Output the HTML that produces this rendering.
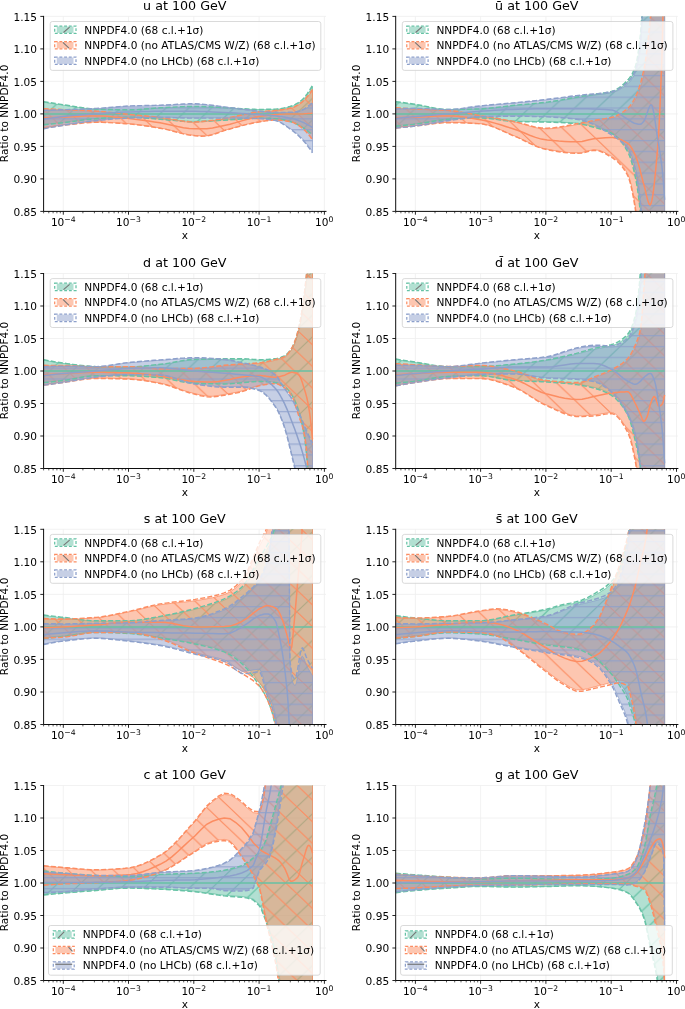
<!DOCTYPE html>
<html><head><meta charset="utf-8"><title>PDF ratios</title><style>html,body{margin:0;padding:0;background:#fff}svg{display:block}</style></head><body><div>
<svg width="685" height="1009" viewBox="0 0 685 1009" font-family="DejaVu Sans, Liberation Sans, sans-serif">
<defs>
<pattern id="h0" patternUnits="userSpaceOnUse" x="0" y="0" width="22.7" height="21.68"><path d="M-5,-53.76 L27.70,-85.00 M-5,-32.08 L27.70,-63.32 M-5,-10.40 L27.70,-41.64 M-5,11.28 L27.70,-19.96 M-5,32.96 L27.70,1.72 M-5,54.64 L27.70,23.40 M-5,76.32 L27.70,45.08" stroke="#66c2a5" stroke-width="1.12" fill="none" stroke-opacity="1"/></pattern>
<pattern id="h1" patternUnits="userSpaceOnUse" x="0" y="0" width="22.7" height="21.68"><path d="M-5,-66.82 L27.70,-35.58 M-5,-45.14 L27.70,-13.90 M-5,-23.46 L27.70,7.78 M-5,-1.78 L27.70,29.46 M-5,19.90 L27.70,51.14 M-5,41.58 L27.70,72.82 M-5,63.26 L27.70,94.50" stroke="#fc8d62" stroke-width="1.12" fill="none" stroke-opacity="1"/></pattern>
<pattern id="h2" patternUnits="userSpaceOnUse" x="0" y="0" width="22.7" height="21.68"><path d="M-1,10.54 L23.7,10.54 M-1,21.38 L23.7,21.38 M-1,-0.3 L23.7,-0.3" stroke="#8da0cb" stroke-width="1.12" fill="none" stroke-opacity="1"/></pattern>
<clipPath id="cp00"><rect x="43.6" y="16.4" width="282.4" height="195.0"/></clipPath>
<clipPath id="cp01"><rect x="395.7" y="16.4" width="282.2" height="195.0"/></clipPath>
<clipPath id="cp10"><rect x="43.6" y="273.5" width="282.4" height="195.0"/></clipPath>
<clipPath id="cp11"><rect x="395.7" y="273.5" width="282.2" height="195.0"/></clipPath>
<clipPath id="cp20"><rect x="43.6" y="529.3" width="282.4" height="195.20000000000005"/></clipPath>
<clipPath id="cp21"><rect x="395.7" y="529.3" width="282.2" height="195.20000000000005"/></clipPath>
<clipPath id="cp30"><rect x="43.6" y="785.5" width="282.4" height="195.0"/></clipPath>
<clipPath id="cp31"><rect x="395.7" y="785.5" width="282.2" height="195.0"/></clipPath>
</defs>
<rect width="685" height="1009" fill="#fff"/>
<line x1="63.3" y1="16.4" x2="63.3" y2="211.4" stroke="#efefef" stroke-width="0.8"/>
<line x1="128.5" y1="16.4" x2="128.5" y2="211.4" stroke="#efefef" stroke-width="0.8"/>
<line x1="193.8" y1="16.4" x2="193.8" y2="211.4" stroke="#efefef" stroke-width="0.8"/>
<line x1="259.1" y1="16.4" x2="259.1" y2="211.4" stroke="#efefef" stroke-width="0.8"/>
<line x1="324.4" y1="16.4" x2="324.4" y2="211.4" stroke="#efefef" stroke-width="0.8"/>
<line x1="43.6" y1="211.4" x2="326.0" y2="211.4" stroke="#efefef" stroke-width="0.8"/>
<line x1="43.6" y1="178.9" x2="326.0" y2="178.9" stroke="#efefef" stroke-width="0.8"/>
<line x1="43.6" y1="146.4" x2="326.0" y2="146.4" stroke="#efefef" stroke-width="0.8"/>
<line x1="43.6" y1="113.9" x2="326.0" y2="113.9" stroke="#efefef" stroke-width="0.8"/>
<line x1="43.6" y1="81.4" x2="326.0" y2="81.4" stroke="#efefef" stroke-width="0.8"/>
<line x1="43.6" y1="48.9" x2="326.0" y2="48.9" stroke="#efefef" stroke-width="0.8"/>
<line x1="43.6" y1="16.4" x2="326.0" y2="16.4" stroke="#efefef" stroke-width="0.8"/>
<g clip-path="url(#cp00)">
<path d="M43.7,102.2 L49.5,103.1 L55.3,104.0 L61.1,104.8 L67.0,105.7 L72.8,106.6 L78.6,107.5 L84.4,108.3 L90.3,109.0 L96.1,109.4 L101.9,109.5 L107.7,109.7 L113.5,109.8 L119.4,109.9 L125.2,110.0 L131.0,110.0 L136.8,109.8 L142.7,109.4 L148.5,108.9 L154.3,108.5 L160.1,108.1 L166.0,107.8 L171.8,107.5 L177.6,107.2 L183.4,107.0 L189.2,106.8 L195.1,106.8 L200.9,106.9 L206.7,107.1 L212.5,107.3 L218.4,107.6 L224.2,107.9 L230.0,108.2 L235.8,108.6 L241.7,108.9 L247.5,109.3 L253.3,109.5 L259.1,109.6 L260.0,109.6 L260.9,109.6 L261.8,109.6 L262.7,109.6 L263.6,109.6 L264.5,109.6 L265.5,109.6 L266.4,109.6 L267.3,109.5 L268.2,109.5 L269.1,109.5 L270.0,109.5 L270.9,109.5 L271.8,109.4 L272.7,109.4 L273.6,109.4 L274.5,109.4 L275.4,109.4 L276.3,109.3 L277.2,109.3 L278.1,109.2 L279.0,109.1 L279.9,109.0 L280.8,108.8 L281.7,108.7 L282.6,108.5 L283.5,108.4 L284.4,108.2 L285.3,108.0 L286.2,107.8 L287.2,107.6 L288.1,107.3 L289.0,107.1 L289.9,106.8 L290.8,106.6 L291.7,106.3 L292.6,106.0 L293.5,105.7 L294.4,105.3 L295.3,104.9 L296.2,104.4 L297.1,103.9 L298.0,103.4 L298.9,102.8 L299.8,102.2 L300.7,101.5 L301.6,100.9 L302.5,100.1 L303.4,99.3 L304.3,98.3 L305.2,97.3 L306.1,96.2 L307.0,95.0 L307.9,93.7 L308.8,92.4 L309.8,91.0 L310.7,89.6 L311.6,88.1 L312.5,86.6 L312.5,134.0 L311.6,133.3 L310.7,132.6 L309.8,131.8 L308.8,131.1 L307.9,130.4 L307.0,129.8 L306.1,129.1 L305.2,128.5 L304.3,127.9 L303.4,127.4 L302.5,126.8 L301.6,126.3 L300.7,125.8 L299.8,125.3 L298.9,124.8 L298.0,124.3 L297.1,123.9 L296.2,123.4 L295.3,123.0 L294.4,122.6 L293.5,122.3 L292.6,121.9 L291.7,121.7 L290.8,121.4 L289.9,121.2 L289.0,120.9 L288.1,120.7 L287.2,120.4 L286.2,120.2 L285.3,120.0 L284.4,119.7 L283.5,119.5 L282.6,119.4 L281.7,119.2 L280.8,119.0 L279.9,118.9 L279.0,118.8 L278.1,118.6 L277.2,118.6 L276.3,118.5 L275.4,118.4 L274.5,118.4 L273.6,118.4 L272.7,118.4 L271.8,118.3 L270.9,118.3 L270.0,118.3 L269.1,118.3 L268.2,118.2 L267.3,118.2 L266.4,118.2 L265.5,118.2 L264.5,118.2 L263.6,118.2 L262.7,118.1 L261.8,118.1 L260.9,118.1 L260.0,118.1 L259.1,118.1 L253.3,118.2 L247.5,118.5 L241.7,118.8 L235.8,119.2 L230.0,119.6 L224.2,119.9 L218.4,120.2 L212.5,120.6 L206.7,121.0 L200.9,121.2 L195.1,121.4 L189.2,121.3 L183.4,121.0 L177.6,120.5 L171.8,120.0 L166.0,119.5 L160.1,119.0 L154.3,118.6 L148.5,118.1 L142.7,117.7 L136.8,117.4 L131.0,117.2 L125.2,117.2 L119.4,117.3 L113.5,117.5 L107.7,117.8 L101.9,118.1 L96.1,118.4 L90.3,118.9 L84.4,119.6 L78.6,120.3 L72.8,121.1 L67.0,121.9 L61.1,122.6 L55.3,123.2 L49.5,123.8 L43.7,124.3 Z" fill="#66c2a5" fill-opacity="0.5" stroke="#66c2a5" stroke-opacity="0.85" stroke-width="0.9"/>
<path d="M43.7,102.2 L49.5,103.1 L55.3,104.0 L61.1,104.8 L67.0,105.7 L72.8,106.6 L78.6,107.5 L84.4,108.3 L90.3,109.0 L96.1,109.4 L101.9,109.5 L107.7,109.7 L113.5,109.8 L119.4,109.9 L125.2,110.0 L131.0,110.0 L136.8,109.8 L142.7,109.4 L148.5,108.9 L154.3,108.5 L160.1,108.1 L166.0,107.8 L171.8,107.5 L177.6,107.2 L183.4,107.0 L189.2,106.8 L195.1,106.8 L200.9,106.9 L206.7,107.1 L212.5,107.3 L218.4,107.6 L224.2,107.9 L230.0,108.2 L235.8,108.6 L241.7,108.9 L247.5,109.3 L253.3,109.5 L259.1,109.6 L260.0,109.6 L260.9,109.6 L261.8,109.6 L262.7,109.6 L263.6,109.6 L264.5,109.6 L265.5,109.6 L266.4,109.6 L267.3,109.5 L268.2,109.5 L269.1,109.5 L270.0,109.5 L270.9,109.5 L271.8,109.4 L272.7,109.4 L273.6,109.4 L274.5,109.4 L275.4,109.4 L276.3,109.3 L277.2,109.3 L278.1,109.2 L279.0,109.1 L279.9,109.0 L280.8,108.8 L281.7,108.7 L282.6,108.5 L283.5,108.4 L284.4,108.2 L285.3,108.0 L286.2,107.8 L287.2,107.6 L288.1,107.3 L289.0,107.1 L289.9,106.8 L290.8,106.6 L291.7,106.3 L292.6,106.0 L293.5,105.7 L294.4,105.3 L295.3,104.9 L296.2,104.4 L297.1,103.9 L298.0,103.4 L298.9,102.8 L299.8,102.2 L300.7,101.5 L301.6,100.9 L302.5,100.1 L303.4,99.3 L304.3,98.3 L305.2,97.3 L306.1,96.2 L307.0,95.0 L307.9,93.7 L308.8,92.4 L309.8,91.0 L310.7,89.6 L311.6,88.1 L312.5,86.6 L312.5,134.0 L311.6,133.3 L310.7,132.6 L309.8,131.8 L308.8,131.1 L307.9,130.4 L307.0,129.8 L306.1,129.1 L305.2,128.5 L304.3,127.9 L303.4,127.4 L302.5,126.8 L301.6,126.3 L300.7,125.8 L299.8,125.3 L298.9,124.8 L298.0,124.3 L297.1,123.9 L296.2,123.4 L295.3,123.0 L294.4,122.6 L293.5,122.3 L292.6,121.9 L291.7,121.7 L290.8,121.4 L289.9,121.2 L289.0,120.9 L288.1,120.7 L287.2,120.4 L286.2,120.2 L285.3,120.0 L284.4,119.7 L283.5,119.5 L282.6,119.4 L281.7,119.2 L280.8,119.0 L279.9,118.9 L279.0,118.8 L278.1,118.6 L277.2,118.6 L276.3,118.5 L275.4,118.4 L274.5,118.4 L273.6,118.4 L272.7,118.4 L271.8,118.3 L270.9,118.3 L270.0,118.3 L269.1,118.3 L268.2,118.2 L267.3,118.2 L266.4,118.2 L265.5,118.2 L264.5,118.2 L263.6,118.2 L262.7,118.1 L261.8,118.1 L260.9,118.1 L260.0,118.1 L259.1,118.1 L253.3,118.2 L247.5,118.5 L241.7,118.8 L235.8,119.2 L230.0,119.6 L224.2,119.9 L218.4,120.2 L212.5,120.6 L206.7,121.0 L200.9,121.2 L195.1,121.4 L189.2,121.3 L183.4,121.0 L177.6,120.5 L171.8,120.0 L166.0,119.5 L160.1,119.0 L154.3,118.6 L148.5,118.1 L142.7,117.7 L136.8,117.4 L131.0,117.2 L125.2,117.2 L119.4,117.3 L113.5,117.5 L107.7,117.8 L101.9,118.1 L96.1,118.4 L90.3,118.9 L84.4,119.6 L78.6,120.3 L72.8,121.1 L67.0,121.9 L61.1,122.6 L55.3,123.2 L49.5,123.8 L43.7,124.3 Z" fill="url(#h0)" stroke="none"/>
<path d="M43.7,109.0 L49.5,109.3 L55.3,109.6 L61.1,109.9 L67.0,110.2 L72.8,110.4 L78.6,110.6 L84.4,110.8 L90.3,111.0 L96.1,111.3 L101.9,111.7 L107.7,112.3 L113.5,112.9 L119.4,113.6 L125.2,114.2 L131.0,114.8 L136.8,115.3 L142.7,115.9 L148.5,116.5 L154.3,117.0 L160.1,117.7 L166.0,118.5 L171.8,119.5 L177.6,120.6 L183.4,121.5 L189.2,122.2 L195.1,122.3 L200.9,121.9 L206.7,121.4 L212.5,120.7 L218.4,119.8 L224.2,118.8 L230.0,117.8 L235.8,116.6 L241.7,115.2 L247.5,113.9 L253.3,112.8 L259.1,112.0 L260.0,111.9 L260.9,111.8 L261.8,111.7 L262.7,111.6 L263.6,111.5 L264.5,111.5 L265.5,111.4 L266.4,111.4 L267.3,111.3 L268.2,111.2 L269.1,111.2 L270.0,111.1 L270.9,111.1 L271.8,111.0 L272.7,110.9 L273.6,110.8 L274.5,110.7 L275.4,110.7 L276.3,110.6 L277.2,110.5 L278.1,110.4 L279.0,110.3 L279.9,110.1 L280.8,110.0 L281.7,109.9 L282.6,109.8 L283.5,109.7 L284.4,109.5 L285.3,109.4 L286.2,109.2 L287.2,109.1 L288.1,108.9 L289.0,108.7 L289.9,108.5 L290.8,108.3 L291.7,108.1 L292.6,107.8 L293.5,107.5 L294.4,107.1 L295.3,106.7 L296.2,106.3 L297.1,105.8 L298.0,105.2 L298.9,104.7 L299.8,104.1 L300.7,103.5 L301.6,102.8 L302.5,102.1 L303.4,101.4 L304.3,100.5 L305.2,99.6 L306.1,98.7 L307.0,97.6 L307.9,96.6 L308.8,95.4 L309.8,94.3 L310.7,93.1 L311.6,91.8 L312.5,90.5 L312.5,138.6 L311.6,137.4 L310.7,136.2 L309.8,135.1 L308.8,134.0 L307.9,132.9 L307.0,131.9 L306.1,130.9 L305.2,130.0 L304.3,129.2 L303.4,128.4 L302.5,127.6 L301.6,126.9 L300.7,126.3 L299.8,125.7 L298.9,125.1 L298.0,124.5 L297.1,123.9 L296.2,123.4 L295.3,123.0 L294.4,122.5 L293.5,122.2 L292.6,121.9 L291.7,121.7 L290.8,121.5 L289.9,121.3 L289.0,121.2 L288.1,121.0 L287.2,120.8 L286.2,120.7 L285.3,120.5 L284.4,120.4 L283.5,120.3 L282.6,120.2 L281.7,120.1 L280.8,120.0 L279.9,119.9 L279.0,119.9 L278.1,119.8 L277.2,119.8 L276.3,119.8 L275.4,119.8 L274.5,119.8 L273.6,119.8 L272.7,119.8 L271.8,119.9 L270.9,120.0 L270.0,120.1 L269.1,120.2 L268.2,120.3 L267.3,120.4 L266.4,120.5 L265.5,120.7 L264.5,120.8 L263.6,121.0 L262.7,121.1 L261.8,121.3 L260.9,121.4 L260.0,121.6 L259.1,121.7 L253.3,122.8 L247.5,124.1 L241.7,125.6 L235.8,127.2 L230.0,128.8 L224.2,130.4 L218.4,132.4 L212.5,134.4 L206.7,135.8 L200.9,135.9 L195.1,135.5 L189.2,134.7 L183.4,133.6 L177.6,132.1 L171.8,130.6 L166.0,129.1 L160.1,128.0 L154.3,127.0 L148.5,126.1 L142.7,125.2 L136.8,124.5 L131.0,123.8 L125.2,123.4 L119.4,123.0 L113.5,122.6 L107.7,122.3 L101.9,122.1 L96.1,122.0 L90.3,122.2 L84.4,122.6 L78.6,123.1 L72.8,123.8 L67.0,124.5 L61.1,125.2 L55.3,125.9 L49.5,126.7 L43.7,127.5 Z" fill="#fc8d62" fill-opacity="0.5" stroke="#fc8d62" stroke-opacity="0.85" stroke-width="0.9"/>
<path d="M43.7,109.0 L49.5,109.3 L55.3,109.6 L61.1,109.9 L67.0,110.2 L72.8,110.4 L78.6,110.6 L84.4,110.8 L90.3,111.0 L96.1,111.3 L101.9,111.7 L107.7,112.3 L113.5,112.9 L119.4,113.6 L125.2,114.2 L131.0,114.8 L136.8,115.3 L142.7,115.9 L148.5,116.5 L154.3,117.0 L160.1,117.7 L166.0,118.5 L171.8,119.5 L177.6,120.6 L183.4,121.5 L189.2,122.2 L195.1,122.3 L200.9,121.9 L206.7,121.4 L212.5,120.7 L218.4,119.8 L224.2,118.8 L230.0,117.8 L235.8,116.6 L241.7,115.2 L247.5,113.9 L253.3,112.8 L259.1,112.0 L260.0,111.9 L260.9,111.8 L261.8,111.7 L262.7,111.6 L263.6,111.5 L264.5,111.5 L265.5,111.4 L266.4,111.4 L267.3,111.3 L268.2,111.2 L269.1,111.2 L270.0,111.1 L270.9,111.1 L271.8,111.0 L272.7,110.9 L273.6,110.8 L274.5,110.7 L275.4,110.7 L276.3,110.6 L277.2,110.5 L278.1,110.4 L279.0,110.3 L279.9,110.1 L280.8,110.0 L281.7,109.9 L282.6,109.8 L283.5,109.7 L284.4,109.5 L285.3,109.4 L286.2,109.2 L287.2,109.1 L288.1,108.9 L289.0,108.7 L289.9,108.5 L290.8,108.3 L291.7,108.1 L292.6,107.8 L293.5,107.5 L294.4,107.1 L295.3,106.7 L296.2,106.3 L297.1,105.8 L298.0,105.2 L298.9,104.7 L299.8,104.1 L300.7,103.5 L301.6,102.8 L302.5,102.1 L303.4,101.4 L304.3,100.5 L305.2,99.6 L306.1,98.7 L307.0,97.6 L307.9,96.6 L308.8,95.4 L309.8,94.3 L310.7,93.1 L311.6,91.8 L312.5,90.5 L312.5,138.6 L311.6,137.4 L310.7,136.2 L309.8,135.1 L308.8,134.0 L307.9,132.9 L307.0,131.9 L306.1,130.9 L305.2,130.0 L304.3,129.2 L303.4,128.4 L302.5,127.6 L301.6,126.9 L300.7,126.3 L299.8,125.7 L298.9,125.1 L298.0,124.5 L297.1,123.9 L296.2,123.4 L295.3,123.0 L294.4,122.5 L293.5,122.2 L292.6,121.9 L291.7,121.7 L290.8,121.5 L289.9,121.3 L289.0,121.2 L288.1,121.0 L287.2,120.8 L286.2,120.7 L285.3,120.5 L284.4,120.4 L283.5,120.3 L282.6,120.2 L281.7,120.1 L280.8,120.0 L279.9,119.9 L279.0,119.9 L278.1,119.8 L277.2,119.8 L276.3,119.8 L275.4,119.8 L274.5,119.8 L273.6,119.8 L272.7,119.8 L271.8,119.9 L270.9,120.0 L270.0,120.1 L269.1,120.2 L268.2,120.3 L267.3,120.4 L266.4,120.5 L265.5,120.7 L264.5,120.8 L263.6,121.0 L262.7,121.1 L261.8,121.3 L260.9,121.4 L260.0,121.6 L259.1,121.7 L253.3,122.8 L247.5,124.1 L241.7,125.6 L235.8,127.2 L230.0,128.8 L224.2,130.4 L218.4,132.4 L212.5,134.4 L206.7,135.8 L200.9,135.9 L195.1,135.5 L189.2,134.7 L183.4,133.6 L177.6,132.1 L171.8,130.6 L166.0,129.1 L160.1,128.0 L154.3,127.0 L148.5,126.1 L142.7,125.2 L136.8,124.5 L131.0,123.8 L125.2,123.4 L119.4,123.0 L113.5,122.6 L107.7,122.3 L101.9,122.1 L96.1,122.0 L90.3,122.2 L84.4,122.6 L78.6,123.1 L72.8,123.8 L67.0,124.5 L61.1,125.2 L55.3,125.9 L49.5,126.7 L43.7,127.5 Z" fill="url(#h1)" stroke="none"/>
<path d="M43.7,110.7 L49.5,110.5 L55.3,110.3 L61.1,110.1 L67.0,109.9 L72.8,109.7 L78.6,109.5 L84.4,109.2 L90.3,109.0 L96.1,108.7 L101.9,108.3 L107.7,107.8 L113.5,107.3 L119.4,106.8 L125.2,106.5 L131.0,106.2 L136.8,106.0 L142.7,105.9 L148.5,105.8 L154.3,105.6 L160.1,105.5 L166.0,105.3 L171.8,105.0 L177.6,104.7 L183.4,104.4 L189.2,104.2 L195.1,104.2 L200.9,104.4 L206.7,104.9 L212.5,105.6 L218.4,106.4 L224.2,107.1 L230.0,107.8 L235.8,108.5 L241.7,109.3 L247.5,110.0 L253.3,110.7 L259.1,111.3 L260.0,111.4 L260.9,111.5 L261.8,111.6 L262.7,111.7 L263.6,111.8 L264.5,111.9 L265.5,112.0 L266.4,112.0 L267.3,112.1 L268.2,112.2 L269.1,112.3 L270.0,112.4 L270.9,112.4 L271.8,112.5 L272.7,112.5 L273.6,112.6 L274.5,112.6 L275.4,112.6 L276.3,112.6 L277.2,112.6 L278.1,112.6 L279.0,112.6 L279.9,112.6 L280.8,112.6 L281.7,112.6 L282.6,112.6 L283.5,112.6 L284.4,112.6 L285.3,112.6 L286.2,112.6 L287.2,112.6 L288.1,112.6 L289.0,112.6 L289.9,112.6 L290.8,112.6 L291.7,112.6 L292.6,112.6 L293.5,112.5 L294.4,112.4 L295.3,112.3 L296.2,112.1 L297.1,111.9 L298.0,111.7 L298.9,111.4 L299.8,111.2 L300.7,110.9 L301.6,110.6 L302.5,110.3 L303.4,109.9 L304.3,109.5 L305.2,109.0 L306.1,108.5 L307.0,107.9 L307.9,107.2 L308.8,106.5 L309.8,105.8 L310.7,105.1 L311.6,104.3 L312.5,103.5 L312.5,151.6 L311.6,150.3 L310.7,149.0 L309.8,147.7 L308.8,146.5 L307.9,145.3 L307.0,144.2 L306.1,143.1 L305.2,142.0 L304.3,140.9 L303.4,139.9 L302.5,138.9 L301.6,138.0 L300.7,137.1 L299.8,136.2 L298.9,135.4 L298.0,134.6 L297.1,133.8 L296.2,133.0 L295.3,132.3 L294.4,131.6 L293.5,130.9 L292.6,130.3 L291.7,129.6 L290.8,129.0 L289.9,128.4 L289.0,127.7 L288.1,127.1 L287.2,126.4 L286.2,125.8 L285.3,125.2 L284.4,124.6 L283.5,124.0 L282.6,123.4 L281.7,122.9 L280.8,122.4 L279.9,122.0 L279.0,121.5 L278.1,121.2 L277.2,120.9 L276.3,120.6 L275.4,120.4 L274.5,120.2 L273.6,120.0 L272.7,119.9 L271.8,119.7 L270.9,119.6 L270.0,119.5 L269.1,119.3 L268.2,119.2 L267.3,119.1 L266.4,119.0 L265.5,118.9 L264.5,118.8 L263.6,118.7 L262.7,118.7 L261.8,118.6 L260.9,118.5 L260.0,118.5 L259.1,118.4 L253.3,118.2 L247.5,118.1 L241.7,118.0 L235.8,117.9 L230.0,117.8 L224.2,117.8 L218.4,117.8 L212.5,117.8 L206.7,117.8 L200.9,117.8 L195.1,117.8 L189.2,117.8 L183.4,117.6 L177.6,117.5 L171.8,117.3 L166.0,117.2 L160.1,117.2 L154.3,117.2 L148.5,117.3 L142.7,117.4 L136.8,117.5 L131.0,117.7 L125.2,117.9 L119.4,118.3 L113.5,118.7 L107.7,119.2 L101.9,119.8 L96.1,120.4 L90.3,121.0 L84.4,121.8 L78.6,122.6 L72.8,123.5 L67.0,124.4 L61.1,125.3 L55.3,126.2 L49.5,127.2 L43.7,128.2 Z" fill="#8da0cb" fill-opacity="0.5" stroke="#8da0cb" stroke-opacity="0.85" stroke-width="0.9"/>
<path d="M43.7,110.7 L49.5,110.5 L55.3,110.3 L61.1,110.1 L67.0,109.9 L72.8,109.7 L78.6,109.5 L84.4,109.2 L90.3,109.0 L96.1,108.7 L101.9,108.3 L107.7,107.8 L113.5,107.3 L119.4,106.8 L125.2,106.5 L131.0,106.2 L136.8,106.0 L142.7,105.9 L148.5,105.8 L154.3,105.6 L160.1,105.5 L166.0,105.3 L171.8,105.0 L177.6,104.7 L183.4,104.4 L189.2,104.2 L195.1,104.2 L200.9,104.4 L206.7,104.9 L212.5,105.6 L218.4,106.4 L224.2,107.1 L230.0,107.8 L235.8,108.5 L241.7,109.3 L247.5,110.0 L253.3,110.7 L259.1,111.3 L260.0,111.4 L260.9,111.5 L261.8,111.6 L262.7,111.7 L263.6,111.8 L264.5,111.9 L265.5,112.0 L266.4,112.0 L267.3,112.1 L268.2,112.2 L269.1,112.3 L270.0,112.4 L270.9,112.4 L271.8,112.5 L272.7,112.5 L273.6,112.6 L274.5,112.6 L275.4,112.6 L276.3,112.6 L277.2,112.6 L278.1,112.6 L279.0,112.6 L279.9,112.6 L280.8,112.6 L281.7,112.6 L282.6,112.6 L283.5,112.6 L284.4,112.6 L285.3,112.6 L286.2,112.6 L287.2,112.6 L288.1,112.6 L289.0,112.6 L289.9,112.6 L290.8,112.6 L291.7,112.6 L292.6,112.6 L293.5,112.5 L294.4,112.4 L295.3,112.3 L296.2,112.1 L297.1,111.9 L298.0,111.7 L298.9,111.4 L299.8,111.2 L300.7,110.9 L301.6,110.6 L302.5,110.3 L303.4,109.9 L304.3,109.5 L305.2,109.0 L306.1,108.5 L307.0,107.9 L307.9,107.2 L308.8,106.5 L309.8,105.8 L310.7,105.1 L311.6,104.3 L312.5,103.5 L312.5,151.6 L311.6,150.3 L310.7,149.0 L309.8,147.7 L308.8,146.5 L307.9,145.3 L307.0,144.2 L306.1,143.1 L305.2,142.0 L304.3,140.9 L303.4,139.9 L302.5,138.9 L301.6,138.0 L300.7,137.1 L299.8,136.2 L298.9,135.4 L298.0,134.6 L297.1,133.8 L296.2,133.0 L295.3,132.3 L294.4,131.6 L293.5,130.9 L292.6,130.3 L291.7,129.6 L290.8,129.0 L289.9,128.4 L289.0,127.7 L288.1,127.1 L287.2,126.4 L286.2,125.8 L285.3,125.2 L284.4,124.6 L283.5,124.0 L282.6,123.4 L281.7,122.9 L280.8,122.4 L279.9,122.0 L279.0,121.5 L278.1,121.2 L277.2,120.9 L276.3,120.6 L275.4,120.4 L274.5,120.2 L273.6,120.0 L272.7,119.9 L271.8,119.7 L270.9,119.6 L270.0,119.5 L269.1,119.3 L268.2,119.2 L267.3,119.1 L266.4,119.0 L265.5,118.9 L264.5,118.8 L263.6,118.7 L262.7,118.7 L261.8,118.6 L260.9,118.5 L260.0,118.5 L259.1,118.4 L253.3,118.2 L247.5,118.1 L241.7,118.0 L235.8,117.9 L230.0,117.8 L224.2,117.8 L218.4,117.8 L212.5,117.8 L206.7,117.8 L200.9,117.8 L195.1,117.8 L189.2,117.8 L183.4,117.6 L177.6,117.5 L171.8,117.3 L166.0,117.2 L160.1,117.2 L154.3,117.2 L148.5,117.3 L142.7,117.4 L136.8,117.5 L131.0,117.7 L125.2,117.9 L119.4,118.3 L113.5,118.7 L107.7,119.2 L101.9,119.8 L96.1,120.4 L90.3,121.0 L84.4,121.8 L78.6,122.6 L72.8,123.5 L67.0,124.4 L61.1,125.3 L55.3,126.2 L49.5,127.2 L43.7,128.2 Z" fill="url(#h2)" stroke="none"/>
<path d="M43.7,113.9 L49.5,113.9 L55.3,113.9 L61.1,113.9 L67.0,113.9 L72.8,113.9 L78.6,113.9 L84.4,113.9 L90.3,113.9 L96.1,113.9 L101.9,113.9 L107.7,113.9 L113.5,113.9 L119.4,113.9 L125.2,113.9 L131.0,113.9 L136.8,113.9 L142.7,113.9 L148.5,113.9 L154.3,113.9 L160.1,113.9 L166.0,113.9 L171.8,113.9 L177.6,113.9 L183.4,113.9 L189.2,113.9 L195.1,113.9 L200.9,113.9 L206.7,113.9 L212.5,113.9 L218.4,113.9 L224.2,113.9 L230.0,113.9 L235.8,113.9 L241.7,113.9 L247.5,113.9 L253.3,113.9 L259.1,113.9 L260.0,113.9 L260.9,113.9 L261.8,113.9 L262.7,113.9 L263.6,113.9 L264.5,113.9 L265.5,113.9 L266.4,113.9 L267.3,113.9 L268.2,113.9 L269.1,113.9 L270.0,113.9 L270.9,113.9 L271.8,113.9 L272.7,113.9 L273.6,113.9 L274.5,113.9 L275.4,113.9 L276.3,113.9 L277.2,113.9 L278.1,113.9 L279.0,113.9 L279.9,113.9 L280.8,113.9 L281.7,113.9 L282.6,113.9 L283.5,113.9 L284.4,113.9 L285.3,113.9 L286.2,113.9 L287.2,113.9 L288.1,113.9 L289.0,113.9 L289.9,113.9 L290.8,113.9 L291.7,113.9 L292.6,113.9 L293.5,113.9 L294.4,113.9 L295.3,113.9 L296.2,113.9 L297.1,113.9 L298.0,113.9 L298.9,113.9 L299.8,113.9 L300.7,113.9 L301.6,113.9 L302.5,113.9 L303.4,113.9 L304.3,113.9 L305.2,113.9 L306.1,113.9 L307.0,113.9 L307.9,113.9 L308.8,113.9 L309.8,113.9 L310.7,113.9 L311.6,113.9 L312.5,113.9" fill="none" stroke="#66c2a5" stroke-width="1.5"/>
<path d="M43.7,101.6 L49.5,102.6 L55.3,103.5 L61.1,104.4 L67.0,105.3 L72.8,106.2 L78.6,107.2 L84.4,108.1 L90.3,108.7 L96.1,109.1 L101.9,109.3 L107.7,109.5 L113.5,109.6 L119.4,109.7 L125.2,109.8 L131.0,109.8 L136.8,109.6 L142.7,109.2 L148.5,108.7 L154.3,108.2 L160.1,107.8 L166.0,107.5 L171.8,107.2 L177.6,106.9 L183.4,106.6 L189.2,106.4 L195.1,106.4 L200.9,106.5 L206.7,106.7 L212.5,107.0 L218.4,107.3 L224.2,107.6 L230.0,107.9 L235.8,108.3 L241.7,108.7 L247.5,109.0 L253.3,109.3 L259.1,109.4 L260.0,109.4 L260.9,109.4 L261.8,109.4 L262.7,109.4 L263.6,109.4 L264.5,109.4 L265.5,109.4 L266.4,109.3 L267.3,109.3 L268.2,109.3 L269.1,109.3 L270.0,109.3 L270.9,109.2 L271.8,109.2 L272.7,109.2 L273.6,109.2 L274.5,109.2 L275.4,109.1 L276.3,109.1 L277.2,109.0 L278.1,108.9 L279.0,108.8 L279.9,108.7 L280.8,108.6 L281.7,108.4 L282.6,108.3 L283.5,108.1 L284.4,107.9 L285.3,107.7 L286.2,107.5 L287.2,107.2 L288.1,107.0 L289.0,106.7 L289.9,106.5 L290.8,106.2 L291.7,105.9 L292.6,105.6 L293.5,105.3 L294.4,104.9 L295.3,104.5 L296.2,104.0 L297.1,103.4 L298.0,102.9 L298.9,102.3 L299.8,101.6 L300.7,100.9 L301.6,100.2 L302.5,99.4 L303.4,98.5 L304.3,97.5 L305.2,96.5 L306.1,95.3 L307.0,94.1 L307.9,92.7 L308.8,91.4 L309.8,89.9 L310.7,88.4 L311.6,86.8 L312.5,85.2" fill="none" stroke="#66c2a5" stroke-width="1.45" stroke-dasharray="5 2.2"/>
<path d="M43.7,124.8 L49.5,124.2 L55.3,123.6 L61.1,123.0 L67.0,122.3 L72.8,121.5 L78.6,120.7 L84.4,119.8 L90.3,119.2 L96.1,118.7 L101.9,118.3 L107.7,118.0 L113.5,117.7 L119.4,117.5 L125.2,117.3 L131.0,117.3 L136.8,117.5 L142.7,117.9 L148.5,118.4 L154.3,118.8 L160.1,119.3 L166.0,119.7 L171.8,120.3 L177.6,120.8 L183.4,121.3 L189.2,121.7 L195.1,121.7 L200.9,121.6 L206.7,121.3 L212.5,120.9 L218.4,120.5 L224.2,120.2 L230.0,119.8 L235.8,119.5 L241.7,119.1 L247.5,118.7 L253.3,118.4 L259.1,118.3 L260.0,118.3 L260.9,118.3 L261.8,118.3 L262.7,118.4 L263.6,118.4 L264.5,118.4 L265.5,118.4 L266.4,118.4 L267.3,118.4 L268.2,118.4 L269.1,118.5 L270.0,118.5 L270.9,118.5 L271.8,118.5 L272.7,118.6 L273.6,118.6 L274.5,118.6 L275.4,118.7 L276.3,118.7 L277.2,118.8 L278.1,118.9 L279.0,119.0 L279.9,119.1 L280.8,119.3 L281.7,119.4 L282.6,119.6 L283.5,119.8 L284.4,120.0 L285.3,120.3 L286.2,120.5 L287.2,120.7 L288.1,121.0 L289.0,121.3 L289.9,121.5 L290.8,121.8 L291.7,122.1 L292.6,122.4 L293.5,122.7 L294.4,123.1 L295.3,123.5 L296.2,123.9 L297.1,124.3 L298.0,124.8 L298.9,125.3 L299.8,125.8 L300.7,126.4 L301.6,126.9 L302.5,127.4 L303.4,128.0 L304.3,128.6 L305.2,129.2 L306.1,129.9 L307.0,130.6 L307.9,131.3 L308.8,132.0 L309.8,132.7 L310.7,133.5 L311.6,134.3 L312.5,135.1" fill="none" stroke="#66c2a5" stroke-width="1.45" stroke-dasharray="5 2.2"/>
<path d="M43.7,117.8 L49.5,117.6 L55.3,117.4 L61.1,117.2 L67.0,117.0 L72.8,116.7 L78.6,116.4 L84.4,116.1 L90.3,115.9 L96.1,115.9 L101.9,116.0 L107.7,116.3 L113.5,116.9 L119.4,117.5 L125.2,118.1 L131.0,118.7 L136.8,119.4 L142.7,120.2 L148.5,121.0 L154.3,121.9 L160.1,122.8 L166.0,123.9 L171.8,125.2 L177.6,126.6 L183.4,127.8 L189.2,128.6 L195.1,128.8 L200.9,128.8 L206.7,128.7 L212.5,128.0 L218.4,126.8 L224.2,125.4 L230.0,124.2 L235.8,122.6 L241.7,120.9 L247.5,119.2 L253.3,117.7 L259.1,116.5 L260.0,116.4 L260.9,116.2 L261.8,116.1 L262.7,115.9 L263.6,115.8 L264.5,115.7 L265.5,115.6 L266.4,115.4 L267.3,115.3 L268.2,115.2 L269.1,115.1 L270.0,115.0 L270.9,114.9 L271.8,114.8 L272.7,114.8 L273.6,114.7 L274.5,114.6 L275.4,114.6 L276.3,114.5 L277.2,114.4 L278.1,114.4 L279.0,114.3 L279.9,114.3 L280.8,114.2 L281.7,114.2 L282.6,114.1 L283.5,114.1 L284.4,114.1 L285.3,114.0 L286.2,114.0 L287.2,114.0 L288.1,113.9 L289.0,113.9 L289.9,113.9 L290.8,113.9 L291.7,113.9 L292.6,113.9 L293.5,113.9 L294.4,113.9 L295.3,113.9 L296.2,113.9 L297.1,113.9 L298.0,113.9 L298.9,113.9 L299.8,113.9 L300.7,113.9 L301.6,113.9 L302.5,113.9 L303.4,113.9 L304.3,113.8 L305.2,113.8 L306.1,113.8 L307.0,113.7 L307.9,113.6 L308.8,113.6 L309.8,113.5 L310.7,113.4 L311.6,113.3 L312.5,113.3" fill="none" stroke="#fc8d62" stroke-width="1.5"/>
<path d="M43.7,108.6 L49.5,108.9 L55.3,109.2 L61.1,109.5 L67.0,109.8 L72.8,110.1 L78.6,110.3 L84.4,110.5 L90.3,110.8 L96.1,111.1 L101.9,111.5 L107.7,112.1 L113.5,112.7 L119.4,113.4 L125.2,114.0 L131.0,114.6 L136.8,115.1 L142.7,115.7 L148.5,116.2 L154.3,116.8 L160.1,117.4 L166.0,118.2 L171.8,119.2 L177.6,120.3 L183.4,121.2 L189.2,121.8 L195.1,122.0 L200.9,121.6 L206.7,121.0 L212.5,120.3 L218.4,119.4 L224.2,118.5 L230.0,117.5 L235.8,116.3 L241.7,115.0 L247.5,113.7 L253.3,112.5 L259.1,111.7 L260.0,111.6 L260.9,111.5 L261.8,111.5 L262.7,111.4 L263.6,111.3 L264.5,111.3 L265.5,111.2 L266.4,111.2 L267.3,111.1 L268.2,111.0 L269.1,111.0 L270.0,110.9 L270.9,110.9 L271.8,110.8 L272.7,110.7 L273.6,110.6 L274.5,110.6 L275.4,110.5 L276.3,110.4 L277.2,110.3 L278.1,110.2 L279.0,110.1 L279.9,109.9 L280.8,109.8 L281.7,109.7 L282.6,109.6 L283.5,109.4 L284.4,109.3 L285.3,109.2 L286.2,109.0 L287.2,108.8 L288.1,108.6 L289.0,108.4 L289.9,108.2 L290.8,108.0 L291.7,107.8 L292.6,107.5 L293.5,107.2 L294.4,106.8 L295.3,106.4 L296.2,105.9 L297.1,105.4 L298.0,104.8 L298.9,104.2 L299.8,103.6 L300.7,102.9 L301.6,102.3 L302.5,101.5 L303.4,100.7 L304.3,99.9 L305.2,98.9 L306.1,97.9 L307.0,96.8 L307.9,95.7 L308.8,94.5 L309.8,93.3 L310.7,92.0 L311.6,90.7 L312.5,89.4" fill="none" stroke="#fc8d62" stroke-width="1.45" stroke-dasharray="5 2.2"/>
<path d="M43.7,128.0 L49.5,127.2 L55.3,126.3 L61.1,125.6 L67.0,124.9 L72.8,124.2 L78.6,123.5 L84.4,122.9 L90.3,122.5 L96.1,122.3 L101.9,122.4 L107.7,122.6 L113.5,122.9 L119.4,123.3 L125.2,123.7 L131.0,124.1 L136.8,124.7 L142.7,125.5 L148.5,126.3 L154.3,127.3 L160.1,128.3 L166.0,129.4 L171.8,130.8 L177.6,132.4 L183.4,133.9 L189.2,135.1 L195.1,135.8 L200.9,136.3 L206.7,136.1 L212.5,134.7 L218.4,132.7 L224.2,130.6 L230.0,129.0 L235.8,127.4 L241.7,125.8 L247.5,124.3 L253.3,123.0 L259.1,122.0 L260.0,121.8 L260.9,121.7 L261.8,121.5 L262.7,121.4 L263.6,121.2 L264.5,121.1 L265.5,120.9 L266.4,120.8 L267.3,120.7 L268.2,120.5 L269.1,120.4 L270.0,120.3 L270.9,120.2 L271.8,120.2 L272.7,120.1 L273.6,120.0 L274.5,120.0 L275.4,120.0 L276.3,120.0 L277.2,120.0 L278.1,120.1 L279.0,120.1 L279.9,120.2 L280.8,120.3 L281.7,120.4 L282.6,120.5 L283.5,120.6 L284.4,120.7 L285.3,120.9 L286.2,121.0 L287.2,121.2 L288.1,121.3 L289.0,121.5 L289.9,121.7 L290.8,121.9 L291.7,122.1 L292.6,122.3 L293.5,122.6 L294.4,123.0 L295.3,123.4 L296.2,123.9 L297.1,124.4 L298.0,125.0 L298.9,125.6 L299.8,126.3 L300.7,126.9 L301.6,127.6 L302.5,128.3 L303.4,129.1 L304.3,129.9 L305.2,130.8 L306.1,131.8 L307.0,132.8 L307.9,133.9 L308.8,135.0 L309.8,136.1 L310.7,137.3 L311.6,138.6 L312.5,139.9" fill="none" stroke="#fc8d62" stroke-width="1.45" stroke-dasharray="5 2.2"/>
<path d="M43.7,119.1 L49.5,118.2 L55.3,117.4 L61.1,116.7 L67.0,116.1 L72.8,115.6 L78.6,115.1 L84.4,114.7 L90.3,114.3 L96.1,113.9 L101.9,113.5 L107.7,113.1 L113.5,112.7 L119.4,112.3 L125.2,112.1 L131.0,111.9 L136.8,111.7 L142.7,111.6 L148.5,111.4 L154.3,111.3 L160.1,111.3 L166.0,111.3 L171.8,111.3 L177.6,111.3 L183.4,111.3 L189.2,111.3 L195.1,111.3 L200.9,111.4 L206.7,111.6 L212.5,111.9 L218.4,112.2 L224.2,112.5 L230.0,112.8 L235.8,113.1 L241.7,113.4 L247.5,113.8 L253.3,114.2 L259.1,114.5 L260.0,114.6 L260.9,114.7 L261.8,114.7 L262.7,114.8 L263.6,114.9 L264.5,114.9 L265.5,115.0 L266.4,115.1 L267.3,115.1 L268.2,115.2 L269.1,115.3 L270.0,115.3 L270.9,115.4 L271.8,115.5 L272.7,115.6 L273.6,115.7 L274.5,115.8 L275.4,115.8 L276.3,115.9 L277.2,116.0 L278.1,116.2 L279.0,116.3 L279.9,116.4 L280.8,116.5 L281.7,116.6 L282.6,116.8 L283.5,116.9 L284.4,117.0 L285.3,117.2 L286.2,117.4 L287.2,117.5 L288.1,117.7 L289.0,117.9 L289.9,118.0 L290.8,118.2 L291.7,118.4 L292.6,118.6 L293.5,118.9 L294.4,119.1 L295.3,119.4 L296.2,119.7 L297.1,120.0 L298.0,120.3 L298.9,120.7 L299.8,121.0 L300.7,121.4 L301.6,121.7 L302.5,122.1 L303.4,122.5 L304.3,122.9 L305.2,123.4 L306.1,123.8 L307.0,124.3 L307.9,124.8 L308.8,125.3 L309.8,125.9 L310.7,126.4 L311.6,127.0 L312.5,127.5" fill="none" stroke="#8da0cb" stroke-width="1.5"/>
<path d="M43.7,110.2 L49.5,110.1 L55.3,109.9 L61.1,109.7 L67.0,109.6 L72.8,109.4 L78.6,109.2 L84.4,109.0 L90.3,108.7 L96.1,108.4 L101.9,108.1 L107.7,107.6 L113.5,107.1 L119.4,106.6 L125.2,106.2 L131.0,105.9 L136.8,105.7 L142.7,105.6 L148.5,105.5 L154.3,105.4 L160.1,105.2 L166.0,105.0 L171.8,104.7 L177.6,104.3 L183.4,104.0 L189.2,103.8 L195.1,103.8 L200.9,104.1 L206.7,104.6 L212.5,105.3 L218.4,106.1 L224.2,106.9 L230.0,107.6 L235.8,108.3 L241.7,109.1 L247.5,109.8 L253.3,110.5 L259.1,111.1 L260.0,111.2 L260.9,111.3 L261.8,111.4 L262.7,111.5 L263.6,111.6 L264.5,111.7 L265.5,111.8 L266.4,111.9 L267.3,112.0 L268.2,112.1 L269.1,112.2 L270.0,112.2 L270.9,112.3 L271.8,112.3 L272.7,112.4 L273.6,112.4 L274.5,112.4 L275.4,112.4 L276.3,112.4 L277.2,112.4 L278.1,112.4 L279.0,112.4 L279.9,112.4 L280.8,112.4 L281.7,112.4 L282.6,112.4 L283.5,112.4 L284.4,112.4 L285.3,112.4 L286.2,112.4 L287.2,112.4 L288.1,112.3 L289.0,112.3 L289.9,112.3 L290.8,112.3 L291.7,112.3 L292.6,112.3 L293.5,112.2 L294.4,112.1 L295.3,111.9 L296.2,111.7 L297.1,111.5 L298.0,111.2 L298.9,111.0 L299.8,110.7 L300.7,110.4 L301.6,110.1 L302.5,109.7 L303.4,109.3 L304.3,108.8 L305.2,108.3 L306.1,107.7 L307.0,107.0 L307.9,106.3 L308.8,105.6 L309.8,104.8 L310.7,104.0 L311.6,103.2 L312.5,102.3" fill="none" stroke="#8da0cb" stroke-width="1.45" stroke-dasharray="5 2.2"/>
<path d="M43.7,128.7 L49.5,127.6 L55.3,126.7 L61.1,125.7 L67.0,124.8 L72.8,123.9 L78.6,123.0 L84.4,122.1 L90.3,121.4 L96.1,120.7 L101.9,120.1 L107.7,119.5 L113.5,119.0 L119.4,118.6 L125.2,118.2 L131.0,118.0 L136.8,117.8 L142.7,117.7 L148.5,117.6 L154.3,117.5 L160.1,117.4 L166.0,117.5 L171.8,117.6 L177.6,117.8 L183.4,118.0 L189.2,118.1 L195.1,118.1 L200.9,118.1 L206.7,118.1 L212.5,118.1 L218.4,118.1 L224.2,118.1 L230.0,118.1 L235.8,118.1 L241.7,118.2 L247.5,118.3 L253.3,118.5 L259.1,118.6 L260.0,118.7 L260.9,118.7 L261.8,118.8 L262.7,118.8 L263.6,118.9 L264.5,119.0 L265.5,119.1 L266.4,119.2 L267.3,119.3 L268.2,119.4 L269.1,119.5 L270.0,119.7 L270.9,119.8 L271.8,119.9 L272.7,120.1 L273.6,120.3 L274.5,120.4 L275.4,120.6 L276.3,120.8 L277.2,121.1 L278.1,121.4 L279.0,121.8 L279.9,122.2 L280.8,122.7 L281.7,123.2 L282.6,123.8 L283.5,124.3 L284.4,125.0 L285.3,125.6 L286.2,126.2 L287.2,126.9 L288.1,127.5 L289.0,128.2 L289.9,128.9 L290.8,129.5 L291.7,130.2 L292.6,130.8 L293.5,131.5 L294.4,132.2 L295.3,133.0 L296.2,133.7 L297.1,134.5 L298.0,135.3 L298.9,136.1 L299.8,137.0 L300.7,137.9 L301.6,138.8 L302.5,139.8 L303.4,140.8 L304.3,141.8 L305.2,142.9 L306.1,144.0 L307.0,145.2 L307.9,146.4 L308.8,147.6 L309.8,148.8 L310.7,150.1 L311.6,151.5 L312.5,152.8" fill="none" stroke="#8da0cb" stroke-width="1.45" stroke-dasharray="5 2.2"/>
</g>
<path d="M43.6,16.4 L43.6,211.4 L326.0,211.4" fill="none" stroke="#000" stroke-width="0.95" stroke-linecap="square"/>
<line x1="40.300000000000004" y1="211.4" x2="43.6" y2="211.4" stroke="#000" stroke-width="0.85"/>
<line x1="40.300000000000004" y1="178.9" x2="43.6" y2="178.9" stroke="#000" stroke-width="0.85"/>
<line x1="40.300000000000004" y1="146.4" x2="43.6" y2="146.4" stroke="#000" stroke-width="0.85"/>
<line x1="40.300000000000004" y1="113.9" x2="43.6" y2="113.9" stroke="#000" stroke-width="0.85"/>
<line x1="40.300000000000004" y1="81.4" x2="43.6" y2="81.4" stroke="#000" stroke-width="0.85"/>
<line x1="40.300000000000004" y1="48.9" x2="43.6" y2="48.9" stroke="#000" stroke-width="0.85"/>
<line x1="40.300000000000004" y1="16.4" x2="43.6" y2="16.4" stroke="#000" stroke-width="0.85"/>
<line x1="43.6" y1="211.4" x2="43.6" y2="213.3" stroke="#000" stroke-width="0.65"/>
<line x1="48.8" y1="211.4" x2="48.8" y2="213.3" stroke="#000" stroke-width="0.65"/>
<line x1="53.1" y1="211.4" x2="53.1" y2="213.3" stroke="#000" stroke-width="0.65"/>
<line x1="56.9" y1="211.4" x2="56.9" y2="213.3" stroke="#000" stroke-width="0.65"/>
<line x1="60.3" y1="211.4" x2="60.3" y2="213.3" stroke="#000" stroke-width="0.65"/>
<line x1="63.3" y1="211.4" x2="63.3" y2="214.70000000000002" stroke="#000" stroke-width="0.85"/>
<line x1="82.9" y1="211.4" x2="82.9" y2="213.3" stroke="#000" stroke-width="0.65"/>
<line x1="94.4" y1="211.4" x2="94.4" y2="213.3" stroke="#000" stroke-width="0.65"/>
<line x1="102.6" y1="211.4" x2="102.6" y2="213.3" stroke="#000" stroke-width="0.65"/>
<line x1="108.9" y1="211.4" x2="108.9" y2="213.3" stroke="#000" stroke-width="0.65"/>
<line x1="114.1" y1="211.4" x2="114.1" y2="213.3" stroke="#000" stroke-width="0.65"/>
<line x1="118.4" y1="211.4" x2="118.4" y2="213.3" stroke="#000" stroke-width="0.65"/>
<line x1="122.2" y1="211.4" x2="122.2" y2="213.3" stroke="#000" stroke-width="0.65"/>
<line x1="125.6" y1="211.4" x2="125.6" y2="213.3" stroke="#000" stroke-width="0.65"/>
<line x1="128.5" y1="211.4" x2="128.5" y2="214.70000000000002" stroke="#000" stroke-width="0.85"/>
<line x1="148.2" y1="211.4" x2="148.2" y2="213.3" stroke="#000" stroke-width="0.65"/>
<line x1="159.7" y1="211.4" x2="159.7" y2="213.3" stroke="#000" stroke-width="0.65"/>
<line x1="167.9" y1="211.4" x2="167.9" y2="213.3" stroke="#000" stroke-width="0.65"/>
<line x1="174.2" y1="211.4" x2="174.2" y2="213.3" stroke="#000" stroke-width="0.65"/>
<line x1="179.3" y1="211.4" x2="179.3" y2="213.3" stroke="#000" stroke-width="0.65"/>
<line x1="183.7" y1="211.4" x2="183.7" y2="213.3" stroke="#000" stroke-width="0.65"/>
<line x1="187.5" y1="211.4" x2="187.5" y2="213.3" stroke="#000" stroke-width="0.65"/>
<line x1="190.8" y1="211.4" x2="190.8" y2="213.3" stroke="#000" stroke-width="0.65"/>
<line x1="193.8" y1="211.4" x2="193.8" y2="214.70000000000002" stroke="#000" stroke-width="0.85"/>
<line x1="213.5" y1="211.4" x2="213.5" y2="213.3" stroke="#000" stroke-width="0.65"/>
<line x1="225.0" y1="211.4" x2="225.0" y2="213.3" stroke="#000" stroke-width="0.65"/>
<line x1="233.1" y1="211.4" x2="233.1" y2="213.3" stroke="#000" stroke-width="0.65"/>
<line x1="239.5" y1="211.4" x2="239.5" y2="213.3" stroke="#000" stroke-width="0.65"/>
<line x1="244.6" y1="211.4" x2="244.6" y2="213.3" stroke="#000" stroke-width="0.65"/>
<line x1="249.0" y1="211.4" x2="249.0" y2="213.3" stroke="#000" stroke-width="0.65"/>
<line x1="252.8" y1="211.4" x2="252.8" y2="213.3" stroke="#000" stroke-width="0.65"/>
<line x1="256.1" y1="211.4" x2="256.1" y2="213.3" stroke="#000" stroke-width="0.65"/>
<line x1="259.1" y1="211.4" x2="259.1" y2="214.70000000000002" stroke="#000" stroke-width="0.85"/>
<line x1="278.8" y1="211.4" x2="278.8" y2="213.3" stroke="#000" stroke-width="0.65"/>
<line x1="290.3" y1="211.4" x2="290.3" y2="213.3" stroke="#000" stroke-width="0.65"/>
<line x1="298.4" y1="211.4" x2="298.4" y2="213.3" stroke="#000" stroke-width="0.65"/>
<line x1="304.8" y1="211.4" x2="304.8" y2="213.3" stroke="#000" stroke-width="0.65"/>
<line x1="309.9" y1="211.4" x2="309.9" y2="213.3" stroke="#000" stroke-width="0.65"/>
<line x1="314.3" y1="211.4" x2="314.3" y2="213.3" stroke="#000" stroke-width="0.65"/>
<line x1="318.1" y1="211.4" x2="318.1" y2="213.3" stroke="#000" stroke-width="0.65"/>
<line x1="321.4" y1="211.4" x2="321.4" y2="213.3" stroke="#000" stroke-width="0.65"/>
<line x1="324.4" y1="211.4" x2="324.4" y2="214.70000000000002" stroke="#000" stroke-width="0.85"/>
<rect x="50.2" y="21.5" width="270.6" height="48.9" rx="2.2" fill="#fff" fill-opacity="0.8" stroke="#ccc" stroke-opacity="0.8" stroke-width="0.9"/>
<rect x="54.7" y="26.0" width="21.3" height="7.4" fill="#fff" stroke="none"/>
<rect x="56.8" y="26.5" width="16.7" height="6.4" fill="#66c2a5" fill-opacity="0.5" stroke="none"/>
<rect x="54.7" y="26.0" width="21.3" height="7.4" fill="none" stroke="#66c2a5" stroke-width="1.25" stroke-dasharray="2.9 1.8"/>
<line x1="63.5" y1="32.5" x2="69.6" y2="27.2" stroke="#757575" stroke-width="1.1"/>
<rect x="54.7" y="41.5" width="21.3" height="7.4" fill="#fff" stroke="none"/>
<rect x="56.8" y="42.0" width="16.7" height="6.4" fill="#fc8d62" fill-opacity="0.5" stroke="none"/>
<rect x="54.7" y="41.5" width="21.3" height="7.4" fill="none" stroke="#fc8d62" stroke-width="1.25" stroke-dasharray="2.9 1.8"/>
<line x1="62.9" y1="42.3" x2="69.0" y2="48.2" stroke="#757575" stroke-width="1.1"/>
<rect x="54.7" y="57.0" width="21.3" height="7.4" fill="#fff" stroke="none"/>
<rect x="56.8" y="57.5" width="16.7" height="6.4" fill="#8da0cb" fill-opacity="0.5" stroke="none"/>
<rect x="54.7" y="57.0" width="21.3" height="7.4" fill="none" stroke="#8da0cb" stroke-width="1.25" stroke-dasharray="2.9 1.8"/>
<line x1="415.4" y1="16.4" x2="415.4" y2="211.4" stroke="#efefef" stroke-width="0.8"/>
<line x1="480.6" y1="16.4" x2="480.6" y2="211.4" stroke="#efefef" stroke-width="0.8"/>
<line x1="545.9" y1="16.4" x2="545.9" y2="211.4" stroke="#efefef" stroke-width="0.8"/>
<line x1="611.2" y1="16.4" x2="611.2" y2="211.4" stroke="#efefef" stroke-width="0.8"/>
<line x1="676.5" y1="16.4" x2="676.5" y2="211.4" stroke="#efefef" stroke-width="0.8"/>
<line x1="395.7" y1="211.4" x2="677.9" y2="211.4" stroke="#efefef" stroke-width="0.8"/>
<line x1="395.7" y1="178.9" x2="677.9" y2="178.9" stroke="#efefef" stroke-width="0.8"/>
<line x1="395.7" y1="146.4" x2="677.9" y2="146.4" stroke="#efefef" stroke-width="0.8"/>
<line x1="395.7" y1="113.9" x2="677.9" y2="113.9" stroke="#efefef" stroke-width="0.8"/>
<line x1="395.7" y1="81.4" x2="677.9" y2="81.4" stroke="#efefef" stroke-width="0.8"/>
<line x1="395.7" y1="48.9" x2="677.9" y2="48.9" stroke="#efefef" stroke-width="0.8"/>
<line x1="395.7" y1="16.4" x2="677.9" y2="16.4" stroke="#efefef" stroke-width="0.8"/>
<g clip-path="url(#cp01)">
<path d="M395.8,102.2 L401.6,102.9 L407.4,103.7 L413.2,104.5 L419.1,105.4 L424.9,106.5 L430.7,107.7 L436.5,108.7 L442.4,109.5 L448.2,109.7 L454.0,109.7 L459.8,109.6 L465.6,109.5 L471.5,109.4 L477.3,109.2 L483.1,109.0 L488.9,108.6 L494.8,107.9 L500.6,107.2 L506.4,106.5 L512.2,105.9 L518.1,105.3 L523.9,104.9 L529.7,104.4 L535.5,103.9 L541.3,103.3 L547.2,102.7 L553.0,101.9 L558.8,101.0 L564.6,100.0 L570.5,99.0 L576.3,98.0 L582.1,97.1 L587.9,96.1 L593.8,95.2 L599.6,94.4 L605.4,93.7 L611.2,92.6 L612.1,92.4 L613.0,92.1 L613.9,91.8 L614.8,91.4 L615.7,90.9 L616.6,90.5 L617.6,89.9 L618.5,89.4 L619.4,88.8 L620.3,88.1 L621.2,87.5 L622.1,86.7 L623.0,86.0 L623.9,85.2 L624.8,84.4 L625.7,83.5 L626.6,82.7 L627.5,81.8 L628.4,80.8 L629.3,79.8 L630.2,78.7 L631.1,77.4 L632.0,76.0 L632.9,74.3 L633.8,72.5 L634.7,70.4 L635.6,68.0 L636.5,64.8 L637.4,60.3 L638.3,54.6 L639.3,47.8 L640.2,40.1 L641.1,30.9 L642.0,17.7 L642.9,2.0 L643.8,-14.4 L644.7,-16.1 L645.6,-16.1 L646.5,-16.1 L647.4,-16.1 L648.3,-16.1 L649.2,-16.1 L650.1,-16.1 L651.0,-16.1 L651.9,-16.1 L652.8,-16.1 L653.7,-16.1 L654.6,-16.1 L655.5,-16.1 L656.4,-16.1 L657.3,-16.1 L658.2,-16.1 L659.1,-16.1 L660.0,-16.1 L660.9,-16.1 L661.9,-16.1 L662.8,-16.1 L663.7,-16.1 L664.6,-16.1 L664.6,243.9 L663.7,243.9 L662.8,243.9 L661.9,243.9 L660.9,243.9 L660.0,243.9 L659.1,243.9 L658.2,243.9 L657.3,243.9 L656.4,243.9 L655.5,243.9 L654.6,243.9 L653.7,243.9 L652.8,243.9 L651.9,243.9 L651.0,243.9 L650.1,243.9 L649.2,243.9 L648.3,243.9 L647.4,243.9 L646.5,243.9 L645.6,243.9 L644.7,243.9 L643.8,243.9 L642.9,243.9 L642.0,235.2 L641.1,217.6 L640.2,206.6 L639.3,198.1 L638.3,191.0 L637.4,184.9 L636.5,179.7 L635.6,175.3 L634.7,171.3 L633.8,167.6 L632.9,164.2 L632.0,161.0 L631.1,158.1 L630.2,155.5 L629.3,153.2 L628.4,151.2 L627.5,149.6 L626.6,148.1 L625.7,146.6 L624.8,145.3 L623.9,144.0 L623.0,142.7 L622.1,141.5 L621.2,140.4 L620.3,139.4 L619.4,138.4 L618.5,137.4 L617.6,136.6 L616.6,135.8 L615.7,135.0 L614.8,134.3 L613.9,133.7 L613.0,133.1 L612.1,132.6 L611.2,132.1 L605.4,129.7 L599.6,128.1 L593.8,126.6 L587.9,125.1 L582.1,123.8 L576.3,123.1 L570.5,122.7 L564.6,122.4 L558.8,122.1 L553.0,121.9 L547.2,121.7 L541.3,121.6 L535.5,121.5 L529.7,121.4 L523.9,121.3 L518.1,121.2 L512.2,121.0 L506.4,120.5 L500.6,119.8 L494.8,119.0 L488.9,118.3 L483.1,117.8 L477.3,117.8 L471.5,117.9 L465.6,118.1 L459.8,118.4 L454.0,118.7 L448.2,119.1 L442.4,119.6 L436.5,120.4 L430.7,121.3 L424.9,122.3 L419.1,123.2 L413.2,123.9 L407.4,124.5 L401.6,125.1 L395.8,125.6 Z" fill="#66c2a5" fill-opacity="0.5" stroke="#66c2a5" stroke-opacity="0.85" stroke-width="0.9"/>
<path d="M395.8,102.2 L401.6,102.9 L407.4,103.7 L413.2,104.5 L419.1,105.4 L424.9,106.5 L430.7,107.7 L436.5,108.7 L442.4,109.5 L448.2,109.7 L454.0,109.7 L459.8,109.6 L465.6,109.5 L471.5,109.4 L477.3,109.2 L483.1,109.0 L488.9,108.6 L494.8,107.9 L500.6,107.2 L506.4,106.5 L512.2,105.9 L518.1,105.3 L523.9,104.9 L529.7,104.4 L535.5,103.9 L541.3,103.3 L547.2,102.7 L553.0,101.9 L558.8,101.0 L564.6,100.0 L570.5,99.0 L576.3,98.0 L582.1,97.1 L587.9,96.1 L593.8,95.2 L599.6,94.4 L605.4,93.7 L611.2,92.6 L612.1,92.4 L613.0,92.1 L613.9,91.8 L614.8,91.4 L615.7,90.9 L616.6,90.5 L617.6,89.9 L618.5,89.4 L619.4,88.8 L620.3,88.1 L621.2,87.5 L622.1,86.7 L623.0,86.0 L623.9,85.2 L624.8,84.4 L625.7,83.5 L626.6,82.7 L627.5,81.8 L628.4,80.8 L629.3,79.8 L630.2,78.7 L631.1,77.4 L632.0,76.0 L632.9,74.3 L633.8,72.5 L634.7,70.4 L635.6,68.0 L636.5,64.8 L637.4,60.3 L638.3,54.6 L639.3,47.8 L640.2,40.1 L641.1,30.9 L642.0,17.7 L642.9,2.0 L643.8,-14.4 L644.7,-16.1 L645.6,-16.1 L646.5,-16.1 L647.4,-16.1 L648.3,-16.1 L649.2,-16.1 L650.1,-16.1 L651.0,-16.1 L651.9,-16.1 L652.8,-16.1 L653.7,-16.1 L654.6,-16.1 L655.5,-16.1 L656.4,-16.1 L657.3,-16.1 L658.2,-16.1 L659.1,-16.1 L660.0,-16.1 L660.9,-16.1 L661.9,-16.1 L662.8,-16.1 L663.7,-16.1 L664.6,-16.1 L664.6,243.9 L663.7,243.9 L662.8,243.9 L661.9,243.9 L660.9,243.9 L660.0,243.9 L659.1,243.9 L658.2,243.9 L657.3,243.9 L656.4,243.9 L655.5,243.9 L654.6,243.9 L653.7,243.9 L652.8,243.9 L651.9,243.9 L651.0,243.9 L650.1,243.9 L649.2,243.9 L648.3,243.9 L647.4,243.9 L646.5,243.9 L645.6,243.9 L644.7,243.9 L643.8,243.9 L642.9,243.9 L642.0,235.2 L641.1,217.6 L640.2,206.6 L639.3,198.1 L638.3,191.0 L637.4,184.9 L636.5,179.7 L635.6,175.3 L634.7,171.3 L633.8,167.6 L632.9,164.2 L632.0,161.0 L631.1,158.1 L630.2,155.5 L629.3,153.2 L628.4,151.2 L627.5,149.6 L626.6,148.1 L625.7,146.6 L624.8,145.3 L623.9,144.0 L623.0,142.7 L622.1,141.5 L621.2,140.4 L620.3,139.4 L619.4,138.4 L618.5,137.4 L617.6,136.6 L616.6,135.8 L615.7,135.0 L614.8,134.3 L613.9,133.7 L613.0,133.1 L612.1,132.6 L611.2,132.1 L605.4,129.7 L599.6,128.1 L593.8,126.6 L587.9,125.1 L582.1,123.8 L576.3,123.1 L570.5,122.7 L564.6,122.4 L558.8,122.1 L553.0,121.9 L547.2,121.7 L541.3,121.6 L535.5,121.5 L529.7,121.4 L523.9,121.3 L518.1,121.2 L512.2,121.0 L506.4,120.5 L500.6,119.8 L494.8,119.0 L488.9,118.3 L483.1,117.8 L477.3,117.8 L471.5,117.9 L465.6,118.1 L459.8,118.4 L454.0,118.7 L448.2,119.1 L442.4,119.6 L436.5,120.4 L430.7,121.3 L424.9,122.3 L419.1,123.2 L413.2,123.9 L407.4,124.5 L401.6,125.1 L395.8,125.6 Z" fill="url(#h0)" stroke="none"/>
<path d="M395.8,108.1 L401.6,108.5 L407.4,108.9 L413.2,109.2 L419.1,109.5 L424.9,109.7 L430.7,109.9 L436.5,110.1 L442.4,110.3 L448.2,110.7 L454.0,111.2 L459.8,112.0 L465.6,113.1 L471.5,114.2 L477.3,115.3 L483.1,116.3 L488.9,117.3 L494.8,118.3 L500.6,119.3 L506.4,120.4 L512.2,121.5 L518.1,122.8 L523.9,124.4 L529.7,126.1 L535.5,127.6 L541.3,128.6 L547.2,128.8 L553.0,128.5 L558.8,127.8 L564.6,126.8 L570.5,125.8 L576.3,124.7 L582.1,123.7 L587.9,122.4 L593.8,121.3 L599.6,120.3 L605.4,119.6 L611.2,118.4 L612.1,118.2 L613.0,118.0 L613.9,117.7 L614.8,117.4 L615.7,117.0 L616.6,116.7 L617.6,116.3 L618.5,115.9 L619.4,115.4 L620.3,115.0 L621.2,114.5 L622.1,113.9 L623.0,113.4 L623.9,112.8 L624.8,112.2 L625.7,111.6 L626.6,110.9 L627.5,110.2 L628.4,109.5 L629.3,108.6 L630.2,107.6 L631.1,106.5 L632.0,105.3 L632.9,103.9 L633.8,102.5 L634.7,101.0 L635.6,99.3 L636.5,97.6 L637.4,95.6 L638.3,93.5 L639.3,91.1 L640.2,88.5 L641.1,85.6 L642.0,82.5 L642.9,79.0 L643.8,75.3 L644.7,71.0 L645.6,65.8 L646.5,59.8 L647.4,53.1 L648.3,45.6 L649.2,37.6 L650.1,29.1 L651.0,20.2 L651.9,10.6 L652.8,0.2 L653.7,-11.2 L654.6,-16.1 L655.5,-16.1 L656.4,-16.1 L657.3,-16.1 L658.2,-16.1 L659.1,-16.1 L660.0,-16.1 L660.9,-16.1 L661.9,-16.1 L662.8,-16.1 L663.7,-16.1 L664.6,-16.1 L664.6,243.9 L663.7,243.9 L662.8,243.9 L661.9,243.9 L660.9,243.9 L660.0,243.9 L659.1,243.9 L658.2,243.9 L657.3,243.9 L656.4,243.9 L655.5,243.9 L654.6,243.9 L653.7,243.9 L652.8,243.9 L651.9,243.9 L651.0,243.9 L650.1,243.9 L649.2,243.9 L648.3,243.9 L647.4,243.9 L646.5,243.9 L645.6,243.9 L644.7,243.9 L643.8,243.9 L642.9,243.9 L642.0,243.9 L641.1,243.9 L640.2,243.9 L639.3,243.9 L638.3,234.6 L637.4,224.0 L636.5,215.1 L635.6,208.3 L634.7,202.8 L633.8,197.6 L632.9,192.8 L632.0,188.4 L631.1,184.5 L630.2,181.0 L629.3,178.0 L628.4,175.5 L627.5,173.6 L626.6,172.0 L625.7,170.5 L624.8,169.1 L623.9,167.8 L623.0,166.5 L622.1,165.4 L621.2,164.3 L620.3,163.3 L619.4,162.3 L618.5,161.4 L617.6,160.6 L616.6,159.9 L615.7,159.1 L614.8,158.5 L613.9,157.8 L613.0,157.3 L612.1,156.7 L611.2,156.1 L605.4,152.9 L599.6,150.4 L593.8,149.7 L587.9,150.9 L582.1,152.5 L576.3,152.9 L570.5,152.6 L564.6,152.0 L558.8,151.2 L553.0,150.3 L547.2,149.2 L541.3,147.9 L535.5,145.7 L529.7,143.0 L523.9,140.2 L518.1,137.4 L512.2,134.9 L506.4,132.4 L500.6,129.8 L494.8,127.3 L488.9,125.3 L483.1,123.9 L477.3,123.4 L471.5,123.1 L465.6,122.8 L459.8,122.5 L454.0,122.4 L448.2,122.4 L442.4,122.5 L436.5,123.0 L430.7,123.7 L424.9,124.5 L419.1,125.2 L413.2,125.8 L407.4,126.4 L401.6,127.0 L395.8,127.5 Z" fill="#fc8d62" fill-opacity="0.5" stroke="#fc8d62" stroke-opacity="0.85" stroke-width="0.9"/>
<path d="M395.8,108.1 L401.6,108.5 L407.4,108.9 L413.2,109.2 L419.1,109.5 L424.9,109.7 L430.7,109.9 L436.5,110.1 L442.4,110.3 L448.2,110.7 L454.0,111.2 L459.8,112.0 L465.6,113.1 L471.5,114.2 L477.3,115.3 L483.1,116.3 L488.9,117.3 L494.8,118.3 L500.6,119.3 L506.4,120.4 L512.2,121.5 L518.1,122.8 L523.9,124.4 L529.7,126.1 L535.5,127.6 L541.3,128.6 L547.2,128.8 L553.0,128.5 L558.8,127.8 L564.6,126.8 L570.5,125.8 L576.3,124.7 L582.1,123.7 L587.9,122.4 L593.8,121.3 L599.6,120.3 L605.4,119.6 L611.2,118.4 L612.1,118.2 L613.0,118.0 L613.9,117.7 L614.8,117.4 L615.7,117.0 L616.6,116.7 L617.6,116.3 L618.5,115.9 L619.4,115.4 L620.3,115.0 L621.2,114.5 L622.1,113.9 L623.0,113.4 L623.9,112.8 L624.8,112.2 L625.7,111.6 L626.6,110.9 L627.5,110.2 L628.4,109.5 L629.3,108.6 L630.2,107.6 L631.1,106.5 L632.0,105.3 L632.9,103.9 L633.8,102.5 L634.7,101.0 L635.6,99.3 L636.5,97.6 L637.4,95.6 L638.3,93.5 L639.3,91.1 L640.2,88.5 L641.1,85.6 L642.0,82.5 L642.9,79.0 L643.8,75.3 L644.7,71.0 L645.6,65.8 L646.5,59.8 L647.4,53.1 L648.3,45.6 L649.2,37.6 L650.1,29.1 L651.0,20.2 L651.9,10.6 L652.8,0.2 L653.7,-11.2 L654.6,-16.1 L655.5,-16.1 L656.4,-16.1 L657.3,-16.1 L658.2,-16.1 L659.1,-16.1 L660.0,-16.1 L660.9,-16.1 L661.9,-16.1 L662.8,-16.1 L663.7,-16.1 L664.6,-16.1 L664.6,243.9 L663.7,243.9 L662.8,243.9 L661.9,243.9 L660.9,243.9 L660.0,243.9 L659.1,243.9 L658.2,243.9 L657.3,243.9 L656.4,243.9 L655.5,243.9 L654.6,243.9 L653.7,243.9 L652.8,243.9 L651.9,243.9 L651.0,243.9 L650.1,243.9 L649.2,243.9 L648.3,243.9 L647.4,243.9 L646.5,243.9 L645.6,243.9 L644.7,243.9 L643.8,243.9 L642.9,243.9 L642.0,243.9 L641.1,243.9 L640.2,243.9 L639.3,243.9 L638.3,234.6 L637.4,224.0 L636.5,215.1 L635.6,208.3 L634.7,202.8 L633.8,197.6 L632.9,192.8 L632.0,188.4 L631.1,184.5 L630.2,181.0 L629.3,178.0 L628.4,175.5 L627.5,173.6 L626.6,172.0 L625.7,170.5 L624.8,169.1 L623.9,167.8 L623.0,166.5 L622.1,165.4 L621.2,164.3 L620.3,163.3 L619.4,162.3 L618.5,161.4 L617.6,160.6 L616.6,159.9 L615.7,159.1 L614.8,158.5 L613.9,157.8 L613.0,157.3 L612.1,156.7 L611.2,156.1 L605.4,152.9 L599.6,150.4 L593.8,149.7 L587.9,150.9 L582.1,152.5 L576.3,152.9 L570.5,152.6 L564.6,152.0 L558.8,151.2 L553.0,150.3 L547.2,149.2 L541.3,147.9 L535.5,145.7 L529.7,143.0 L523.9,140.2 L518.1,137.4 L512.2,134.9 L506.4,132.4 L500.6,129.8 L494.8,127.3 L488.9,125.3 L483.1,123.9 L477.3,123.4 L471.5,123.1 L465.6,122.8 L459.8,122.5 L454.0,122.4 L448.2,122.4 L442.4,122.5 L436.5,123.0 L430.7,123.7 L424.9,124.5 L419.1,125.2 L413.2,125.8 L407.4,126.4 L401.6,127.0 L395.8,127.5 Z" fill="url(#h1)" stroke="none"/>
<path d="M395.8,109.4 L401.6,109.0 L407.4,108.8 L413.2,108.7 L419.1,108.7 L424.9,108.9 L430.7,109.2 L436.5,109.4 L442.4,109.7 L448.2,109.7 L454.0,109.5 L459.8,108.9 L465.6,108.1 L471.5,107.3 L477.3,106.5 L483.1,105.9 L488.9,105.3 L494.8,104.8 L500.6,104.3 L506.4,103.8 L512.2,103.3 L518.1,102.7 L523.9,102.2 L529.7,101.6 L535.5,101.0 L541.3,100.4 L547.2,99.8 L553.0,99.1 L558.8,98.4 L564.6,97.6 L570.5,96.9 L576.3,96.2 L582.1,95.6 L587.9,95.1 L593.8,94.7 L599.6,94.2 L605.4,93.6 L611.2,92.6 L612.1,92.5 L613.0,92.2 L613.9,92.0 L614.8,91.7 L615.7,91.3 L616.6,91.0 L617.6,90.6 L618.5,90.1 L619.4,89.7 L620.3,89.1 L621.2,88.6 L622.1,88.0 L623.0,87.4 L623.9,86.8 L624.8,86.2 L625.7,85.5 L626.6,84.8 L627.5,84.0 L628.4,83.3 L629.3,82.4 L630.2,81.3 L631.1,80.2 L632.0,78.9 L632.9,77.4 L633.8,75.8 L634.7,73.9 L635.6,71.8 L636.5,69.3 L637.4,65.8 L638.3,61.4 L639.3,55.9 L640.2,49.4 L641.1,38.7 L642.0,22.4 L642.9,3.6 L643.8,-14.3 L644.7,-16.1 L645.6,-16.1 L646.5,-16.1 L647.4,-16.1 L648.3,-16.1 L649.2,-16.1 L650.1,-16.1 L651.0,-16.1 L651.9,-16.1 L652.8,-16.1 L653.7,-16.1 L654.6,-16.1 L655.5,-16.1 L656.4,-16.1 L657.3,-16.1 L658.2,-16.1 L659.1,-16.1 L660.0,-16.1 L660.9,-16.1 L661.9,-16.1 L662.8,-16.1 L663.7,-16.1 L664.6,-16.1 L664.6,243.9 L663.7,243.9 L662.8,243.9 L661.9,243.9 L660.9,243.9 L660.0,243.9 L659.1,243.9 L658.2,243.9 L657.3,243.9 L656.4,243.9 L655.5,243.9 L654.6,243.9 L653.7,243.9 L652.8,243.9 L651.9,243.9 L651.0,243.9 L650.1,243.9 L649.2,243.9 L648.3,243.9 L647.4,243.9 L646.5,243.9 L645.6,243.9 L644.7,243.9 L643.8,242.5 L642.9,229.7 L642.0,217.5 L641.1,206.7 L640.2,197.9 L639.3,190.5 L638.3,183.8 L637.4,177.9 L636.5,172.9 L635.6,168.9 L634.7,165.4 L633.8,162.3 L632.9,159.4 L632.0,156.7 L631.1,154.3 L630.2,152.2 L629.3,150.3 L628.4,148.7 L627.5,147.3 L626.6,146.1 L625.7,145.0 L624.8,143.9 L623.9,142.9 L623.0,142.0 L622.1,141.1 L621.2,140.3 L620.3,139.5 L619.4,138.8 L618.5,138.1 L617.6,137.4 L616.6,136.8 L615.7,136.2 L614.8,135.6 L613.9,135.0 L613.0,134.5 L612.1,133.9 L611.2,133.4 L605.4,129.9 L599.6,126.7 L593.8,123.8 L587.9,121.4 L582.1,119.7 L576.3,118.8 L570.5,118.1 L564.6,117.6 L558.8,117.1 L553.0,116.8 L547.2,116.5 L541.3,116.4 L535.5,116.2 L529.7,116.0 L523.9,115.9 L518.1,115.9 L512.2,115.9 L506.4,115.9 L500.6,116.0 L494.8,116.1 L488.9,116.2 L483.1,116.4 L477.3,116.7 L471.5,117.2 L465.6,117.9 L459.8,118.7 L454.0,119.5 L448.2,120.4 L442.4,121.2 L436.5,122.2 L430.7,123.2 L424.9,124.2 L419.1,125.1 L413.2,125.9 L407.4,126.5 L401.6,127.1 L395.8,127.5 Z" fill="#8da0cb" fill-opacity="0.5" stroke="#8da0cb" stroke-opacity="0.85" stroke-width="0.9"/>
<path d="M395.8,109.4 L401.6,109.0 L407.4,108.8 L413.2,108.7 L419.1,108.7 L424.9,108.9 L430.7,109.2 L436.5,109.4 L442.4,109.7 L448.2,109.7 L454.0,109.5 L459.8,108.9 L465.6,108.1 L471.5,107.3 L477.3,106.5 L483.1,105.9 L488.9,105.3 L494.8,104.8 L500.6,104.3 L506.4,103.8 L512.2,103.3 L518.1,102.7 L523.9,102.2 L529.7,101.6 L535.5,101.0 L541.3,100.4 L547.2,99.8 L553.0,99.1 L558.8,98.4 L564.6,97.6 L570.5,96.9 L576.3,96.2 L582.1,95.6 L587.9,95.1 L593.8,94.7 L599.6,94.2 L605.4,93.6 L611.2,92.6 L612.1,92.5 L613.0,92.2 L613.9,92.0 L614.8,91.7 L615.7,91.3 L616.6,91.0 L617.6,90.6 L618.5,90.1 L619.4,89.7 L620.3,89.1 L621.2,88.6 L622.1,88.0 L623.0,87.4 L623.9,86.8 L624.8,86.2 L625.7,85.5 L626.6,84.8 L627.5,84.0 L628.4,83.3 L629.3,82.4 L630.2,81.3 L631.1,80.2 L632.0,78.9 L632.9,77.4 L633.8,75.8 L634.7,73.9 L635.6,71.8 L636.5,69.3 L637.4,65.8 L638.3,61.4 L639.3,55.9 L640.2,49.4 L641.1,38.7 L642.0,22.4 L642.9,3.6 L643.8,-14.3 L644.7,-16.1 L645.6,-16.1 L646.5,-16.1 L647.4,-16.1 L648.3,-16.1 L649.2,-16.1 L650.1,-16.1 L651.0,-16.1 L651.9,-16.1 L652.8,-16.1 L653.7,-16.1 L654.6,-16.1 L655.5,-16.1 L656.4,-16.1 L657.3,-16.1 L658.2,-16.1 L659.1,-16.1 L660.0,-16.1 L660.9,-16.1 L661.9,-16.1 L662.8,-16.1 L663.7,-16.1 L664.6,-16.1 L664.6,243.9 L663.7,243.9 L662.8,243.9 L661.9,243.9 L660.9,243.9 L660.0,243.9 L659.1,243.9 L658.2,243.9 L657.3,243.9 L656.4,243.9 L655.5,243.9 L654.6,243.9 L653.7,243.9 L652.8,243.9 L651.9,243.9 L651.0,243.9 L650.1,243.9 L649.2,243.9 L648.3,243.9 L647.4,243.9 L646.5,243.9 L645.6,243.9 L644.7,243.9 L643.8,242.5 L642.9,229.7 L642.0,217.5 L641.1,206.7 L640.2,197.9 L639.3,190.5 L638.3,183.8 L637.4,177.9 L636.5,172.9 L635.6,168.9 L634.7,165.4 L633.8,162.3 L632.9,159.4 L632.0,156.7 L631.1,154.3 L630.2,152.2 L629.3,150.3 L628.4,148.7 L627.5,147.3 L626.6,146.1 L625.7,145.0 L624.8,143.9 L623.9,142.9 L623.0,142.0 L622.1,141.1 L621.2,140.3 L620.3,139.5 L619.4,138.8 L618.5,138.1 L617.6,137.4 L616.6,136.8 L615.7,136.2 L614.8,135.6 L613.9,135.0 L613.0,134.5 L612.1,133.9 L611.2,133.4 L605.4,129.9 L599.6,126.7 L593.8,123.8 L587.9,121.4 L582.1,119.7 L576.3,118.8 L570.5,118.1 L564.6,117.6 L558.8,117.1 L553.0,116.8 L547.2,116.5 L541.3,116.4 L535.5,116.2 L529.7,116.0 L523.9,115.9 L518.1,115.9 L512.2,115.9 L506.4,115.9 L500.6,116.0 L494.8,116.1 L488.9,116.2 L483.1,116.4 L477.3,116.7 L471.5,117.2 L465.6,117.9 L459.8,118.7 L454.0,119.5 L448.2,120.4 L442.4,121.2 L436.5,122.2 L430.7,123.2 L424.9,124.2 L419.1,125.1 L413.2,125.9 L407.4,126.5 L401.6,127.1 L395.8,127.5 Z" fill="url(#h2)" stroke="none"/>
<path d="M395.8,113.9 L401.6,113.9 L407.4,113.9 L413.2,113.9 L419.1,113.9 L424.9,113.9 L430.7,113.9 L436.5,113.9 L442.4,113.9 L448.2,113.9 L454.0,113.9 L459.8,113.9 L465.6,113.9 L471.5,113.9 L477.3,113.9 L483.1,113.9 L488.9,113.9 L494.8,113.9 L500.6,113.9 L506.4,113.9 L512.2,113.9 L518.1,113.9 L523.9,113.9 L529.7,113.9 L535.5,113.9 L541.3,113.9 L547.2,113.9 L553.0,113.9 L558.8,113.9 L564.6,113.9 L570.5,113.9 L576.3,113.9 L582.1,113.9 L587.9,113.9 L593.8,113.9 L599.6,113.9 L605.4,113.9 L611.2,113.9 L612.1,113.9 L613.0,113.9 L613.9,113.9 L614.8,113.9 L615.7,113.9 L616.6,113.9 L617.6,113.9 L618.5,113.9 L619.4,113.9 L620.3,113.9 L621.2,113.9 L622.1,113.9 L623.0,113.9 L623.9,113.9 L624.8,113.9 L625.7,113.9 L626.6,113.9 L627.5,113.9 L628.4,113.9 L629.3,113.9 L630.2,113.9 L631.1,113.9 L632.0,113.9 L632.9,113.9 L633.8,113.9 L634.7,113.9 L635.6,113.9 L636.5,113.9 L637.4,113.9 L638.3,113.9 L639.3,113.9 L640.2,113.9 L641.1,113.9 L642.0,113.9 L642.9,113.9 L643.8,113.9 L644.7,113.9 L645.6,113.9 L646.5,113.9 L647.4,113.9 L648.3,113.9 L649.2,113.9 L650.1,113.9 L651.0,113.9 L651.9,113.9 L652.8,113.9 L653.7,113.9 L654.6,113.9 L655.5,113.9 L656.4,113.9 L657.3,113.9 L658.2,113.9 L659.1,113.9 L660.0,113.9 L660.9,113.9 L661.9,113.9 L662.8,113.9 L663.7,113.9 L664.6,113.9" fill="none" stroke="#66c2a5" stroke-width="1.5"/>
<path d="M395.8,101.6 L401.6,102.4 L407.4,103.2 L413.2,104.0 L419.1,105.0 L424.9,106.1 L430.7,107.3 L436.5,108.4 L442.4,109.2 L448.2,109.5 L454.0,109.5 L459.8,109.4 L465.6,109.3 L471.5,109.1 L477.3,109.0 L483.1,108.7 L488.9,108.3 L494.8,107.6 L500.6,106.9 L506.4,106.2 L512.2,105.5 L518.1,104.9 L523.9,104.4 L529.7,103.9 L535.5,103.4 L541.3,102.8 L547.2,102.1 L553.0,101.3 L558.8,100.4 L564.6,99.3 L570.5,98.3 L576.3,97.2 L582.1,96.2 L587.9,95.3 L593.8,94.3 L599.6,93.5 L605.4,92.7 L611.2,91.6 L612.1,91.3 L613.0,91.0 L613.9,90.7 L614.8,90.2 L615.7,89.8 L616.6,89.3 L617.6,88.7 L618.5,88.1 L619.4,87.5 L620.3,86.8 L621.2,86.1 L622.1,85.4 L623.0,84.6 L623.9,83.8 L624.8,82.9 L625.7,82.0 L626.6,81.1 L627.5,80.2 L628.4,79.2 L629.3,78.1 L630.2,76.9 L631.1,75.6 L632.0,74.1 L632.9,72.4 L633.8,70.4 L634.7,68.2 L635.6,65.7 L636.5,62.3 L637.4,57.6 L638.3,51.6 L639.3,44.5 L640.2,36.4 L641.1,26.8 L642.0,12.9 L642.9,-3.6 L643.8,-16.1 L644.7,-16.1 L645.6,-16.1 L646.5,-16.1 L647.4,-16.1 L648.3,-16.1 L649.2,-16.1 L650.1,-16.1 L651.0,-16.1 L651.9,-16.1 L652.8,-16.1 L653.7,-16.1 L654.6,-16.1 L655.5,-16.1 L656.4,-16.1 L657.3,-16.1 L658.2,-16.1 L659.1,-16.1 L660.0,-16.1 L660.9,-16.1 L661.9,-16.1 L662.8,-16.1 L663.7,-16.1 L664.6,-16.1" fill="none" stroke="#66c2a5" stroke-width="1.45" stroke-dasharray="5 2.2"/>
<path d="M395.8,126.2 L401.6,125.6 L407.4,125.0 L413.2,124.4 L419.1,123.6 L424.9,122.7 L430.7,121.7 L436.5,120.7 L442.4,119.9 L448.2,119.3 L454.0,119.0 L459.8,118.6 L465.6,118.4 L471.5,118.1 L477.3,118.0 L483.1,118.0 L488.9,118.5 L494.8,119.2 L500.6,120.1 L506.4,120.9 L512.2,121.4 L518.1,121.6 L523.9,121.7 L529.7,121.8 L535.5,121.9 L541.3,122.0 L547.2,122.1 L553.0,122.3 L558.8,122.5 L564.6,122.8 L570.5,123.2 L576.3,123.6 L582.1,124.3 L587.9,125.6 L593.8,127.2 L599.6,128.8 L605.4,130.5 L611.2,133.0 L612.1,133.5 L613.0,134.1 L613.9,134.7 L614.8,135.3 L615.7,136.1 L616.6,136.9 L617.6,137.7 L618.5,138.6 L619.4,139.6 L620.3,140.6 L621.2,141.8 L622.1,142.9 L623.0,144.2 L623.9,145.5 L624.8,146.8 L625.7,148.3 L626.6,149.8 L627.5,151.4 L628.4,153.1 L629.3,155.2 L630.2,157.6 L631.1,160.3 L632.0,163.3 L632.9,166.7 L633.8,170.3 L634.7,174.2 L635.6,178.4 L636.5,183.0 L637.4,188.4 L638.3,194.8 L639.3,202.4 L640.2,211.3 L641.1,222.8 L642.0,241.3 L642.9,243.9 L643.8,243.9 L644.7,243.9 L645.6,243.9 L646.5,243.9 L647.4,243.9 L648.3,243.9 L649.2,243.9 L650.1,243.9 L651.0,243.9 L651.9,243.9 L652.8,243.9 L653.7,243.9 L654.6,243.9 L655.5,243.9 L656.4,243.9 L657.3,243.9 L658.2,243.9 L659.1,243.9 L660.0,243.9 L660.9,243.9 L661.9,243.9 L662.8,243.9 L663.7,243.9 L664.6,243.9" fill="none" stroke="#66c2a5" stroke-width="1.45" stroke-dasharray="5 2.2"/>
<path d="M395.8,117.8 L401.6,117.6 L407.4,117.4 L413.2,117.2 L419.1,117.0 L424.9,116.7 L430.7,116.4 L436.5,116.1 L442.4,115.9 L448.2,115.9 L454.0,116.0 L459.8,116.6 L465.6,117.3 L471.5,118.2 L477.3,119.2 L483.1,120.2 L488.9,121.5 L494.8,123.1 L500.6,124.8 L506.4,126.7 L512.2,128.5 L518.1,130.5 L523.9,132.8 L529.7,135.2 L535.5,137.4 L541.3,139.1 L547.2,140.0 L553.0,140.6 L558.8,141.1 L564.6,141.4 L570.5,141.7 L576.3,141.8 L582.1,141.5 L587.9,140.1 L593.8,138.7 L599.6,138.2 L605.4,137.7 L611.2,137.6 L612.1,137.6 L613.0,137.6 L613.9,137.7 L614.8,137.9 L615.7,138.1 L616.6,138.3 L617.6,138.5 L618.5,138.8 L619.4,139.1 L620.3,139.4 L621.2,139.8 L622.1,140.2 L623.0,140.6 L623.9,141.1 L624.8,141.6 L625.7,142.1 L626.6,142.6 L627.5,143.1 L628.4,143.8 L629.3,144.7 L630.2,145.9 L631.1,147.2 L632.0,148.7 L632.9,150.4 L633.8,152.2 L634.7,154.0 L635.6,156.0 L636.5,158.2 L637.4,160.9 L638.3,163.9 L639.3,167.2 L640.2,170.7 L641.1,174.2 L642.0,177.8 L642.9,181.2 L643.8,184.4 L644.7,187.7 L645.6,191.5 L646.5,195.4 L647.4,199.1 L648.3,202.1 L649.2,204.2 L650.1,204.9 L651.0,203.7 L651.9,200.4 L652.8,195.4 L653.7,188.8 L654.6,180.9 L655.5,172.0 L656.4,162.3 L657.3,152.1 L658.2,140.8 L659.1,125.6 L660.0,106.5 L660.9,83.8 L661.9,57.6 L662.8,22.3 L663.7,-16.1 L664.6,-16.1" fill="none" stroke="#fc8d62" stroke-width="1.5"/>
<path d="M395.8,107.6 L401.6,108.0 L407.4,108.5 L413.2,108.8 L419.1,109.1 L424.9,109.4 L430.7,109.6 L436.5,109.8 L442.4,110.1 L448.2,110.4 L454.0,111.0 L459.8,111.8 L465.6,112.9 L471.5,114.0 L477.3,115.1 L483.1,116.1 L488.9,117.0 L494.8,118.0 L500.6,119.0 L506.4,120.1 L512.2,121.1 L518.1,122.4 L523.9,124.0 L529.7,125.6 L535.5,127.1 L541.3,128.0 L547.2,128.3 L553.0,127.9 L558.8,127.1 L564.6,126.1 L570.5,125.0 L576.3,123.8 L582.1,122.8 L587.9,121.6 L593.8,120.4 L599.6,119.5 L605.4,118.6 L611.2,117.5 L612.1,117.2 L613.0,117.0 L613.9,116.7 L614.8,116.3 L615.7,116.0 L616.6,115.6 L617.6,115.2 L618.5,114.7 L619.4,114.2 L620.3,113.7 L621.2,113.2 L622.1,112.6 L623.0,112.0 L623.9,111.4 L624.8,110.7 L625.7,110.1 L626.6,109.3 L627.5,108.6 L628.4,107.8 L629.3,106.8 L630.2,105.7 L631.1,104.4 L632.0,103.1 L632.9,101.6 L633.8,100.0 L634.7,98.3 L635.6,96.5 L636.5,94.6 L637.4,92.4 L638.3,90.0 L639.3,87.3 L640.2,84.4 L641.1,81.2 L642.0,77.7 L642.9,73.9 L643.8,69.9 L644.7,65.2 L645.6,59.6 L646.5,53.0 L647.4,45.7 L648.3,37.8 L649.2,29.3 L650.1,20.3 L651.0,11.0 L651.9,1.1 L652.8,-9.5 L653.7,-16.1 L654.6,-16.1 L655.5,-16.1 L656.4,-16.1 L657.3,-16.1 L658.2,-16.1 L659.1,-16.1 L660.0,-16.1 L660.9,-16.1 L661.9,-16.1 L662.8,-16.1 L663.7,-16.1 L664.6,-16.1" fill="none" stroke="#fc8d62" stroke-width="1.45" stroke-dasharray="5 2.2"/>
<path d="M395.8,128.0 L401.6,127.4 L407.4,126.8 L413.2,126.2 L419.1,125.6 L424.9,124.8 L430.7,124.1 L436.5,123.4 L442.4,122.9 L448.2,122.7 L454.0,122.7 L459.8,122.8 L465.6,123.0 L471.5,123.3 L477.3,123.6 L483.1,124.1 L488.9,125.4 L494.8,127.5 L500.6,130.0 L506.4,132.7 L512.2,135.3 L518.1,137.7 L523.9,140.5 L529.7,143.4 L535.5,146.1 L541.3,148.3 L547.2,149.7 L553.0,150.8 L558.8,151.7 L564.6,152.5 L570.5,153.1 L576.3,153.4 L582.1,153.1 L587.9,151.5 L593.8,150.2 L599.6,151.0 L605.4,153.6 L611.2,157.1 L612.1,157.6 L613.0,158.2 L613.9,158.9 L614.8,159.5 L615.7,160.2 L616.6,160.9 L617.6,161.7 L618.5,162.6 L619.4,163.5 L620.3,164.5 L621.2,165.5 L622.1,166.6 L623.0,167.8 L623.9,169.1 L624.8,170.5 L625.7,171.9 L626.6,173.5 L627.5,175.1 L628.4,177.1 L629.3,179.7 L630.2,182.7 L631.1,186.3 L632.0,190.4 L632.9,194.9 L633.8,199.9 L634.7,205.2 L635.6,211.0 L636.5,218.0 L637.4,227.2 L638.3,238.2 L639.3,243.9 L640.2,243.9 L641.1,243.9 L642.0,243.9 L642.9,243.9 L643.8,243.9 L644.7,243.9 L645.6,243.9 L646.5,243.9 L647.4,243.9 L648.3,243.9 L649.2,243.9 L650.1,243.9 L651.0,243.9 L651.9,243.9 L652.8,243.9 L653.7,243.9 L654.6,243.9 L655.5,243.9 L656.4,243.9 L657.3,243.9 L658.2,243.9 L659.1,243.9 L660.0,243.9 L660.9,243.9 L661.9,243.9 L662.8,243.9 L663.7,243.9 L664.6,243.9" fill="none" stroke="#fc8d62" stroke-width="1.45" stroke-dasharray="5 2.2"/>
<path d="M395.8,118.4 L401.6,117.8 L407.4,117.2 L413.2,116.7 L419.1,116.2 L424.9,115.7 L430.7,115.2 L436.5,114.8 L442.4,114.3 L448.2,113.9 L454.0,113.4 L459.8,112.9 L465.6,112.4 L471.5,112.0 L477.3,111.5 L483.1,111.1 L488.9,110.7 L494.8,110.3 L500.6,109.9 L506.4,109.6 L512.2,109.4 L518.1,109.2 L523.9,109.0 L529.7,108.9 L535.5,108.8 L541.3,108.7 L547.2,108.7 L553.0,108.7 L558.8,108.7 L564.6,108.7 L570.5,108.7 L576.3,108.7 L582.1,108.7 L587.9,108.8 L593.8,109.0 L599.6,109.2 L605.4,109.6 L611.2,110.0 L612.1,110.1 L613.0,110.3 L613.9,110.6 L614.8,111.0 L615.7,111.4 L616.6,111.9 L617.6,112.4 L618.5,113.0 L619.4,113.6 L620.3,114.2 L621.2,114.8 L622.1,115.5 L623.0,116.1 L623.9,116.8 L624.8,117.4 L625.7,118.0 L626.6,118.5 L627.5,119.1 L628.4,119.6 L629.3,120.2 L630.2,120.8 L631.1,121.4 L632.0,122.0 L632.9,122.5 L633.8,123.0 L634.7,123.4 L635.6,123.6 L636.5,123.8 L637.4,124.0 L638.3,124.2 L639.3,124.3 L640.2,124.3 L641.1,124.0 L642.0,123.3 L642.9,122.3 L643.8,121.2 L644.7,119.7 L645.6,117.6 L646.5,115.0 L647.4,112.2 L648.3,109.6 L649.2,107.3 L650.1,105.6 L651.0,104.8 L651.9,105.5 L652.8,108.3 L653.7,112.5 L654.6,117.9 L655.5,124.0 L656.4,130.3 L657.3,136.3 L658.2,141.7 L659.1,147.1 L660.0,152.8 L660.9,159.2 L661.9,166.5 L662.8,175.4 L663.7,186.8 L664.6,199.7" fill="none" stroke="#8da0cb" stroke-width="1.5"/>
<path d="M395.8,108.9 L401.6,108.6 L407.4,108.4 L413.2,108.3 L419.1,108.4 L424.9,108.6 L430.7,108.9 L436.5,109.2 L442.4,109.4 L448.2,109.5 L454.0,109.3 L459.8,108.7 L465.6,107.9 L471.5,107.0 L477.3,106.2 L483.1,105.6 L488.9,105.0 L494.8,104.5 L500.6,104.0 L506.4,103.5 L512.2,103.0 L518.1,102.4 L523.9,101.8 L529.7,101.2 L535.5,100.6 L541.3,100.0 L547.2,99.3 L553.0,98.6 L558.8,97.9 L564.6,97.1 L570.5,96.3 L576.3,95.6 L582.1,94.9 L587.9,94.4 L593.8,94.0 L599.6,93.5 L605.4,92.8 L611.2,91.8 L612.1,91.6 L613.0,91.3 L613.9,91.0 L614.8,90.7 L615.7,90.3 L616.6,89.9 L617.6,89.5 L618.5,89.0 L619.4,88.5 L620.3,87.9 L621.2,87.3 L622.1,86.7 L623.0,86.0 L623.9,85.3 L624.8,84.6 L625.7,83.9 L626.6,83.1 L627.5,82.3 L628.4,81.4 L629.3,80.5 L630.2,79.4 L631.1,78.1 L632.0,76.7 L632.9,75.2 L633.8,73.4 L634.7,71.4 L635.6,69.2 L636.5,66.5 L637.4,62.9 L638.3,58.3 L639.3,52.5 L640.2,45.6 L641.1,34.5 L642.0,17.4 L642.9,-2.3 L643.8,-16.1 L644.7,-16.1 L645.6,-16.1 L646.5,-16.1 L647.4,-16.1 L648.3,-16.1 L649.2,-16.1 L650.1,-16.1 L651.0,-16.1 L651.9,-16.1 L652.8,-16.1 L653.7,-16.1 L654.6,-16.1 L655.5,-16.1 L656.4,-16.1 L657.3,-16.1 L658.2,-16.1 L659.1,-16.1 L660.0,-16.1 L660.9,-16.1 L661.9,-16.1 L662.8,-16.1 L663.7,-16.1 L664.6,-16.1" fill="none" stroke="#8da0cb" stroke-width="1.45" stroke-dasharray="5 2.2"/>
<path d="M395.8,128.0 L401.6,127.5 L407.4,127.0 L413.2,126.3 L419.1,125.6 L424.9,124.7 L430.7,123.6 L436.5,122.6 L442.4,121.6 L448.2,120.7 L454.0,119.8 L459.8,119.0 L465.6,118.1 L471.5,117.4 L477.3,116.9 L483.1,116.7 L488.9,116.5 L494.8,116.4 L500.6,116.3 L506.4,116.2 L512.2,116.2 L518.1,116.2 L523.9,116.3 L529.7,116.4 L535.5,116.6 L541.3,116.7 L547.2,116.9 L553.0,117.2 L558.8,117.6 L564.6,118.0 L570.5,118.6 L576.3,119.3 L582.1,120.3 L587.9,122.1 L593.8,124.6 L599.6,127.6 L605.4,131.0 L611.2,134.6 L612.1,135.1 L613.0,135.7 L613.9,136.3 L614.8,136.8 L615.7,137.4 L616.6,138.0 L617.6,138.7 L618.5,139.4 L619.4,140.1 L620.3,140.8 L621.2,141.6 L622.1,142.4 L623.0,143.3 L623.9,144.2 L624.8,145.3 L625.7,146.3 L626.6,147.5 L627.5,148.7 L628.4,150.1 L629.3,151.8 L630.2,153.7 L631.1,156.0 L632.0,158.5 L632.9,161.2 L633.8,164.2 L634.7,167.6 L635.6,171.1 L636.5,175.3 L637.4,180.6 L638.3,186.7 L639.3,193.8 L640.2,201.6 L641.1,210.9 L642.0,222.2 L642.9,235.0 L643.8,243.9 L644.7,243.9 L645.6,243.9 L646.5,243.9 L647.4,243.9 L648.3,243.9 L649.2,243.9 L650.1,243.9 L651.0,243.9 L651.9,243.9 L652.8,243.9 L653.7,243.9 L654.6,243.9 L655.5,243.9 L656.4,243.9 L657.3,243.9 L658.2,243.9 L659.1,243.9 L660.0,243.9 L660.9,243.9 L661.9,243.9 L662.8,243.9 L663.7,243.9 L664.6,243.9" fill="none" stroke="#8da0cb" stroke-width="1.45" stroke-dasharray="5 2.2"/>
</g>
<path d="M395.7,16.4 L395.7,211.4 L677.9,211.4" fill="none" stroke="#000" stroke-width="0.95" stroke-linecap="square"/>
<line x1="392.4" y1="211.4" x2="395.7" y2="211.4" stroke="#000" stroke-width="0.85"/>
<line x1="392.4" y1="178.9" x2="395.7" y2="178.9" stroke="#000" stroke-width="0.85"/>
<line x1="392.4" y1="146.4" x2="395.7" y2="146.4" stroke="#000" stroke-width="0.85"/>
<line x1="392.4" y1="113.9" x2="395.7" y2="113.9" stroke="#000" stroke-width="0.85"/>
<line x1="392.4" y1="81.4" x2="395.7" y2="81.4" stroke="#000" stroke-width="0.85"/>
<line x1="392.4" y1="48.9" x2="395.7" y2="48.9" stroke="#000" stroke-width="0.85"/>
<line x1="392.4" y1="16.4" x2="395.7" y2="16.4" stroke="#000" stroke-width="0.85"/>
<line x1="395.7" y1="211.4" x2="395.7" y2="213.3" stroke="#000" stroke-width="0.65"/>
<line x1="400.9" y1="211.4" x2="400.9" y2="213.3" stroke="#000" stroke-width="0.65"/>
<line x1="405.2" y1="211.4" x2="405.2" y2="213.3" stroke="#000" stroke-width="0.65"/>
<line x1="409.0" y1="211.4" x2="409.0" y2="213.3" stroke="#000" stroke-width="0.65"/>
<line x1="412.4" y1="211.4" x2="412.4" y2="213.3" stroke="#000" stroke-width="0.65"/>
<line x1="415.4" y1="211.4" x2="415.4" y2="214.70000000000002" stroke="#000" stroke-width="0.85"/>
<line x1="435.0" y1="211.4" x2="435.0" y2="213.3" stroke="#000" stroke-width="0.65"/>
<line x1="446.5" y1="211.4" x2="446.5" y2="213.3" stroke="#000" stroke-width="0.65"/>
<line x1="454.7" y1="211.4" x2="454.7" y2="213.3" stroke="#000" stroke-width="0.65"/>
<line x1="461.0" y1="211.4" x2="461.0" y2="213.3" stroke="#000" stroke-width="0.65"/>
<line x1="466.2" y1="211.4" x2="466.2" y2="213.3" stroke="#000" stroke-width="0.65"/>
<line x1="470.5" y1="211.4" x2="470.5" y2="213.3" stroke="#000" stroke-width="0.65"/>
<line x1="474.3" y1="211.4" x2="474.3" y2="213.3" stroke="#000" stroke-width="0.65"/>
<line x1="477.7" y1="211.4" x2="477.7" y2="213.3" stroke="#000" stroke-width="0.65"/>
<line x1="480.6" y1="211.4" x2="480.6" y2="214.70000000000002" stroke="#000" stroke-width="0.85"/>
<line x1="500.3" y1="211.4" x2="500.3" y2="213.3" stroke="#000" stroke-width="0.65"/>
<line x1="511.8" y1="211.4" x2="511.8" y2="213.3" stroke="#000" stroke-width="0.65"/>
<line x1="520.0" y1="211.4" x2="520.0" y2="213.3" stroke="#000" stroke-width="0.65"/>
<line x1="526.3" y1="211.4" x2="526.3" y2="213.3" stroke="#000" stroke-width="0.65"/>
<line x1="531.4" y1="211.4" x2="531.4" y2="213.3" stroke="#000" stroke-width="0.65"/>
<line x1="535.8" y1="211.4" x2="535.8" y2="213.3" stroke="#000" stroke-width="0.65"/>
<line x1="539.6" y1="211.4" x2="539.6" y2="213.3" stroke="#000" stroke-width="0.65"/>
<line x1="542.9" y1="211.4" x2="542.9" y2="213.3" stroke="#000" stroke-width="0.65"/>
<line x1="545.9" y1="211.4" x2="545.9" y2="214.70000000000002" stroke="#000" stroke-width="0.85"/>
<line x1="565.6" y1="211.4" x2="565.6" y2="213.3" stroke="#000" stroke-width="0.65"/>
<line x1="577.1" y1="211.4" x2="577.1" y2="213.3" stroke="#000" stroke-width="0.65"/>
<line x1="585.2" y1="211.4" x2="585.2" y2="213.3" stroke="#000" stroke-width="0.65"/>
<line x1="591.6" y1="211.4" x2="591.6" y2="213.3" stroke="#000" stroke-width="0.65"/>
<line x1="596.7" y1="211.4" x2="596.7" y2="213.3" stroke="#000" stroke-width="0.65"/>
<line x1="601.1" y1="211.4" x2="601.1" y2="213.3" stroke="#000" stroke-width="0.65"/>
<line x1="604.9" y1="211.4" x2="604.9" y2="213.3" stroke="#000" stroke-width="0.65"/>
<line x1="608.2" y1="211.4" x2="608.2" y2="213.3" stroke="#000" stroke-width="0.65"/>
<line x1="611.2" y1="211.4" x2="611.2" y2="214.70000000000002" stroke="#000" stroke-width="0.85"/>
<line x1="630.9" y1="211.4" x2="630.9" y2="213.3" stroke="#000" stroke-width="0.65"/>
<line x1="642.4" y1="211.4" x2="642.4" y2="213.3" stroke="#000" stroke-width="0.65"/>
<line x1="650.5" y1="211.4" x2="650.5" y2="213.3" stroke="#000" stroke-width="0.65"/>
<line x1="656.9" y1="211.4" x2="656.9" y2="213.3" stroke="#000" stroke-width="0.65"/>
<line x1="662.0" y1="211.4" x2="662.0" y2="213.3" stroke="#000" stroke-width="0.65"/>
<line x1="666.4" y1="211.4" x2="666.4" y2="213.3" stroke="#000" stroke-width="0.65"/>
<line x1="670.2" y1="211.4" x2="670.2" y2="213.3" stroke="#000" stroke-width="0.65"/>
<line x1="673.5" y1="211.4" x2="673.5" y2="213.3" stroke="#000" stroke-width="0.65"/>
<line x1="676.5" y1="211.4" x2="676.5" y2="214.70000000000002" stroke="#000" stroke-width="0.85"/>
<rect x="402.3" y="21.5" width="270.6" height="48.9" rx="2.2" fill="#fff" fill-opacity="0.8" stroke="#ccc" stroke-opacity="0.8" stroke-width="0.9"/>
<rect x="406.8" y="26.0" width="21.3" height="7.4" fill="#fff" stroke="none"/>
<rect x="408.9" y="26.5" width="16.7" height="6.4" fill="#66c2a5" fill-opacity="0.5" stroke="none"/>
<rect x="406.8" y="26.0" width="21.3" height="7.4" fill="none" stroke="#66c2a5" stroke-width="1.25" stroke-dasharray="2.9 1.8"/>
<line x1="415.6" y1="32.5" x2="421.7" y2="27.2" stroke="#757575" stroke-width="1.1"/>
<rect x="406.8" y="41.5" width="21.3" height="7.4" fill="#fff" stroke="none"/>
<rect x="408.9" y="42.0" width="16.7" height="6.4" fill="#fc8d62" fill-opacity="0.5" stroke="none"/>
<rect x="406.8" y="41.5" width="21.3" height="7.4" fill="none" stroke="#fc8d62" stroke-width="1.25" stroke-dasharray="2.9 1.8"/>
<line x1="415.0" y1="42.3" x2="421.1" y2="48.2" stroke="#757575" stroke-width="1.1"/>
<rect x="406.8" y="57.0" width="21.3" height="7.4" fill="#fff" stroke="none"/>
<rect x="408.9" y="57.5" width="16.7" height="6.4" fill="#8da0cb" fill-opacity="0.5" stroke="none"/>
<rect x="406.8" y="57.0" width="21.3" height="7.4" fill="none" stroke="#8da0cb" stroke-width="1.25" stroke-dasharray="2.9 1.8"/>
<line x1="63.3" y1="273.5" x2="63.3" y2="468.5" stroke="#efefef" stroke-width="0.8"/>
<line x1="128.5" y1="273.5" x2="128.5" y2="468.5" stroke="#efefef" stroke-width="0.8"/>
<line x1="193.8" y1="273.5" x2="193.8" y2="468.5" stroke="#efefef" stroke-width="0.8"/>
<line x1="259.1" y1="273.5" x2="259.1" y2="468.5" stroke="#efefef" stroke-width="0.8"/>
<line x1="324.4" y1="273.5" x2="324.4" y2="468.5" stroke="#efefef" stroke-width="0.8"/>
<line x1="43.6" y1="468.5" x2="326.0" y2="468.5" stroke="#efefef" stroke-width="0.8"/>
<line x1="43.6" y1="436.0" x2="326.0" y2="436.0" stroke="#efefef" stroke-width="0.8"/>
<line x1="43.6" y1="403.5" x2="326.0" y2="403.5" stroke="#efefef" stroke-width="0.8"/>
<line x1="43.6" y1="371.0" x2="326.0" y2="371.0" stroke="#efefef" stroke-width="0.8"/>
<line x1="43.6" y1="338.5" x2="326.0" y2="338.5" stroke="#efefef" stroke-width="0.8"/>
<line x1="43.6" y1="306.0" x2="326.0" y2="306.0" stroke="#efefef" stroke-width="0.8"/>
<line x1="43.6" y1="273.5" x2="326.0" y2="273.5" stroke="#efefef" stroke-width="0.8"/>
<g clip-path="url(#cp10)">
<path d="M43.7,360.2 L49.5,361.3 L55.3,362.3 L61.1,363.2 L67.0,363.9 L72.8,364.7 L78.6,365.5 L84.4,366.1 L90.3,366.5 L96.1,366.8 L101.9,366.9 L107.7,367.0 L113.5,367.0 L119.4,367.1 L125.2,367.1 L131.0,367.1 L136.8,366.8 L142.7,366.4 L148.5,365.9 L154.3,365.2 L160.1,364.6 L166.0,363.9 L171.8,363.0 L177.6,361.9 L183.4,361.0 L189.2,360.3 L195.1,359.9 L200.9,359.7 L206.7,359.6 L212.5,359.4 L218.4,359.3 L224.2,359.3 L230.0,359.3 L235.8,359.3 L241.7,359.3 L247.5,359.5 L253.3,359.9 L259.1,360.2 L260.0,360.2 L260.9,360.2 L261.8,360.2 L262.7,360.2 L263.6,360.1 L264.5,360.1 L265.5,360.1 L266.4,360.0 L267.3,360.0 L268.2,359.9 L269.1,359.8 L270.0,359.8 L270.9,359.7 L271.8,359.6 L272.7,359.6 L273.6,359.5 L274.5,359.4 L275.4,359.3 L276.3,359.2 L277.2,359.0 L278.1,358.8 L279.0,358.6 L279.9,358.3 L280.8,358.0 L281.7,357.7 L282.6,357.3 L283.5,356.9 L284.4,356.5 L285.3,355.9 L286.2,355.3 L287.2,354.5 L288.1,353.7 L289.0,352.7 L289.9,351.7 L290.8,350.6 L291.7,349.4 L292.6,347.9 L293.5,346.2 L294.4,344.1 L295.3,341.7 L296.2,339.1 L297.1,336.2 L298.0,333.1 L298.9,329.7 L299.8,325.7 L300.7,321.3 L301.6,316.3 L302.5,310.7 L303.4,304.8 L304.3,298.3 L305.2,291.4 L306.1,283.8 L307.0,274.6 L307.9,262.7 L308.8,245.7 L309.8,241.0 L310.7,241.0 L311.6,241.0 L312.5,241.0 L312.5,501.0 L311.6,501.0 L310.7,501.0 L309.8,497.2 L308.8,480.1 L307.9,466.5 L307.0,455.5 L306.1,446.2 L305.2,438.7 L304.3,433.0 L303.4,428.0 L302.5,423.6 L301.6,419.6 L300.7,416.1 L299.8,413.0 L298.9,410.1 L298.0,407.5 L297.1,405.0 L296.2,402.7 L295.3,400.6 L294.4,398.7 L293.5,396.9 L292.6,395.3 L291.7,393.9 L290.8,392.6 L289.9,391.4 L289.0,390.3 L288.1,389.2 L287.2,388.2 L286.2,387.3 L285.3,386.5 L284.4,385.8 L283.5,385.3 L282.6,384.7 L281.7,384.3 L280.8,383.8 L279.9,383.4 L279.0,383.0 L278.1,382.7 L277.2,382.4 L276.3,382.2 L275.4,382.0 L274.5,381.9 L273.6,381.8 L272.7,381.7 L271.8,381.7 L270.9,381.6 L270.0,381.5 L269.1,381.4 L268.2,381.3 L267.3,381.3 L266.4,381.2 L265.5,381.2 L264.5,381.1 L263.6,381.1 L262.7,381.1 L261.8,381.0 L260.9,381.0 L260.0,381.0 L259.1,381.0 L253.3,381.2 L247.5,381.7 L241.7,382.1 L235.8,382.7 L230.0,383.2 L224.2,383.3 L218.4,383.3 L212.5,383.2 L206.7,383.1 L200.9,382.9 L195.1,382.7 L189.2,382.3 L183.4,381.5 L177.6,380.3 L171.8,379.1 L166.0,378.1 L160.1,377.4 L154.3,376.9 L148.5,376.4 L142.7,376.0 L136.8,375.7 L131.0,375.6 L125.2,375.5 L119.4,375.5 L113.5,375.5 L107.7,375.5 L101.9,375.5 L96.1,375.5 L90.3,375.8 L84.4,376.5 L78.6,377.5 L72.8,378.6 L67.0,379.6 L61.1,380.3 L55.3,381.0 L49.5,381.5 L43.7,382.0 Z" fill="#66c2a5" fill-opacity="0.5" stroke="#66c2a5" stroke-opacity="0.85" stroke-width="0.9"/>
<path d="M43.7,360.2 L49.5,361.3 L55.3,362.3 L61.1,363.2 L67.0,363.9 L72.8,364.7 L78.6,365.5 L84.4,366.1 L90.3,366.5 L96.1,366.8 L101.9,366.9 L107.7,367.0 L113.5,367.0 L119.4,367.1 L125.2,367.1 L131.0,367.1 L136.8,366.8 L142.7,366.4 L148.5,365.9 L154.3,365.2 L160.1,364.6 L166.0,363.9 L171.8,363.0 L177.6,361.9 L183.4,361.0 L189.2,360.3 L195.1,359.9 L200.9,359.7 L206.7,359.6 L212.5,359.4 L218.4,359.3 L224.2,359.3 L230.0,359.3 L235.8,359.3 L241.7,359.3 L247.5,359.5 L253.3,359.9 L259.1,360.2 L260.0,360.2 L260.9,360.2 L261.8,360.2 L262.7,360.2 L263.6,360.1 L264.5,360.1 L265.5,360.1 L266.4,360.0 L267.3,360.0 L268.2,359.9 L269.1,359.8 L270.0,359.8 L270.9,359.7 L271.8,359.6 L272.7,359.6 L273.6,359.5 L274.5,359.4 L275.4,359.3 L276.3,359.2 L277.2,359.0 L278.1,358.8 L279.0,358.6 L279.9,358.3 L280.8,358.0 L281.7,357.7 L282.6,357.3 L283.5,356.9 L284.4,356.5 L285.3,355.9 L286.2,355.3 L287.2,354.5 L288.1,353.7 L289.0,352.7 L289.9,351.7 L290.8,350.6 L291.7,349.4 L292.6,347.9 L293.5,346.2 L294.4,344.1 L295.3,341.7 L296.2,339.1 L297.1,336.2 L298.0,333.1 L298.9,329.7 L299.8,325.7 L300.7,321.3 L301.6,316.3 L302.5,310.7 L303.4,304.8 L304.3,298.3 L305.2,291.4 L306.1,283.8 L307.0,274.6 L307.9,262.7 L308.8,245.7 L309.8,241.0 L310.7,241.0 L311.6,241.0 L312.5,241.0 L312.5,501.0 L311.6,501.0 L310.7,501.0 L309.8,497.2 L308.8,480.1 L307.9,466.5 L307.0,455.5 L306.1,446.2 L305.2,438.7 L304.3,433.0 L303.4,428.0 L302.5,423.6 L301.6,419.6 L300.7,416.1 L299.8,413.0 L298.9,410.1 L298.0,407.5 L297.1,405.0 L296.2,402.7 L295.3,400.6 L294.4,398.7 L293.5,396.9 L292.6,395.3 L291.7,393.9 L290.8,392.6 L289.9,391.4 L289.0,390.3 L288.1,389.2 L287.2,388.2 L286.2,387.3 L285.3,386.5 L284.4,385.8 L283.5,385.3 L282.6,384.7 L281.7,384.3 L280.8,383.8 L279.9,383.4 L279.0,383.0 L278.1,382.7 L277.2,382.4 L276.3,382.2 L275.4,382.0 L274.5,381.9 L273.6,381.8 L272.7,381.7 L271.8,381.7 L270.9,381.6 L270.0,381.5 L269.1,381.4 L268.2,381.3 L267.3,381.3 L266.4,381.2 L265.5,381.2 L264.5,381.1 L263.6,381.1 L262.7,381.1 L261.8,381.0 L260.9,381.0 L260.0,381.0 L259.1,381.0 L253.3,381.2 L247.5,381.7 L241.7,382.1 L235.8,382.7 L230.0,383.2 L224.2,383.3 L218.4,383.3 L212.5,383.2 L206.7,383.1 L200.9,382.9 L195.1,382.7 L189.2,382.3 L183.4,381.5 L177.6,380.3 L171.8,379.1 L166.0,378.1 L160.1,377.4 L154.3,376.9 L148.5,376.4 L142.7,376.0 L136.8,375.7 L131.0,375.6 L125.2,375.5 L119.4,375.5 L113.5,375.5 L107.7,375.5 L101.9,375.5 L96.1,375.5 L90.3,375.8 L84.4,376.5 L78.6,377.5 L72.8,378.6 L67.0,379.6 L61.1,380.3 L55.3,381.0 L49.5,381.5 L43.7,382.0 Z" fill="url(#h0)" stroke="none"/>
<path d="M43.7,365.8 L49.5,365.8 L55.3,365.8 L61.1,365.8 L67.0,365.8 L72.8,366.1 L78.6,366.4 L84.4,366.7 L90.3,367.0 L96.1,367.1 L101.9,367.1 L107.7,367.1 L113.5,367.1 L119.4,367.1 L125.2,367.1 L131.0,367.1 L136.8,367.4 L142.7,367.9 L148.5,368.4 L154.3,368.8 L160.1,369.0 L166.0,369.1 L171.8,369.1 L177.6,369.1 L183.4,369.1 L189.2,369.1 L195.1,369.0 L200.9,368.7 L206.7,368.1 L212.5,367.5 L218.4,366.8 L224.2,366.0 L230.0,365.5 L235.8,365.0 L241.7,364.6 L247.5,364.2 L253.3,363.9 L259.1,363.5 L260.0,363.4 L260.9,363.3 L261.8,363.1 L262.7,363.0 L263.6,362.8 L264.5,362.7 L265.5,362.5 L266.4,362.3 L267.3,362.1 L268.2,361.9 L269.1,361.7 L270.0,361.5 L270.9,361.3 L271.8,361.1 L272.7,360.9 L273.6,360.6 L274.5,360.4 L275.4,360.2 L276.3,360.0 L277.2,359.8 L278.1,359.6 L279.0,359.4 L279.9,359.2 L280.8,359.0 L281.7,358.7 L282.6,358.4 L283.5,358.0 L284.4,357.6 L285.3,357.0 L286.2,356.2 L287.2,355.3 L288.1,354.3 L289.0,353.2 L289.9,352.0 L290.8,350.7 L291.7,349.4 L292.6,347.9 L293.5,346.0 L294.4,344.0 L295.3,341.6 L296.2,339.0 L297.1,336.1 L298.0,333.1 L298.9,329.7 L299.8,325.7 L300.7,321.3 L301.6,316.3 L302.5,310.7 L303.4,304.8 L304.3,298.3 L305.2,291.4 L306.1,283.8 L307.0,274.6 L307.9,262.7 L308.8,245.7 L309.8,241.0 L310.7,241.0 L311.6,241.0 L312.5,241.0 L312.5,501.0 L311.6,501.0 L310.7,501.0 L309.8,497.5 L308.8,480.3 L307.9,466.5 L307.0,454.8 L306.1,444.8 L305.2,437.2 L304.3,432.1 L303.4,428.1 L302.5,424.7 L301.6,421.8 L300.7,419.3 L299.8,416.8 L298.9,414.4 L298.0,411.7 L297.1,408.9 L296.2,406.1 L295.3,403.4 L294.4,400.8 L293.5,398.5 L292.6,396.5 L291.7,394.9 L290.8,393.6 L289.9,392.4 L289.0,391.3 L288.1,390.2 L287.2,389.3 L286.2,388.5 L285.3,387.8 L284.4,387.1 L283.5,386.6 L282.6,386.0 L281.7,385.5 L280.8,385.0 L279.9,384.6 L279.0,384.2 L278.1,383.8 L277.2,383.6 L276.3,383.4 L275.4,383.4 L274.5,383.4 L273.6,383.4 L272.7,383.4 L271.8,383.5 L270.9,383.6 L270.0,383.6 L269.1,383.7 L268.2,383.9 L267.3,384.0 L266.4,384.1 L265.5,384.2 L264.5,384.4 L263.6,384.5 L262.7,384.7 L261.8,384.8 L260.9,385.0 L260.0,385.1 L259.1,385.3 L253.3,387.0 L247.5,389.3 L241.7,391.1 L235.8,392.4 L230.0,393.5 L224.2,394.5 L218.4,395.5 L212.5,396.3 L206.7,396.1 L200.9,395.1 L195.1,393.7 L189.2,392.2 L183.4,390.4 L177.6,388.3 L171.8,386.3 L166.0,384.5 L160.1,383.1 L154.3,382.0 L148.5,381.0 L142.7,380.1 L136.8,379.4 L131.0,378.9 L125.2,378.7 L119.4,378.5 L113.5,378.4 L107.7,378.2 L101.9,378.2 L96.1,378.2 L90.3,378.4 L84.4,378.9 L78.6,379.7 L72.8,380.6 L67.0,381.5 L61.1,382.3 L55.3,383.1 L49.5,383.9 L43.7,384.6 Z" fill="#fc8d62" fill-opacity="0.5" stroke="#fc8d62" stroke-opacity="0.85" stroke-width="0.9"/>
<path d="M43.7,365.8 L49.5,365.8 L55.3,365.8 L61.1,365.8 L67.0,365.8 L72.8,366.1 L78.6,366.4 L84.4,366.7 L90.3,367.0 L96.1,367.1 L101.9,367.1 L107.7,367.1 L113.5,367.1 L119.4,367.1 L125.2,367.1 L131.0,367.1 L136.8,367.4 L142.7,367.9 L148.5,368.4 L154.3,368.8 L160.1,369.0 L166.0,369.1 L171.8,369.1 L177.6,369.1 L183.4,369.1 L189.2,369.1 L195.1,369.0 L200.9,368.7 L206.7,368.1 L212.5,367.5 L218.4,366.8 L224.2,366.0 L230.0,365.5 L235.8,365.0 L241.7,364.6 L247.5,364.2 L253.3,363.9 L259.1,363.5 L260.0,363.4 L260.9,363.3 L261.8,363.1 L262.7,363.0 L263.6,362.8 L264.5,362.7 L265.5,362.5 L266.4,362.3 L267.3,362.1 L268.2,361.9 L269.1,361.7 L270.0,361.5 L270.9,361.3 L271.8,361.1 L272.7,360.9 L273.6,360.6 L274.5,360.4 L275.4,360.2 L276.3,360.0 L277.2,359.8 L278.1,359.6 L279.0,359.4 L279.9,359.2 L280.8,359.0 L281.7,358.7 L282.6,358.4 L283.5,358.0 L284.4,357.6 L285.3,357.0 L286.2,356.2 L287.2,355.3 L288.1,354.3 L289.0,353.2 L289.9,352.0 L290.8,350.7 L291.7,349.4 L292.6,347.9 L293.5,346.0 L294.4,344.0 L295.3,341.6 L296.2,339.0 L297.1,336.1 L298.0,333.1 L298.9,329.7 L299.8,325.7 L300.7,321.3 L301.6,316.3 L302.5,310.7 L303.4,304.8 L304.3,298.3 L305.2,291.4 L306.1,283.8 L307.0,274.6 L307.9,262.7 L308.8,245.7 L309.8,241.0 L310.7,241.0 L311.6,241.0 L312.5,241.0 L312.5,501.0 L311.6,501.0 L310.7,501.0 L309.8,497.5 L308.8,480.3 L307.9,466.5 L307.0,454.8 L306.1,444.8 L305.2,437.2 L304.3,432.1 L303.4,428.1 L302.5,424.7 L301.6,421.8 L300.7,419.3 L299.8,416.8 L298.9,414.4 L298.0,411.7 L297.1,408.9 L296.2,406.1 L295.3,403.4 L294.4,400.8 L293.5,398.5 L292.6,396.5 L291.7,394.9 L290.8,393.6 L289.9,392.4 L289.0,391.3 L288.1,390.2 L287.2,389.3 L286.2,388.5 L285.3,387.8 L284.4,387.1 L283.5,386.6 L282.6,386.0 L281.7,385.5 L280.8,385.0 L279.9,384.6 L279.0,384.2 L278.1,383.8 L277.2,383.6 L276.3,383.4 L275.4,383.4 L274.5,383.4 L273.6,383.4 L272.7,383.4 L271.8,383.5 L270.9,383.6 L270.0,383.6 L269.1,383.7 L268.2,383.9 L267.3,384.0 L266.4,384.1 L265.5,384.2 L264.5,384.4 L263.6,384.5 L262.7,384.7 L261.8,384.8 L260.9,385.0 L260.0,385.1 L259.1,385.3 L253.3,387.0 L247.5,389.3 L241.7,391.1 L235.8,392.4 L230.0,393.5 L224.2,394.5 L218.4,395.5 L212.5,396.3 L206.7,396.1 L200.9,395.1 L195.1,393.7 L189.2,392.2 L183.4,390.4 L177.6,388.3 L171.8,386.3 L166.0,384.5 L160.1,383.1 L154.3,382.0 L148.5,381.0 L142.7,380.1 L136.8,379.4 L131.0,378.9 L125.2,378.7 L119.4,378.5 L113.5,378.4 L107.7,378.2 L101.9,378.2 L96.1,378.2 L90.3,378.4 L84.4,378.9 L78.6,379.7 L72.8,380.6 L67.0,381.5 L61.1,382.3 L55.3,383.1 L49.5,383.9 L43.7,384.6 Z" fill="url(#h1)" stroke="none"/>
<path d="M43.7,367.1 L49.5,366.8 L55.3,366.6 L61.1,366.5 L67.0,366.5 L72.8,366.5 L78.6,366.6 L84.4,366.7 L90.3,366.7 L96.1,366.8 L101.9,366.5 L107.7,365.9 L113.5,365.0 L119.4,364.0 L125.2,363.2 L131.0,362.6 L136.8,362.1 L142.7,361.6 L148.5,361.1 L154.3,360.7 L160.1,360.3 L166.0,359.9 L171.8,359.4 L177.6,359.0 L183.4,358.6 L189.2,358.4 L195.1,358.3 L200.9,358.4 L206.7,358.7 L212.5,359.0 L218.4,359.5 L224.2,360.0 L230.0,360.7 L235.8,361.9 L241.7,363.2 L247.5,364.4 L253.3,365.6 L259.1,367.1 L260.0,367.4 L260.9,367.7 L261.8,368.0 L262.7,368.3 L263.6,368.7 L264.5,369.1 L265.5,369.4 L266.4,369.9 L267.3,370.3 L268.2,370.8 L269.1,371.2 L270.0,371.8 L270.9,372.3 L271.8,372.9 L272.7,373.5 L273.6,374.1 L274.5,374.8 L275.4,375.5 L276.3,376.4 L277.2,377.4 L278.1,378.7 L279.0,380.1 L279.9,381.5 L280.8,383.1 L281.7,384.6 L282.6,386.1 L283.5,387.5 L284.4,388.8 L285.3,390.1 L286.2,391.3 L287.2,392.6 L288.1,393.9 L289.0,395.2 L289.9,396.5 L290.8,397.9 L291.7,399.4 L292.6,401.0 L293.5,402.7 L294.4,404.4 L295.3,406.2 L296.2,408.1 L297.1,410.0 L298.0,412.0 L298.9,413.9 L299.8,416.0 L300.7,418.2 L301.6,420.4 L302.5,422.6 L303.4,424.8 L304.3,427.0 L305.2,429.2 L306.1,431.3 L307.0,433.4 L307.9,435.5 L308.8,437.5 L309.8,439.6 L310.7,441.7 L311.6,443.7 L312.5,445.7 L312.5,501.0 L311.6,501.0 L310.7,501.0 L309.8,501.0 L308.8,501.0 L307.9,501.0 L307.0,501.0 L306.1,501.0 L305.2,501.0 L304.3,501.0 L303.4,501.0 L302.5,501.0 L301.6,497.1 L300.7,492.7 L299.8,488.4 L298.9,484.3 L298.0,480.2 L297.1,476.1 L296.2,472.2 L295.3,468.4 L294.4,464.7 L293.5,461.0 L292.6,457.4 L291.7,453.8 L290.8,450.2 L289.9,446.5 L289.0,442.8 L288.1,439.1 L287.2,435.6 L286.2,432.2 L285.3,429.0 L284.4,426.1 L283.5,423.5 L282.6,421.0 L281.7,418.7 L280.8,416.5 L279.9,414.4 L279.0,412.4 L278.1,410.6 L277.2,408.9 L276.3,407.4 L275.4,406.0 L274.5,404.8 L273.6,403.5 L272.7,402.3 L271.8,401.1 L270.9,399.9 L270.0,398.8 L269.1,397.7 L268.2,396.7 L267.3,395.7 L266.4,394.8 L265.5,393.9 L264.5,393.1 L263.6,392.4 L262.7,391.7 L261.8,391.1 L260.9,390.6 L260.0,390.2 L259.1,389.8 L253.3,388.1 L247.5,386.9 L241.7,386.6 L235.8,386.6 L230.0,386.6 L224.2,386.6 L218.4,386.3 L212.5,385.8 L206.7,385.1 L200.9,384.4 L195.1,383.5 L189.2,382.4 L183.4,380.7 L177.6,378.7 L171.8,376.8 L166.0,375.4 L160.1,374.9 L154.3,374.7 L148.5,374.5 L142.7,374.4 L136.8,374.3 L131.0,374.3 L125.2,374.3 L119.4,374.6 L113.5,375.0 L107.7,375.6 L101.9,376.2 L96.1,376.8 L90.3,377.6 L84.4,378.5 L78.6,379.5 L72.8,380.5 L67.0,381.5 L61.1,382.4 L55.3,383.2 L49.5,383.9 L43.7,384.6 Z" fill="#8da0cb" fill-opacity="0.5" stroke="#8da0cb" stroke-opacity="0.85" stroke-width="0.9"/>
<path d="M43.7,367.1 L49.5,366.8 L55.3,366.6 L61.1,366.5 L67.0,366.5 L72.8,366.5 L78.6,366.6 L84.4,366.7 L90.3,366.7 L96.1,366.8 L101.9,366.5 L107.7,365.9 L113.5,365.0 L119.4,364.0 L125.2,363.2 L131.0,362.6 L136.8,362.1 L142.7,361.6 L148.5,361.1 L154.3,360.7 L160.1,360.3 L166.0,359.9 L171.8,359.4 L177.6,359.0 L183.4,358.6 L189.2,358.4 L195.1,358.3 L200.9,358.4 L206.7,358.7 L212.5,359.0 L218.4,359.5 L224.2,360.0 L230.0,360.7 L235.8,361.9 L241.7,363.2 L247.5,364.4 L253.3,365.6 L259.1,367.1 L260.0,367.4 L260.9,367.7 L261.8,368.0 L262.7,368.3 L263.6,368.7 L264.5,369.1 L265.5,369.4 L266.4,369.9 L267.3,370.3 L268.2,370.8 L269.1,371.2 L270.0,371.8 L270.9,372.3 L271.8,372.9 L272.7,373.5 L273.6,374.1 L274.5,374.8 L275.4,375.5 L276.3,376.4 L277.2,377.4 L278.1,378.7 L279.0,380.1 L279.9,381.5 L280.8,383.1 L281.7,384.6 L282.6,386.1 L283.5,387.5 L284.4,388.8 L285.3,390.1 L286.2,391.3 L287.2,392.6 L288.1,393.9 L289.0,395.2 L289.9,396.5 L290.8,397.9 L291.7,399.4 L292.6,401.0 L293.5,402.7 L294.4,404.4 L295.3,406.2 L296.2,408.1 L297.1,410.0 L298.0,412.0 L298.9,413.9 L299.8,416.0 L300.7,418.2 L301.6,420.4 L302.5,422.6 L303.4,424.8 L304.3,427.0 L305.2,429.2 L306.1,431.3 L307.0,433.4 L307.9,435.5 L308.8,437.5 L309.8,439.6 L310.7,441.7 L311.6,443.7 L312.5,445.7 L312.5,501.0 L311.6,501.0 L310.7,501.0 L309.8,501.0 L308.8,501.0 L307.9,501.0 L307.0,501.0 L306.1,501.0 L305.2,501.0 L304.3,501.0 L303.4,501.0 L302.5,501.0 L301.6,497.1 L300.7,492.7 L299.8,488.4 L298.9,484.3 L298.0,480.2 L297.1,476.1 L296.2,472.2 L295.3,468.4 L294.4,464.7 L293.5,461.0 L292.6,457.4 L291.7,453.8 L290.8,450.2 L289.9,446.5 L289.0,442.8 L288.1,439.1 L287.2,435.6 L286.2,432.2 L285.3,429.0 L284.4,426.1 L283.5,423.5 L282.6,421.0 L281.7,418.7 L280.8,416.5 L279.9,414.4 L279.0,412.4 L278.1,410.6 L277.2,408.9 L276.3,407.4 L275.4,406.0 L274.5,404.8 L273.6,403.5 L272.7,402.3 L271.8,401.1 L270.9,399.9 L270.0,398.8 L269.1,397.7 L268.2,396.7 L267.3,395.7 L266.4,394.8 L265.5,393.9 L264.5,393.1 L263.6,392.4 L262.7,391.7 L261.8,391.1 L260.9,390.6 L260.0,390.2 L259.1,389.8 L253.3,388.1 L247.5,386.9 L241.7,386.6 L235.8,386.6 L230.0,386.6 L224.2,386.6 L218.4,386.3 L212.5,385.8 L206.7,385.1 L200.9,384.4 L195.1,383.5 L189.2,382.4 L183.4,380.7 L177.6,378.7 L171.8,376.8 L166.0,375.4 L160.1,374.9 L154.3,374.7 L148.5,374.5 L142.7,374.4 L136.8,374.3 L131.0,374.3 L125.2,374.3 L119.4,374.6 L113.5,375.0 L107.7,375.6 L101.9,376.2 L96.1,376.8 L90.3,377.6 L84.4,378.5 L78.6,379.5 L72.8,380.5 L67.0,381.5 L61.1,382.4 L55.3,383.2 L49.5,383.9 L43.7,384.6 Z" fill="url(#h2)" stroke="none"/>
<path d="M43.7,371.0 L49.5,371.0 L55.3,371.0 L61.1,371.0 L67.0,371.0 L72.8,371.0 L78.6,371.0 L84.4,371.0 L90.3,371.0 L96.1,371.0 L101.9,371.0 L107.7,371.0 L113.5,371.0 L119.4,371.0 L125.2,371.0 L131.0,371.0 L136.8,371.0 L142.7,371.0 L148.5,371.0 L154.3,371.0 L160.1,371.0 L166.0,371.0 L171.8,371.0 L177.6,371.0 L183.4,371.0 L189.2,371.0 L195.1,371.0 L200.9,371.0 L206.7,371.0 L212.5,371.0 L218.4,371.0 L224.2,371.0 L230.0,371.0 L235.8,371.0 L241.7,371.0 L247.5,371.0 L253.3,371.0 L259.1,371.0 L260.0,371.0 L260.9,371.0 L261.8,371.0 L262.7,371.0 L263.6,371.0 L264.5,371.0 L265.5,371.0 L266.4,371.0 L267.3,371.0 L268.2,371.0 L269.1,371.0 L270.0,371.0 L270.9,371.0 L271.8,371.0 L272.7,371.0 L273.6,371.0 L274.5,371.0 L275.4,371.0 L276.3,371.0 L277.2,371.0 L278.1,371.0 L279.0,371.0 L279.9,371.0 L280.8,371.0 L281.7,371.0 L282.6,371.0 L283.5,371.0 L284.4,371.0 L285.3,371.0 L286.2,371.0 L287.2,371.0 L288.1,371.0 L289.0,371.0 L289.9,371.0 L290.8,371.0 L291.7,371.0 L292.6,371.0 L293.5,371.0 L294.4,371.0 L295.3,371.0 L296.2,371.0 L297.1,371.0 L298.0,371.0 L298.9,371.0 L299.8,371.0 L300.7,371.0 L301.6,371.0 L302.5,371.0 L303.4,371.0 L304.3,371.0 L305.2,371.0 L306.1,371.0 L307.0,371.0 L307.9,371.0 L308.8,371.0 L309.8,371.0 L310.7,371.0 L311.6,371.0 L312.5,371.0" fill="none" stroke="#66c2a5" stroke-width="1.5"/>
<path d="M43.7,359.7 L49.5,360.8 L55.3,361.9 L61.1,362.8 L67.0,363.6 L72.8,364.4 L78.6,365.2 L84.4,365.8 L90.3,366.3 L96.1,366.6 L101.9,366.7 L107.7,366.8 L113.5,366.8 L119.4,366.9 L125.2,366.9 L131.0,366.9 L136.8,366.6 L142.7,366.2 L148.5,365.6 L154.3,364.9 L160.1,364.3 L166.0,363.6 L171.8,362.6 L177.6,361.5 L183.4,360.5 L189.2,359.7 L195.1,359.4 L200.9,359.2 L206.7,359.0 L212.5,358.9 L218.4,358.8 L224.2,358.7 L230.0,358.7 L235.8,358.7 L241.7,358.7 L247.5,358.9 L253.3,359.4 L259.1,359.7 L260.0,359.7 L260.9,359.7 L261.8,359.6 L262.7,359.6 L263.6,359.6 L264.5,359.6 L265.5,359.5 L266.4,359.5 L267.3,359.4 L268.2,359.4 L269.1,359.3 L270.0,359.2 L270.9,359.2 L271.8,359.1 L272.7,359.0 L273.6,358.9 L274.5,358.8 L275.4,358.7 L276.3,358.6 L277.2,358.4 L278.1,358.2 L279.0,358.0 L279.9,357.7 L280.8,357.4 L281.7,357.0 L282.6,356.6 L283.5,356.2 L284.4,355.8 L285.3,355.2 L286.2,354.5 L287.2,353.7 L288.1,352.8 L289.0,351.8 L289.9,350.7 L290.8,349.6 L291.7,348.3 L292.6,346.8 L293.5,344.9 L294.4,342.7 L295.3,340.2 L296.2,337.5 L297.1,334.4 L298.0,331.2 L298.9,327.6 L299.8,323.5 L300.7,318.8 L301.6,313.5 L302.5,307.7 L303.4,301.4 L304.3,294.7 L305.2,287.4 L306.1,279.5 L307.0,269.8 L307.9,257.3 L308.8,241.0 L309.8,241.0 L310.7,241.0 L311.6,241.0 L312.5,241.0" fill="none" stroke="#66c2a5" stroke-width="1.45" stroke-dasharray="5 2.2"/>
<path d="M43.7,382.6 L49.5,382.1 L55.3,381.5 L61.1,380.8 L67.0,380.0 L72.8,379.0 L78.6,377.9 L84.4,376.8 L90.3,376.1 L96.1,375.8 L101.9,375.8 L107.7,375.8 L113.5,375.8 L119.4,375.8 L125.2,375.8 L131.0,375.8 L136.8,376.0 L142.7,376.3 L148.5,376.7 L154.3,377.2 L160.1,377.7 L166.0,378.4 L171.8,379.5 L177.6,380.8 L183.4,382.0 L189.2,382.9 L195.1,383.3 L200.9,383.5 L206.7,383.7 L212.5,383.8 L218.4,383.9 L224.2,384.0 L230.0,383.8 L235.8,383.3 L241.7,382.7 L247.5,382.2 L253.3,381.7 L259.1,381.5 L260.0,381.5 L260.9,381.5 L261.8,381.5 L262.7,381.6 L263.6,381.6 L264.5,381.6 L265.5,381.7 L266.4,381.7 L267.3,381.8 L268.2,381.9 L269.1,381.9 L270.0,382.0 L270.9,382.1 L271.8,382.2 L272.7,382.3 L273.6,382.4 L274.5,382.5 L275.4,382.6 L276.3,382.7 L277.2,383.0 L278.1,383.2 L279.0,383.6 L279.9,384.0 L280.8,384.4 L281.7,384.9 L282.6,385.4 L283.5,386.0 L284.4,386.6 L285.3,387.3 L286.2,388.1 L287.2,389.1 L288.1,390.1 L289.0,391.2 L289.9,392.4 L290.8,393.7 L291.7,395.1 L292.6,396.5 L293.5,398.2 L294.4,400.0 L295.3,402.1 L296.2,404.3 L297.1,406.7 L298.0,409.3 L298.9,412.1 L299.8,415.1 L300.7,418.4 L301.6,422.1 L302.5,426.2 L303.4,430.9 L304.3,436.1 L305.2,442.1 L306.1,449.9 L307.0,459.7 L307.9,471.3 L308.8,485.5 L309.8,501.0 L310.7,501.0 L311.6,501.0 L312.5,501.0" fill="none" stroke="#66c2a5" stroke-width="1.45" stroke-dasharray="5 2.2"/>
<path d="M43.7,374.9 L49.5,374.5 L55.3,374.1 L61.1,373.7 L67.0,373.4 L72.8,373.1 L78.6,372.8 L84.4,372.5 L90.3,372.4 L96.1,372.3 L101.9,372.3 L107.7,372.4 L113.5,372.5 L119.4,372.7 L125.2,372.8 L131.0,373.1 L136.8,373.4 L142.7,374.0 L148.5,374.6 L154.3,375.3 L160.1,376.1 L166.0,376.9 L171.8,377.9 L177.6,379.1 L183.4,380.1 L189.2,381.0 L195.1,381.5 L200.9,381.8 L206.7,382.0 L212.5,382.0 L218.4,381.4 L224.2,380.5 L230.0,379.5 L235.8,378.1 L241.7,377.0 L247.5,376.3 L253.3,375.8 L259.1,375.5 L260.0,375.6 L260.9,375.6 L261.8,375.7 L262.7,375.8 L263.6,375.9 L264.5,376.0 L265.5,376.1 L266.4,376.3 L267.3,376.4 L268.2,376.5 L269.1,376.7 L270.0,376.8 L270.9,376.9 L271.8,377.0 L272.7,377.1 L273.6,377.2 L274.5,377.2 L275.4,377.2 L276.3,377.2 L277.2,377.1 L278.1,377.0 L279.0,376.8 L279.9,376.6 L280.8,376.3 L281.7,376.1 L282.6,375.8 L283.5,375.6 L284.4,375.3 L285.3,374.9 L286.2,374.4 L287.2,373.9 L288.1,373.5 L289.0,373.0 L289.9,372.7 L290.8,372.4 L291.7,372.3 L292.6,372.3 L293.5,372.5 L294.4,372.7 L295.3,372.9 L296.2,373.3 L297.1,373.6 L298.0,374.1 L298.9,374.8 L299.8,376.1 L300.7,378.0 L301.6,380.4 L302.5,383.1 L303.4,386.0 L304.3,388.9 L305.2,391.8 L306.1,394.9 L307.0,398.5 L307.9,402.7 L308.8,407.9 L309.8,414.3 L310.7,421.7 L311.6,430.1 L312.5,439.2" fill="none" stroke="#fc8d62" stroke-width="1.5"/>
<path d="M43.7,365.3 L49.5,365.4 L55.3,365.4 L61.1,365.4 L67.0,365.5 L72.8,365.7 L78.6,366.1 L84.4,366.4 L90.3,366.7 L96.1,366.8 L101.9,366.8 L107.7,366.8 L113.5,366.8 L119.4,366.8 L125.2,366.8 L131.0,366.8 L136.8,367.1 L142.7,367.6 L148.5,368.1 L154.3,368.5 L160.1,368.7 L166.0,368.7 L171.8,368.6 L177.6,368.5 L183.4,368.5 L189.2,368.5 L195.1,368.4 L200.9,368.0 L206.7,367.4 L212.5,366.8 L218.4,366.0 L224.2,365.3 L230.0,364.8 L235.8,364.4 L241.7,364.0 L247.5,363.6 L253.3,363.3 L259.1,362.9 L260.0,362.8 L260.9,362.6 L261.8,362.5 L262.7,362.3 L263.6,362.2 L264.5,362.0 L265.5,361.8 L266.4,361.6 L267.3,361.4 L268.2,361.2 L269.1,361.0 L270.0,360.7 L270.9,360.5 L271.8,360.3 L272.7,360.1 L273.6,359.8 L274.5,359.6 L275.4,359.4 L276.3,359.2 L277.2,359.0 L278.1,358.8 L279.0,358.6 L279.9,358.3 L280.8,358.1 L281.7,357.8 L282.6,357.5 L283.5,357.2 L284.4,356.7 L285.3,356.1 L286.2,355.3 L287.2,354.4 L288.1,353.4 L289.0,352.2 L289.9,351.0 L290.8,349.7 L291.7,348.2 L292.6,346.6 L293.5,344.7 L294.4,342.5 L295.3,340.0 L296.2,337.3 L297.1,334.3 L298.0,331.0 L298.9,327.4 L299.8,323.2 L300.7,318.4 L301.6,313.1 L302.5,307.1 L303.4,300.7 L304.3,293.8 L305.2,286.4 L306.1,278.3 L307.0,268.4 L307.9,255.7 L308.8,241.0 L309.8,241.0 L310.7,241.0 L311.6,241.0 L312.5,241.0" fill="none" stroke="#fc8d62" stroke-width="1.45" stroke-dasharray="5 2.2"/>
<path d="M43.7,385.1 L49.5,384.3 L55.3,383.5 L61.1,382.7 L67.0,381.9 L72.8,381.0 L78.6,380.1 L84.4,379.2 L90.3,378.7 L96.1,378.4 L101.9,378.5 L107.7,378.5 L113.5,378.7 L119.4,378.8 L125.2,379.0 L131.0,379.2 L136.8,379.7 L142.7,380.4 L148.5,381.3 L154.3,382.4 L160.1,383.5 L166.0,384.8 L171.8,386.7 L177.6,388.8 L183.4,390.9 L189.2,392.8 L195.1,394.3 L200.9,395.8 L206.7,396.8 L212.5,397.0 L218.4,396.2 L224.2,395.2 L230.0,394.2 L235.8,393.1 L241.7,391.8 L247.5,389.9 L253.3,387.6 L259.1,385.8 L260.0,385.6 L260.9,385.4 L261.8,385.3 L262.7,385.1 L263.6,384.9 L264.5,384.8 L265.5,384.6 L266.4,384.5 L267.3,384.3 L268.2,384.2 L269.1,384.1 L270.0,384.0 L270.9,383.9 L271.8,383.8 L272.7,383.7 L273.6,383.7 L274.5,383.7 L275.4,383.7 L276.3,383.7 L277.2,383.9 L278.1,384.2 L279.0,384.5 L279.9,385.0 L280.8,385.5 L281.7,386.0 L282.6,386.5 L283.5,387.1 L284.4,387.7 L285.3,388.4 L286.2,389.2 L287.2,390.1 L288.1,391.1 L289.0,392.2 L289.9,393.4 L290.8,394.6 L291.7,396.0 L292.6,397.7 L293.5,399.8 L294.4,402.2 L295.3,404.9 L296.2,407.7 L297.1,410.7 L298.0,413.6 L298.9,416.3 L299.8,418.9 L300.7,421.3 L301.6,423.9 L302.5,426.8 L303.4,430.2 L304.3,434.3 L305.2,439.5 L306.1,447.3 L307.0,457.6 L307.9,469.7 L308.8,483.9 L309.8,501.0 L310.7,501.0 L311.6,501.0 L312.5,501.0" fill="none" stroke="#fc8d62" stroke-width="1.45" stroke-dasharray="5 2.2"/>
<path d="M43.7,375.5 L49.5,374.9 L55.3,374.3 L61.1,373.8 L67.0,373.3 L72.8,372.8 L78.6,372.3 L84.4,371.9 L90.3,371.4 L96.1,371.0 L101.9,370.5 L107.7,369.9 L113.5,369.4 L119.4,368.9 L125.2,368.5 L131.0,368.3 L136.8,368.1 L142.7,368.0 L148.5,367.9 L154.3,367.8 L160.1,367.8 L166.0,367.9 L171.8,368.4 L177.6,369.0 L183.4,369.8 L189.2,370.5 L195.1,371.1 L200.9,371.5 L206.7,371.9 L212.5,372.3 L218.4,372.7 L224.2,373.2 L230.0,373.6 L235.8,374.2 L241.7,374.8 L247.5,375.3 L253.3,375.8 L259.1,376.6 L260.0,376.8 L260.9,377.1 L261.8,377.4 L262.7,377.8 L263.6,378.3 L264.5,378.8 L265.5,379.4 L266.4,380.1 L267.3,380.8 L268.2,381.5 L269.1,382.3 L270.0,383.1 L270.9,383.9 L271.8,384.8 L272.7,385.7 L273.6,386.6 L274.5,387.6 L275.4,388.5 L276.3,389.5 L277.2,390.7 L278.1,392.0 L279.0,393.4 L279.9,394.9 L280.8,396.5 L281.7,398.2 L282.6,399.9 L283.5,401.6 L284.4,403.4 L285.3,405.4 L286.2,407.4 L287.2,409.6 L288.1,411.9 L289.0,414.2 L289.9,416.5 L290.8,418.9 L291.7,421.2 L292.6,423.5 L293.5,425.9 L294.4,428.3 L295.3,430.7 L296.2,433.2 L297.1,435.7 L298.0,438.4 L298.9,441.1 L299.8,443.8 L300.7,446.6 L301.6,449.5 L302.5,452.5 L303.4,455.6 L304.3,458.9 L305.2,462.2 L306.1,465.8 L307.0,469.5 L307.9,473.3 L308.8,477.3 L309.8,481.4 L310.7,485.6 L311.6,490.0 L312.5,494.5" fill="none" stroke="#8da0cb" stroke-width="1.5"/>
<path d="M43.7,366.7 L49.5,366.4 L55.3,366.2 L61.1,366.1 L67.0,366.1 L72.8,366.2 L78.6,366.3 L84.4,366.4 L90.3,366.5 L96.1,366.6 L101.9,366.3 L107.7,365.7 L113.5,364.8 L119.4,363.8 L125.2,362.9 L131.0,362.3 L136.8,361.7 L142.7,361.2 L148.5,360.8 L154.3,360.3 L160.1,359.9 L166.0,359.5 L171.8,359.0 L177.6,358.5 L183.4,358.1 L189.2,357.8 L195.1,357.7 L200.9,357.8 L206.7,358.0 L212.5,358.4 L218.4,358.8 L224.2,359.3 L230.0,360.0 L235.8,361.3 L241.7,362.6 L247.5,363.8 L253.3,365.1 L259.1,366.6 L260.0,366.9 L260.9,367.2 L261.8,367.5 L262.7,367.9 L263.6,368.2 L264.5,368.6 L265.5,369.0 L266.4,369.4 L267.3,369.8 L268.2,370.2 L269.1,370.7 L270.0,371.2 L270.9,371.7 L271.8,372.3 L272.7,372.9 L273.6,373.5 L274.5,374.2 L275.4,374.9 L276.3,375.7 L277.2,376.8 L278.1,378.0 L279.0,379.4 L279.9,380.9 L280.8,382.4 L281.7,383.9 L282.6,385.4 L283.5,386.8 L284.4,388.1 L285.3,389.3 L286.2,390.5 L287.2,391.7 L288.1,393.0 L289.0,394.2 L289.9,395.5 L290.8,396.9 L291.7,398.3 L292.6,399.9 L293.5,401.5 L294.4,403.2 L295.3,405.0 L296.2,406.8 L297.1,408.7 L298.0,410.6 L298.9,412.6 L299.8,414.6 L300.7,416.8 L301.6,418.9 L302.5,421.1 L303.4,423.3 L304.3,425.4 L305.2,427.5 L306.1,429.5 L307.0,431.6 L307.9,433.6 L308.8,435.5 L309.8,437.5 L310.7,439.5 L311.6,441.4 L312.5,443.3" fill="none" stroke="#8da0cb" stroke-width="1.45" stroke-dasharray="5 2.2"/>
<path d="M43.7,385.1 L49.5,384.4 L55.3,383.6 L61.1,382.8 L67.0,381.9 L72.8,380.9 L78.6,379.8 L84.4,378.8 L90.3,377.9 L96.1,377.1 L101.9,376.5 L107.7,375.8 L113.5,375.3 L119.4,374.8 L125.2,374.6 L131.0,374.6 L136.8,374.6 L142.7,374.7 L148.5,374.8 L154.3,375.0 L160.1,375.2 L166.0,375.8 L171.8,377.3 L177.6,379.2 L183.4,381.3 L189.2,383.0 L195.1,384.1 L200.9,385.0 L206.7,385.8 L212.5,386.5 L218.4,387.0 L224.2,387.2 L230.0,387.2 L235.8,387.2 L241.7,387.2 L247.5,387.5 L253.3,388.7 L259.1,390.5 L260.0,390.9 L260.9,391.3 L261.8,391.8 L262.7,392.4 L263.6,393.1 L264.5,393.9 L265.5,394.7 L266.4,395.5 L267.3,396.5 L268.2,397.5 L269.1,398.5 L270.0,399.6 L270.9,400.7 L271.8,401.9 L272.7,403.1 L273.6,404.4 L274.5,405.6 L275.4,406.9 L276.3,408.3 L277.2,409.8 L278.1,411.5 L279.0,413.4 L279.9,415.4 L280.8,417.5 L281.7,419.7 L282.6,422.1 L283.5,424.5 L284.4,427.2 L285.3,430.2 L286.2,433.4 L287.2,436.9 L288.1,440.5 L289.0,444.2 L289.9,448.0 L290.8,451.7 L291.7,455.4 L292.6,459.1 L293.5,462.8 L294.4,466.5 L295.3,470.3 L296.2,474.2 L297.1,478.2 L298.0,482.2 L298.9,486.4 L299.8,490.7 L300.7,495.0 L301.6,499.4 L302.5,501.0 L303.4,501.0 L304.3,501.0 L305.2,501.0 L306.1,501.0 L307.0,501.0 L307.9,501.0 L308.8,501.0 L309.8,501.0 L310.7,501.0 L311.6,501.0 L312.5,501.0" fill="none" stroke="#8da0cb" stroke-width="1.45" stroke-dasharray="5 2.2"/>
</g>
<path d="M43.6,273.5 L43.6,468.5 L326.0,468.5" fill="none" stroke="#000" stroke-width="0.95" stroke-linecap="square"/>
<line x1="40.300000000000004" y1="468.5" x2="43.6" y2="468.5" stroke="#000" stroke-width="0.85"/>
<line x1="40.300000000000004" y1="436.0" x2="43.6" y2="436.0" stroke="#000" stroke-width="0.85"/>
<line x1="40.300000000000004" y1="403.5" x2="43.6" y2="403.5" stroke="#000" stroke-width="0.85"/>
<line x1="40.300000000000004" y1="371.0" x2="43.6" y2="371.0" stroke="#000" stroke-width="0.85"/>
<line x1="40.300000000000004" y1="338.5" x2="43.6" y2="338.5" stroke="#000" stroke-width="0.85"/>
<line x1="40.300000000000004" y1="306.0" x2="43.6" y2="306.0" stroke="#000" stroke-width="0.85"/>
<line x1="40.300000000000004" y1="273.5" x2="43.6" y2="273.5" stroke="#000" stroke-width="0.85"/>
<line x1="43.6" y1="468.5" x2="43.6" y2="470.4" stroke="#000" stroke-width="0.65"/>
<line x1="48.8" y1="468.5" x2="48.8" y2="470.4" stroke="#000" stroke-width="0.65"/>
<line x1="53.1" y1="468.5" x2="53.1" y2="470.4" stroke="#000" stroke-width="0.65"/>
<line x1="56.9" y1="468.5" x2="56.9" y2="470.4" stroke="#000" stroke-width="0.65"/>
<line x1="60.3" y1="468.5" x2="60.3" y2="470.4" stroke="#000" stroke-width="0.65"/>
<line x1="63.3" y1="468.5" x2="63.3" y2="471.8" stroke="#000" stroke-width="0.85"/>
<line x1="82.9" y1="468.5" x2="82.9" y2="470.4" stroke="#000" stroke-width="0.65"/>
<line x1="94.4" y1="468.5" x2="94.4" y2="470.4" stroke="#000" stroke-width="0.65"/>
<line x1="102.6" y1="468.5" x2="102.6" y2="470.4" stroke="#000" stroke-width="0.65"/>
<line x1="108.9" y1="468.5" x2="108.9" y2="470.4" stroke="#000" stroke-width="0.65"/>
<line x1="114.1" y1="468.5" x2="114.1" y2="470.4" stroke="#000" stroke-width="0.65"/>
<line x1="118.4" y1="468.5" x2="118.4" y2="470.4" stroke="#000" stroke-width="0.65"/>
<line x1="122.2" y1="468.5" x2="122.2" y2="470.4" stroke="#000" stroke-width="0.65"/>
<line x1="125.6" y1="468.5" x2="125.6" y2="470.4" stroke="#000" stroke-width="0.65"/>
<line x1="128.5" y1="468.5" x2="128.5" y2="471.8" stroke="#000" stroke-width="0.85"/>
<line x1="148.2" y1="468.5" x2="148.2" y2="470.4" stroke="#000" stroke-width="0.65"/>
<line x1="159.7" y1="468.5" x2="159.7" y2="470.4" stroke="#000" stroke-width="0.65"/>
<line x1="167.9" y1="468.5" x2="167.9" y2="470.4" stroke="#000" stroke-width="0.65"/>
<line x1="174.2" y1="468.5" x2="174.2" y2="470.4" stroke="#000" stroke-width="0.65"/>
<line x1="179.3" y1="468.5" x2="179.3" y2="470.4" stroke="#000" stroke-width="0.65"/>
<line x1="183.7" y1="468.5" x2="183.7" y2="470.4" stroke="#000" stroke-width="0.65"/>
<line x1="187.5" y1="468.5" x2="187.5" y2="470.4" stroke="#000" stroke-width="0.65"/>
<line x1="190.8" y1="468.5" x2="190.8" y2="470.4" stroke="#000" stroke-width="0.65"/>
<line x1="193.8" y1="468.5" x2="193.8" y2="471.8" stroke="#000" stroke-width="0.85"/>
<line x1="213.5" y1="468.5" x2="213.5" y2="470.4" stroke="#000" stroke-width="0.65"/>
<line x1="225.0" y1="468.5" x2="225.0" y2="470.4" stroke="#000" stroke-width="0.65"/>
<line x1="233.1" y1="468.5" x2="233.1" y2="470.4" stroke="#000" stroke-width="0.65"/>
<line x1="239.5" y1="468.5" x2="239.5" y2="470.4" stroke="#000" stroke-width="0.65"/>
<line x1="244.6" y1="468.5" x2="244.6" y2="470.4" stroke="#000" stroke-width="0.65"/>
<line x1="249.0" y1="468.5" x2="249.0" y2="470.4" stroke="#000" stroke-width="0.65"/>
<line x1="252.8" y1="468.5" x2="252.8" y2="470.4" stroke="#000" stroke-width="0.65"/>
<line x1="256.1" y1="468.5" x2="256.1" y2="470.4" stroke="#000" stroke-width="0.65"/>
<line x1="259.1" y1="468.5" x2="259.1" y2="471.8" stroke="#000" stroke-width="0.85"/>
<line x1="278.8" y1="468.5" x2="278.8" y2="470.4" stroke="#000" stroke-width="0.65"/>
<line x1="290.3" y1="468.5" x2="290.3" y2="470.4" stroke="#000" stroke-width="0.65"/>
<line x1="298.4" y1="468.5" x2="298.4" y2="470.4" stroke="#000" stroke-width="0.65"/>
<line x1="304.8" y1="468.5" x2="304.8" y2="470.4" stroke="#000" stroke-width="0.65"/>
<line x1="309.9" y1="468.5" x2="309.9" y2="470.4" stroke="#000" stroke-width="0.65"/>
<line x1="314.3" y1="468.5" x2="314.3" y2="470.4" stroke="#000" stroke-width="0.65"/>
<line x1="318.1" y1="468.5" x2="318.1" y2="470.4" stroke="#000" stroke-width="0.65"/>
<line x1="321.4" y1="468.5" x2="321.4" y2="470.4" stroke="#000" stroke-width="0.65"/>
<line x1="324.4" y1="468.5" x2="324.4" y2="471.8" stroke="#000" stroke-width="0.85"/>
<rect x="50.2" y="278.6" width="270.6" height="48.9" rx="2.2" fill="#fff" fill-opacity="0.8" stroke="#ccc" stroke-opacity="0.8" stroke-width="0.9"/>
<rect x="54.7" y="283.1" width="21.3" height="7.4" fill="#fff" stroke="none"/>
<rect x="56.8" y="283.6" width="16.7" height="6.4" fill="#66c2a5" fill-opacity="0.5" stroke="none"/>
<rect x="54.7" y="283.1" width="21.3" height="7.4" fill="none" stroke="#66c2a5" stroke-width="1.25" stroke-dasharray="2.9 1.8"/>
<line x1="63.5" y1="289.6" x2="69.6" y2="284.3" stroke="#757575" stroke-width="1.1"/>
<rect x="54.7" y="298.6" width="21.3" height="7.4" fill="#fff" stroke="none"/>
<rect x="56.8" y="299.1" width="16.7" height="6.4" fill="#fc8d62" fill-opacity="0.5" stroke="none"/>
<rect x="54.7" y="298.6" width="21.3" height="7.4" fill="none" stroke="#fc8d62" stroke-width="1.25" stroke-dasharray="2.9 1.8"/>
<line x1="62.9" y1="299.4" x2="69.0" y2="305.3" stroke="#757575" stroke-width="1.1"/>
<rect x="54.7" y="314.1" width="21.3" height="7.4" fill="#fff" stroke="none"/>
<rect x="56.8" y="314.6" width="16.7" height="6.4" fill="#8da0cb" fill-opacity="0.5" stroke="none"/>
<rect x="54.7" y="314.1" width="21.3" height="7.4" fill="none" stroke="#8da0cb" stroke-width="1.25" stroke-dasharray="2.9 1.8"/>
<line x1="415.4" y1="273.5" x2="415.4" y2="468.5" stroke="#efefef" stroke-width="0.8"/>
<line x1="480.6" y1="273.5" x2="480.6" y2="468.5" stroke="#efefef" stroke-width="0.8"/>
<line x1="545.9" y1="273.5" x2="545.9" y2="468.5" stroke="#efefef" stroke-width="0.8"/>
<line x1="611.2" y1="273.5" x2="611.2" y2="468.5" stroke="#efefef" stroke-width="0.8"/>
<line x1="676.5" y1="273.5" x2="676.5" y2="468.5" stroke="#efefef" stroke-width="0.8"/>
<line x1="395.7" y1="468.5" x2="677.9" y2="468.5" stroke="#efefef" stroke-width="0.8"/>
<line x1="395.7" y1="436.0" x2="677.9" y2="436.0" stroke="#efefef" stroke-width="0.8"/>
<line x1="395.7" y1="403.5" x2="677.9" y2="403.5" stroke="#efefef" stroke-width="0.8"/>
<line x1="395.7" y1="371.0" x2="677.9" y2="371.0" stroke="#efefef" stroke-width="0.8"/>
<line x1="395.7" y1="338.5" x2="677.9" y2="338.5" stroke="#efefef" stroke-width="0.8"/>
<line x1="395.7" y1="306.0" x2="677.9" y2="306.0" stroke="#efefef" stroke-width="0.8"/>
<line x1="395.7" y1="273.5" x2="677.9" y2="273.5" stroke="#efefef" stroke-width="0.8"/>
<g clip-path="url(#cp11)">
<path d="M395.8,359.6 L401.6,360.5 L407.4,361.4 L413.2,362.2 L419.1,363.1 L424.9,364.1 L430.7,365.1 L436.5,365.9 L442.4,366.6 L448.2,366.8 L454.0,366.8 L459.8,366.8 L465.6,366.8 L471.5,366.8 L477.3,366.8 L483.1,366.8 L488.9,366.5 L494.8,366.2 L500.6,365.7 L506.4,365.1 L512.2,364.6 L518.1,364.1 L523.9,363.5 L529.7,362.8 L535.5,362.1 L541.3,361.3 L547.2,360.4 L553.0,359.4 L558.8,358.2 L564.6,357.0 L570.5,355.6 L576.3,354.2 L582.1,352.7 L587.9,351.1 L593.8,349.5 L599.6,348.3 L605.4,347.3 L611.2,346.0 L612.1,345.7 L613.0,345.4 L613.9,345.1 L614.8,344.7 L615.7,344.4 L616.6,344.0 L617.6,343.5 L618.5,343.1 L619.4,342.6 L620.3,342.0 L621.2,341.4 L622.1,340.8 L623.0,340.2 L623.9,339.5 L624.8,338.7 L625.7,337.9 L626.6,337.1 L627.5,336.1 L628.4,335.1 L629.3,333.8 L630.2,332.2 L631.1,330.4 L632.0,328.3 L632.9,325.9 L633.8,323.1 L634.7,320.1 L635.6,316.7 L636.5,312.3 L637.4,306.1 L638.3,298.4 L639.3,289.3 L640.2,279.0 L641.1,266.8 L642.0,249.0 L642.9,241.0 L643.8,241.0 L644.7,241.0 L645.6,241.0 L646.5,241.0 L647.4,241.0 L648.3,241.0 L649.2,241.0 L650.1,241.0 L651.0,241.0 L651.9,241.0 L652.8,241.0 L653.7,241.0 L654.6,241.0 L655.5,241.0 L656.4,241.0 L657.3,241.0 L658.2,241.0 L659.1,241.0 L660.0,241.0 L660.9,241.0 L661.9,241.0 L662.8,241.0 L663.7,241.0 L664.6,241.0 L664.6,501.0 L663.7,501.0 L662.8,501.0 L661.9,501.0 L660.9,501.0 L660.0,501.0 L659.1,501.0 L658.2,501.0 L657.3,501.0 L656.4,501.0 L655.5,501.0 L654.6,501.0 L653.7,501.0 L652.8,501.0 L651.9,501.0 L651.0,501.0 L650.1,501.0 L649.2,501.0 L648.3,501.0 L647.4,501.0 L646.5,501.0 L645.6,501.0 L644.7,501.0 L643.8,501.0 L642.9,501.0 L642.0,489.1 L641.1,470.9 L640.2,461.5 L639.3,455.3 L638.3,450.3 L637.4,446.2 L636.5,442.6 L635.6,438.9 L634.7,435.3 L633.8,431.7 L632.9,428.2 L632.0,424.9 L631.1,421.8 L630.2,419.0 L629.3,416.5 L628.4,414.3 L627.5,412.5 L626.6,410.9 L625.7,409.4 L624.8,408.0 L623.9,406.7 L623.0,405.4 L622.1,404.2 L621.2,403.0 L620.3,401.9 L619.4,400.9 L618.5,399.9 L617.6,399.0 L616.6,398.1 L615.7,397.3 L614.8,396.6 L613.9,395.9 L613.0,395.2 L612.1,394.6 L611.2,394.1 L605.4,391.1 L599.6,388.9 L593.8,387.3 L587.9,385.9 L582.1,384.8 L576.3,384.0 L570.5,383.3 L564.6,382.7 L558.8,382.2 L553.0,381.8 L547.2,381.5 L541.3,381.2 L535.5,381.0 L529.7,380.8 L523.9,380.6 L518.1,380.4 L512.2,380.0 L506.4,379.3 L500.6,378.3 L494.8,377.2 L488.9,376.2 L483.1,375.6 L477.3,375.6 L471.5,375.6 L465.6,375.7 L459.8,375.8 L454.0,376.0 L448.2,376.2 L442.4,376.6 L436.5,377.4 L430.7,378.3 L424.9,379.3 L419.1,380.3 L413.2,381.0 L407.4,381.6 L401.6,382.2 L395.8,382.7 Z" fill="#66c2a5" fill-opacity="0.5" stroke="#66c2a5" stroke-opacity="0.85" stroke-width="0.9"/>
<path d="M395.8,359.6 L401.6,360.5 L407.4,361.4 L413.2,362.2 L419.1,363.1 L424.9,364.1 L430.7,365.1 L436.5,365.9 L442.4,366.6 L448.2,366.8 L454.0,366.8 L459.8,366.8 L465.6,366.8 L471.5,366.8 L477.3,366.8 L483.1,366.8 L488.9,366.5 L494.8,366.2 L500.6,365.7 L506.4,365.1 L512.2,364.6 L518.1,364.1 L523.9,363.5 L529.7,362.8 L535.5,362.1 L541.3,361.3 L547.2,360.4 L553.0,359.4 L558.8,358.2 L564.6,357.0 L570.5,355.6 L576.3,354.2 L582.1,352.7 L587.9,351.1 L593.8,349.5 L599.6,348.3 L605.4,347.3 L611.2,346.0 L612.1,345.7 L613.0,345.4 L613.9,345.1 L614.8,344.7 L615.7,344.4 L616.6,344.0 L617.6,343.5 L618.5,343.1 L619.4,342.6 L620.3,342.0 L621.2,341.4 L622.1,340.8 L623.0,340.2 L623.9,339.5 L624.8,338.7 L625.7,337.9 L626.6,337.1 L627.5,336.1 L628.4,335.1 L629.3,333.8 L630.2,332.2 L631.1,330.4 L632.0,328.3 L632.9,325.9 L633.8,323.1 L634.7,320.1 L635.6,316.7 L636.5,312.3 L637.4,306.1 L638.3,298.4 L639.3,289.3 L640.2,279.0 L641.1,266.8 L642.0,249.0 L642.9,241.0 L643.8,241.0 L644.7,241.0 L645.6,241.0 L646.5,241.0 L647.4,241.0 L648.3,241.0 L649.2,241.0 L650.1,241.0 L651.0,241.0 L651.9,241.0 L652.8,241.0 L653.7,241.0 L654.6,241.0 L655.5,241.0 L656.4,241.0 L657.3,241.0 L658.2,241.0 L659.1,241.0 L660.0,241.0 L660.9,241.0 L661.9,241.0 L662.8,241.0 L663.7,241.0 L664.6,241.0 L664.6,501.0 L663.7,501.0 L662.8,501.0 L661.9,501.0 L660.9,501.0 L660.0,501.0 L659.1,501.0 L658.2,501.0 L657.3,501.0 L656.4,501.0 L655.5,501.0 L654.6,501.0 L653.7,501.0 L652.8,501.0 L651.9,501.0 L651.0,501.0 L650.1,501.0 L649.2,501.0 L648.3,501.0 L647.4,501.0 L646.5,501.0 L645.6,501.0 L644.7,501.0 L643.8,501.0 L642.9,501.0 L642.0,489.1 L641.1,470.9 L640.2,461.5 L639.3,455.3 L638.3,450.3 L637.4,446.2 L636.5,442.6 L635.6,438.9 L634.7,435.3 L633.8,431.7 L632.9,428.2 L632.0,424.9 L631.1,421.8 L630.2,419.0 L629.3,416.5 L628.4,414.3 L627.5,412.5 L626.6,410.9 L625.7,409.4 L624.8,408.0 L623.9,406.7 L623.0,405.4 L622.1,404.2 L621.2,403.0 L620.3,401.9 L619.4,400.9 L618.5,399.9 L617.6,399.0 L616.6,398.1 L615.7,397.3 L614.8,396.6 L613.9,395.9 L613.0,395.2 L612.1,394.6 L611.2,394.1 L605.4,391.1 L599.6,388.9 L593.8,387.3 L587.9,385.9 L582.1,384.8 L576.3,384.0 L570.5,383.3 L564.6,382.7 L558.8,382.2 L553.0,381.8 L547.2,381.5 L541.3,381.2 L535.5,381.0 L529.7,380.8 L523.9,380.6 L518.1,380.4 L512.2,380.0 L506.4,379.3 L500.6,378.3 L494.8,377.2 L488.9,376.2 L483.1,375.6 L477.3,375.6 L471.5,375.6 L465.6,375.7 L459.8,375.8 L454.0,376.0 L448.2,376.2 L442.4,376.6 L436.5,377.4 L430.7,378.3 L424.9,379.3 L419.1,380.3 L413.2,381.0 L407.4,381.6 L401.6,382.2 L395.8,382.7 Z" fill="url(#h0)" stroke="none"/>
<path d="M395.8,364.1 L401.6,364.4 L407.4,364.7 L413.2,365.0 L419.1,365.4 L424.9,365.7 L430.7,366.1 L436.5,366.4 L442.4,366.7 L448.2,366.8 L454.0,366.7 L459.8,366.5 L465.6,366.2 L471.5,366.0 L477.3,365.8 L483.1,365.8 L488.9,366.3 L494.8,367.1 L500.6,368.3 L506.4,369.5 L512.2,370.8 L518.1,372.2 L523.9,374.2 L529.7,376.4 L535.5,378.5 L541.3,380.2 L547.2,381.2 L553.0,381.8 L558.8,382.4 L564.6,382.8 L570.5,383.2 L576.3,383.3 L582.1,382.9 L587.9,380.7 L593.8,378.0 L599.6,375.8 L605.4,373.6 L611.2,371.0 L612.1,370.6 L613.0,370.1 L613.9,369.6 L614.8,369.2 L615.7,368.7 L616.6,368.2 L617.6,367.7 L618.5,367.2 L619.4,366.6 L620.3,366.0 L621.2,365.4 L622.1,364.8 L623.0,364.2 L623.9,363.5 L624.8,362.7 L625.7,361.9 L626.6,361.1 L627.5,360.3 L628.4,359.3 L629.3,358.2 L630.2,357.0 L631.1,355.6 L632.0,354.1 L632.9,352.5 L633.8,350.8 L634.7,349.0 L635.6,347.1 L636.5,345.1 L637.4,343.1 L638.3,340.7 L639.3,337.8 L640.2,334.1 L641.1,329.1 L642.0,320.1 L642.9,308.4 L643.8,295.9 L644.7,283.4 L645.6,269.7 L646.5,253.9 L647.4,241.0 L648.3,241.0 L649.2,241.0 L650.1,241.0 L651.0,241.0 L651.9,241.0 L652.8,241.0 L653.7,241.0 L654.6,241.0 L655.5,241.0 L656.4,241.0 L657.3,241.0 L658.2,241.0 L659.1,241.0 L660.0,241.0 L660.9,241.0 L661.9,241.0 L662.8,241.0 L663.7,241.0 L664.6,241.0 L664.6,501.0 L663.7,501.0 L662.8,501.0 L661.9,501.0 L660.9,501.0 L660.0,501.0 L659.1,501.0 L658.2,501.0 L657.3,501.0 L656.4,501.0 L655.5,501.0 L654.6,501.0 L653.7,501.0 L652.8,501.0 L651.9,501.0 L651.0,501.0 L650.1,501.0 L649.2,501.0 L648.3,501.0 L647.4,501.0 L646.5,501.0 L645.6,501.0 L644.7,501.0 L643.8,501.0 L642.9,501.0 L642.0,501.0 L641.1,501.0 L640.2,495.8 L639.3,486.4 L638.3,478.3 L637.4,471.4 L636.5,465.4 L635.6,460.3 L634.7,455.7 L633.8,451.3 L632.9,447.1 L632.0,443.4 L631.1,439.9 L630.2,436.8 L629.3,434.1 L628.4,431.9 L627.5,430.1 L626.6,428.5 L625.7,426.9 L624.8,425.4 L623.9,424.0 L623.0,422.6 L622.1,421.2 L621.2,420.0 L620.3,418.8 L619.4,417.7 L618.5,416.7 L617.6,415.8 L616.6,415.0 L615.7,414.3 L614.8,413.7 L613.9,413.2 L613.0,412.9 L612.1,412.7 L611.2,412.6 L605.4,413.2 L599.6,414.2 L593.8,415.0 L587.9,415.4 L582.1,415.8 L576.3,415.8 L570.5,414.8 L564.6,413.0 L558.8,410.6 L553.0,408.0 L547.2,405.3 L541.3,402.6 L535.5,399.2 L529.7,395.5 L523.9,391.8 L518.1,388.6 L512.2,386.2 L506.4,384.2 L500.6,382.2 L494.8,380.4 L488.9,379.1 L483.1,378.4 L477.3,378.3 L471.5,378.3 L465.6,378.3 L459.8,378.3 L454.0,378.3 L448.2,378.3 L442.4,378.5 L436.5,379.0 L430.7,379.8 L424.9,380.6 L419.1,381.5 L413.2,382.3 L407.4,383.2 L401.6,384.2 L395.8,385.3 Z" fill="#fc8d62" fill-opacity="0.5" stroke="#fc8d62" stroke-opacity="0.85" stroke-width="0.9"/>
<path d="M395.8,364.1 L401.6,364.4 L407.4,364.7 L413.2,365.0 L419.1,365.4 L424.9,365.7 L430.7,366.1 L436.5,366.4 L442.4,366.7 L448.2,366.8 L454.0,366.7 L459.8,366.5 L465.6,366.2 L471.5,366.0 L477.3,365.8 L483.1,365.8 L488.9,366.3 L494.8,367.1 L500.6,368.3 L506.4,369.5 L512.2,370.8 L518.1,372.2 L523.9,374.2 L529.7,376.4 L535.5,378.5 L541.3,380.2 L547.2,381.2 L553.0,381.8 L558.8,382.4 L564.6,382.8 L570.5,383.2 L576.3,383.3 L582.1,382.9 L587.9,380.7 L593.8,378.0 L599.6,375.8 L605.4,373.6 L611.2,371.0 L612.1,370.6 L613.0,370.1 L613.9,369.6 L614.8,369.2 L615.7,368.7 L616.6,368.2 L617.6,367.7 L618.5,367.2 L619.4,366.6 L620.3,366.0 L621.2,365.4 L622.1,364.8 L623.0,364.2 L623.9,363.5 L624.8,362.7 L625.7,361.9 L626.6,361.1 L627.5,360.3 L628.4,359.3 L629.3,358.2 L630.2,357.0 L631.1,355.6 L632.0,354.1 L632.9,352.5 L633.8,350.8 L634.7,349.0 L635.6,347.1 L636.5,345.1 L637.4,343.1 L638.3,340.7 L639.3,337.8 L640.2,334.1 L641.1,329.1 L642.0,320.1 L642.9,308.4 L643.8,295.9 L644.7,283.4 L645.6,269.7 L646.5,253.9 L647.4,241.0 L648.3,241.0 L649.2,241.0 L650.1,241.0 L651.0,241.0 L651.9,241.0 L652.8,241.0 L653.7,241.0 L654.6,241.0 L655.5,241.0 L656.4,241.0 L657.3,241.0 L658.2,241.0 L659.1,241.0 L660.0,241.0 L660.9,241.0 L661.9,241.0 L662.8,241.0 L663.7,241.0 L664.6,241.0 L664.6,501.0 L663.7,501.0 L662.8,501.0 L661.9,501.0 L660.9,501.0 L660.0,501.0 L659.1,501.0 L658.2,501.0 L657.3,501.0 L656.4,501.0 L655.5,501.0 L654.6,501.0 L653.7,501.0 L652.8,501.0 L651.9,501.0 L651.0,501.0 L650.1,501.0 L649.2,501.0 L648.3,501.0 L647.4,501.0 L646.5,501.0 L645.6,501.0 L644.7,501.0 L643.8,501.0 L642.9,501.0 L642.0,501.0 L641.1,501.0 L640.2,495.8 L639.3,486.4 L638.3,478.3 L637.4,471.4 L636.5,465.4 L635.6,460.3 L634.7,455.7 L633.8,451.3 L632.9,447.1 L632.0,443.4 L631.1,439.9 L630.2,436.8 L629.3,434.1 L628.4,431.9 L627.5,430.1 L626.6,428.5 L625.7,426.9 L624.8,425.4 L623.9,424.0 L623.0,422.6 L622.1,421.2 L621.2,420.0 L620.3,418.8 L619.4,417.7 L618.5,416.7 L617.6,415.8 L616.6,415.0 L615.7,414.3 L614.8,413.7 L613.9,413.2 L613.0,412.9 L612.1,412.7 L611.2,412.6 L605.4,413.2 L599.6,414.2 L593.8,415.0 L587.9,415.4 L582.1,415.8 L576.3,415.8 L570.5,414.8 L564.6,413.0 L558.8,410.6 L553.0,408.0 L547.2,405.3 L541.3,402.6 L535.5,399.2 L529.7,395.5 L523.9,391.8 L518.1,388.6 L512.2,386.2 L506.4,384.2 L500.6,382.2 L494.8,380.4 L488.9,379.1 L483.1,378.4 L477.3,378.3 L471.5,378.3 L465.6,378.3 L459.8,378.3 L454.0,378.3 L448.2,378.3 L442.4,378.5 L436.5,379.0 L430.7,379.8 L424.9,380.6 L419.1,381.5 L413.2,382.3 L407.4,383.2 L401.6,384.2 L395.8,385.3 Z" fill="url(#h1)" stroke="none"/>
<path d="M395.8,365.8 L401.6,365.8 L407.4,365.8 L413.2,365.8 L419.1,365.8 L424.9,366.0 L430.7,366.2 L436.5,366.5 L442.4,366.7 L448.2,366.8 L454.0,366.6 L459.8,366.1 L465.6,365.4 L471.5,364.6 L477.3,363.8 L483.1,363.2 L488.9,362.6 L494.8,362.0 L500.6,361.4 L506.4,360.9 L512.2,360.3 L518.1,359.8 L523.9,359.4 L529.7,358.9 L535.5,358.5 L541.3,357.9 L547.2,357.2 L553.0,355.9 L558.8,354.1 L564.6,352.2 L570.5,350.3 L576.3,348.7 L582.1,347.6 L587.9,346.6 L593.8,346.0 L599.6,346.2 L605.4,346.7 L611.2,346.9 L612.1,346.9 L613.0,346.9 L613.9,346.7 L614.8,346.6 L615.7,346.4 L616.6,346.2 L617.6,345.9 L618.5,345.6 L619.4,345.2 L620.3,344.8 L621.2,344.4 L622.1,343.9 L623.0,343.4 L623.9,342.9 L624.8,342.3 L625.7,341.8 L626.6,341.1 L627.5,340.5 L628.4,339.7 L629.3,338.5 L630.2,337.1 L631.1,335.4 L632.0,333.3 L632.9,331.0 L633.8,328.4 L634.7,325.6 L635.6,322.5 L636.5,318.7 L637.4,313.6 L638.3,307.3 L639.3,299.8 L640.2,291.2 L641.1,280.8 L642.0,265.5 L642.9,247.5 L643.8,241.0 L644.7,241.0 L645.6,241.0 L646.5,241.0 L647.4,241.0 L648.3,241.0 L649.2,241.0 L650.1,241.0 L651.0,241.0 L651.9,241.0 L652.8,241.0 L653.7,241.0 L654.6,241.0 L655.5,241.0 L656.4,241.0 L657.3,241.0 L658.2,241.0 L659.1,241.0 L660.0,241.0 L660.9,241.0 L661.9,241.0 L662.8,241.0 L663.7,241.0 L664.6,241.0 L664.6,501.0 L663.7,501.0 L662.8,501.0 L661.9,501.0 L660.9,501.0 L660.0,501.0 L659.1,501.0 L658.2,501.0 L657.3,501.0 L656.4,501.0 L655.5,501.0 L654.6,501.0 L653.7,501.0 L652.8,501.0 L651.9,501.0 L651.0,501.0 L650.1,501.0 L649.2,501.0 L648.3,501.0 L647.4,501.0 L646.5,501.0 L645.6,501.0 L644.7,501.0 L643.8,501.0 L642.9,501.0 L642.0,492.1 L641.1,474.6 L640.2,463.9 L639.3,455.8 L638.3,448.9 L637.4,443.1 L636.5,438.4 L635.6,434.4 L634.7,431.0 L633.8,427.8 L632.9,425.0 L632.0,422.5 L631.1,420.1 L630.2,418.0 L629.3,416.0 L628.4,414.2 L627.5,412.5 L626.6,410.9 L625.7,409.3 L624.8,407.7 L623.9,406.2 L623.0,404.8 L622.1,403.4 L621.2,402.1 L620.3,400.8 L619.4,399.6 L618.5,398.4 L617.6,397.3 L616.6,396.2 L615.7,395.2 L614.8,394.2 L613.9,393.3 L613.0,392.4 L612.1,391.6 L611.2,390.8 L605.4,386.3 L599.6,382.7 L593.8,380.8 L587.9,379.8 L582.1,379.1 L576.3,378.7 L570.5,378.4 L564.6,378.2 L558.8,378.0 L553.0,377.8 L547.2,377.6 L541.3,377.1 L535.5,376.3 L529.7,375.3 L523.9,374.4 L518.1,373.8 L512.2,373.6 L506.4,373.6 L500.6,373.7 L494.8,373.8 L488.9,374.0 L483.1,374.2 L477.3,374.4 L471.5,374.8 L465.6,375.4 L459.8,376.1 L454.0,376.8 L448.2,377.5 L442.4,378.2 L436.5,379.0 L430.7,379.8 L424.9,380.6 L419.1,381.5 L413.2,382.4 L407.4,383.3 L401.6,384.3 L395.8,385.3 Z" fill="#8da0cb" fill-opacity="0.5" stroke="#8da0cb" stroke-opacity="0.85" stroke-width="0.9"/>
<path d="M395.8,365.8 L401.6,365.8 L407.4,365.8 L413.2,365.8 L419.1,365.8 L424.9,366.0 L430.7,366.2 L436.5,366.5 L442.4,366.7 L448.2,366.8 L454.0,366.6 L459.8,366.1 L465.6,365.4 L471.5,364.6 L477.3,363.8 L483.1,363.2 L488.9,362.6 L494.8,362.0 L500.6,361.4 L506.4,360.9 L512.2,360.3 L518.1,359.8 L523.9,359.4 L529.7,358.9 L535.5,358.5 L541.3,357.9 L547.2,357.2 L553.0,355.9 L558.8,354.1 L564.6,352.2 L570.5,350.3 L576.3,348.7 L582.1,347.6 L587.9,346.6 L593.8,346.0 L599.6,346.2 L605.4,346.7 L611.2,346.9 L612.1,346.9 L613.0,346.9 L613.9,346.7 L614.8,346.6 L615.7,346.4 L616.6,346.2 L617.6,345.9 L618.5,345.6 L619.4,345.2 L620.3,344.8 L621.2,344.4 L622.1,343.9 L623.0,343.4 L623.9,342.9 L624.8,342.3 L625.7,341.8 L626.6,341.1 L627.5,340.5 L628.4,339.7 L629.3,338.5 L630.2,337.1 L631.1,335.4 L632.0,333.3 L632.9,331.0 L633.8,328.4 L634.7,325.6 L635.6,322.5 L636.5,318.7 L637.4,313.6 L638.3,307.3 L639.3,299.8 L640.2,291.2 L641.1,280.8 L642.0,265.5 L642.9,247.5 L643.8,241.0 L644.7,241.0 L645.6,241.0 L646.5,241.0 L647.4,241.0 L648.3,241.0 L649.2,241.0 L650.1,241.0 L651.0,241.0 L651.9,241.0 L652.8,241.0 L653.7,241.0 L654.6,241.0 L655.5,241.0 L656.4,241.0 L657.3,241.0 L658.2,241.0 L659.1,241.0 L660.0,241.0 L660.9,241.0 L661.9,241.0 L662.8,241.0 L663.7,241.0 L664.6,241.0 L664.6,501.0 L663.7,501.0 L662.8,501.0 L661.9,501.0 L660.9,501.0 L660.0,501.0 L659.1,501.0 L658.2,501.0 L657.3,501.0 L656.4,501.0 L655.5,501.0 L654.6,501.0 L653.7,501.0 L652.8,501.0 L651.9,501.0 L651.0,501.0 L650.1,501.0 L649.2,501.0 L648.3,501.0 L647.4,501.0 L646.5,501.0 L645.6,501.0 L644.7,501.0 L643.8,501.0 L642.9,501.0 L642.0,492.1 L641.1,474.6 L640.2,463.9 L639.3,455.8 L638.3,448.9 L637.4,443.1 L636.5,438.4 L635.6,434.4 L634.7,431.0 L633.8,427.8 L632.9,425.0 L632.0,422.5 L631.1,420.1 L630.2,418.0 L629.3,416.0 L628.4,414.2 L627.5,412.5 L626.6,410.9 L625.7,409.3 L624.8,407.7 L623.9,406.2 L623.0,404.8 L622.1,403.4 L621.2,402.1 L620.3,400.8 L619.4,399.6 L618.5,398.4 L617.6,397.3 L616.6,396.2 L615.7,395.2 L614.8,394.2 L613.9,393.3 L613.0,392.4 L612.1,391.6 L611.2,390.8 L605.4,386.3 L599.6,382.7 L593.8,380.8 L587.9,379.8 L582.1,379.1 L576.3,378.7 L570.5,378.4 L564.6,378.2 L558.8,378.0 L553.0,377.8 L547.2,377.6 L541.3,377.1 L535.5,376.3 L529.7,375.3 L523.9,374.4 L518.1,373.8 L512.2,373.6 L506.4,373.6 L500.6,373.7 L494.8,373.8 L488.9,374.0 L483.1,374.2 L477.3,374.4 L471.5,374.8 L465.6,375.4 L459.8,376.1 L454.0,376.8 L448.2,377.5 L442.4,378.2 L436.5,379.0 L430.7,379.8 L424.9,380.6 L419.1,381.5 L413.2,382.4 L407.4,383.3 L401.6,384.3 L395.8,385.3 Z" fill="url(#h2)" stroke="none"/>
<path d="M395.8,371.0 L401.6,371.0 L407.4,371.0 L413.2,371.0 L419.1,371.0 L424.9,371.0 L430.7,371.0 L436.5,371.0 L442.4,371.0 L448.2,371.0 L454.0,371.0 L459.8,371.0 L465.6,371.0 L471.5,371.0 L477.3,371.0 L483.1,371.0 L488.9,371.0 L494.8,371.0 L500.6,371.0 L506.4,371.0 L512.2,371.0 L518.1,371.0 L523.9,371.0 L529.7,371.0 L535.5,371.0 L541.3,371.0 L547.2,371.0 L553.0,371.0 L558.8,371.0 L564.6,371.0 L570.5,371.0 L576.3,371.0 L582.1,371.0 L587.9,371.0 L593.8,371.0 L599.6,371.0 L605.4,371.0 L611.2,371.0 L612.1,371.0 L613.0,371.0 L613.9,371.0 L614.8,371.0 L615.7,371.0 L616.6,371.0 L617.6,371.0 L618.5,371.0 L619.4,371.0 L620.3,371.0 L621.2,371.0 L622.1,371.0 L623.0,371.0 L623.9,371.0 L624.8,371.0 L625.7,371.0 L626.6,371.0 L627.5,371.0 L628.4,371.0 L629.3,371.0 L630.2,371.0 L631.1,371.0 L632.0,371.0 L632.9,371.0 L633.8,371.0 L634.7,371.0 L635.6,371.0 L636.5,371.0 L637.4,371.0 L638.3,371.0 L639.3,371.0 L640.2,371.0 L641.1,371.0 L642.0,371.0 L642.9,371.0 L643.8,371.0 L644.7,371.0 L645.6,371.0 L646.5,371.0 L647.4,371.0 L648.3,371.0 L649.2,371.0 L650.1,371.0 L651.0,371.0 L651.9,371.0 L652.8,371.0 L653.7,371.0 L654.6,371.0 L655.5,371.0 L656.4,371.0 L657.3,371.0 L658.2,371.0 L659.1,371.0 L660.0,371.0 L660.9,371.0 L661.9,371.0 L662.8,371.0 L663.7,371.0 L664.6,371.0" fill="none" stroke="#66c2a5" stroke-width="1.5"/>
<path d="M395.8,359.0 L401.6,360.0 L407.4,360.9 L413.2,361.8 L419.1,362.7 L424.9,363.7 L430.7,364.8 L436.5,365.7 L442.4,366.3 L448.2,366.6 L454.0,366.6 L459.8,366.6 L465.6,366.6 L471.5,366.6 L477.3,366.6 L483.1,366.5 L488.9,366.3 L494.8,365.9 L500.6,365.4 L506.4,364.8 L512.2,364.3 L518.1,363.7 L523.9,363.1 L529.7,362.4 L535.5,361.6 L541.3,360.8 L547.2,359.9 L553.0,358.8 L558.8,357.6 L564.6,356.2 L570.5,354.8 L576.3,353.4 L582.1,351.8 L587.9,350.1 L593.8,348.4 L599.6,347.2 L605.4,346.2 L611.2,344.7 L612.1,344.4 L613.0,344.1 L613.9,343.8 L614.8,343.4 L615.7,343.0 L616.6,342.6 L617.6,342.1 L618.5,341.7 L619.4,341.1 L620.3,340.6 L621.2,340.0 L622.1,339.3 L623.0,338.6 L623.9,337.9 L624.8,337.1 L625.7,336.3 L626.6,335.4 L627.5,334.4 L628.4,333.3 L629.3,331.9 L630.2,330.3 L631.1,328.4 L632.0,326.2 L632.9,323.6 L633.8,320.7 L634.7,317.5 L635.6,314.0 L636.5,309.4 L637.4,302.9 L638.3,294.8 L639.3,285.2 L640.2,274.4 L641.1,261.6 L642.0,242.9 L642.9,241.0 L643.8,241.0 L644.7,241.0 L645.6,241.0 L646.5,241.0 L647.4,241.0 L648.3,241.0 L649.2,241.0 L650.1,241.0 L651.0,241.0 L651.9,241.0 L652.8,241.0 L653.7,241.0 L654.6,241.0 L655.5,241.0 L656.4,241.0 L657.3,241.0 L658.2,241.0 L659.1,241.0 L660.0,241.0 L660.9,241.0 L661.9,241.0 L662.8,241.0 L663.7,241.0 L664.6,241.0" fill="none" stroke="#66c2a5" stroke-width="1.45" stroke-dasharray="5 2.2"/>
<path d="M395.8,383.3 L401.6,382.7 L407.4,382.1 L413.2,381.5 L419.1,380.7 L424.9,379.8 L430.7,378.7 L436.5,377.7 L442.4,376.9 L448.2,376.5 L454.0,376.3 L459.8,376.1 L465.6,375.9 L471.5,375.8 L477.3,375.8 L483.1,375.8 L488.9,376.4 L494.8,377.5 L500.6,378.6 L506.4,379.7 L512.2,380.5 L518.1,380.8 L523.9,381.1 L529.7,381.3 L535.5,381.5 L541.3,381.7 L547.2,382.0 L553.0,382.4 L558.8,382.8 L564.6,383.3 L570.5,383.9 L576.3,384.6 L582.1,385.5 L587.9,386.6 L593.8,388.1 L599.6,389.8 L605.4,392.1 L611.2,395.2 L612.1,395.8 L613.0,396.4 L613.9,397.1 L614.8,397.9 L615.7,398.6 L616.6,399.5 L617.6,400.4 L618.5,401.4 L619.4,402.4 L620.3,403.5 L621.2,404.6 L622.1,405.8 L623.0,407.1 L623.9,408.5 L624.8,409.9 L625.7,411.4 L626.6,412.9 L627.5,414.6 L628.4,416.5 L629.3,418.8 L630.2,421.4 L631.1,424.4 L632.0,427.6 L632.9,431.0 L633.8,434.7 L634.7,438.5 L635.6,442.3 L636.5,446.2 L637.4,450.0 L638.3,454.3 L639.3,459.5 L640.2,466.0 L641.1,475.9 L642.0,495.0 L642.9,501.0 L643.8,501.0 L644.7,501.0 L645.6,501.0 L646.5,501.0 L647.4,501.0 L648.3,501.0 L649.2,501.0 L650.1,501.0 L651.0,501.0 L651.9,501.0 L652.8,501.0 L653.7,501.0 L654.6,501.0 L655.5,501.0 L656.4,501.0 L657.3,501.0 L658.2,501.0 L659.1,501.0 L660.0,501.0 L660.9,501.0 L661.9,501.0 L662.8,501.0 L663.7,501.0 L664.6,501.0" fill="none" stroke="#66c2a5" stroke-width="1.45" stroke-dasharray="5 2.2"/>
<path d="M395.8,374.9 L401.6,374.5 L407.4,374.1 L413.2,373.7 L419.1,373.4 L424.9,373.1 L430.7,372.8 L436.5,372.5 L442.4,372.4 L448.2,372.3 L454.0,372.3 L459.8,372.3 L465.6,372.3 L471.5,372.3 L477.3,372.3 L483.1,372.4 L488.9,372.9 L494.8,373.9 L500.6,375.3 L506.4,376.9 L512.2,378.5 L518.1,380.5 L523.9,383.2 L529.7,386.4 L535.5,389.5 L541.3,392.2 L547.2,394.1 L553.0,395.6 L558.8,397.0 L564.6,398.2 L570.5,399.1 L576.3,399.6 L582.1,399.3 L587.9,398.1 L593.8,396.6 L599.6,395.3 L605.4,394.1 L611.2,393.1 L612.1,393.0 L613.0,392.9 L613.9,392.8 L614.8,392.7 L615.7,392.6 L616.6,392.5 L617.6,392.4 L618.5,392.3 L619.4,392.2 L620.3,392.1 L621.2,392.1 L622.1,392.0 L623.0,391.9 L623.9,391.9 L624.8,391.9 L625.7,391.8 L626.6,391.8 L627.5,391.8 L628.4,392.0 L629.3,392.7 L630.2,393.8 L631.1,395.2 L632.0,396.8 L632.9,398.6 L633.8,400.5 L634.7,402.3 L635.6,404.0 L636.5,405.8 L637.4,407.7 L638.3,409.8 L639.3,411.9 L640.2,413.9 L641.1,415.9 L642.0,418.3 L642.9,420.4 L643.8,421.4 L644.7,421.0 L645.6,419.7 L646.5,417.9 L647.4,415.9 L648.3,412.6 L649.2,408.6 L650.1,405.0 L651.0,402.5 L651.9,400.1 L652.8,398.0 L653.7,396.6 L654.6,396.5 L655.5,398.0 L656.4,400.7 L657.3,403.5 L658.2,405.6 L659.1,406.1 L660.0,405.8 L660.9,405.3 L661.9,404.5 L662.8,402.9 L663.7,399.5 L664.6,395.0" fill="none" stroke="#fc8d62" stroke-width="1.5"/>
<path d="M395.8,363.6 L401.6,363.9 L407.4,364.3 L413.2,364.6 L419.1,365.0 L424.9,365.4 L430.7,365.8 L436.5,366.1 L442.4,366.4 L448.2,366.5 L454.0,366.4 L459.8,366.2 L465.6,365.9 L471.5,365.7 L477.3,365.5 L483.1,365.5 L488.9,366.0 L494.8,366.8 L500.6,367.9 L506.4,369.1 L512.2,370.4 L518.1,371.8 L523.9,373.8 L529.7,375.9 L535.5,378.0 L541.3,379.6 L547.2,380.5 L553.0,381.1 L558.8,381.6 L564.6,382.1 L570.5,382.4 L576.3,382.5 L582.1,382.1 L587.9,379.8 L593.8,377.0 L599.6,374.8 L605.4,372.6 L611.2,369.9 L612.1,369.4 L613.0,369.0 L613.9,368.5 L614.8,368.0 L615.7,367.5 L616.6,367.0 L617.6,366.5 L618.5,365.9 L619.4,365.3 L620.3,364.7 L621.2,364.1 L622.1,363.5 L623.0,362.8 L623.9,362.0 L624.8,361.3 L625.7,360.4 L626.6,359.6 L627.5,358.7 L628.4,357.7 L629.3,356.5 L630.2,355.1 L631.1,353.6 L632.0,352.0 L632.9,350.2 L633.8,348.4 L634.7,346.4 L635.6,344.3 L636.5,342.1 L637.4,339.8 L638.3,337.2 L639.3,334.1 L640.2,330.1 L641.1,324.7 L642.0,315.2 L642.9,302.8 L643.8,289.6 L644.7,276.5 L645.6,262.2 L646.5,245.7 L647.4,241.0 L648.3,241.0 L649.2,241.0 L650.1,241.0 L651.0,241.0 L651.9,241.0 L652.8,241.0 L653.7,241.0 L654.6,241.0 L655.5,241.0 L656.4,241.0 L657.3,241.0 L658.2,241.0 L659.1,241.0 L660.0,241.0 L660.9,241.0 L661.9,241.0 L662.8,241.0 L663.7,241.0 L664.6,241.0" fill="none" stroke="#fc8d62" stroke-width="1.45" stroke-dasharray="5 2.2"/>
<path d="M395.8,385.8 L401.6,384.7 L407.4,383.7 L413.2,382.8 L419.1,381.9 L424.9,381.0 L430.7,380.1 L436.5,379.4 L442.4,378.8 L448.2,378.6 L454.0,378.6 L459.8,378.6 L465.6,378.6 L471.5,378.6 L477.3,378.6 L483.1,378.7 L488.9,379.4 L494.8,380.8 L500.6,382.5 L506.4,384.5 L512.2,386.6 L518.1,389.0 L523.9,392.2 L529.7,395.9 L535.5,399.7 L541.3,403.1 L547.2,405.9 L553.0,408.6 L558.8,411.3 L564.6,413.7 L570.5,415.6 L576.3,416.6 L582.1,416.6 L587.9,416.3 L593.8,415.9 L599.6,415.2 L605.4,414.1 L611.2,413.6 L612.1,413.7 L613.0,413.9 L613.9,414.2 L614.8,414.7 L615.7,415.4 L616.6,416.1 L617.6,417.0 L618.5,417.9 L619.4,419.0 L620.3,420.1 L621.2,421.4 L622.1,422.7 L623.0,424.1 L623.9,425.6 L624.8,427.1 L625.7,428.7 L626.6,430.3 L627.5,432.0 L628.4,433.9 L629.3,436.2 L630.2,439.0 L631.1,442.1 L632.0,445.7 L632.9,449.6 L633.8,453.8 L634.7,458.3 L635.6,463.1 L636.5,468.4 L637.4,474.6 L638.3,481.8 L639.3,490.1 L640.2,499.9 L641.1,501.0 L642.0,501.0 L642.9,501.0 L643.8,501.0 L644.7,501.0 L645.6,501.0 L646.5,501.0 L647.4,501.0 L648.3,501.0 L649.2,501.0 L650.1,501.0 L651.0,501.0 L651.9,501.0 L652.8,501.0 L653.7,501.0 L654.6,501.0 L655.5,501.0 L656.4,501.0 L657.3,501.0 L658.2,501.0 L659.1,501.0 L660.0,501.0 L660.9,501.0 L661.9,501.0 L662.8,501.0 L663.7,501.0 L664.6,501.0" fill="none" stroke="#fc8d62" stroke-width="1.45" stroke-dasharray="5 2.2"/>
<path d="M395.8,375.5 L401.6,374.9 L407.4,374.3 L413.2,373.8 L419.1,373.3 L424.9,372.8 L430.7,372.3 L436.5,371.8 L442.4,371.4 L448.2,371.0 L454.0,370.6 L459.8,370.3 L465.6,369.9 L471.5,369.6 L477.3,369.2 L483.1,368.9 L488.9,368.5 L494.8,368.0 L500.6,367.6 L506.4,367.3 L512.2,367.1 L518.1,367.1 L523.9,367.1 L529.7,367.1 L535.5,367.1 L541.3,367.1 L547.2,367.1 L553.0,366.7 L558.8,365.8 L564.6,364.9 L570.5,364.0 L576.3,363.5 L582.1,363.5 L587.9,363.5 L593.8,363.5 L599.6,364.1 L605.4,366.3 L611.2,369.1 L612.1,369.5 L613.0,370.0 L613.9,370.6 L614.8,371.3 L615.7,371.9 L616.6,372.7 L617.6,373.4 L618.5,374.2 L619.4,374.9 L620.3,375.7 L621.2,376.5 L622.1,377.2 L623.0,378.0 L623.9,378.7 L624.8,379.3 L625.7,379.9 L626.6,380.5 L627.5,381.0 L628.4,381.5 L629.3,381.9 L630.2,382.4 L631.1,382.9 L632.0,383.3 L632.9,383.7 L633.8,384.0 L634.7,384.2 L635.6,384.3 L636.5,384.1 L637.4,383.7 L638.3,383.0 L639.3,382.2 L640.2,381.4 L641.1,380.6 L642.0,379.6 L642.9,378.5 L643.8,377.6 L644.7,376.8 L645.6,376.0 L646.5,375.3 L647.4,374.6 L648.3,374.0 L649.2,373.6 L650.1,373.4 L651.0,373.6 L651.9,374.7 L652.8,376.4 L653.7,378.6 L654.6,381.0 L655.5,384.4 L656.4,389.0 L657.3,394.3 L658.2,400.0 L659.1,405.8 L660.0,412.0 L660.9,419.1 L661.9,427.2 L662.8,437.0 L663.7,449.3 L664.6,463.3" fill="none" stroke="#8da0cb" stroke-width="1.5"/>
<path d="M395.8,365.3 L401.6,365.3 L407.4,365.4 L413.2,365.4 L419.1,365.5 L424.9,365.7 L430.7,365.9 L436.5,366.2 L442.4,366.5 L448.2,366.6 L454.0,366.4 L459.8,365.9 L465.6,365.1 L471.5,364.3 L477.3,363.6 L483.1,362.9 L488.9,362.3 L494.8,361.7 L500.6,361.1 L506.4,360.5 L512.2,360.0 L518.1,359.4 L523.9,359.0 L529.7,358.5 L535.5,358.0 L541.3,357.4 L547.2,356.7 L553.0,355.4 L558.8,353.6 L564.6,351.5 L570.5,349.6 L576.3,348.0 L582.1,346.8 L587.9,345.7 L593.8,345.1 L599.6,345.3 L605.4,345.7 L611.2,345.8 L612.1,345.8 L613.0,345.7 L613.9,345.6 L614.8,345.4 L615.7,345.1 L616.6,344.8 L617.6,344.5 L618.5,344.1 L619.4,343.7 L620.3,343.3 L621.2,342.8 L622.1,342.3 L623.0,341.7 L623.9,341.1 L624.8,340.5 L625.7,339.8 L626.6,339.2 L627.5,338.5 L628.4,337.6 L629.3,336.4 L630.2,334.8 L631.1,333.0 L632.0,330.8 L632.9,328.4 L633.8,325.7 L634.7,322.7 L635.6,319.4 L636.5,315.4 L637.4,310.1 L638.3,303.5 L639.3,295.7 L640.2,286.7 L641.1,275.8 L642.0,259.8 L642.9,241.0 L643.8,241.0 L644.7,241.0 L645.6,241.0 L646.5,241.0 L647.4,241.0 L648.3,241.0 L649.2,241.0 L650.1,241.0 L651.0,241.0 L651.9,241.0 L652.8,241.0 L653.7,241.0 L654.6,241.0 L655.5,241.0 L656.4,241.0 L657.3,241.0 L658.2,241.0 L659.1,241.0 L660.0,241.0 L660.9,241.0 L661.9,241.0 L662.8,241.0 L663.7,241.0 L664.6,241.0" fill="none" stroke="#8da0cb" stroke-width="1.45" stroke-dasharray="5 2.2"/>
<path d="M395.8,385.8 L401.6,384.8 L407.4,383.8 L413.2,382.8 L419.1,381.9 L424.9,381.0 L430.7,380.1 L436.5,379.3 L442.4,378.5 L448.2,377.8 L454.0,377.1 L459.8,376.4 L465.6,375.7 L471.5,375.1 L477.3,374.7 L483.1,374.4 L488.9,374.3 L494.8,374.1 L500.6,374.0 L506.4,374.0 L512.2,373.9 L518.1,374.1 L523.9,374.8 L529.7,375.7 L535.5,376.7 L541.3,377.6 L547.2,378.1 L553.0,378.4 L558.8,378.6 L564.6,378.9 L570.5,379.1 L576.3,379.4 L582.1,379.9 L587.9,380.6 L593.8,381.6 L599.6,383.6 L605.4,387.3 L611.2,391.9 L612.1,392.7 L613.0,393.5 L613.9,394.4 L614.8,395.4 L615.7,396.4 L616.6,397.4 L617.6,398.5 L618.5,399.6 L619.4,400.8 L620.3,402.1 L621.2,403.4 L622.1,404.7 L623.0,406.1 L623.9,407.6 L624.8,409.1 L625.7,410.7 L626.6,412.4 L627.5,414.1 L628.4,415.9 L629.3,417.8 L630.2,419.8 L631.1,422.0 L632.0,424.4 L632.9,427.1 L633.8,430.0 L634.7,433.3 L635.6,436.9 L636.5,441.1 L637.4,446.1 L638.3,452.2 L639.3,459.4 L640.2,468.0 L641.1,479.3 L642.0,497.7 L642.9,501.0 L643.8,501.0 L644.7,501.0 L645.6,501.0 L646.5,501.0 L647.4,501.0 L648.3,501.0 L649.2,501.0 L650.1,501.0 L651.0,501.0 L651.9,501.0 L652.8,501.0 L653.7,501.0 L654.6,501.0 L655.5,501.0 L656.4,501.0 L657.3,501.0 L658.2,501.0 L659.1,501.0 L660.0,501.0 L660.9,501.0 L661.9,501.0 L662.8,501.0 L663.7,501.0 L664.6,501.0" fill="none" stroke="#8da0cb" stroke-width="1.45" stroke-dasharray="5 2.2"/>
</g>
<path d="M395.7,273.5 L395.7,468.5 L677.9,468.5" fill="none" stroke="#000" stroke-width="0.95" stroke-linecap="square"/>
<line x1="392.4" y1="468.5" x2="395.7" y2="468.5" stroke="#000" stroke-width="0.85"/>
<line x1="392.4" y1="436.0" x2="395.7" y2="436.0" stroke="#000" stroke-width="0.85"/>
<line x1="392.4" y1="403.5" x2="395.7" y2="403.5" stroke="#000" stroke-width="0.85"/>
<line x1="392.4" y1="371.0" x2="395.7" y2="371.0" stroke="#000" stroke-width="0.85"/>
<line x1="392.4" y1="338.5" x2="395.7" y2="338.5" stroke="#000" stroke-width="0.85"/>
<line x1="392.4" y1="306.0" x2="395.7" y2="306.0" stroke="#000" stroke-width="0.85"/>
<line x1="392.4" y1="273.5" x2="395.7" y2="273.5" stroke="#000" stroke-width="0.85"/>
<line x1="395.7" y1="468.5" x2="395.7" y2="470.4" stroke="#000" stroke-width="0.65"/>
<line x1="400.9" y1="468.5" x2="400.9" y2="470.4" stroke="#000" stroke-width="0.65"/>
<line x1="405.2" y1="468.5" x2="405.2" y2="470.4" stroke="#000" stroke-width="0.65"/>
<line x1="409.0" y1="468.5" x2="409.0" y2="470.4" stroke="#000" stroke-width="0.65"/>
<line x1="412.4" y1="468.5" x2="412.4" y2="470.4" stroke="#000" stroke-width="0.65"/>
<line x1="415.4" y1="468.5" x2="415.4" y2="471.8" stroke="#000" stroke-width="0.85"/>
<line x1="435.0" y1="468.5" x2="435.0" y2="470.4" stroke="#000" stroke-width="0.65"/>
<line x1="446.5" y1="468.5" x2="446.5" y2="470.4" stroke="#000" stroke-width="0.65"/>
<line x1="454.7" y1="468.5" x2="454.7" y2="470.4" stroke="#000" stroke-width="0.65"/>
<line x1="461.0" y1="468.5" x2="461.0" y2="470.4" stroke="#000" stroke-width="0.65"/>
<line x1="466.2" y1="468.5" x2="466.2" y2="470.4" stroke="#000" stroke-width="0.65"/>
<line x1="470.5" y1="468.5" x2="470.5" y2="470.4" stroke="#000" stroke-width="0.65"/>
<line x1="474.3" y1="468.5" x2="474.3" y2="470.4" stroke="#000" stroke-width="0.65"/>
<line x1="477.7" y1="468.5" x2="477.7" y2="470.4" stroke="#000" stroke-width="0.65"/>
<line x1="480.6" y1="468.5" x2="480.6" y2="471.8" stroke="#000" stroke-width="0.85"/>
<line x1="500.3" y1="468.5" x2="500.3" y2="470.4" stroke="#000" stroke-width="0.65"/>
<line x1="511.8" y1="468.5" x2="511.8" y2="470.4" stroke="#000" stroke-width="0.65"/>
<line x1="520.0" y1="468.5" x2="520.0" y2="470.4" stroke="#000" stroke-width="0.65"/>
<line x1="526.3" y1="468.5" x2="526.3" y2="470.4" stroke="#000" stroke-width="0.65"/>
<line x1="531.4" y1="468.5" x2="531.4" y2="470.4" stroke="#000" stroke-width="0.65"/>
<line x1="535.8" y1="468.5" x2="535.8" y2="470.4" stroke="#000" stroke-width="0.65"/>
<line x1="539.6" y1="468.5" x2="539.6" y2="470.4" stroke="#000" stroke-width="0.65"/>
<line x1="542.9" y1="468.5" x2="542.9" y2="470.4" stroke="#000" stroke-width="0.65"/>
<line x1="545.9" y1="468.5" x2="545.9" y2="471.8" stroke="#000" stroke-width="0.85"/>
<line x1="565.6" y1="468.5" x2="565.6" y2="470.4" stroke="#000" stroke-width="0.65"/>
<line x1="577.1" y1="468.5" x2="577.1" y2="470.4" stroke="#000" stroke-width="0.65"/>
<line x1="585.2" y1="468.5" x2="585.2" y2="470.4" stroke="#000" stroke-width="0.65"/>
<line x1="591.6" y1="468.5" x2="591.6" y2="470.4" stroke="#000" stroke-width="0.65"/>
<line x1="596.7" y1="468.5" x2="596.7" y2="470.4" stroke="#000" stroke-width="0.65"/>
<line x1="601.1" y1="468.5" x2="601.1" y2="470.4" stroke="#000" stroke-width="0.65"/>
<line x1="604.9" y1="468.5" x2="604.9" y2="470.4" stroke="#000" stroke-width="0.65"/>
<line x1="608.2" y1="468.5" x2="608.2" y2="470.4" stroke="#000" stroke-width="0.65"/>
<line x1="611.2" y1="468.5" x2="611.2" y2="471.8" stroke="#000" stroke-width="0.85"/>
<line x1="630.9" y1="468.5" x2="630.9" y2="470.4" stroke="#000" stroke-width="0.65"/>
<line x1="642.4" y1="468.5" x2="642.4" y2="470.4" stroke="#000" stroke-width="0.65"/>
<line x1="650.5" y1="468.5" x2="650.5" y2="470.4" stroke="#000" stroke-width="0.65"/>
<line x1="656.9" y1="468.5" x2="656.9" y2="470.4" stroke="#000" stroke-width="0.65"/>
<line x1="662.0" y1="468.5" x2="662.0" y2="470.4" stroke="#000" stroke-width="0.65"/>
<line x1="666.4" y1="468.5" x2="666.4" y2="470.4" stroke="#000" stroke-width="0.65"/>
<line x1="670.2" y1="468.5" x2="670.2" y2="470.4" stroke="#000" stroke-width="0.65"/>
<line x1="673.5" y1="468.5" x2="673.5" y2="470.4" stroke="#000" stroke-width="0.65"/>
<line x1="676.5" y1="468.5" x2="676.5" y2="471.8" stroke="#000" stroke-width="0.85"/>
<rect x="402.3" y="278.6" width="270.6" height="48.9" rx="2.2" fill="#fff" fill-opacity="0.8" stroke="#ccc" stroke-opacity="0.8" stroke-width="0.9"/>
<rect x="406.8" y="283.1" width="21.3" height="7.4" fill="#fff" stroke="none"/>
<rect x="408.9" y="283.6" width="16.7" height="6.4" fill="#66c2a5" fill-opacity="0.5" stroke="none"/>
<rect x="406.8" y="283.1" width="21.3" height="7.4" fill="none" stroke="#66c2a5" stroke-width="1.25" stroke-dasharray="2.9 1.8"/>
<line x1="415.6" y1="289.6" x2="421.7" y2="284.3" stroke="#757575" stroke-width="1.1"/>
<rect x="406.8" y="298.6" width="21.3" height="7.4" fill="#fff" stroke="none"/>
<rect x="408.9" y="299.1" width="16.7" height="6.4" fill="#fc8d62" fill-opacity="0.5" stroke="none"/>
<rect x="406.8" y="298.6" width="21.3" height="7.4" fill="none" stroke="#fc8d62" stroke-width="1.25" stroke-dasharray="2.9 1.8"/>
<line x1="415.0" y1="299.4" x2="421.1" y2="305.3" stroke="#757575" stroke-width="1.1"/>
<rect x="406.8" y="314.1" width="21.3" height="7.4" fill="#fff" stroke="none"/>
<rect x="408.9" y="314.6" width="16.7" height="6.4" fill="#8da0cb" fill-opacity="0.5" stroke="none"/>
<rect x="406.8" y="314.1" width="21.3" height="7.4" fill="none" stroke="#8da0cb" stroke-width="1.25" stroke-dasharray="2.9 1.8"/>
<line x1="63.3" y1="529.3" x2="63.3" y2="724.5" stroke="#efefef" stroke-width="0.8"/>
<line x1="128.5" y1="529.3" x2="128.5" y2="724.5" stroke="#efefef" stroke-width="0.8"/>
<line x1="193.8" y1="529.3" x2="193.8" y2="724.5" stroke="#efefef" stroke-width="0.8"/>
<line x1="259.1" y1="529.3" x2="259.1" y2="724.5" stroke="#efefef" stroke-width="0.8"/>
<line x1="324.4" y1="529.3" x2="324.4" y2="724.5" stroke="#efefef" stroke-width="0.8"/>
<line x1="43.6" y1="724.5" x2="326.0" y2="724.5" stroke="#efefef" stroke-width="0.8"/>
<line x1="43.6" y1="692.0" x2="326.0" y2="692.0" stroke="#efefef" stroke-width="0.8"/>
<line x1="43.6" y1="659.4" x2="326.0" y2="659.4" stroke="#efefef" stroke-width="0.8"/>
<line x1="43.6" y1="626.9" x2="326.0" y2="626.9" stroke="#efefef" stroke-width="0.8"/>
<line x1="43.6" y1="594.4" x2="326.0" y2="594.4" stroke="#efefef" stroke-width="0.8"/>
<line x1="43.6" y1="561.8" x2="326.0" y2="561.8" stroke="#efefef" stroke-width="0.8"/>
<line x1="43.6" y1="529.3" x2="326.0" y2="529.3" stroke="#efefef" stroke-width="0.8"/>
<g clip-path="url(#cp20)">
<path d="M43.7,615.6 L49.5,616.3 L55.3,616.9 L61.1,617.6 L67.0,618.2 L72.8,619.0 L78.6,619.7 L84.4,620.4 L90.3,620.9 L96.1,621.0 L101.9,621.0 L107.7,621.0 L113.5,621.0 L119.4,621.0 L125.2,621.0 L131.0,621.0 L136.8,620.6 L142.7,619.9 L148.5,618.9 L154.3,617.9 L160.1,616.9 L166.0,615.9 L171.8,614.7 L177.6,613.5 L183.4,612.2 L189.2,610.8 L195.1,609.3 L200.9,607.8 L206.7,606.2 L212.5,604.5 L218.4,602.5 L224.2,600.2 L230.0,597.4 L235.8,593.9 L241.7,589.2 L247.5,582.2 L253.3,572.1 L259.1,561.8 L260.0,560.4 L260.9,559.0 L261.8,557.7 L262.7,556.3 L263.6,554.9 L264.5,553.5 L265.5,552.1 L266.4,550.5 L267.3,548.9 L268.2,547.2 L269.1,545.7 L270.0,544.3 L270.9,542.7 L271.8,541.0 L272.7,539.0 L273.6,536.8 L274.5,534.0 L275.4,530.8 L276.3,526.0 L277.2,516.2 L278.1,502.3 L279.0,496.8 L279.9,496.8 L280.8,496.8 L281.7,496.8 L282.6,496.8 L283.5,496.8 L284.4,496.8 L285.3,496.8 L286.2,496.8 L287.2,496.8 L288.1,496.8 L289.0,496.8 L289.9,496.8 L290.8,496.8 L291.7,496.8 L292.6,496.8 L293.5,496.8 L294.4,496.8 L295.3,496.8 L296.2,496.8 L297.1,496.8 L298.0,496.8 L298.9,496.8 L299.8,496.8 L300.7,496.8 L301.6,496.8 L302.5,496.8 L303.4,496.8 L304.3,496.8 L305.2,496.8 L306.1,496.8 L307.0,496.8 L307.9,496.8 L308.8,496.8 L309.8,496.8 L310.7,496.8 L311.6,496.8 L312.5,496.8 L312.5,757.0 L311.6,757.0 L310.7,757.0 L309.8,757.0 L308.8,757.0 L307.9,757.0 L307.0,757.0 L306.1,757.0 L305.2,757.0 L304.3,757.0 L303.4,757.0 L302.5,757.0 L301.6,757.0 L300.7,757.0 L299.8,757.0 L298.9,757.0 L298.0,757.0 L297.1,757.0 L296.2,757.0 L295.3,757.0 L294.4,757.0 L293.5,757.0 L292.6,757.0 L291.7,757.0 L290.8,757.0 L289.9,757.0 L289.0,757.0 L288.1,757.0 L287.2,757.0 L286.2,757.0 L285.3,757.0 L284.4,757.0 L283.5,757.0 L282.6,757.0 L281.7,757.0 L280.8,757.0 L279.9,757.0 L279.0,757.0 L278.1,752.9 L277.2,738.9 L276.3,728.5 L275.4,722.4 L274.5,717.8 L273.6,713.8 L272.7,710.3 L271.8,707.2 L270.9,704.5 L270.0,702.1 L269.1,699.9 L268.2,697.8 L267.3,695.8 L266.4,693.9 L265.5,692.2 L264.5,690.5 L263.6,689.0 L262.7,687.6 L261.8,686.3 L260.9,685.0 L260.0,683.7 L259.1,682.4 L253.3,674.4 L247.5,667.3 L241.7,661.7 L235.8,657.1 L230.0,653.3 L224.2,650.7 L218.4,648.8 L212.5,647.1 L206.7,645.7 L200.9,644.4 L195.1,643.2 L189.2,642.1 L183.4,641.0 L177.6,640.0 L171.8,639.1 L166.0,638.2 L160.1,637.3 L154.3,636.4 L148.5,635.5 L142.7,634.6 L136.8,633.9 L131.0,633.3 L125.2,633.0 L119.4,632.7 L113.5,632.5 L107.7,632.3 L101.9,632.2 L96.1,632.1 L90.3,632.3 L84.4,632.9 L78.6,633.8 L72.8,634.7 L67.0,635.6 L61.1,636.2 L55.3,636.8 L49.5,637.4 L43.7,638.0 Z" fill="#66c2a5" fill-opacity="0.5" stroke="#66c2a5" stroke-opacity="0.85" stroke-width="0.9"/>
<path d="M43.7,615.6 L49.5,616.3 L55.3,616.9 L61.1,617.6 L67.0,618.2 L72.8,619.0 L78.6,619.7 L84.4,620.4 L90.3,620.9 L96.1,621.0 L101.9,621.0 L107.7,621.0 L113.5,621.0 L119.4,621.0 L125.2,621.0 L131.0,621.0 L136.8,620.6 L142.7,619.9 L148.5,618.9 L154.3,617.9 L160.1,616.9 L166.0,615.9 L171.8,614.7 L177.6,613.5 L183.4,612.2 L189.2,610.8 L195.1,609.3 L200.9,607.8 L206.7,606.2 L212.5,604.5 L218.4,602.5 L224.2,600.2 L230.0,597.4 L235.8,593.9 L241.7,589.2 L247.5,582.2 L253.3,572.1 L259.1,561.8 L260.0,560.4 L260.9,559.0 L261.8,557.7 L262.7,556.3 L263.6,554.9 L264.5,553.5 L265.5,552.1 L266.4,550.5 L267.3,548.9 L268.2,547.2 L269.1,545.7 L270.0,544.3 L270.9,542.7 L271.8,541.0 L272.7,539.0 L273.6,536.8 L274.5,534.0 L275.4,530.8 L276.3,526.0 L277.2,516.2 L278.1,502.3 L279.0,496.8 L279.9,496.8 L280.8,496.8 L281.7,496.8 L282.6,496.8 L283.5,496.8 L284.4,496.8 L285.3,496.8 L286.2,496.8 L287.2,496.8 L288.1,496.8 L289.0,496.8 L289.9,496.8 L290.8,496.8 L291.7,496.8 L292.6,496.8 L293.5,496.8 L294.4,496.8 L295.3,496.8 L296.2,496.8 L297.1,496.8 L298.0,496.8 L298.9,496.8 L299.8,496.8 L300.7,496.8 L301.6,496.8 L302.5,496.8 L303.4,496.8 L304.3,496.8 L305.2,496.8 L306.1,496.8 L307.0,496.8 L307.9,496.8 L308.8,496.8 L309.8,496.8 L310.7,496.8 L311.6,496.8 L312.5,496.8 L312.5,757.0 L311.6,757.0 L310.7,757.0 L309.8,757.0 L308.8,757.0 L307.9,757.0 L307.0,757.0 L306.1,757.0 L305.2,757.0 L304.3,757.0 L303.4,757.0 L302.5,757.0 L301.6,757.0 L300.7,757.0 L299.8,757.0 L298.9,757.0 L298.0,757.0 L297.1,757.0 L296.2,757.0 L295.3,757.0 L294.4,757.0 L293.5,757.0 L292.6,757.0 L291.7,757.0 L290.8,757.0 L289.9,757.0 L289.0,757.0 L288.1,757.0 L287.2,757.0 L286.2,757.0 L285.3,757.0 L284.4,757.0 L283.5,757.0 L282.6,757.0 L281.7,757.0 L280.8,757.0 L279.9,757.0 L279.0,757.0 L278.1,752.9 L277.2,738.9 L276.3,728.5 L275.4,722.4 L274.5,717.8 L273.6,713.8 L272.7,710.3 L271.8,707.2 L270.9,704.5 L270.0,702.1 L269.1,699.9 L268.2,697.8 L267.3,695.8 L266.4,693.9 L265.5,692.2 L264.5,690.5 L263.6,689.0 L262.7,687.6 L261.8,686.3 L260.9,685.0 L260.0,683.7 L259.1,682.4 L253.3,674.4 L247.5,667.3 L241.7,661.7 L235.8,657.1 L230.0,653.3 L224.2,650.7 L218.4,648.8 L212.5,647.1 L206.7,645.7 L200.9,644.4 L195.1,643.2 L189.2,642.1 L183.4,641.0 L177.6,640.0 L171.8,639.1 L166.0,638.2 L160.1,637.3 L154.3,636.4 L148.5,635.5 L142.7,634.6 L136.8,633.9 L131.0,633.3 L125.2,633.0 L119.4,632.7 L113.5,632.5 L107.7,632.3 L101.9,632.2 L96.1,632.1 L90.3,632.3 L84.4,632.9 L78.6,633.8 L72.8,634.7 L67.0,635.6 L61.1,636.2 L55.3,636.8 L49.5,637.4 L43.7,638.0 Z" fill="url(#h0)" stroke="none"/>
<path d="M43.7,618.9 L49.5,619.1 L55.3,619.3 L61.1,619.3 L67.0,619.3 L72.8,619.2 L78.6,618.9 L84.4,618.6 L90.3,618.2 L96.1,617.8 L101.9,617.1 L107.7,616.2 L113.5,615.1 L119.4,613.9 L125.2,612.6 L131.0,611.4 L136.8,610.1 L142.7,608.6 L148.5,607.2 L154.3,605.9 L160.1,604.8 L166.0,604.0 L171.8,603.3 L177.6,602.7 L183.4,602.2 L189.2,601.5 L195.1,600.7 L200.9,599.8 L206.7,598.8 L212.5,597.7 L218.4,596.3 L224.2,594.5 L230.0,592.0 L235.8,587.8 L241.7,582.0 L247.5,573.2 L253.3,560.1 L259.1,546.6 L260.0,544.8 L260.9,543.2 L261.8,541.6 L262.7,540.1 L263.6,538.4 L264.5,536.6 L265.5,534.5 L266.4,532.2 L267.3,529.4 L268.2,525.7 L269.1,520.8 L270.0,514.7 L270.9,507.8 L271.8,500.0 L272.7,496.8 L273.6,496.8 L274.5,496.8 L275.4,496.8 L276.3,496.8 L277.2,496.8 L278.1,496.8 L279.0,496.8 L279.9,496.8 L280.8,496.8 L281.7,496.8 L282.6,496.8 L283.5,496.8 L284.4,496.8 L285.3,496.8 L286.2,496.8 L287.2,496.8 L288.1,496.8 L289.0,496.8 L289.9,496.8 L290.8,496.8 L291.7,496.8 L292.6,496.8 L293.5,496.8 L294.4,496.8 L295.3,496.8 L296.2,496.8 L297.1,496.8 L298.0,496.8 L298.9,496.8 L299.8,496.8 L300.7,496.8 L301.6,496.8 L302.5,496.8 L303.4,496.8 L304.3,496.8 L305.2,496.8 L306.1,496.8 L307.0,496.8 L307.9,496.8 L308.8,496.8 L309.8,496.8 L310.7,496.8 L311.6,496.8 L312.5,496.8 L312.5,757.0 L311.6,757.0 L310.7,757.0 L309.8,757.0 L308.8,757.0 L307.9,757.0 L307.0,757.0 L306.1,757.0 L305.2,757.0 L304.3,757.0 L303.4,757.0 L302.5,757.0 L301.6,757.0 L300.7,757.0 L299.8,757.0 L298.9,757.0 L298.0,757.0 L297.1,757.0 L296.2,757.0 L295.3,757.0 L294.4,757.0 L293.5,757.0 L292.6,757.0 L291.7,757.0 L290.8,757.0 L289.9,757.0 L289.0,757.0 L288.1,757.0 L287.2,757.0 L286.2,757.0 L285.3,757.0 L284.4,757.0 L283.5,757.0 L282.6,757.0 L281.7,757.0 L280.8,757.0 L279.9,752.3 L279.0,740.1 L278.1,731.4 L277.2,725.7 L276.3,721.4 L275.4,717.8 L274.5,714.5 L273.6,711.5 L272.7,708.6 L271.8,706.0 L270.9,703.5 L270.0,701.2 L269.1,699.1 L268.2,697.1 L267.3,695.2 L266.4,693.4 L265.5,691.6 L264.5,690.0 L263.6,688.4 L262.7,686.9 L261.8,685.5 L260.9,684.3 L260.0,683.2 L259.1,682.2 L253.3,677.5 L247.5,674.1 L241.7,670.8 L235.8,667.4 L230.0,664.3 L224.2,661.7 L218.4,659.6 L212.5,657.7 L206.7,655.8 L200.9,654.0 L195.1,652.1 L189.2,649.8 L183.4,647.3 L177.6,644.7 L171.8,642.3 L166.0,640.1 L160.1,638.3 L154.3,636.7 L148.5,635.2 L142.7,633.8 L136.8,632.7 L131.0,632.2 L125.2,632.1 L119.4,632.1 L113.5,632.1 L107.7,632.1 L101.9,632.1 L96.1,632.1 L90.3,632.4 L84.4,633.2 L78.6,634.3 L72.8,635.4 L67.0,636.3 L61.1,636.8 L55.3,637.1 L49.5,637.4 L43.7,637.5 Z" fill="#fc8d62" fill-opacity="0.5" stroke="#fc8d62" stroke-opacity="0.85" stroke-width="0.9"/>
<path d="M43.7,618.9 L49.5,619.1 L55.3,619.3 L61.1,619.3 L67.0,619.3 L72.8,619.2 L78.6,618.9 L84.4,618.6 L90.3,618.2 L96.1,617.8 L101.9,617.1 L107.7,616.2 L113.5,615.1 L119.4,613.9 L125.2,612.6 L131.0,611.4 L136.8,610.1 L142.7,608.6 L148.5,607.2 L154.3,605.9 L160.1,604.8 L166.0,604.0 L171.8,603.3 L177.6,602.7 L183.4,602.2 L189.2,601.5 L195.1,600.7 L200.9,599.8 L206.7,598.8 L212.5,597.7 L218.4,596.3 L224.2,594.5 L230.0,592.0 L235.8,587.8 L241.7,582.0 L247.5,573.2 L253.3,560.1 L259.1,546.6 L260.0,544.8 L260.9,543.2 L261.8,541.6 L262.7,540.1 L263.6,538.4 L264.5,536.6 L265.5,534.5 L266.4,532.2 L267.3,529.4 L268.2,525.7 L269.1,520.8 L270.0,514.7 L270.9,507.8 L271.8,500.0 L272.7,496.8 L273.6,496.8 L274.5,496.8 L275.4,496.8 L276.3,496.8 L277.2,496.8 L278.1,496.8 L279.0,496.8 L279.9,496.8 L280.8,496.8 L281.7,496.8 L282.6,496.8 L283.5,496.8 L284.4,496.8 L285.3,496.8 L286.2,496.8 L287.2,496.8 L288.1,496.8 L289.0,496.8 L289.9,496.8 L290.8,496.8 L291.7,496.8 L292.6,496.8 L293.5,496.8 L294.4,496.8 L295.3,496.8 L296.2,496.8 L297.1,496.8 L298.0,496.8 L298.9,496.8 L299.8,496.8 L300.7,496.8 L301.6,496.8 L302.5,496.8 L303.4,496.8 L304.3,496.8 L305.2,496.8 L306.1,496.8 L307.0,496.8 L307.9,496.8 L308.8,496.8 L309.8,496.8 L310.7,496.8 L311.6,496.8 L312.5,496.8 L312.5,757.0 L311.6,757.0 L310.7,757.0 L309.8,757.0 L308.8,757.0 L307.9,757.0 L307.0,757.0 L306.1,757.0 L305.2,757.0 L304.3,757.0 L303.4,757.0 L302.5,757.0 L301.6,757.0 L300.7,757.0 L299.8,757.0 L298.9,757.0 L298.0,757.0 L297.1,757.0 L296.2,757.0 L295.3,757.0 L294.4,757.0 L293.5,757.0 L292.6,757.0 L291.7,757.0 L290.8,757.0 L289.9,757.0 L289.0,757.0 L288.1,757.0 L287.2,757.0 L286.2,757.0 L285.3,757.0 L284.4,757.0 L283.5,757.0 L282.6,757.0 L281.7,757.0 L280.8,757.0 L279.9,752.3 L279.0,740.1 L278.1,731.4 L277.2,725.7 L276.3,721.4 L275.4,717.8 L274.5,714.5 L273.6,711.5 L272.7,708.6 L271.8,706.0 L270.9,703.5 L270.0,701.2 L269.1,699.1 L268.2,697.1 L267.3,695.2 L266.4,693.4 L265.5,691.6 L264.5,690.0 L263.6,688.4 L262.7,686.9 L261.8,685.5 L260.9,684.3 L260.0,683.2 L259.1,682.2 L253.3,677.5 L247.5,674.1 L241.7,670.8 L235.8,667.4 L230.0,664.3 L224.2,661.7 L218.4,659.6 L212.5,657.7 L206.7,655.8 L200.9,654.0 L195.1,652.1 L189.2,649.8 L183.4,647.3 L177.6,644.7 L171.8,642.3 L166.0,640.1 L160.1,638.3 L154.3,636.7 L148.5,635.2 L142.7,633.8 L136.8,632.7 L131.0,632.2 L125.2,632.1 L119.4,632.1 L113.5,632.1 L107.7,632.1 L101.9,632.1 L96.1,632.1 L90.3,632.4 L84.4,633.2 L78.6,634.3 L72.8,635.4 L67.0,636.3 L61.1,636.8 L55.3,637.1 L49.5,637.4 L43.7,637.5 Z" fill="url(#h1)" stroke="none"/>
<path d="M43.7,624.3 L49.5,624.3 L55.3,624.3 L61.1,624.3 L67.0,624.3 L72.8,624.2 L78.6,624.1 L84.4,623.9 L90.3,623.8 L96.1,623.6 L101.9,623.6 L107.7,623.5 L113.5,623.5 L119.4,623.4 L125.2,623.3 L131.0,623.2 L136.8,622.9 L142.7,622.5 L148.5,622.0 L154.3,621.6 L160.1,621.1 L166.0,620.8 L171.8,620.4 L177.6,620.1 L183.4,619.8 L189.2,619.3 L195.1,618.8 L200.9,617.8 L206.7,616.3 L212.5,614.5 L218.4,612.4 L224.2,610.0 L230.0,607.2 L235.8,603.2 L241.7,598.6 L247.5,593.8 L253.3,588.5 L259.1,581.4 L260.0,580.0 L260.9,578.4 L261.8,576.8 L262.7,574.9 L263.6,572.8 L264.5,570.5 L265.5,567.9 L266.4,565.1 L267.3,561.9 L268.2,558.3 L269.1,554.0 L270.0,549.0 L270.9,543.1 L271.8,536.3 L272.7,528.4 L273.6,519.3 L274.5,509.1 L275.4,497.4 L276.3,496.8 L277.2,496.8 L278.1,496.8 L279.0,496.8 L279.9,496.8 L280.8,496.8 L281.7,496.8 L282.6,496.8 L283.5,496.8 L284.4,496.8 L285.3,496.8 L286.2,496.8 L287.2,496.8 L288.1,496.8 L289.0,530.4 L289.9,663.6 L290.8,671.7 L291.7,677.6 L292.6,681.7 L293.5,684.1 L294.4,685.2 L295.3,685.4 L296.2,683.4 L297.1,679.6 L298.0,674.6 L298.9,669.1 L299.8,663.8 L300.7,659.5 L301.6,656.8 L302.5,656.3 L303.4,657.4 L304.3,659.5 L305.2,662.0 L306.1,664.5 L307.0,666.4 L307.9,668.1 L308.8,669.8 L309.8,671.3 L310.7,672.9 L311.6,674.3 L312.5,675.7 L312.5,757.0 L311.6,757.0 L310.7,757.0 L309.8,757.0 L308.8,757.0 L307.9,757.0 L307.0,757.0 L306.1,757.0 L305.2,757.0 L304.3,757.0 L303.4,757.0 L302.5,757.0 L301.6,757.0 L300.7,757.0 L299.8,757.0 L298.9,757.0 L298.0,757.0 L297.1,757.0 L296.2,757.0 L295.3,757.0 L294.4,757.0 L293.5,757.0 L292.6,757.0 L291.7,757.0 L290.8,757.0 L289.9,757.0 L289.0,757.0 L288.1,757.0 L287.2,757.0 L286.2,757.0 L285.3,757.0 L284.4,757.0 L283.5,757.0 L282.6,757.0 L281.7,757.0 L280.8,757.0 L279.9,757.0 L279.0,757.0 L278.1,747.0 L277.2,733.2 L276.3,722.1 L275.4,715.1 L274.5,711.0 L273.6,707.5 L272.7,704.7 L271.8,702.3 L270.9,700.2 L270.0,698.3 L269.1,696.3 L268.2,694.3 L267.3,691.9 L266.4,689.1 L265.5,685.9 L264.5,682.6 L263.6,679.3 L262.7,676.1 L261.8,673.4 L260.9,671.2 L260.0,669.7 L259.1,669.2 L253.3,669.9 L247.5,671.0 L241.7,671.3 L235.8,667.9 L230.0,662.8 L224.2,659.9 L218.4,658.2 L212.5,656.8 L206.7,655.6 L200.9,654.5 L195.1,653.2 L189.2,651.8 L183.4,650.3 L177.6,648.8 L171.8,647.3 L166.0,646.0 L160.1,644.9 L154.3,644.0 L148.5,643.2 L142.7,642.4 L136.8,641.7 L131.0,641.0 L125.2,640.4 L119.4,639.7 L113.5,639.1 L107.7,638.5 L101.9,638.1 L96.1,638.0 L90.3,638.1 L84.4,638.4 L78.6,639.0 L72.8,639.6 L67.0,640.3 L61.1,641.0 L55.3,641.9 L49.5,642.9 L43.7,644.1 Z" fill="#8da0cb" fill-opacity="0.5" stroke="#8da0cb" stroke-opacity="0.85" stroke-width="0.9"/>
<path d="M43.7,624.3 L49.5,624.3 L55.3,624.3 L61.1,624.3 L67.0,624.3 L72.8,624.2 L78.6,624.1 L84.4,623.9 L90.3,623.8 L96.1,623.6 L101.9,623.6 L107.7,623.5 L113.5,623.5 L119.4,623.4 L125.2,623.3 L131.0,623.2 L136.8,622.9 L142.7,622.5 L148.5,622.0 L154.3,621.6 L160.1,621.1 L166.0,620.8 L171.8,620.4 L177.6,620.1 L183.4,619.8 L189.2,619.3 L195.1,618.8 L200.9,617.8 L206.7,616.3 L212.5,614.5 L218.4,612.4 L224.2,610.0 L230.0,607.2 L235.8,603.2 L241.7,598.6 L247.5,593.8 L253.3,588.5 L259.1,581.4 L260.0,580.0 L260.9,578.4 L261.8,576.8 L262.7,574.9 L263.6,572.8 L264.5,570.5 L265.5,567.9 L266.4,565.1 L267.3,561.9 L268.2,558.3 L269.1,554.0 L270.0,549.0 L270.9,543.1 L271.8,536.3 L272.7,528.4 L273.6,519.3 L274.5,509.1 L275.4,497.4 L276.3,496.8 L277.2,496.8 L278.1,496.8 L279.0,496.8 L279.9,496.8 L280.8,496.8 L281.7,496.8 L282.6,496.8 L283.5,496.8 L284.4,496.8 L285.3,496.8 L286.2,496.8 L287.2,496.8 L288.1,496.8 L289.0,530.4 L289.9,663.6 L290.8,671.7 L291.7,677.6 L292.6,681.7 L293.5,684.1 L294.4,685.2 L295.3,685.4 L296.2,683.4 L297.1,679.6 L298.0,674.6 L298.9,669.1 L299.8,663.8 L300.7,659.5 L301.6,656.8 L302.5,656.3 L303.4,657.4 L304.3,659.5 L305.2,662.0 L306.1,664.5 L307.0,666.4 L307.9,668.1 L308.8,669.8 L309.8,671.3 L310.7,672.9 L311.6,674.3 L312.5,675.7 L312.5,757.0 L311.6,757.0 L310.7,757.0 L309.8,757.0 L308.8,757.0 L307.9,757.0 L307.0,757.0 L306.1,757.0 L305.2,757.0 L304.3,757.0 L303.4,757.0 L302.5,757.0 L301.6,757.0 L300.7,757.0 L299.8,757.0 L298.9,757.0 L298.0,757.0 L297.1,757.0 L296.2,757.0 L295.3,757.0 L294.4,757.0 L293.5,757.0 L292.6,757.0 L291.7,757.0 L290.8,757.0 L289.9,757.0 L289.0,757.0 L288.1,757.0 L287.2,757.0 L286.2,757.0 L285.3,757.0 L284.4,757.0 L283.5,757.0 L282.6,757.0 L281.7,757.0 L280.8,757.0 L279.9,757.0 L279.0,757.0 L278.1,747.0 L277.2,733.2 L276.3,722.1 L275.4,715.1 L274.5,711.0 L273.6,707.5 L272.7,704.7 L271.8,702.3 L270.9,700.2 L270.0,698.3 L269.1,696.3 L268.2,694.3 L267.3,691.9 L266.4,689.1 L265.5,685.9 L264.5,682.6 L263.6,679.3 L262.7,676.1 L261.8,673.4 L260.9,671.2 L260.0,669.7 L259.1,669.2 L253.3,669.9 L247.5,671.0 L241.7,671.3 L235.8,667.9 L230.0,662.8 L224.2,659.9 L218.4,658.2 L212.5,656.8 L206.7,655.6 L200.9,654.5 L195.1,653.2 L189.2,651.8 L183.4,650.3 L177.6,648.8 L171.8,647.3 L166.0,646.0 L160.1,644.9 L154.3,644.0 L148.5,643.2 L142.7,642.4 L136.8,641.7 L131.0,641.0 L125.2,640.4 L119.4,639.7 L113.5,639.1 L107.7,638.5 L101.9,638.1 L96.1,638.0 L90.3,638.1 L84.4,638.4 L78.6,639.0 L72.8,639.6 L67.0,640.3 L61.1,641.0 L55.3,641.9 L49.5,642.9 L43.7,644.1 Z" fill="url(#h2)" stroke="none"/>
<path d="M43.7,626.9 L49.5,626.9 L55.3,626.9 L61.1,626.9 L67.0,626.9 L72.8,626.9 L78.6,626.9 L84.4,626.9 L90.3,626.9 L96.1,626.9 L101.9,626.9 L107.7,626.9 L113.5,626.9 L119.4,626.9 L125.2,626.9 L131.0,626.9 L136.8,626.9 L142.7,626.9 L148.5,626.9 L154.3,626.9 L160.1,626.9 L166.0,626.9 L171.8,626.9 L177.6,626.9 L183.4,626.9 L189.2,626.9 L195.1,626.9 L200.9,626.9 L206.7,626.9 L212.5,626.9 L218.4,626.9 L224.2,626.9 L230.0,626.9 L235.8,626.9 L241.7,626.9 L247.5,626.9 L253.3,626.9 L259.1,626.9 L260.0,626.9 L260.9,626.9 L261.8,626.9 L262.7,626.9 L263.6,626.9 L264.5,626.9 L265.5,626.9 L266.4,626.9 L267.3,626.9 L268.2,626.9 L269.1,626.9 L270.0,626.9 L270.9,626.9 L271.8,626.9 L272.7,626.9 L273.6,626.9 L274.5,626.9 L275.4,626.9 L276.3,626.9 L277.2,626.9 L278.1,626.9 L279.0,626.9 L279.9,626.9 L280.8,626.9 L281.7,626.9 L282.6,626.9 L283.5,626.9 L284.4,626.9 L285.3,626.9 L286.2,626.9 L287.2,626.9 L288.1,626.9 L289.0,626.9 L289.9,626.9 L290.8,626.9 L291.7,626.9 L292.6,626.9 L293.5,626.9 L294.4,626.9 L295.3,626.9 L296.2,626.9 L297.1,626.9 L298.0,626.9 L298.9,626.9 L299.8,626.9 L300.7,626.9 L301.6,626.9 L302.5,626.9 L303.4,626.9 L304.3,626.9 L305.2,626.9 L306.1,626.9 L307.0,626.9 L307.9,626.9 L308.8,626.9 L309.8,626.9 L310.7,626.9 L311.6,626.9 L312.5,626.9" fill="none" stroke="#66c2a5" stroke-width="1.5"/>
<path d="M43.7,615.0 L49.5,615.7 L55.3,616.4 L61.1,617.1 L67.0,617.8 L72.8,618.6 L78.6,619.4 L84.4,620.1 L90.3,620.6 L96.1,620.8 L101.9,620.8 L107.7,620.8 L113.5,620.8 L119.4,620.8 L125.2,620.8 L131.0,620.7 L136.8,620.3 L142.7,619.5 L148.5,618.5 L154.3,617.4 L160.1,616.4 L166.0,615.3 L171.8,614.1 L177.6,612.9 L183.4,611.5 L189.2,610.0 L195.1,608.5 L200.9,606.9 L206.7,605.2 L212.5,603.4 L218.4,601.3 L224.2,598.9 L230.0,596.0 L235.8,592.2 L241.7,587.4 L247.5,580.0 L253.3,569.4 L259.1,558.6 L260.0,557.1 L260.9,555.6 L261.8,554.2 L262.7,552.8 L263.6,551.3 L264.5,549.9 L265.5,548.3 L266.4,546.7 L267.3,545.0 L268.2,543.3 L269.1,541.7 L270.0,540.1 L270.9,538.5 L271.8,536.7 L272.7,534.6 L273.6,532.2 L274.5,529.4 L275.4,526.0 L276.3,521.0 L277.2,510.7 L278.1,496.8 L279.0,496.8 L279.9,496.8 L280.8,496.8 L281.7,496.8 L282.6,496.8 L283.5,496.8 L284.4,496.8 L285.3,496.8 L286.2,496.8 L287.2,496.8 L288.1,496.8 L289.0,496.8 L289.9,496.8 L290.8,496.8 L291.7,496.8 L292.6,496.8 L293.5,496.8 L294.4,496.8 L295.3,496.8 L296.2,496.8 L297.1,496.8 L298.0,496.8 L298.9,496.8 L299.8,496.8 L300.7,496.8 L301.6,496.8 L302.5,496.8 L303.4,496.8 L304.3,496.8 L305.2,496.8 L306.1,496.8 L307.0,496.8 L307.9,496.8 L308.8,496.8 L309.8,496.8 L310.7,496.8 L311.6,496.8 L312.5,496.8" fill="none" stroke="#66c2a5" stroke-width="1.45" stroke-dasharray="5 2.2"/>
<path d="M43.7,638.5 L49.5,637.9 L55.3,637.3 L61.1,636.7 L67.0,636.0 L72.8,635.1 L78.6,634.1 L84.4,633.2 L90.3,632.6 L96.1,632.4 L101.9,632.4 L107.7,632.5 L113.5,632.7 L119.4,633.0 L125.2,633.3 L131.0,633.6 L136.8,634.2 L142.7,635.0 L148.5,635.9 L154.3,636.9 L160.1,637.9 L166.0,638.8 L171.8,639.7 L177.6,640.7 L183.4,641.7 L189.2,642.8 L195.1,644.0 L200.9,645.3 L206.7,646.6 L212.5,648.1 L218.4,649.9 L224.2,651.9 L230.0,654.6 L235.8,658.6 L241.7,663.4 L247.5,669.3 L253.3,676.8 L259.1,685.2 L260.0,686.5 L260.9,687.9 L261.8,689.2 L262.7,690.6 L263.6,692.1 L264.5,693.7 L265.5,695.4 L266.4,697.3 L267.3,699.3 L268.2,701.4 L269.1,703.5 L270.0,705.9 L270.9,708.4 L271.8,711.2 L272.7,714.5 L273.6,718.1 L274.5,722.3 L275.4,727.2 L276.3,733.5 L277.2,744.5 L278.1,757.0 L279.0,757.0 L279.9,757.0 L280.8,757.0 L281.7,757.0 L282.6,757.0 L283.5,757.0 L284.4,757.0 L285.3,757.0 L286.2,757.0 L287.2,757.0 L288.1,757.0 L289.0,757.0 L289.9,757.0 L290.8,757.0 L291.7,757.0 L292.6,757.0 L293.5,757.0 L294.4,757.0 L295.3,757.0 L296.2,757.0 L297.1,757.0 L298.0,757.0 L298.9,757.0 L299.8,757.0 L300.7,757.0 L301.6,757.0 L302.5,757.0 L303.4,757.0 L304.3,757.0 L305.2,757.0 L306.1,757.0 L307.0,757.0 L307.9,757.0 L308.8,757.0 L309.8,757.0 L310.7,757.0 L311.6,757.0 L312.5,757.0" fill="none" stroke="#66c2a5" stroke-width="1.45" stroke-dasharray="5 2.2"/>
<path d="M43.7,627.6 L49.5,627.4 L55.3,627.2 L61.1,627.0 L67.0,626.7 L72.8,626.4 L78.6,626.1 L84.4,625.7 L90.3,625.3 L96.1,624.9 L101.9,624.4 L107.7,623.8 L113.5,623.1 L119.4,622.6 L125.2,622.2 L131.0,622.2 L136.8,622.2 L142.7,622.2 L148.5,622.2 L154.3,622.2 L160.1,622.2 L166.0,622.4 L171.8,623.3 L177.6,624.5 L183.4,625.8 L189.2,626.6 L195.1,626.9 L200.9,626.9 L206.7,626.9 L212.5,626.8 L218.4,626.7 L224.2,626.6 L230.0,626.1 L235.8,624.2 L241.7,621.6 L247.5,618.0 L253.3,613.1 L259.1,609.0 L260.0,608.5 L260.9,608.0 L261.8,607.6 L262.7,607.1 L263.6,606.7 L264.5,606.3 L265.5,606.0 L266.4,605.8 L267.3,605.8 L268.2,605.8 L269.1,605.9 L270.0,606.0 L270.9,606.3 L271.8,606.5 L272.7,606.8 L273.6,607.2 L274.5,607.6 L275.4,608.0 L276.3,608.6 L277.2,609.6 L278.1,610.7 L279.0,612.1 L279.9,613.9 L280.8,615.9 L281.7,618.2 L282.6,620.6 L283.5,623.1 L284.4,625.8 L285.3,629.0 L286.2,632.4 L287.2,635.9 L288.1,639.2 L289.0,642.5 L289.9,646.2 L290.8,648.8 L291.7,647.3 L292.6,639.5 L293.5,629.4 L294.4,620.3 L295.3,610.4 L296.2,599.8 L297.1,589.0 L298.0,578.3 L298.9,568.2 L299.8,559.0 L300.7,549.5 L301.6,538.3 L302.5,523.7 L303.4,501.7 L304.3,496.8 L305.2,496.8 L306.1,496.8 L307.0,496.8 L307.9,496.8 L308.8,496.8 L309.8,496.8 L310.7,496.8 L311.6,496.8 L312.5,496.8" fill="none" stroke="#fc8d62" stroke-width="1.5"/>
<path d="M43.7,618.5 L49.5,618.7 L55.3,618.9 L61.1,619.0 L67.0,619.0 L72.8,618.8 L78.6,618.6 L84.4,618.2 L90.3,617.8 L96.1,617.4 L101.9,616.8 L107.7,615.8 L113.5,614.7 L119.4,613.4 L125.2,612.1 L131.0,610.9 L136.8,609.5 L142.7,608.0 L148.5,606.5 L154.3,605.1 L160.1,603.9 L166.0,603.1 L171.8,602.3 L177.6,601.7 L183.4,601.0 L189.2,600.2 L195.1,599.4 L200.9,598.4 L206.7,597.4 L212.5,596.2 L218.4,594.8 L224.2,592.9 L230.0,590.3 L235.8,586.0 L241.7,580.0 L247.5,570.9 L253.3,557.4 L259.1,543.5 L260.0,541.6 L260.9,539.9 L261.8,538.3 L262.7,536.7 L263.6,535.0 L264.5,533.1 L265.5,531.0 L266.4,528.5 L267.3,525.6 L268.2,521.7 L269.1,516.5 L270.0,510.2 L270.9,502.8 L271.8,496.8 L272.7,496.8 L273.6,496.8 L274.5,496.8 L275.4,496.8 L276.3,496.8 L277.2,496.8 L278.1,496.8 L279.0,496.8 L279.9,496.8 L280.8,496.8 L281.7,496.8 L282.6,496.8 L283.5,496.8 L284.4,496.8 L285.3,496.8 L286.2,496.8 L287.2,496.8 L288.1,496.8 L289.0,496.8 L289.9,496.8 L290.8,496.8 L291.7,496.8 L292.6,496.8 L293.5,496.8 L294.4,496.8 L295.3,496.8 L296.2,496.8 L297.1,496.8 L298.0,496.8 L298.9,496.8 L299.8,496.8 L300.7,496.8 L301.6,496.8 L302.5,496.8 L303.4,496.8 L304.3,496.8 L305.2,496.8 L306.1,496.8 L307.0,496.8 L307.9,496.8 L308.8,496.8 L309.8,496.8 L310.7,496.8 L311.6,496.8 L312.5,496.8" fill="none" stroke="#fc8d62" stroke-width="1.45" stroke-dasharray="5 2.2"/>
<path d="M43.7,638.0 L49.5,637.9 L55.3,637.6 L61.1,637.3 L67.0,636.8 L72.8,635.9 L78.6,634.7 L84.4,633.6 L90.3,632.8 L96.1,632.5 L101.9,632.5 L107.7,632.5 L113.5,632.6 L119.4,632.6 L125.2,632.6 L131.0,632.7 L136.8,633.3 L142.7,634.4 L148.5,635.8 L154.3,637.5 L160.1,639.1 L166.0,641.0 L171.8,643.2 L177.6,645.8 L183.4,648.4 L189.2,651.0 L195.1,653.3 L200.9,655.4 L206.7,657.3 L212.5,659.2 L218.4,661.2 L224.2,663.5 L230.0,666.2 L235.8,669.6 L241.7,673.3 L247.5,676.9 L253.3,680.7 L259.1,685.9 L260.0,686.9 L260.9,688.1 L261.8,689.4 L262.7,690.9 L263.6,692.5 L264.5,694.1 L265.5,695.9 L266.4,697.7 L267.3,699.6 L268.2,701.6 L269.1,703.7 L270.0,706.0 L270.9,708.4 L271.8,711.0 L272.7,713.7 L273.6,716.7 L274.5,719.9 L275.4,723.3 L276.3,727.0 L277.2,731.5 L278.1,737.4 L279.0,746.5 L279.9,757.0 L280.8,757.0 L281.7,757.0 L282.6,757.0 L283.5,757.0 L284.4,757.0 L285.3,757.0 L286.2,757.0 L287.2,757.0 L288.1,757.0 L289.0,757.0 L289.9,757.0 L290.8,757.0 L291.7,757.0 L292.6,757.0 L293.5,757.0 L294.4,757.0 L295.3,757.0 L296.2,757.0 L297.1,757.0 L298.0,757.0 L298.9,757.0 L299.8,757.0 L300.7,757.0 L301.6,757.0 L302.5,757.0 L303.4,757.0 L304.3,757.0 L305.2,757.0 L306.1,757.0 L307.0,757.0 L307.9,757.0 L308.8,757.0 L309.8,757.0 L310.7,757.0 L311.6,757.0 L312.5,757.0" fill="none" stroke="#fc8d62" stroke-width="1.45" stroke-dasharray="5 2.2"/>
<path d="M43.7,634.7 L49.5,634.1 L55.3,633.5 L61.1,632.9 L67.0,632.5 L72.8,632.0 L78.6,631.5 L84.4,631.2 L90.3,630.9 L96.1,630.8 L101.9,630.9 L107.7,631.1 L113.5,631.4 L119.4,631.7 L125.2,632.0 L131.0,632.2 L136.8,632.3 L142.7,632.4 L148.5,632.5 L154.3,632.6 L160.1,632.7 L166.0,632.8 L171.8,632.9 L177.6,633.0 L183.4,633.0 L189.2,633.1 L195.1,633.2 L200.9,633.3 L206.7,633.4 L212.5,633.6 L218.4,633.7 L224.2,633.8 L230.0,633.2 L235.8,630.6 L241.7,627.2 L247.5,623.4 L253.3,618.8 L259.1,615.6 L260.0,615.3 L260.9,615.0 L261.8,614.8 L262.7,614.5 L263.6,614.3 L264.5,614.1 L265.5,614.0 L266.4,613.9 L267.3,613.9 L268.2,614.0 L269.1,614.3 L270.0,614.8 L270.9,615.4 L271.8,616.3 L272.7,617.3 L273.6,618.4 L274.5,619.6 L275.4,621.0 L276.3,623.1 L277.2,626.6 L278.1,630.7 L279.0,634.8 L279.9,639.1 L280.8,643.8 L281.7,648.8 L282.6,654.3 L283.5,660.2 L284.4,666.7 L285.3,674.0 L286.2,682.2 L287.2,691.4 L288.1,703.1 L289.0,720.3 L289.9,738.3 L290.8,757.0 L291.7,757.0 L292.6,757.0 L293.5,757.0 L294.4,757.0 L295.3,757.0 L296.2,757.0 L297.1,757.0 L298.0,757.0 L298.9,757.0 L299.8,757.0 L300.7,757.0 L301.6,757.0 L302.5,757.0 L303.4,757.0 L304.3,757.0 L305.2,757.0 L306.1,757.0 L307.0,757.0 L307.9,757.0 L308.8,757.0 L309.8,757.0 L310.7,757.0 L311.6,757.0 L312.5,757.0" fill="none" stroke="#8da0cb" stroke-width="1.5"/>
<path d="M43.7,623.8 L49.5,623.8 L55.3,623.8 L61.1,623.9 L67.0,623.9 L72.8,623.8 L78.6,623.7 L84.4,623.5 L90.3,623.4 L96.1,623.3 L101.9,623.2 L107.7,623.1 L113.5,623.1 L119.4,623.0 L125.2,622.9 L131.0,622.7 L136.8,622.4 L142.7,622.0 L148.5,621.5 L154.3,621.0 L160.1,620.5 L166.0,620.1 L171.8,619.8 L177.6,619.5 L183.4,619.1 L189.2,618.7 L195.1,618.0 L200.9,617.0 L206.7,615.5 L212.5,613.6 L218.4,611.3 L224.2,608.8 L230.0,605.9 L235.8,601.8 L241.7,597.1 L247.5,592.4 L253.3,587.0 L259.1,579.6 L260.0,578.2 L260.9,576.6 L261.8,574.8 L262.7,572.9 L263.6,570.7 L264.5,568.3 L265.5,565.6 L266.4,562.6 L267.3,559.3 L268.2,555.5 L269.1,551.0 L270.0,545.7 L270.9,539.5 L271.8,532.3 L272.7,523.9 L273.6,514.4 L274.5,503.5 L275.4,496.8 L276.3,496.8 L277.2,496.8 L278.1,496.8 L279.0,496.8 L279.9,496.8 L280.8,496.8 L281.7,496.8 L282.6,496.8 L283.5,496.8 L284.4,496.8 L285.3,496.8 L286.2,496.8 L287.2,496.8 L288.1,496.8 L289.0,520.9 L289.9,659.8 L290.8,667.4 L291.7,672.7 L292.6,676.0 L293.5,677.8 L294.4,678.5 L295.3,678.5 L296.2,676.5 L297.1,672.5 L298.0,667.2 L298.9,661.5 L299.8,655.9 L300.7,651.4 L301.6,648.5 L302.5,648.0 L303.4,649.2 L304.3,651.4 L305.2,654.0 L306.1,656.6 L307.0,658.6 L307.9,660.4 L308.8,662.1 L309.8,663.8 L310.7,665.4 L311.6,666.9 L312.5,668.4" fill="none" stroke="#8da0cb" stroke-width="1.45" stroke-dasharray="5 2.2"/>
<path d="M43.7,644.5 L49.5,643.4 L55.3,642.3 L61.1,641.4 L67.0,640.7 L72.8,640.0 L78.6,639.4 L84.4,638.8 L90.3,638.4 L96.1,638.3 L101.9,638.5 L107.7,638.9 L113.5,639.5 L119.4,640.1 L125.2,640.8 L131.0,641.5 L136.8,642.1 L142.7,642.9 L148.5,643.7 L154.3,644.6 L160.1,645.5 L166.0,646.7 L171.8,648.0 L177.6,649.6 L183.4,651.1 L189.2,652.7 L195.1,654.2 L200.9,655.5 L206.7,656.7 L212.5,658.0 L218.4,659.4 L224.2,661.2 L230.0,664.3 L235.8,669.8 L241.7,673.6 L247.5,673.4 L253.3,672.4 L259.1,671.9 L260.0,672.4 L260.9,674.0 L261.8,676.3 L262.7,679.2 L263.6,682.5 L264.5,686.0 L265.5,689.5 L266.4,692.8 L267.3,695.8 L268.2,698.3 L269.1,700.5 L270.0,702.5 L270.9,704.5 L271.8,706.6 L272.7,709.1 L273.6,712.0 L274.5,715.5 L275.4,719.8 L276.3,727.0 L277.2,738.5 L278.1,752.9 L279.0,757.0 L279.9,757.0 L280.8,757.0 L281.7,757.0 L282.6,757.0 L283.5,757.0 L284.4,757.0 L285.3,757.0 L286.2,757.0 L287.2,757.0 L288.1,757.0 L289.0,757.0 L289.9,757.0 L290.8,757.0 L291.7,757.0 L292.6,757.0 L293.5,757.0 L294.4,757.0 L295.3,757.0 L296.2,757.0 L297.1,757.0 L298.0,757.0 L298.9,757.0 L299.8,757.0 L300.7,757.0 L301.6,757.0 L302.5,757.0 L303.4,757.0 L304.3,757.0 L305.2,757.0 L306.1,757.0 L307.0,757.0 L307.9,757.0 L308.8,757.0 L309.8,757.0 L310.7,757.0 L311.6,757.0 L312.5,757.0" fill="none" stroke="#8da0cb" stroke-width="1.45" stroke-dasharray="5 2.2"/>
</g>
<path d="M43.6,529.3 L43.6,724.5 L326.0,724.5" fill="none" stroke="#000" stroke-width="0.95" stroke-linecap="square"/>
<line x1="40.300000000000004" y1="724.5" x2="43.6" y2="724.5" stroke="#000" stroke-width="0.85"/>
<line x1="40.300000000000004" y1="692.0" x2="43.6" y2="692.0" stroke="#000" stroke-width="0.85"/>
<line x1="40.300000000000004" y1="659.4" x2="43.6" y2="659.4" stroke="#000" stroke-width="0.85"/>
<line x1="40.300000000000004" y1="626.9" x2="43.6" y2="626.9" stroke="#000" stroke-width="0.85"/>
<line x1="40.300000000000004" y1="594.4" x2="43.6" y2="594.4" stroke="#000" stroke-width="0.85"/>
<line x1="40.300000000000004" y1="561.8" x2="43.6" y2="561.8" stroke="#000" stroke-width="0.85"/>
<line x1="40.300000000000004" y1="529.3" x2="43.6" y2="529.3" stroke="#000" stroke-width="0.85"/>
<line x1="43.6" y1="724.5" x2="43.6" y2="726.4" stroke="#000" stroke-width="0.65"/>
<line x1="48.8" y1="724.5" x2="48.8" y2="726.4" stroke="#000" stroke-width="0.65"/>
<line x1="53.1" y1="724.5" x2="53.1" y2="726.4" stroke="#000" stroke-width="0.65"/>
<line x1="56.9" y1="724.5" x2="56.9" y2="726.4" stroke="#000" stroke-width="0.65"/>
<line x1="60.3" y1="724.5" x2="60.3" y2="726.4" stroke="#000" stroke-width="0.65"/>
<line x1="63.3" y1="724.5" x2="63.3" y2="727.8" stroke="#000" stroke-width="0.85"/>
<line x1="82.9" y1="724.5" x2="82.9" y2="726.4" stroke="#000" stroke-width="0.65"/>
<line x1="94.4" y1="724.5" x2="94.4" y2="726.4" stroke="#000" stroke-width="0.65"/>
<line x1="102.6" y1="724.5" x2="102.6" y2="726.4" stroke="#000" stroke-width="0.65"/>
<line x1="108.9" y1="724.5" x2="108.9" y2="726.4" stroke="#000" stroke-width="0.65"/>
<line x1="114.1" y1="724.5" x2="114.1" y2="726.4" stroke="#000" stroke-width="0.65"/>
<line x1="118.4" y1="724.5" x2="118.4" y2="726.4" stroke="#000" stroke-width="0.65"/>
<line x1="122.2" y1="724.5" x2="122.2" y2="726.4" stroke="#000" stroke-width="0.65"/>
<line x1="125.6" y1="724.5" x2="125.6" y2="726.4" stroke="#000" stroke-width="0.65"/>
<line x1="128.5" y1="724.5" x2="128.5" y2="727.8" stroke="#000" stroke-width="0.85"/>
<line x1="148.2" y1="724.5" x2="148.2" y2="726.4" stroke="#000" stroke-width="0.65"/>
<line x1="159.7" y1="724.5" x2="159.7" y2="726.4" stroke="#000" stroke-width="0.65"/>
<line x1="167.9" y1="724.5" x2="167.9" y2="726.4" stroke="#000" stroke-width="0.65"/>
<line x1="174.2" y1="724.5" x2="174.2" y2="726.4" stroke="#000" stroke-width="0.65"/>
<line x1="179.3" y1="724.5" x2="179.3" y2="726.4" stroke="#000" stroke-width="0.65"/>
<line x1="183.7" y1="724.5" x2="183.7" y2="726.4" stroke="#000" stroke-width="0.65"/>
<line x1="187.5" y1="724.5" x2="187.5" y2="726.4" stroke="#000" stroke-width="0.65"/>
<line x1="190.8" y1="724.5" x2="190.8" y2="726.4" stroke="#000" stroke-width="0.65"/>
<line x1="193.8" y1="724.5" x2="193.8" y2="727.8" stroke="#000" stroke-width="0.85"/>
<line x1="213.5" y1="724.5" x2="213.5" y2="726.4" stroke="#000" stroke-width="0.65"/>
<line x1="225.0" y1="724.5" x2="225.0" y2="726.4" stroke="#000" stroke-width="0.65"/>
<line x1="233.1" y1="724.5" x2="233.1" y2="726.4" stroke="#000" stroke-width="0.65"/>
<line x1="239.5" y1="724.5" x2="239.5" y2="726.4" stroke="#000" stroke-width="0.65"/>
<line x1="244.6" y1="724.5" x2="244.6" y2="726.4" stroke="#000" stroke-width="0.65"/>
<line x1="249.0" y1="724.5" x2="249.0" y2="726.4" stroke="#000" stroke-width="0.65"/>
<line x1="252.8" y1="724.5" x2="252.8" y2="726.4" stroke="#000" stroke-width="0.65"/>
<line x1="256.1" y1="724.5" x2="256.1" y2="726.4" stroke="#000" stroke-width="0.65"/>
<line x1="259.1" y1="724.5" x2="259.1" y2="727.8" stroke="#000" stroke-width="0.85"/>
<line x1="278.8" y1="724.5" x2="278.8" y2="726.4" stroke="#000" stroke-width="0.65"/>
<line x1="290.3" y1="724.5" x2="290.3" y2="726.4" stroke="#000" stroke-width="0.65"/>
<line x1="298.4" y1="724.5" x2="298.4" y2="726.4" stroke="#000" stroke-width="0.65"/>
<line x1="304.8" y1="724.5" x2="304.8" y2="726.4" stroke="#000" stroke-width="0.65"/>
<line x1="309.9" y1="724.5" x2="309.9" y2="726.4" stroke="#000" stroke-width="0.65"/>
<line x1="314.3" y1="724.5" x2="314.3" y2="726.4" stroke="#000" stroke-width="0.65"/>
<line x1="318.1" y1="724.5" x2="318.1" y2="726.4" stroke="#000" stroke-width="0.65"/>
<line x1="321.4" y1="724.5" x2="321.4" y2="726.4" stroke="#000" stroke-width="0.65"/>
<line x1="324.4" y1="724.5" x2="324.4" y2="727.8" stroke="#000" stroke-width="0.85"/>
<rect x="50.2" y="534.4" width="270.6" height="48.9" rx="2.2" fill="#fff" fill-opacity="0.8" stroke="#ccc" stroke-opacity="0.8" stroke-width="0.9"/>
<rect x="54.7" y="538.9" width="21.3" height="7.4" fill="#fff" stroke="none"/>
<rect x="56.8" y="539.4" width="16.7" height="6.4" fill="#66c2a5" fill-opacity="0.5" stroke="none"/>
<rect x="54.7" y="538.9" width="21.3" height="7.4" fill="none" stroke="#66c2a5" stroke-width="1.25" stroke-dasharray="2.9 1.8"/>
<line x1="63.5" y1="545.4" x2="69.6" y2="540.1" stroke="#757575" stroke-width="1.1"/>
<rect x="54.7" y="554.4" width="21.3" height="7.4" fill="#fff" stroke="none"/>
<rect x="56.8" y="554.9" width="16.7" height="6.4" fill="#fc8d62" fill-opacity="0.5" stroke="none"/>
<rect x="54.7" y="554.4" width="21.3" height="7.4" fill="none" stroke="#fc8d62" stroke-width="1.25" stroke-dasharray="2.9 1.8"/>
<line x1="62.9" y1="555.2" x2="69.0" y2="561.1" stroke="#757575" stroke-width="1.1"/>
<rect x="54.7" y="569.9" width="21.3" height="7.4" fill="#fff" stroke="none"/>
<rect x="56.8" y="570.4" width="16.7" height="6.4" fill="#8da0cb" fill-opacity="0.5" stroke="none"/>
<rect x="54.7" y="569.9" width="21.3" height="7.4" fill="none" stroke="#8da0cb" stroke-width="1.25" stroke-dasharray="2.9 1.8"/>
<line x1="415.4" y1="529.3" x2="415.4" y2="724.5" stroke="#efefef" stroke-width="0.8"/>
<line x1="480.6" y1="529.3" x2="480.6" y2="724.5" stroke="#efefef" stroke-width="0.8"/>
<line x1="545.9" y1="529.3" x2="545.9" y2="724.5" stroke="#efefef" stroke-width="0.8"/>
<line x1="611.2" y1="529.3" x2="611.2" y2="724.5" stroke="#efefef" stroke-width="0.8"/>
<line x1="676.5" y1="529.3" x2="676.5" y2="724.5" stroke="#efefef" stroke-width="0.8"/>
<line x1="395.7" y1="724.5" x2="677.9" y2="724.5" stroke="#efefef" stroke-width="0.8"/>
<line x1="395.7" y1="692.0" x2="677.9" y2="692.0" stroke="#efefef" stroke-width="0.8"/>
<line x1="395.7" y1="659.4" x2="677.9" y2="659.4" stroke="#efefef" stroke-width="0.8"/>
<line x1="395.7" y1="626.9" x2="677.9" y2="626.9" stroke="#efefef" stroke-width="0.8"/>
<line x1="395.7" y1="594.4" x2="677.9" y2="594.4" stroke="#efefef" stroke-width="0.8"/>
<line x1="395.7" y1="561.8" x2="677.9" y2="561.8" stroke="#efefef" stroke-width="0.8"/>
<line x1="395.7" y1="529.3" x2="677.9" y2="529.3" stroke="#efefef" stroke-width="0.8"/>
<g clip-path="url(#cp21)">
<path d="M395.8,616.2 L401.6,616.9 L407.4,617.6 L413.2,618.2 L419.1,618.8 L424.9,619.4 L430.7,620.0 L436.5,620.6 L442.4,620.9 L448.2,621.0 L454.0,621.0 L459.8,621.0 L465.6,621.0 L471.5,621.0 L477.3,621.0 L483.1,621.0 L488.9,620.4 L494.8,619.4 L500.6,618.2 L506.4,616.9 L512.2,615.8 L518.1,614.8 L523.9,613.9 L529.7,613.0 L535.5,612.1 L541.3,611.0 L547.2,609.8 L553.0,608.3 L558.8,606.6 L564.6,605.2 L570.5,604.2 L576.3,603.0 L582.1,601.3 L587.9,598.7 L593.8,595.6 L599.6,592.5 L605.4,588.8 L611.2,584.0 L612.1,583.0 L613.0,582.0 L613.9,580.9 L614.8,579.6 L615.7,578.3 L616.6,576.8 L617.6,575.2 L618.5,573.5 L619.4,571.6 L620.3,569.5 L621.2,567.1 L622.1,564.3 L623.0,561.3 L623.9,558.0 L624.8,554.4 L625.7,550.6 L626.6,546.7 L627.5,542.5 L628.4,538.1 L629.3,533.1 L630.2,527.2 L631.1,520.3 L632.0,511.9 L632.9,501.9 L633.8,496.8 L634.7,496.8 L635.6,496.8 L636.5,496.8 L637.4,496.8 L638.3,496.8 L639.3,496.8 L640.2,496.8 L641.1,496.8 L642.0,496.8 L642.9,496.8 L643.8,496.8 L644.7,496.8 L645.6,496.8 L646.5,496.8 L647.4,496.8 L648.3,496.8 L649.2,496.8 L650.1,496.8 L651.0,496.8 L651.9,496.8 L652.8,496.8 L653.7,496.8 L654.6,496.8 L655.5,496.8 L656.4,496.8 L657.3,496.8 L658.2,496.8 L659.1,496.8 L660.0,496.8 L660.9,496.8 L661.9,496.8 L662.8,496.8 L663.7,496.8 L664.6,496.8 L664.6,757.0 L663.7,757.0 L662.8,757.0 L661.9,757.0 L660.9,757.0 L660.0,757.0 L659.1,757.0 L658.2,757.0 L657.3,757.0 L656.4,757.0 L655.5,757.0 L654.6,757.0 L653.7,757.0 L652.8,757.0 L651.9,757.0 L651.0,757.0 L650.1,757.0 L649.2,757.0 L648.3,757.0 L647.4,757.0 L646.5,757.0 L645.6,757.0 L644.7,757.0 L643.8,757.0 L642.9,757.0 L642.0,757.0 L641.1,757.0 L640.2,757.0 L639.3,757.0 L638.3,751.3 L637.4,738.4 L636.5,728.2 L635.6,721.5 L634.7,717.2 L633.8,713.8 L632.9,711.0 L632.0,708.5 L631.1,705.9 L630.2,703.1 L629.3,700.3 L628.4,697.7 L627.5,695.5 L626.6,693.7 L625.7,692.0 L624.8,690.4 L623.9,688.9 L623.0,687.6 L622.1,686.2 L621.2,685.0 L620.3,683.7 L619.4,682.4 L618.5,681.0 L617.6,679.7 L616.6,678.5 L615.7,677.2 L614.8,676.0 L613.9,674.8 L613.0,673.6 L612.1,672.5 L611.2,671.5 L605.4,665.2 L599.6,659.7 L593.8,655.5 L587.9,652.1 L582.1,649.4 L576.3,647.9 L570.5,646.8 L564.6,646.1 L558.8,645.4 L553.0,644.8 L547.2,644.2 L541.3,643.4 L535.5,642.5 L529.7,641.5 L523.9,640.4 L518.1,639.4 L512.2,638.4 L506.4,637.5 L500.6,636.4 L494.8,635.5 L488.9,634.6 L483.1,634.0 L477.3,633.6 L471.5,633.2 L465.6,633.0 L459.8,632.7 L454.0,632.6 L448.2,632.5 L442.4,632.7 L436.5,633.2 L430.7,634.0 L424.9,634.8 L419.1,635.6 L413.2,636.2 L407.4,636.8 L401.6,637.4 L395.8,638.0 Z" fill="#66c2a5" fill-opacity="0.5" stroke="#66c2a5" stroke-opacity="0.85" stroke-width="0.9"/>
<path d="M395.8,616.2 L401.6,616.9 L407.4,617.6 L413.2,618.2 L419.1,618.8 L424.9,619.4 L430.7,620.0 L436.5,620.6 L442.4,620.9 L448.2,621.0 L454.0,621.0 L459.8,621.0 L465.6,621.0 L471.5,621.0 L477.3,621.0 L483.1,621.0 L488.9,620.4 L494.8,619.4 L500.6,618.2 L506.4,616.9 L512.2,615.8 L518.1,614.8 L523.9,613.9 L529.7,613.0 L535.5,612.1 L541.3,611.0 L547.2,609.8 L553.0,608.3 L558.8,606.6 L564.6,605.2 L570.5,604.2 L576.3,603.0 L582.1,601.3 L587.9,598.7 L593.8,595.6 L599.6,592.5 L605.4,588.8 L611.2,584.0 L612.1,583.0 L613.0,582.0 L613.9,580.9 L614.8,579.6 L615.7,578.3 L616.6,576.8 L617.6,575.2 L618.5,573.5 L619.4,571.6 L620.3,569.5 L621.2,567.1 L622.1,564.3 L623.0,561.3 L623.9,558.0 L624.8,554.4 L625.7,550.6 L626.6,546.7 L627.5,542.5 L628.4,538.1 L629.3,533.1 L630.2,527.2 L631.1,520.3 L632.0,511.9 L632.9,501.9 L633.8,496.8 L634.7,496.8 L635.6,496.8 L636.5,496.8 L637.4,496.8 L638.3,496.8 L639.3,496.8 L640.2,496.8 L641.1,496.8 L642.0,496.8 L642.9,496.8 L643.8,496.8 L644.7,496.8 L645.6,496.8 L646.5,496.8 L647.4,496.8 L648.3,496.8 L649.2,496.8 L650.1,496.8 L651.0,496.8 L651.9,496.8 L652.8,496.8 L653.7,496.8 L654.6,496.8 L655.5,496.8 L656.4,496.8 L657.3,496.8 L658.2,496.8 L659.1,496.8 L660.0,496.8 L660.9,496.8 L661.9,496.8 L662.8,496.8 L663.7,496.8 L664.6,496.8 L664.6,757.0 L663.7,757.0 L662.8,757.0 L661.9,757.0 L660.9,757.0 L660.0,757.0 L659.1,757.0 L658.2,757.0 L657.3,757.0 L656.4,757.0 L655.5,757.0 L654.6,757.0 L653.7,757.0 L652.8,757.0 L651.9,757.0 L651.0,757.0 L650.1,757.0 L649.2,757.0 L648.3,757.0 L647.4,757.0 L646.5,757.0 L645.6,757.0 L644.7,757.0 L643.8,757.0 L642.9,757.0 L642.0,757.0 L641.1,757.0 L640.2,757.0 L639.3,757.0 L638.3,751.3 L637.4,738.4 L636.5,728.2 L635.6,721.5 L634.7,717.2 L633.8,713.8 L632.9,711.0 L632.0,708.5 L631.1,705.9 L630.2,703.1 L629.3,700.3 L628.4,697.7 L627.5,695.5 L626.6,693.7 L625.7,692.0 L624.8,690.4 L623.9,688.9 L623.0,687.6 L622.1,686.2 L621.2,685.0 L620.3,683.7 L619.4,682.4 L618.5,681.0 L617.6,679.7 L616.6,678.5 L615.7,677.2 L614.8,676.0 L613.9,674.8 L613.0,673.6 L612.1,672.5 L611.2,671.5 L605.4,665.2 L599.6,659.7 L593.8,655.5 L587.9,652.1 L582.1,649.4 L576.3,647.9 L570.5,646.8 L564.6,646.1 L558.8,645.4 L553.0,644.8 L547.2,644.2 L541.3,643.4 L535.5,642.5 L529.7,641.5 L523.9,640.4 L518.1,639.4 L512.2,638.4 L506.4,637.5 L500.6,636.4 L494.8,635.5 L488.9,634.6 L483.1,634.0 L477.3,633.6 L471.5,633.2 L465.6,633.0 L459.8,632.7 L454.0,632.6 L448.2,632.5 L442.4,632.7 L436.5,633.2 L430.7,634.0 L424.9,634.8 L419.1,635.6 L413.2,636.2 L407.4,636.8 L401.6,637.4 L395.8,638.0 Z" fill="url(#h0)" stroke="none"/>
<path d="M395.8,617.8 L401.6,618.1 L407.4,618.3 L413.2,618.4 L419.1,618.4 L424.9,618.2 L430.7,618.0 L436.5,617.6 L442.4,617.1 L448.2,616.7 L454.0,616.0 L459.8,615.0 L465.6,613.9 L471.5,612.8 L477.3,611.8 L483.1,610.9 L488.9,610.1 L494.8,609.5 L500.6,609.6 L506.4,610.5 L512.2,611.7 L518.1,613.1 L523.9,615.1 L529.7,617.5 L535.5,620.1 L541.3,622.8 L547.2,625.5 L553.0,628.8 L558.8,631.9 L564.6,633.7 L570.5,634.9 L576.3,635.7 L582.1,635.1 L587.9,631.8 L593.8,626.7 L599.6,618.6 L605.4,605.3 L611.2,590.5 L612.1,588.2 L613.0,586.0 L613.9,583.6 L614.8,581.3 L615.7,578.8 L616.6,576.3 L617.6,573.8 L618.5,571.1 L619.4,568.4 L620.3,565.7 L621.2,562.9 L622.1,560.0 L623.0,557.1 L623.9,554.1 L624.8,550.9 L625.7,547.6 L626.6,544.0 L627.5,540.2 L628.4,536.3 L629.3,531.9 L630.2,526.8 L631.1,520.5 L632.0,512.3 L632.9,502.4 L633.8,496.8 L634.7,496.8 L635.6,496.8 L636.5,496.8 L637.4,496.8 L638.3,496.8 L639.3,496.8 L640.2,496.8 L641.1,496.8 L642.0,496.8 L642.9,496.8 L643.8,496.8 L644.7,496.8 L645.6,496.8 L646.5,496.8 L647.4,496.8 L648.3,496.8 L649.2,496.8 L650.1,496.8 L651.0,496.8 L651.9,496.8 L652.8,496.8 L653.7,496.8 L654.6,496.8 L655.5,496.8 L656.4,496.8 L657.3,496.8 L658.2,496.8 L659.1,496.8 L660.0,496.8 L660.9,496.8 L661.9,496.8 L662.8,496.8 L663.7,496.8 L664.6,496.8 L664.6,757.0 L663.7,757.0 L662.8,757.0 L661.9,757.0 L660.9,757.0 L660.0,757.0 L659.1,757.0 L658.2,757.0 L657.3,757.0 L656.4,757.0 L655.5,757.0 L654.6,757.0 L653.7,757.0 L652.8,757.0 L651.9,757.0 L651.0,757.0 L650.1,757.0 L649.2,757.0 L648.3,757.0 L647.4,757.0 L646.5,757.0 L645.6,757.0 L644.7,757.0 L643.8,757.0 L642.9,757.0 L642.0,757.0 L641.1,757.0 L640.2,757.0 L639.3,757.0 L638.3,748.7 L637.4,734.6 L636.5,723.1 L635.6,714.9 L634.7,709.0 L633.8,704.1 L632.9,700.0 L632.0,696.4 L631.1,693.1 L630.2,689.7 L629.3,686.4 L628.4,683.7 L627.5,682.4 L626.6,681.9 L625.7,681.5 L624.8,681.2 L623.9,680.9 L623.0,680.7 L622.1,680.5 L621.2,680.4 L620.3,680.3 L619.4,680.3 L618.5,680.3 L617.6,680.4 L616.6,680.7 L615.7,680.9 L614.8,681.2 L613.9,681.5 L613.0,681.8 L612.1,682.1 L611.2,682.4 L605.4,684.0 L599.6,685.6 L593.8,687.0 L587.9,688.6 L582.1,689.8 L576.3,689.8 L570.5,687.4 L564.6,683.8 L558.8,680.2 L553.0,676.0 L547.2,671.4 L541.3,667.0 L535.5,662.3 L529.7,657.5 L523.9,652.9 L518.1,648.5 L512.2,644.4 L506.4,640.3 L500.6,636.8 L494.8,634.7 L488.9,633.2 L483.1,632.3 L477.3,632.0 L471.5,631.9 L465.6,631.7 L459.8,631.7 L454.0,631.6 L448.2,631.6 L442.4,631.9 L436.5,632.6 L430.7,633.6 L424.9,634.6 L419.1,635.6 L413.2,636.2 L407.4,636.7 L401.6,637.1 L395.8,637.5 Z" fill="#fc8d62" fill-opacity="0.5" stroke="#fc8d62" stroke-opacity="0.85" stroke-width="0.9"/>
<path d="M395.8,617.8 L401.6,618.1 L407.4,618.3 L413.2,618.4 L419.1,618.4 L424.9,618.2 L430.7,618.0 L436.5,617.6 L442.4,617.1 L448.2,616.7 L454.0,616.0 L459.8,615.0 L465.6,613.9 L471.5,612.8 L477.3,611.8 L483.1,610.9 L488.9,610.1 L494.8,609.5 L500.6,609.6 L506.4,610.5 L512.2,611.7 L518.1,613.1 L523.9,615.1 L529.7,617.5 L535.5,620.1 L541.3,622.8 L547.2,625.5 L553.0,628.8 L558.8,631.9 L564.6,633.7 L570.5,634.9 L576.3,635.7 L582.1,635.1 L587.9,631.8 L593.8,626.7 L599.6,618.6 L605.4,605.3 L611.2,590.5 L612.1,588.2 L613.0,586.0 L613.9,583.6 L614.8,581.3 L615.7,578.8 L616.6,576.3 L617.6,573.8 L618.5,571.1 L619.4,568.4 L620.3,565.7 L621.2,562.9 L622.1,560.0 L623.0,557.1 L623.9,554.1 L624.8,550.9 L625.7,547.6 L626.6,544.0 L627.5,540.2 L628.4,536.3 L629.3,531.9 L630.2,526.8 L631.1,520.5 L632.0,512.3 L632.9,502.4 L633.8,496.8 L634.7,496.8 L635.6,496.8 L636.5,496.8 L637.4,496.8 L638.3,496.8 L639.3,496.8 L640.2,496.8 L641.1,496.8 L642.0,496.8 L642.9,496.8 L643.8,496.8 L644.7,496.8 L645.6,496.8 L646.5,496.8 L647.4,496.8 L648.3,496.8 L649.2,496.8 L650.1,496.8 L651.0,496.8 L651.9,496.8 L652.8,496.8 L653.7,496.8 L654.6,496.8 L655.5,496.8 L656.4,496.8 L657.3,496.8 L658.2,496.8 L659.1,496.8 L660.0,496.8 L660.9,496.8 L661.9,496.8 L662.8,496.8 L663.7,496.8 L664.6,496.8 L664.6,757.0 L663.7,757.0 L662.8,757.0 L661.9,757.0 L660.9,757.0 L660.0,757.0 L659.1,757.0 L658.2,757.0 L657.3,757.0 L656.4,757.0 L655.5,757.0 L654.6,757.0 L653.7,757.0 L652.8,757.0 L651.9,757.0 L651.0,757.0 L650.1,757.0 L649.2,757.0 L648.3,757.0 L647.4,757.0 L646.5,757.0 L645.6,757.0 L644.7,757.0 L643.8,757.0 L642.9,757.0 L642.0,757.0 L641.1,757.0 L640.2,757.0 L639.3,757.0 L638.3,748.7 L637.4,734.6 L636.5,723.1 L635.6,714.9 L634.7,709.0 L633.8,704.1 L632.9,700.0 L632.0,696.4 L631.1,693.1 L630.2,689.7 L629.3,686.4 L628.4,683.7 L627.5,682.4 L626.6,681.9 L625.7,681.5 L624.8,681.2 L623.9,680.9 L623.0,680.7 L622.1,680.5 L621.2,680.4 L620.3,680.3 L619.4,680.3 L618.5,680.3 L617.6,680.4 L616.6,680.7 L615.7,680.9 L614.8,681.2 L613.9,681.5 L613.0,681.8 L612.1,682.1 L611.2,682.4 L605.4,684.0 L599.6,685.6 L593.8,687.0 L587.9,688.6 L582.1,689.8 L576.3,689.8 L570.5,687.4 L564.6,683.8 L558.8,680.2 L553.0,676.0 L547.2,671.4 L541.3,667.0 L535.5,662.3 L529.7,657.5 L523.9,652.9 L518.1,648.5 L512.2,644.4 L506.4,640.3 L500.6,636.8 L494.8,634.7 L488.9,633.2 L483.1,632.3 L477.3,632.0 L471.5,631.9 L465.6,631.7 L459.8,631.7 L454.0,631.6 L448.2,631.6 L442.4,631.9 L436.5,632.6 L430.7,633.6 L424.9,634.6 L419.1,635.6 L413.2,636.2 L407.4,636.7 L401.6,637.1 L395.8,637.5 Z" fill="url(#h1)" stroke="none"/>
<path d="M395.8,624.3 L401.6,624.3 L407.4,624.3 L413.2,624.3 L419.1,624.3 L424.9,624.2 L430.7,624.1 L436.5,623.9 L442.4,623.8 L448.2,623.6 L454.0,623.6 L459.8,623.5 L465.6,623.5 L471.5,623.4 L477.3,623.3 L483.1,623.2 L488.9,622.9 L494.8,622.4 L500.6,621.8 L506.4,621.1 L512.2,620.5 L518.1,619.9 L523.9,619.4 L529.7,618.8 L535.5,618.2 L541.3,617.4 L547.2,616.4 L553.0,614.8 L558.8,612.6 L564.6,610.1 L570.5,607.7 L576.3,605.5 L582.1,603.9 L587.9,602.6 L593.8,601.2 L599.6,599.5 L605.4,597.5 L611.2,594.4 L612.1,593.6 L613.0,592.7 L613.9,591.6 L614.8,590.2 L615.7,588.7 L616.6,587.1 L617.6,585.3 L618.5,583.4 L619.4,581.4 L620.3,579.2 L621.2,576.6 L622.1,573.7 L623.0,570.4 L623.9,566.8 L624.8,562.8 L625.7,558.5 L626.6,554.0 L627.5,549.1 L628.4,543.4 L629.3,536.3 L630.2,528.4 L631.1,519.9 L632.0,510.8 L632.9,500.8 L633.8,496.8 L634.7,496.8 L635.6,496.8 L636.5,496.8 L637.4,496.8 L638.3,496.8 L639.3,496.8 L640.2,496.8 L641.1,496.8 L642.0,496.8 L642.9,496.8 L643.8,496.8 L644.7,496.8 L645.6,496.8 L646.5,496.8 L647.4,496.8 L648.3,496.8 L649.2,496.8 L650.1,496.8 L651.0,496.8 L651.9,496.8 L652.8,496.8 L653.7,496.8 L654.6,496.8 L655.5,496.8 L656.4,496.8 L657.3,496.8 L658.2,496.8 L659.1,496.8 L660.0,496.8 L660.9,496.8 L661.9,496.8 L662.8,496.8 L663.7,496.8 L664.6,496.8 L664.6,757.0 L663.7,757.0 L662.8,757.0 L661.9,757.0 L660.9,757.0 L660.0,757.0 L659.1,757.0 L658.2,757.0 L657.3,757.0 L656.4,757.0 L655.5,757.0 L654.6,757.0 L653.7,757.0 L652.8,757.0 L651.9,757.0 L651.0,757.0 L650.1,757.0 L649.2,757.0 L648.3,757.0 L647.4,757.0 L646.5,757.0 L645.6,757.0 L644.7,757.0 L643.8,757.0 L642.9,757.0 L642.0,757.0 L641.1,757.0 L640.2,757.0 L639.3,757.0 L638.3,757.0 L637.4,757.0 L636.5,757.0 L635.6,757.0 L634.7,757.0 L633.8,757.0 L632.9,755.8 L632.0,747.1 L631.1,739.7 L630.2,733.5 L629.3,728.0 L628.4,723.4 L627.5,719.8 L626.6,716.8 L625.7,714.1 L624.8,711.7 L623.9,709.5 L623.0,707.5 L622.1,705.5 L621.2,703.6 L620.3,701.7 L619.4,699.7 L618.5,697.6 L617.6,695.5 L616.6,693.4 L615.7,691.4 L614.8,689.4 L613.9,687.4 L613.0,685.6 L612.1,683.9 L611.2,682.4 L605.4,673.6 L599.6,666.5 L593.8,662.0 L587.9,659.1 L582.1,657.1 L576.3,655.7 L570.5,654.7 L564.6,653.9 L558.8,653.2 L553.0,652.6 L547.2,651.8 L541.3,650.9 L535.5,650.0 L529.7,649.1 L523.9,648.2 L518.1,647.2 L512.2,646.2 L506.4,645.2 L500.6,644.1 L494.8,643.0 L488.9,641.9 L483.1,641.1 L477.3,640.4 L471.5,639.7 L465.6,639.0 L459.8,638.5 L454.0,638.1 L448.2,638.0 L442.4,638.1 L436.5,638.5 L430.7,639.0 L424.9,639.7 L419.1,640.3 L413.2,641.0 L407.4,641.7 L401.6,642.5 L395.8,643.4 Z" fill="#8da0cb" fill-opacity="0.5" stroke="#8da0cb" stroke-opacity="0.85" stroke-width="0.9"/>
<path d="M395.8,624.3 L401.6,624.3 L407.4,624.3 L413.2,624.3 L419.1,624.3 L424.9,624.2 L430.7,624.1 L436.5,623.9 L442.4,623.8 L448.2,623.6 L454.0,623.6 L459.8,623.5 L465.6,623.5 L471.5,623.4 L477.3,623.3 L483.1,623.2 L488.9,622.9 L494.8,622.4 L500.6,621.8 L506.4,621.1 L512.2,620.5 L518.1,619.9 L523.9,619.4 L529.7,618.8 L535.5,618.2 L541.3,617.4 L547.2,616.4 L553.0,614.8 L558.8,612.6 L564.6,610.1 L570.5,607.7 L576.3,605.5 L582.1,603.9 L587.9,602.6 L593.8,601.2 L599.6,599.5 L605.4,597.5 L611.2,594.4 L612.1,593.6 L613.0,592.7 L613.9,591.6 L614.8,590.2 L615.7,588.7 L616.6,587.1 L617.6,585.3 L618.5,583.4 L619.4,581.4 L620.3,579.2 L621.2,576.6 L622.1,573.7 L623.0,570.4 L623.9,566.8 L624.8,562.8 L625.7,558.5 L626.6,554.0 L627.5,549.1 L628.4,543.4 L629.3,536.3 L630.2,528.4 L631.1,519.9 L632.0,510.8 L632.9,500.8 L633.8,496.8 L634.7,496.8 L635.6,496.8 L636.5,496.8 L637.4,496.8 L638.3,496.8 L639.3,496.8 L640.2,496.8 L641.1,496.8 L642.0,496.8 L642.9,496.8 L643.8,496.8 L644.7,496.8 L645.6,496.8 L646.5,496.8 L647.4,496.8 L648.3,496.8 L649.2,496.8 L650.1,496.8 L651.0,496.8 L651.9,496.8 L652.8,496.8 L653.7,496.8 L654.6,496.8 L655.5,496.8 L656.4,496.8 L657.3,496.8 L658.2,496.8 L659.1,496.8 L660.0,496.8 L660.9,496.8 L661.9,496.8 L662.8,496.8 L663.7,496.8 L664.6,496.8 L664.6,757.0 L663.7,757.0 L662.8,757.0 L661.9,757.0 L660.9,757.0 L660.0,757.0 L659.1,757.0 L658.2,757.0 L657.3,757.0 L656.4,757.0 L655.5,757.0 L654.6,757.0 L653.7,757.0 L652.8,757.0 L651.9,757.0 L651.0,757.0 L650.1,757.0 L649.2,757.0 L648.3,757.0 L647.4,757.0 L646.5,757.0 L645.6,757.0 L644.7,757.0 L643.8,757.0 L642.9,757.0 L642.0,757.0 L641.1,757.0 L640.2,757.0 L639.3,757.0 L638.3,757.0 L637.4,757.0 L636.5,757.0 L635.6,757.0 L634.7,757.0 L633.8,757.0 L632.9,755.8 L632.0,747.1 L631.1,739.7 L630.2,733.5 L629.3,728.0 L628.4,723.4 L627.5,719.8 L626.6,716.8 L625.7,714.1 L624.8,711.7 L623.9,709.5 L623.0,707.5 L622.1,705.5 L621.2,703.6 L620.3,701.7 L619.4,699.7 L618.5,697.6 L617.6,695.5 L616.6,693.4 L615.7,691.4 L614.8,689.4 L613.9,687.4 L613.0,685.6 L612.1,683.9 L611.2,682.4 L605.4,673.6 L599.6,666.5 L593.8,662.0 L587.9,659.1 L582.1,657.1 L576.3,655.7 L570.5,654.7 L564.6,653.9 L558.8,653.2 L553.0,652.6 L547.2,651.8 L541.3,650.9 L535.5,650.0 L529.7,649.1 L523.9,648.2 L518.1,647.2 L512.2,646.2 L506.4,645.2 L500.6,644.1 L494.8,643.0 L488.9,641.9 L483.1,641.1 L477.3,640.4 L471.5,639.7 L465.6,639.0 L459.8,638.5 L454.0,638.1 L448.2,638.0 L442.4,638.1 L436.5,638.5 L430.7,639.0 L424.9,639.7 L419.1,640.3 L413.2,641.0 L407.4,641.7 L401.6,642.5 L395.8,643.4 Z" fill="url(#h2)" stroke="none"/>
<path d="M395.8,626.9 L401.6,626.9 L407.4,626.9 L413.2,626.9 L419.1,626.9 L424.9,626.9 L430.7,626.9 L436.5,626.9 L442.4,626.9 L448.2,626.9 L454.0,626.9 L459.8,626.9 L465.6,626.9 L471.5,626.9 L477.3,626.9 L483.1,626.9 L488.9,626.9 L494.8,626.9 L500.6,626.9 L506.4,626.9 L512.2,626.9 L518.1,626.9 L523.9,626.9 L529.7,626.9 L535.5,626.9 L541.3,626.9 L547.2,626.9 L553.0,626.9 L558.8,626.9 L564.6,626.9 L570.5,626.9 L576.3,626.9 L582.1,626.9 L587.9,626.9 L593.8,626.9 L599.6,626.9 L605.4,626.9 L611.2,626.9 L612.1,626.9 L613.0,626.9 L613.9,626.9 L614.8,626.9 L615.7,626.9 L616.6,626.9 L617.6,626.9 L618.5,626.9 L619.4,626.9 L620.3,626.9 L621.2,626.9 L622.1,626.9 L623.0,626.9 L623.9,626.9 L624.8,626.9 L625.7,626.9 L626.6,626.9 L627.5,626.9 L628.4,626.9 L629.3,626.9 L630.2,626.9 L631.1,626.9 L632.0,626.9 L632.9,626.9 L633.8,626.9 L634.7,626.9 L635.6,626.9 L636.5,626.9 L637.4,626.9 L638.3,626.9 L639.3,626.9 L640.2,626.9 L641.1,626.9 L642.0,626.9 L642.9,626.9 L643.8,626.9 L644.7,626.9 L645.6,626.9 L646.5,626.9 L647.4,626.9 L648.3,626.9 L649.2,626.9 L650.1,626.9 L651.0,626.9 L651.9,626.9 L652.8,626.9 L653.7,626.9 L654.6,626.9 L655.5,626.9 L656.4,626.9 L657.3,626.9 L658.2,626.9 L659.1,626.9 L660.0,626.9 L660.9,626.9 L661.9,626.9 L662.8,626.9 L663.7,626.9 L664.6,626.9" fill="none" stroke="#66c2a5" stroke-width="1.5"/>
<path d="M395.8,615.7 L401.6,616.4 L407.4,617.2 L413.2,617.8 L419.1,618.4 L424.9,619.1 L430.7,619.7 L436.5,620.2 L442.4,620.6 L448.2,620.8 L454.0,620.8 L459.8,620.8 L465.6,620.8 L471.5,620.8 L477.3,620.8 L483.1,620.7 L488.9,620.1 L494.8,619.1 L500.6,617.8 L506.4,616.4 L512.2,615.2 L518.1,614.2 L523.9,613.3 L529.7,612.3 L535.5,611.3 L541.3,610.2 L547.2,609.0 L553.0,607.4 L558.8,605.6 L564.6,604.2 L570.5,603.1 L576.3,601.8 L582.1,600.0 L587.9,597.3 L593.8,594.1 L599.6,590.7 L605.4,586.9 L611.2,581.8 L612.1,580.8 L613.0,579.8 L613.9,578.6 L614.8,577.3 L615.7,575.8 L616.6,574.3 L617.6,572.6 L618.5,570.8 L619.4,568.9 L620.3,566.7 L621.2,564.1 L622.1,561.2 L623.0,558.0 L623.9,554.5 L624.8,550.8 L625.7,546.8 L626.6,542.7 L627.5,538.3 L628.4,533.7 L629.3,528.4 L630.2,522.3 L631.1,515.0 L632.0,506.1 L632.9,496.8 L633.8,496.8 L634.7,496.8 L635.6,496.8 L636.5,496.8 L637.4,496.8 L638.3,496.8 L639.3,496.8 L640.2,496.8 L641.1,496.8 L642.0,496.8 L642.9,496.8 L643.8,496.8 L644.7,496.8 L645.6,496.8 L646.5,496.8 L647.4,496.8 L648.3,496.8 L649.2,496.8 L650.1,496.8 L651.0,496.8 L651.9,496.8 L652.8,496.8 L653.7,496.8 L654.6,496.8 L655.5,496.8 L656.4,496.8 L657.3,496.8 L658.2,496.8 L659.1,496.8 L660.0,496.8 L660.9,496.8 L661.9,496.8 L662.8,496.8 L663.7,496.8 L664.6,496.8" fill="none" stroke="#66c2a5" stroke-width="1.45" stroke-dasharray="5 2.2"/>
<path d="M395.8,638.5 L401.6,637.9 L407.4,637.3 L413.2,636.7 L419.1,636.0 L424.9,635.2 L430.7,634.3 L436.5,633.5 L442.4,633.0 L448.2,632.8 L454.0,632.8 L459.8,633.0 L465.6,633.3 L471.5,633.6 L477.3,633.9 L483.1,634.3 L488.9,635.0 L494.8,635.9 L500.6,636.9 L506.4,638.0 L512.2,639.0 L518.1,640.0 L523.9,641.1 L529.7,642.2 L535.5,643.3 L541.3,644.3 L547.2,645.1 L553.0,645.7 L558.8,646.3 L564.6,647.0 L570.5,647.8 L576.3,648.9 L582.1,650.6 L587.9,653.3 L593.8,656.9 L599.6,661.3 L605.4,667.1 L611.2,673.7 L612.1,674.8 L613.0,676.0 L613.9,677.2 L614.8,678.4 L615.7,679.7 L616.6,681.0 L617.6,682.4 L618.5,683.8 L619.4,685.1 L620.3,686.5 L621.2,687.9 L622.1,689.2 L623.0,690.6 L623.9,692.0 L624.8,693.6 L625.7,695.2 L626.6,697.0 L627.5,698.9 L628.4,701.2 L629.3,704.0 L630.2,706.9 L631.1,709.9 L632.0,712.5 L632.9,715.2 L633.8,718.1 L634.7,721.7 L635.6,726.2 L636.5,733.3 L637.4,744.0 L638.3,757.0 L639.3,757.0 L640.2,757.0 L641.1,757.0 L642.0,757.0 L642.9,757.0 L643.8,757.0 L644.7,757.0 L645.6,757.0 L646.5,757.0 L647.4,757.0 L648.3,757.0 L649.2,757.0 L650.1,757.0 L651.0,757.0 L651.9,757.0 L652.8,757.0 L653.7,757.0 L654.6,757.0 L655.5,757.0 L656.4,757.0 L657.3,757.0 L658.2,757.0 L659.1,757.0 L660.0,757.0 L660.9,757.0 L661.9,757.0 L662.8,757.0 L663.7,757.0 L664.6,757.0" fill="none" stroke="#66c2a5" stroke-width="1.45" stroke-dasharray="5 2.2"/>
<path d="M395.8,627.6 L401.6,627.4 L407.4,627.2 L413.2,627.0 L419.1,626.7 L424.9,626.3 L430.7,625.8 L436.5,625.3 L442.4,624.7 L448.2,624.3 L454.0,623.8 L459.8,623.3 L465.6,622.8 L471.5,622.4 L477.3,622.2 L483.1,622.2 L488.9,622.6 L494.8,623.3 L500.6,624.4 L506.4,626.2 L512.2,628.4 L518.1,631.0 L523.9,634.1 L529.7,637.6 L535.5,641.3 L541.3,645.0 L547.2,648.5 L553.0,652.2 L558.8,655.7 L564.6,658.1 L570.5,660.2 L576.3,661.4 L582.1,661.2 L587.9,659.4 L593.8,656.7 L599.6,653.1 L605.4,647.6 L611.2,640.8 L612.1,639.6 L613.0,638.3 L613.9,637.0 L614.8,635.5 L615.7,634.0 L616.6,632.5 L617.6,630.9 L618.5,629.3 L619.4,627.6 L620.3,625.9 L621.2,624.1 L622.1,622.3 L623.0,620.4 L623.9,618.5 L624.8,616.5 L625.7,614.4 L626.6,612.3 L627.5,610.1 L628.4,607.8 L629.3,605.3 L630.2,602.7 L631.1,599.9 L632.0,597.1 L632.9,594.1 L633.8,591.0 L634.7,587.7 L635.6,584.2 L636.5,580.6 L637.4,576.6 L638.3,572.5 L639.3,568.3 L640.2,564.0 L641.1,559.8 L642.0,556.1 L642.9,552.6 L643.8,549.1 L644.7,545.1 L645.6,540.3 L646.5,534.4 L647.4,526.6 L648.3,510.5 L649.2,496.8 L650.1,496.8 L651.0,496.8 L651.9,496.8 L652.8,496.8 L653.7,496.8 L654.6,496.8 L655.5,496.8 L656.4,496.8 L657.3,496.8 L658.2,496.8 L659.1,496.8 L660.0,496.8 L660.9,496.8 L661.9,496.8 L662.8,496.8 L663.7,496.8 L664.6,496.8" fill="none" stroke="#fc8d62" stroke-width="1.5"/>
<path d="M395.8,617.3 L401.6,617.7 L407.4,617.9 L413.2,618.0 L419.1,618.0 L424.9,617.8 L430.7,617.6 L436.5,617.2 L442.4,616.8 L448.2,616.3 L454.0,615.6 L459.8,614.6 L465.6,613.5 L471.5,612.3 L477.3,611.2 L483.1,610.4 L488.9,609.5 L494.8,608.8 L500.6,608.9 L506.4,609.7 L512.2,610.9 L518.1,612.3 L523.9,614.2 L529.7,616.5 L535.5,619.1 L541.3,621.7 L547.2,624.4 L553.0,627.7 L558.8,630.8 L564.6,632.5 L570.5,633.7 L576.3,634.4 L582.1,633.8 L587.9,630.4 L593.8,625.2 L599.6,616.9 L605.4,603.1 L611.2,587.9 L612.1,585.7 L613.0,583.4 L613.9,581.0 L614.8,578.6 L615.7,576.1 L616.6,573.5 L617.6,570.9 L618.5,568.2 L619.4,565.5 L620.3,562.6 L621.2,559.8 L622.1,556.9 L623.0,553.9 L623.9,550.9 L624.8,547.6 L625.7,544.2 L626.6,540.6 L627.5,536.8 L628.4,532.7 L629.3,528.2 L630.2,523.0 L631.1,516.5 L632.0,508.1 L632.9,497.8 L633.8,496.8 L634.7,496.8 L635.6,496.8 L636.5,496.8 L637.4,496.8 L638.3,496.8 L639.3,496.8 L640.2,496.8 L641.1,496.8 L642.0,496.8 L642.9,496.8 L643.8,496.8 L644.7,496.8 L645.6,496.8 L646.5,496.8 L647.4,496.8 L648.3,496.8 L649.2,496.8 L650.1,496.8 L651.0,496.8 L651.9,496.8 L652.8,496.8 L653.7,496.8 L654.6,496.8 L655.5,496.8 L656.4,496.8 L657.3,496.8 L658.2,496.8 L659.1,496.8 L660.0,496.8 L660.9,496.8 L661.9,496.8 L662.8,496.8 L663.7,496.8 L664.6,496.8" fill="none" stroke="#fc8d62" stroke-width="1.45" stroke-dasharray="5 2.2"/>
<path d="M395.8,638.0 L401.6,637.6 L407.4,637.2 L413.2,636.7 L419.1,636.0 L424.9,635.1 L430.7,634.0 L436.5,633.0 L442.4,632.2 L448.2,631.9 L454.0,632.0 L459.8,632.1 L465.6,632.2 L471.5,632.3 L477.3,632.5 L483.1,632.8 L488.9,633.7 L494.8,635.3 L500.6,637.4 L506.4,641.1 L512.2,645.2 L518.1,649.3 L523.9,653.8 L529.7,658.5 L535.5,663.3 L541.3,668.1 L547.2,672.6 L553.0,677.2 L558.8,681.5 L564.6,685.1 L570.5,688.8 L576.3,691.2 L582.1,691.2 L587.9,690.0 L593.8,688.5 L599.6,687.2 L605.4,685.8 L611.2,684.5 L612.1,684.3 L613.0,684.0 L613.9,683.8 L614.8,683.5 L615.7,683.3 L616.6,683.1 L617.6,682.9 L618.5,682.9 L619.4,682.9 L620.3,683.0 L621.2,683.2 L622.1,683.4 L623.0,683.7 L623.9,684.0 L624.8,684.4 L625.7,684.9 L626.6,685.4 L627.5,686.0 L628.4,687.5 L629.3,690.4 L630.2,694.1 L631.1,697.7 L632.0,701.3 L632.9,705.2 L633.8,709.7 L634.7,715.0 L635.6,721.4 L636.5,730.2 L637.4,742.5 L638.3,757.0 L639.3,757.0 L640.2,757.0 L641.1,757.0 L642.0,757.0 L642.9,757.0 L643.8,757.0 L644.7,757.0 L645.6,757.0 L646.5,757.0 L647.4,757.0 L648.3,757.0 L649.2,757.0 L650.1,757.0 L651.0,757.0 L651.9,757.0 L652.8,757.0 L653.7,757.0 L654.6,757.0 L655.5,757.0 L656.4,757.0 L657.3,757.0 L658.2,757.0 L659.1,757.0 L660.0,757.0 L660.9,757.0 L661.9,757.0 L662.8,757.0 L663.7,757.0 L664.6,757.0" fill="none" stroke="#fc8d62" stroke-width="1.45" stroke-dasharray="5 2.2"/>
<path d="M395.8,634.7 L401.6,634.1 L407.4,633.5 L413.2,632.9 L419.1,632.5 L424.9,632.0 L430.7,631.5 L436.5,631.2 L442.4,630.9 L448.2,630.8 L454.0,630.8 L459.8,630.9 L465.6,631.1 L471.5,631.2 L477.3,631.4 L483.1,631.5 L488.9,631.7 L494.8,631.8 L500.6,631.9 L506.4,632.1 L512.2,632.1 L518.1,632.1 L523.9,632.0 L529.7,631.8 L535.5,631.7 L541.3,631.6 L547.2,631.6 L553.0,631.6 L558.8,631.7 L564.6,631.8 L570.5,631.9 L576.3,632.0 L582.1,632.3 L587.9,633.0 L593.8,634.0 L599.6,635.5 L605.4,637.8 L611.2,640.8 L612.1,641.3 L613.0,641.8 L613.9,642.4 L614.8,643.0 L615.7,643.7 L616.6,644.4 L617.6,645.0 L618.5,645.7 L619.4,646.4 L620.3,647.1 L621.2,647.7 L622.1,648.3 L623.0,648.9 L623.9,649.6 L624.8,650.3 L625.7,651.1 L626.6,651.9 L627.5,652.9 L628.4,654.0 L629.3,655.4 L630.2,657.0 L631.1,658.7 L632.0,660.4 L632.9,662.2 L633.8,664.2 L634.7,666.5 L635.6,669.0 L636.5,672.1 L637.4,675.9 L638.3,680.2 L639.3,684.7 L640.2,689.2 L641.1,693.3 L642.0,697.1 L642.9,700.7 L643.8,704.4 L644.7,708.3 L645.6,712.7 L646.5,717.7 L647.4,723.8 L648.3,732.7 L649.2,743.3 L650.1,753.9 L651.0,757.0 L651.9,757.0 L652.8,757.0 L653.7,757.0 L654.6,757.0 L655.5,757.0 L656.4,757.0 L657.3,757.0 L658.2,757.0 L659.1,757.0 L660.0,757.0 L660.9,757.0 L661.9,757.0 L662.8,757.0 L663.7,757.0 L664.6,757.0" fill="none" stroke="#8da0cb" stroke-width="1.5"/>
<path d="M395.8,623.8 L401.6,623.8 L407.4,623.8 L413.2,623.9 L419.1,623.9 L424.9,623.8 L430.7,623.7 L436.5,623.5 L442.4,623.4 L448.2,623.3 L454.0,623.2 L459.8,623.1 L465.6,623.1 L471.5,623.0 L477.3,622.9 L483.1,622.8 L488.9,622.4 L494.8,621.9 L500.6,621.3 L506.4,620.6 L512.2,619.9 L518.1,619.3 L523.9,618.8 L529.7,618.2 L535.5,617.5 L541.3,616.7 L547.2,615.7 L553.0,614.0 L558.8,611.7 L564.6,609.1 L570.5,606.4 L576.3,604.2 L582.1,602.5 L587.9,601.1 L593.8,599.6 L599.6,597.7 L605.4,595.5 L611.2,592.0 L612.1,591.3 L613.0,590.2 L613.9,589.0 L614.8,587.6 L615.7,586.0 L616.6,584.2 L617.6,582.3 L618.5,580.3 L619.4,578.2 L620.3,575.8 L621.2,573.0 L622.1,569.9 L623.0,566.4 L623.9,562.6 L624.8,558.4 L625.7,553.9 L626.6,549.1 L627.5,543.9 L628.4,537.8 L629.3,530.4 L630.2,522.0 L631.1,513.0 L632.0,503.3 L632.9,496.8 L633.8,496.8 L634.7,496.8 L635.6,496.8 L636.5,496.8 L637.4,496.8 L638.3,496.8 L639.3,496.8 L640.2,496.8 L641.1,496.8 L642.0,496.8 L642.9,496.8 L643.8,496.8 L644.7,496.8 L645.6,496.8 L646.5,496.8 L647.4,496.8 L648.3,496.8 L649.2,496.8 L650.1,496.8 L651.0,496.8 L651.9,496.8 L652.8,496.8 L653.7,496.8 L654.6,496.8 L655.5,496.8 L656.4,496.8 L657.3,496.8 L658.2,496.8 L659.1,496.8 L660.0,496.8 L660.9,496.8 L661.9,496.8 L662.8,496.8 L663.7,496.8 L664.6,496.8" fill="none" stroke="#8da0cb" stroke-width="1.45" stroke-dasharray="5 2.2"/>
<path d="M395.8,643.9 L401.6,643.0 L407.4,642.1 L413.2,641.4 L419.1,640.7 L424.9,640.1 L430.7,639.4 L436.5,638.8 L442.4,638.5 L448.2,638.3 L454.0,638.5 L459.8,638.9 L465.6,639.4 L471.5,640.1 L477.3,640.8 L483.1,641.5 L488.9,642.5 L494.8,643.5 L500.6,644.7 L506.4,645.8 L512.2,646.9 L518.1,648.0 L523.9,649.0 L529.7,650.0 L535.5,650.9 L541.3,651.9 L547.2,652.8 L553.0,653.6 L558.8,654.3 L564.6,655.0 L570.5,655.8 L576.3,656.9 L582.1,658.3 L587.9,660.4 L593.8,663.4 L599.6,668.1 L605.4,675.4 L611.2,684.5 L612.1,686.1 L613.0,687.8 L613.9,689.7 L614.8,691.7 L615.7,693.7 L616.6,695.9 L617.6,698.1 L618.5,700.2 L619.4,702.4 L620.3,704.5 L621.2,706.4 L622.1,708.4 L623.0,710.4 L623.9,712.5 L624.8,714.7 L625.7,717.2 L626.6,720.0 L627.5,723.1 L628.4,726.9 L629.3,731.7 L630.2,737.3 L631.1,743.8 L632.0,751.5 L632.9,757.0 L633.8,757.0 L634.7,757.0 L635.6,757.0 L636.5,757.0 L637.4,757.0 L638.3,757.0 L639.3,757.0 L640.2,757.0 L641.1,757.0 L642.0,757.0 L642.9,757.0 L643.8,757.0 L644.7,757.0 L645.6,757.0 L646.5,757.0 L647.4,757.0 L648.3,757.0 L649.2,757.0 L650.1,757.0 L651.0,757.0 L651.9,757.0 L652.8,757.0 L653.7,757.0 L654.6,757.0 L655.5,757.0 L656.4,757.0 L657.3,757.0 L658.2,757.0 L659.1,757.0 L660.0,757.0 L660.9,757.0 L661.9,757.0 L662.8,757.0 L663.7,757.0 L664.6,757.0" fill="none" stroke="#8da0cb" stroke-width="1.45" stroke-dasharray="5 2.2"/>
</g>
<path d="M395.7,529.3 L395.7,724.5 L677.9,724.5" fill="none" stroke="#000" stroke-width="0.95" stroke-linecap="square"/>
<line x1="392.4" y1="724.5" x2="395.7" y2="724.5" stroke="#000" stroke-width="0.85"/>
<line x1="392.4" y1="692.0" x2="395.7" y2="692.0" stroke="#000" stroke-width="0.85"/>
<line x1="392.4" y1="659.4" x2="395.7" y2="659.4" stroke="#000" stroke-width="0.85"/>
<line x1="392.4" y1="626.9" x2="395.7" y2="626.9" stroke="#000" stroke-width="0.85"/>
<line x1="392.4" y1="594.4" x2="395.7" y2="594.4" stroke="#000" stroke-width="0.85"/>
<line x1="392.4" y1="561.8" x2="395.7" y2="561.8" stroke="#000" stroke-width="0.85"/>
<line x1="392.4" y1="529.3" x2="395.7" y2="529.3" stroke="#000" stroke-width="0.85"/>
<line x1="395.7" y1="724.5" x2="395.7" y2="726.4" stroke="#000" stroke-width="0.65"/>
<line x1="400.9" y1="724.5" x2="400.9" y2="726.4" stroke="#000" stroke-width="0.65"/>
<line x1="405.2" y1="724.5" x2="405.2" y2="726.4" stroke="#000" stroke-width="0.65"/>
<line x1="409.0" y1="724.5" x2="409.0" y2="726.4" stroke="#000" stroke-width="0.65"/>
<line x1="412.4" y1="724.5" x2="412.4" y2="726.4" stroke="#000" stroke-width="0.65"/>
<line x1="415.4" y1="724.5" x2="415.4" y2="727.8" stroke="#000" stroke-width="0.85"/>
<line x1="435.0" y1="724.5" x2="435.0" y2="726.4" stroke="#000" stroke-width="0.65"/>
<line x1="446.5" y1="724.5" x2="446.5" y2="726.4" stroke="#000" stroke-width="0.65"/>
<line x1="454.7" y1="724.5" x2="454.7" y2="726.4" stroke="#000" stroke-width="0.65"/>
<line x1="461.0" y1="724.5" x2="461.0" y2="726.4" stroke="#000" stroke-width="0.65"/>
<line x1="466.2" y1="724.5" x2="466.2" y2="726.4" stroke="#000" stroke-width="0.65"/>
<line x1="470.5" y1="724.5" x2="470.5" y2="726.4" stroke="#000" stroke-width="0.65"/>
<line x1="474.3" y1="724.5" x2="474.3" y2="726.4" stroke="#000" stroke-width="0.65"/>
<line x1="477.7" y1="724.5" x2="477.7" y2="726.4" stroke="#000" stroke-width="0.65"/>
<line x1="480.6" y1="724.5" x2="480.6" y2="727.8" stroke="#000" stroke-width="0.85"/>
<line x1="500.3" y1="724.5" x2="500.3" y2="726.4" stroke="#000" stroke-width="0.65"/>
<line x1="511.8" y1="724.5" x2="511.8" y2="726.4" stroke="#000" stroke-width="0.65"/>
<line x1="520.0" y1="724.5" x2="520.0" y2="726.4" stroke="#000" stroke-width="0.65"/>
<line x1="526.3" y1="724.5" x2="526.3" y2="726.4" stroke="#000" stroke-width="0.65"/>
<line x1="531.4" y1="724.5" x2="531.4" y2="726.4" stroke="#000" stroke-width="0.65"/>
<line x1="535.8" y1="724.5" x2="535.8" y2="726.4" stroke="#000" stroke-width="0.65"/>
<line x1="539.6" y1="724.5" x2="539.6" y2="726.4" stroke="#000" stroke-width="0.65"/>
<line x1="542.9" y1="724.5" x2="542.9" y2="726.4" stroke="#000" stroke-width="0.65"/>
<line x1="545.9" y1="724.5" x2="545.9" y2="727.8" stroke="#000" stroke-width="0.85"/>
<line x1="565.6" y1="724.5" x2="565.6" y2="726.4" stroke="#000" stroke-width="0.65"/>
<line x1="577.1" y1="724.5" x2="577.1" y2="726.4" stroke="#000" stroke-width="0.65"/>
<line x1="585.2" y1="724.5" x2="585.2" y2="726.4" stroke="#000" stroke-width="0.65"/>
<line x1="591.6" y1="724.5" x2="591.6" y2="726.4" stroke="#000" stroke-width="0.65"/>
<line x1="596.7" y1="724.5" x2="596.7" y2="726.4" stroke="#000" stroke-width="0.65"/>
<line x1="601.1" y1="724.5" x2="601.1" y2="726.4" stroke="#000" stroke-width="0.65"/>
<line x1="604.9" y1="724.5" x2="604.9" y2="726.4" stroke="#000" stroke-width="0.65"/>
<line x1="608.2" y1="724.5" x2="608.2" y2="726.4" stroke="#000" stroke-width="0.65"/>
<line x1="611.2" y1="724.5" x2="611.2" y2="727.8" stroke="#000" stroke-width="0.85"/>
<line x1="630.9" y1="724.5" x2="630.9" y2="726.4" stroke="#000" stroke-width="0.65"/>
<line x1="642.4" y1="724.5" x2="642.4" y2="726.4" stroke="#000" stroke-width="0.65"/>
<line x1="650.5" y1="724.5" x2="650.5" y2="726.4" stroke="#000" stroke-width="0.65"/>
<line x1="656.9" y1="724.5" x2="656.9" y2="726.4" stroke="#000" stroke-width="0.65"/>
<line x1="662.0" y1="724.5" x2="662.0" y2="726.4" stroke="#000" stroke-width="0.65"/>
<line x1="666.4" y1="724.5" x2="666.4" y2="726.4" stroke="#000" stroke-width="0.65"/>
<line x1="670.2" y1="724.5" x2="670.2" y2="726.4" stroke="#000" stroke-width="0.65"/>
<line x1="673.5" y1="724.5" x2="673.5" y2="726.4" stroke="#000" stroke-width="0.65"/>
<line x1="676.5" y1="724.5" x2="676.5" y2="727.8" stroke="#000" stroke-width="0.85"/>
<rect x="402.3" y="534.4" width="270.6" height="48.9" rx="2.2" fill="#fff" fill-opacity="0.8" stroke="#ccc" stroke-opacity="0.8" stroke-width="0.9"/>
<rect x="406.8" y="538.9" width="21.3" height="7.4" fill="#fff" stroke="none"/>
<rect x="408.9" y="539.4" width="16.7" height="6.4" fill="#66c2a5" fill-opacity="0.5" stroke="none"/>
<rect x="406.8" y="538.9" width="21.3" height="7.4" fill="none" stroke="#66c2a5" stroke-width="1.25" stroke-dasharray="2.9 1.8"/>
<line x1="415.6" y1="545.4" x2="421.7" y2="540.1" stroke="#757575" stroke-width="1.1"/>
<rect x="406.8" y="554.4" width="21.3" height="7.4" fill="#fff" stroke="none"/>
<rect x="408.9" y="554.9" width="16.7" height="6.4" fill="#fc8d62" fill-opacity="0.5" stroke="none"/>
<rect x="406.8" y="554.4" width="21.3" height="7.4" fill="none" stroke="#fc8d62" stroke-width="1.25" stroke-dasharray="2.9 1.8"/>
<line x1="415.0" y1="555.2" x2="421.1" y2="561.1" stroke="#757575" stroke-width="1.1"/>
<rect x="406.8" y="569.9" width="21.3" height="7.4" fill="#fff" stroke="none"/>
<rect x="408.9" y="570.4" width="16.7" height="6.4" fill="#8da0cb" fill-opacity="0.5" stroke="none"/>
<rect x="406.8" y="569.9" width="21.3" height="7.4" fill="none" stroke="#8da0cb" stroke-width="1.25" stroke-dasharray="2.9 1.8"/>
<line x1="63.3" y1="785.5" x2="63.3" y2="980.5" stroke="#efefef" stroke-width="0.8"/>
<line x1="128.5" y1="785.5" x2="128.5" y2="980.5" stroke="#efefef" stroke-width="0.8"/>
<line x1="193.8" y1="785.5" x2="193.8" y2="980.5" stroke="#efefef" stroke-width="0.8"/>
<line x1="259.1" y1="785.5" x2="259.1" y2="980.5" stroke="#efefef" stroke-width="0.8"/>
<line x1="324.4" y1="785.5" x2="324.4" y2="980.5" stroke="#efefef" stroke-width="0.8"/>
<line x1="43.6" y1="980.5" x2="326.0" y2="980.5" stroke="#efefef" stroke-width="0.8"/>
<line x1="43.6" y1="948.0" x2="326.0" y2="948.0" stroke="#efefef" stroke-width="0.8"/>
<line x1="43.6" y1="915.5" x2="326.0" y2="915.5" stroke="#efefef" stroke-width="0.8"/>
<line x1="43.6" y1="883.0" x2="326.0" y2="883.0" stroke="#efefef" stroke-width="0.8"/>
<line x1="43.6" y1="850.5" x2="326.0" y2="850.5" stroke="#efefef" stroke-width="0.8"/>
<line x1="43.6" y1="818.0" x2="326.0" y2="818.0" stroke="#efefef" stroke-width="0.8"/>
<line x1="43.6" y1="785.5" x2="326.0" y2="785.5" stroke="#efefef" stroke-width="0.8"/>
<g clip-path="url(#cp30)">
<path d="M43.7,871.5 L49.5,872.2 L55.3,872.8 L61.1,873.4 L67.0,873.9 L72.8,874.4 L78.6,874.8 L84.4,875.2 L90.3,875.6 L96.1,875.9 L101.9,876.1 L107.7,876.4 L113.5,876.6 L119.4,876.8 L125.2,876.9 L131.0,876.9 L136.8,876.7 L142.7,876.2 L148.5,875.7 L154.3,875.2 L160.1,874.8 L166.0,874.6 L171.8,874.4 L177.6,874.2 L183.4,874.1 L189.2,873.9 L195.1,873.6 L200.9,873.3 L206.7,872.9 L212.5,872.4 L218.4,871.7 L224.2,870.8 L230.0,869.7 L235.8,868.4 L241.7,866.5 L247.5,863.5 L253.3,859.1 L259.1,853.8 L260.0,852.6 L260.9,851.4 L261.8,850.0 L262.7,848.6 L263.6,846.9 L264.5,845.1 L265.5,843.2 L266.4,840.8 L267.3,837.8 L268.2,834.8 L269.1,831.8 L270.0,828.8 L270.9,825.7 L271.8,822.6 L272.7,819.5 L273.6,816.5 L274.5,813.4 L275.4,810.2 L276.3,807.1 L277.2,803.9 L278.1,800.7 L279.0,797.4 L279.9,794.4 L280.8,790.8 L281.7,786.4 L282.6,780.9 L283.5,773.2 L284.4,756.9 L285.3,753.0 L286.2,753.0 L287.2,753.0 L288.1,753.0 L289.0,753.0 L289.9,753.0 L290.8,753.0 L291.7,753.0 L292.6,753.0 L293.5,753.0 L294.4,753.0 L295.3,753.0 L296.2,753.0 L297.1,753.0 L298.0,753.0 L298.9,753.0 L299.8,753.0 L300.7,753.0 L301.6,753.0 L302.5,753.0 L303.4,753.0 L304.3,753.0 L305.2,753.0 L306.1,753.0 L307.0,753.0 L307.9,753.0 L308.8,753.0 L309.8,753.0 L310.7,753.0 L311.6,753.0 L312.5,753.0 L312.5,1013.0 L311.6,1013.0 L310.7,1013.0 L309.8,1013.0 L308.8,1013.0 L307.9,1013.0 L307.0,1013.0 L306.1,1013.0 L305.2,1013.0 L304.3,1013.0 L303.4,1013.0 L302.5,1013.0 L301.6,1013.0 L300.7,1013.0 L299.8,1013.0 L298.9,1013.0 L298.0,1013.0 L297.1,1013.0 L296.2,1013.0 L295.3,1013.0 L294.4,1013.0 L293.5,1013.0 L292.6,1013.0 L291.7,1013.0 L290.8,1013.0 L289.9,1013.0 L289.0,1013.0 L288.1,1013.0 L287.2,1013.0 L286.2,1013.0 L285.3,1013.0 L284.4,1013.0 L283.5,1012.0 L282.6,1001.2 L281.7,992.7 L280.8,985.7 L279.9,980.1 L279.0,975.1 L278.1,969.7 L277.2,964.0 L276.3,958.3 L275.4,952.9 L274.5,948.1 L273.6,943.9 L272.7,940.1 L271.8,936.8 L270.9,933.9 L270.0,931.2 L269.1,928.5 L268.2,925.9 L267.3,923.2 L266.4,920.5 L265.5,918.0 L264.5,915.7 L263.6,913.4 L262.7,911.2 L261.8,909.2 L260.9,907.3 L260.0,905.7 L259.1,904.4 L253.3,899.2 L247.5,897.4 L241.7,896.5 L235.8,896.1 L230.0,895.8 L224.2,895.3 L218.4,894.6 L212.5,893.7 L206.7,892.9 L200.9,892.1 L195.1,891.3 L189.2,890.8 L183.4,890.3 L177.6,889.9 L171.8,889.5 L166.0,889.2 L160.1,888.9 L154.3,888.7 L148.5,888.4 L142.7,888.2 L136.8,888.0 L131.0,887.9 L125.2,887.9 L119.4,888.2 L113.5,888.6 L107.7,889.1 L101.9,889.7 L96.1,890.1 L90.3,890.6 L84.4,891.0 L78.6,891.5 L72.8,892.0 L67.0,892.4 L61.1,892.9 L55.3,893.4 L49.5,893.9 L43.7,894.4 Z" fill="#66c2a5" fill-opacity="0.5" stroke="#66c2a5" stroke-opacity="0.85" stroke-width="0.9"/>
<path d="M43.7,871.5 L49.5,872.2 L55.3,872.8 L61.1,873.4 L67.0,873.9 L72.8,874.4 L78.6,874.8 L84.4,875.2 L90.3,875.6 L96.1,875.9 L101.9,876.1 L107.7,876.4 L113.5,876.6 L119.4,876.8 L125.2,876.9 L131.0,876.9 L136.8,876.7 L142.7,876.2 L148.5,875.7 L154.3,875.2 L160.1,874.8 L166.0,874.6 L171.8,874.4 L177.6,874.2 L183.4,874.1 L189.2,873.9 L195.1,873.6 L200.9,873.3 L206.7,872.9 L212.5,872.4 L218.4,871.7 L224.2,870.8 L230.0,869.7 L235.8,868.4 L241.7,866.5 L247.5,863.5 L253.3,859.1 L259.1,853.8 L260.0,852.6 L260.9,851.4 L261.8,850.0 L262.7,848.6 L263.6,846.9 L264.5,845.1 L265.5,843.2 L266.4,840.8 L267.3,837.8 L268.2,834.8 L269.1,831.8 L270.0,828.8 L270.9,825.7 L271.8,822.6 L272.7,819.5 L273.6,816.5 L274.5,813.4 L275.4,810.2 L276.3,807.1 L277.2,803.9 L278.1,800.7 L279.0,797.4 L279.9,794.4 L280.8,790.8 L281.7,786.4 L282.6,780.9 L283.5,773.2 L284.4,756.9 L285.3,753.0 L286.2,753.0 L287.2,753.0 L288.1,753.0 L289.0,753.0 L289.9,753.0 L290.8,753.0 L291.7,753.0 L292.6,753.0 L293.5,753.0 L294.4,753.0 L295.3,753.0 L296.2,753.0 L297.1,753.0 L298.0,753.0 L298.9,753.0 L299.8,753.0 L300.7,753.0 L301.6,753.0 L302.5,753.0 L303.4,753.0 L304.3,753.0 L305.2,753.0 L306.1,753.0 L307.0,753.0 L307.9,753.0 L308.8,753.0 L309.8,753.0 L310.7,753.0 L311.6,753.0 L312.5,753.0 L312.5,1013.0 L311.6,1013.0 L310.7,1013.0 L309.8,1013.0 L308.8,1013.0 L307.9,1013.0 L307.0,1013.0 L306.1,1013.0 L305.2,1013.0 L304.3,1013.0 L303.4,1013.0 L302.5,1013.0 L301.6,1013.0 L300.7,1013.0 L299.8,1013.0 L298.9,1013.0 L298.0,1013.0 L297.1,1013.0 L296.2,1013.0 L295.3,1013.0 L294.4,1013.0 L293.5,1013.0 L292.6,1013.0 L291.7,1013.0 L290.8,1013.0 L289.9,1013.0 L289.0,1013.0 L288.1,1013.0 L287.2,1013.0 L286.2,1013.0 L285.3,1013.0 L284.4,1013.0 L283.5,1012.0 L282.6,1001.2 L281.7,992.7 L280.8,985.7 L279.9,980.1 L279.0,975.1 L278.1,969.7 L277.2,964.0 L276.3,958.3 L275.4,952.9 L274.5,948.1 L273.6,943.9 L272.7,940.1 L271.8,936.8 L270.9,933.9 L270.0,931.2 L269.1,928.5 L268.2,925.9 L267.3,923.2 L266.4,920.5 L265.5,918.0 L264.5,915.7 L263.6,913.4 L262.7,911.2 L261.8,909.2 L260.9,907.3 L260.0,905.7 L259.1,904.4 L253.3,899.2 L247.5,897.4 L241.7,896.5 L235.8,896.1 L230.0,895.8 L224.2,895.3 L218.4,894.6 L212.5,893.7 L206.7,892.9 L200.9,892.1 L195.1,891.3 L189.2,890.8 L183.4,890.3 L177.6,889.9 L171.8,889.5 L166.0,889.2 L160.1,888.9 L154.3,888.7 L148.5,888.4 L142.7,888.2 L136.8,888.0 L131.0,887.9 L125.2,887.9 L119.4,888.2 L113.5,888.6 L107.7,889.1 L101.9,889.7 L96.1,890.1 L90.3,890.6 L84.4,891.0 L78.6,891.5 L72.8,892.0 L67.0,892.4 L61.1,892.9 L55.3,893.4 L49.5,893.9 L43.7,894.4 Z" fill="url(#h0)" stroke="none"/>
<path d="M43.7,866.1 L49.5,866.6 L55.3,867.1 L61.1,867.6 L67.0,868.1 L72.8,868.6 L78.6,869.1 L84.4,869.6 L90.3,869.9 L96.1,870.0 L101.9,869.9 L107.7,869.7 L113.5,869.4 L119.4,869.0 L125.2,868.5 L131.0,867.9 L136.8,866.5 L142.7,864.5 L148.5,861.9 L154.3,858.9 L160.1,855.7 L166.0,851.9 L171.8,846.8 L177.6,841.0 L183.4,834.5 L189.2,828.0 L195.1,821.5 L200.9,814.1 L206.7,806.9 L212.5,801.8 L218.4,797.3 L224.2,794.5 L230.0,794.9 L235.8,798.3 L241.7,802.9 L247.5,808.4 L253.3,812.6 L259.1,813.4 L260.0,812.5 L260.9,810.2 L261.8,807.0 L262.7,803.6 L263.6,799.0 L264.5,793.3 L265.5,787.0 L266.4,780.1 L267.3,772.5 L268.2,764.2 L269.1,755.3 L270.0,753.0 L270.9,753.0 L271.8,753.0 L272.7,753.0 L273.6,753.0 L274.5,753.0 L275.4,753.0 L276.3,753.0 L277.2,753.0 L278.1,753.0 L279.0,753.0 L279.9,753.0 L280.8,753.0 L281.7,753.0 L282.6,753.0 L283.5,753.0 L284.4,753.0 L285.3,753.0 L286.2,753.0 L287.2,753.0 L288.1,753.0 L289.0,753.0 L289.9,753.0 L290.8,753.0 L291.7,753.0 L292.6,753.0 L293.5,753.0 L294.4,753.0 L295.3,753.0 L296.2,753.0 L297.1,753.0 L298.0,753.0 L298.9,753.0 L299.8,753.0 L300.7,753.0 L301.6,753.0 L302.5,753.0 L303.4,753.0 L304.3,753.0 L305.2,753.0 L306.1,753.0 L307.0,753.0 L307.9,753.0 L308.8,753.0 L309.8,753.0 L310.7,753.0 L311.6,753.0 L312.5,753.0 L312.5,1013.0 L311.6,1013.0 L310.7,1013.0 L309.8,1013.0 L308.8,1013.0 L307.9,1013.0 L307.0,1013.0 L306.1,1013.0 L305.2,1013.0 L304.3,1013.0 L303.4,1013.0 L302.5,1013.0 L301.6,1013.0 L300.7,1013.0 L299.8,1013.0 L298.9,1013.0 L298.0,1013.0 L297.1,1013.0 L296.2,1013.0 L295.3,1013.0 L294.4,1013.0 L293.5,1013.0 L292.6,1013.0 L291.7,1013.0 L290.8,1013.0 L289.9,1013.0 L289.0,1013.0 L288.1,1013.0 L287.2,1013.0 L286.2,1013.0 L285.3,1013.0 L284.4,1013.0 L283.5,1013.0 L282.6,1013.0 L281.7,1013.0 L280.8,1005.7 L279.9,991.5 L279.0,980.7 L278.1,973.2 L277.2,967.0 L276.3,961.8 L275.4,957.2 L274.5,953.0 L273.6,949.0 L272.7,945.1 L271.8,941.0 L270.9,937.2 L270.0,933.6 L269.1,930.2 L268.2,926.7 L267.3,923.2 L266.4,919.5 L265.5,915.4 L264.5,910.7 L263.6,905.7 L262.7,900.9 L261.8,896.7 L260.9,892.5 L260.0,888.6 L259.1,885.6 L253.3,873.8 L247.5,863.9 L241.7,855.5 L235.8,847.1 L230.0,840.7 L224.2,839.4 L218.4,840.1 L212.5,841.4 L206.7,843.4 L200.9,847.0 L195.1,851.0 L189.2,854.7 L183.4,858.6 L177.6,862.5 L171.8,866.2 L166.0,869.4 L160.1,871.9 L154.3,874.0 L148.5,875.9 L142.7,877.6 L136.8,879.0 L131.0,880.0 L125.2,880.6 L119.4,881.1 L113.5,881.5 L107.7,881.8 L101.9,882.1 L96.1,882.3 L90.3,882.6 L84.4,882.8 L78.6,883.0 L72.8,883.2 L67.0,883.4 L61.1,883.6 L55.3,883.9 L49.5,884.3 L43.7,884.6 Z" fill="#fc8d62" fill-opacity="0.5" stroke="#fc8d62" stroke-opacity="0.85" stroke-width="0.9"/>
<path d="M43.7,866.1 L49.5,866.6 L55.3,867.1 L61.1,867.6 L67.0,868.1 L72.8,868.6 L78.6,869.1 L84.4,869.6 L90.3,869.9 L96.1,870.0 L101.9,869.9 L107.7,869.7 L113.5,869.4 L119.4,869.0 L125.2,868.5 L131.0,867.9 L136.8,866.5 L142.7,864.5 L148.5,861.9 L154.3,858.9 L160.1,855.7 L166.0,851.9 L171.8,846.8 L177.6,841.0 L183.4,834.5 L189.2,828.0 L195.1,821.5 L200.9,814.1 L206.7,806.9 L212.5,801.8 L218.4,797.3 L224.2,794.5 L230.0,794.9 L235.8,798.3 L241.7,802.9 L247.5,808.4 L253.3,812.6 L259.1,813.4 L260.0,812.5 L260.9,810.2 L261.8,807.0 L262.7,803.6 L263.6,799.0 L264.5,793.3 L265.5,787.0 L266.4,780.1 L267.3,772.5 L268.2,764.2 L269.1,755.3 L270.0,753.0 L270.9,753.0 L271.8,753.0 L272.7,753.0 L273.6,753.0 L274.5,753.0 L275.4,753.0 L276.3,753.0 L277.2,753.0 L278.1,753.0 L279.0,753.0 L279.9,753.0 L280.8,753.0 L281.7,753.0 L282.6,753.0 L283.5,753.0 L284.4,753.0 L285.3,753.0 L286.2,753.0 L287.2,753.0 L288.1,753.0 L289.0,753.0 L289.9,753.0 L290.8,753.0 L291.7,753.0 L292.6,753.0 L293.5,753.0 L294.4,753.0 L295.3,753.0 L296.2,753.0 L297.1,753.0 L298.0,753.0 L298.9,753.0 L299.8,753.0 L300.7,753.0 L301.6,753.0 L302.5,753.0 L303.4,753.0 L304.3,753.0 L305.2,753.0 L306.1,753.0 L307.0,753.0 L307.9,753.0 L308.8,753.0 L309.8,753.0 L310.7,753.0 L311.6,753.0 L312.5,753.0 L312.5,1013.0 L311.6,1013.0 L310.7,1013.0 L309.8,1013.0 L308.8,1013.0 L307.9,1013.0 L307.0,1013.0 L306.1,1013.0 L305.2,1013.0 L304.3,1013.0 L303.4,1013.0 L302.5,1013.0 L301.6,1013.0 L300.7,1013.0 L299.8,1013.0 L298.9,1013.0 L298.0,1013.0 L297.1,1013.0 L296.2,1013.0 L295.3,1013.0 L294.4,1013.0 L293.5,1013.0 L292.6,1013.0 L291.7,1013.0 L290.8,1013.0 L289.9,1013.0 L289.0,1013.0 L288.1,1013.0 L287.2,1013.0 L286.2,1013.0 L285.3,1013.0 L284.4,1013.0 L283.5,1013.0 L282.6,1013.0 L281.7,1013.0 L280.8,1005.7 L279.9,991.5 L279.0,980.7 L278.1,973.2 L277.2,967.0 L276.3,961.8 L275.4,957.2 L274.5,953.0 L273.6,949.0 L272.7,945.1 L271.8,941.0 L270.9,937.2 L270.0,933.6 L269.1,930.2 L268.2,926.7 L267.3,923.2 L266.4,919.5 L265.5,915.4 L264.5,910.7 L263.6,905.7 L262.7,900.9 L261.8,896.7 L260.9,892.5 L260.0,888.6 L259.1,885.6 L253.3,873.8 L247.5,863.9 L241.7,855.5 L235.8,847.1 L230.0,840.7 L224.2,839.4 L218.4,840.1 L212.5,841.4 L206.7,843.4 L200.9,847.0 L195.1,851.0 L189.2,854.7 L183.4,858.6 L177.6,862.5 L171.8,866.2 L166.0,869.4 L160.1,871.9 L154.3,874.0 L148.5,875.9 L142.7,877.6 L136.8,879.0 L131.0,880.0 L125.2,880.6 L119.4,881.1 L113.5,881.5 L107.7,881.8 L101.9,882.1 L96.1,882.3 L90.3,882.6 L84.4,882.8 L78.6,883.0 L72.8,883.2 L67.0,883.4 L61.1,883.6 L55.3,883.9 L49.5,884.3 L43.7,884.6 Z" fill="url(#h1)" stroke="none"/>
<path d="M43.7,872.6 L49.5,872.9 L55.3,873.1 L61.1,873.5 L67.0,873.8 L72.8,874.3 L78.6,874.9 L84.4,875.4 L90.3,875.7 L96.1,875.9 L101.9,875.9 L107.7,875.9 L113.5,875.9 L119.4,875.9 L125.2,875.9 L131.0,875.8 L136.8,875.4 L142.7,874.8 L148.5,874.0 L154.3,873.3 L160.1,872.7 L166.0,872.3 L171.8,872.1 L177.6,871.8 L183.4,871.6 L189.2,871.3 L195.1,870.9 L200.9,870.1 L206.7,868.9 L212.5,867.6 L218.4,866.0 L224.2,863.9 L230.0,860.7 L235.8,855.8 L241.7,849.8 L247.5,843.4 L253.3,834.0 L259.1,813.4 L260.0,809.7 L260.9,805.7 L261.8,801.3 L262.7,796.7 L263.6,792.0 L264.5,786.8 L265.5,780.6 L266.4,772.4 L267.3,761.7 L268.2,753.0 L269.1,753.0 L270.0,753.0 L270.9,753.0 L271.8,753.0 L272.7,753.0 L273.6,753.0 L274.5,753.0 L275.4,753.0 L276.3,753.0 L277.2,753.0 L278.1,753.0 L279.0,753.0 L279.9,753.0 L280.8,753.0 L281.7,753.0 L282.6,753.0 L283.5,753.0 L284.4,753.0 L285.3,753.0 L286.2,753.0 L287.2,753.0 L288.1,753.0 L289.0,753.0 L289.9,753.0 L290.8,753.0 L291.7,753.0 L292.6,753.0 L293.5,753.0 L294.4,753.0 L295.3,753.0 L296.2,753.0 L297.1,753.0 L298.0,753.0 L298.9,753.0 L299.8,753.0 L300.7,753.0 L301.6,753.0 L302.5,753.0 L303.4,753.0 L304.3,753.0 L305.2,753.0 L306.1,753.0 L307.0,753.0 L307.9,753.0 L308.8,753.0 L309.8,753.0 L310.7,753.0 L311.6,753.0 L312.5,753.0 L312.5,753.0 L311.6,753.0 L310.7,753.0 L309.8,753.0 L308.8,753.0 L307.9,753.0 L307.0,753.0 L306.1,753.0 L305.2,753.0 L304.3,753.0 L303.4,753.0 L302.5,753.0 L301.6,753.0 L300.7,753.0 L299.8,753.0 L298.9,753.0 L298.0,753.0 L297.1,753.0 L296.2,753.0 L295.3,753.0 L294.4,753.0 L293.5,753.0 L292.6,753.0 L291.7,753.0 L290.8,753.0 L289.9,753.0 L289.0,753.0 L288.1,753.0 L287.2,753.0 L286.2,753.0 L285.3,753.0 L284.4,753.5 L283.5,770.9 L282.6,779.2 L281.7,785.6 L280.8,792.5 L279.9,799.8 L279.0,806.7 L278.1,812.9 L277.2,818.8 L276.3,824.3 L275.4,829.3 L274.5,833.9 L273.6,838.4 L272.7,842.7 L271.8,846.5 L270.9,849.9 L270.0,852.6 L269.1,854.8 L268.2,856.6 L267.3,858.3 L266.4,859.8 L265.5,861.2 L264.5,862.5 L263.6,863.7 L262.7,865.0 L261.8,866.2 L260.9,867.5 L260.0,868.8 L259.1,870.4 L253.3,887.2 L247.5,889.6 L241.7,890.1 L235.8,890.1 L230.0,890.1 L224.2,890.0 L218.4,889.0 L212.5,888.0 L206.7,887.9 L200.9,887.9 L195.1,887.9 L189.2,887.8 L183.4,887.6 L177.6,887.4 L171.8,887.1 L166.0,887.0 L160.1,886.9 L154.3,886.9 L148.5,886.9 L142.7,886.9 L136.8,886.9 L131.0,886.9 L125.2,886.9 L119.4,887.1 L113.5,887.5 L107.7,887.9 L101.9,888.4 L96.1,888.8 L90.3,889.3 L84.4,889.8 L78.6,890.3 L72.8,890.8 L67.0,891.2 L61.1,891.6 L55.3,891.9 L49.5,892.1 L43.7,892.3 Z" fill="#8da0cb" fill-opacity="0.5" stroke="#8da0cb" stroke-opacity="0.85" stroke-width="0.9"/>
<path d="M43.7,872.6 L49.5,872.9 L55.3,873.1 L61.1,873.5 L67.0,873.8 L72.8,874.3 L78.6,874.9 L84.4,875.4 L90.3,875.7 L96.1,875.9 L101.9,875.9 L107.7,875.9 L113.5,875.9 L119.4,875.9 L125.2,875.9 L131.0,875.8 L136.8,875.4 L142.7,874.8 L148.5,874.0 L154.3,873.3 L160.1,872.7 L166.0,872.3 L171.8,872.1 L177.6,871.8 L183.4,871.6 L189.2,871.3 L195.1,870.9 L200.9,870.1 L206.7,868.9 L212.5,867.6 L218.4,866.0 L224.2,863.9 L230.0,860.7 L235.8,855.8 L241.7,849.8 L247.5,843.4 L253.3,834.0 L259.1,813.4 L260.0,809.7 L260.9,805.7 L261.8,801.3 L262.7,796.7 L263.6,792.0 L264.5,786.8 L265.5,780.6 L266.4,772.4 L267.3,761.7 L268.2,753.0 L269.1,753.0 L270.0,753.0 L270.9,753.0 L271.8,753.0 L272.7,753.0 L273.6,753.0 L274.5,753.0 L275.4,753.0 L276.3,753.0 L277.2,753.0 L278.1,753.0 L279.0,753.0 L279.9,753.0 L280.8,753.0 L281.7,753.0 L282.6,753.0 L283.5,753.0 L284.4,753.0 L285.3,753.0 L286.2,753.0 L287.2,753.0 L288.1,753.0 L289.0,753.0 L289.9,753.0 L290.8,753.0 L291.7,753.0 L292.6,753.0 L293.5,753.0 L294.4,753.0 L295.3,753.0 L296.2,753.0 L297.1,753.0 L298.0,753.0 L298.9,753.0 L299.8,753.0 L300.7,753.0 L301.6,753.0 L302.5,753.0 L303.4,753.0 L304.3,753.0 L305.2,753.0 L306.1,753.0 L307.0,753.0 L307.9,753.0 L308.8,753.0 L309.8,753.0 L310.7,753.0 L311.6,753.0 L312.5,753.0 L312.5,753.0 L311.6,753.0 L310.7,753.0 L309.8,753.0 L308.8,753.0 L307.9,753.0 L307.0,753.0 L306.1,753.0 L305.2,753.0 L304.3,753.0 L303.4,753.0 L302.5,753.0 L301.6,753.0 L300.7,753.0 L299.8,753.0 L298.9,753.0 L298.0,753.0 L297.1,753.0 L296.2,753.0 L295.3,753.0 L294.4,753.0 L293.5,753.0 L292.6,753.0 L291.7,753.0 L290.8,753.0 L289.9,753.0 L289.0,753.0 L288.1,753.0 L287.2,753.0 L286.2,753.0 L285.3,753.0 L284.4,753.5 L283.5,770.9 L282.6,779.2 L281.7,785.6 L280.8,792.5 L279.9,799.8 L279.0,806.7 L278.1,812.9 L277.2,818.8 L276.3,824.3 L275.4,829.3 L274.5,833.9 L273.6,838.4 L272.7,842.7 L271.8,846.5 L270.9,849.9 L270.0,852.6 L269.1,854.8 L268.2,856.6 L267.3,858.3 L266.4,859.8 L265.5,861.2 L264.5,862.5 L263.6,863.7 L262.7,865.0 L261.8,866.2 L260.9,867.5 L260.0,868.8 L259.1,870.4 L253.3,887.2 L247.5,889.6 L241.7,890.1 L235.8,890.1 L230.0,890.1 L224.2,890.0 L218.4,889.0 L212.5,888.0 L206.7,887.9 L200.9,887.9 L195.1,887.9 L189.2,887.8 L183.4,887.6 L177.6,887.4 L171.8,887.1 L166.0,887.0 L160.1,886.9 L154.3,886.9 L148.5,886.9 L142.7,886.9 L136.8,886.9 L131.0,886.9 L125.2,886.9 L119.4,887.1 L113.5,887.5 L107.7,887.9 L101.9,888.4 L96.1,888.8 L90.3,889.3 L84.4,889.8 L78.6,890.3 L72.8,890.8 L67.0,891.2 L61.1,891.6 L55.3,891.9 L49.5,892.1 L43.7,892.3 Z" fill="url(#h2)" stroke="none"/>
<path d="M43.7,883.0 L49.5,883.0 L55.3,883.0 L61.1,883.0 L67.0,883.0 L72.8,883.0 L78.6,883.0 L84.4,883.0 L90.3,883.0 L96.1,883.0 L101.9,883.0 L107.7,883.0 L113.5,883.0 L119.4,883.0 L125.2,883.0 L131.0,883.0 L136.8,883.0 L142.7,883.0 L148.5,883.0 L154.3,883.0 L160.1,883.0 L166.0,883.0 L171.8,883.0 L177.6,883.0 L183.4,883.0 L189.2,883.0 L195.1,883.0 L200.9,883.0 L206.7,883.0 L212.5,883.0 L218.4,883.0 L224.2,883.0 L230.0,883.0 L235.8,883.0 L241.7,883.0 L247.5,883.0 L253.3,883.0 L259.1,883.0 L260.0,883.0 L260.9,883.0 L261.8,883.0 L262.7,883.0 L263.6,883.0 L264.5,883.0 L265.5,883.0 L266.4,883.0 L267.3,883.0 L268.2,883.0 L269.1,883.0 L270.0,883.0 L270.9,883.0 L271.8,883.0 L272.7,883.0 L273.6,883.0 L274.5,883.0 L275.4,883.0 L276.3,883.0 L277.2,883.0 L278.1,883.0 L279.0,883.0 L279.9,883.0 L280.8,883.0 L281.7,883.0 L282.6,883.0 L283.5,883.0 L284.4,883.0 L285.3,883.0 L286.2,883.0 L287.2,883.0 L288.1,883.0 L289.0,883.0 L289.9,883.0 L290.8,883.0 L291.7,883.0 L292.6,883.0 L293.5,883.0 L294.4,883.0 L295.3,883.0 L296.2,883.0 L297.1,883.0 L298.0,883.0 L298.9,883.0 L299.8,883.0 L300.7,883.0 L301.6,883.0 L302.5,883.0 L303.4,883.0 L304.3,883.0 L305.2,883.0 L306.1,883.0 L307.0,883.0 L307.9,883.0 L308.8,883.0 L309.8,883.0 L310.7,883.0 L311.6,883.0 L312.5,883.0" fill="none" stroke="#66c2a5" stroke-width="1.5"/>
<path d="M43.7,870.9 L49.5,871.6 L55.3,872.3 L61.1,872.9 L67.0,873.4 L72.8,873.9 L78.6,874.4 L84.4,874.8 L90.3,875.2 L96.1,875.5 L101.9,875.8 L107.7,876.1 L113.5,876.3 L119.4,876.5 L125.2,876.6 L131.0,876.6 L136.8,876.4 L142.7,875.9 L148.5,875.3 L154.3,874.8 L160.1,874.4 L166.0,874.1 L171.8,874.0 L177.6,873.8 L183.4,873.6 L189.2,873.4 L195.1,873.2 L200.9,872.8 L206.7,872.4 L212.5,871.8 L218.4,871.1 L224.2,870.2 L230.0,869.1 L235.8,867.6 L241.7,865.7 L247.5,862.5 L253.3,857.9 L259.1,852.3 L260.0,851.1 L260.9,849.8 L261.8,848.4 L262.7,846.8 L263.6,845.1 L264.5,843.2 L265.5,841.2 L266.4,838.7 L267.3,835.6 L268.2,832.4 L269.1,829.3 L270.0,826.1 L270.9,822.8 L271.8,819.6 L272.7,816.4 L273.6,813.1 L274.5,809.9 L275.4,806.6 L276.3,803.3 L277.2,799.9 L278.1,796.5 L279.0,793.2 L279.9,789.9 L280.8,786.2 L281.7,781.6 L282.6,775.8 L283.5,767.8 L284.4,753.0 L285.3,753.0 L286.2,753.0 L287.2,753.0 L288.1,753.0 L289.0,753.0 L289.9,753.0 L290.8,753.0 L291.7,753.0 L292.6,753.0 L293.5,753.0 L294.4,753.0 L295.3,753.0 L296.2,753.0 L297.1,753.0 L298.0,753.0 L298.9,753.0 L299.8,753.0 L300.7,753.0 L301.6,753.0 L302.5,753.0 L303.4,753.0 L304.3,753.0 L305.2,753.0 L306.1,753.0 L307.0,753.0 L307.9,753.0 L308.8,753.0 L309.8,753.0 L310.7,753.0 L311.6,753.0 L312.5,753.0" fill="none" stroke="#66c2a5" stroke-width="1.45" stroke-dasharray="5 2.2"/>
<path d="M43.7,895.0 L49.5,894.5 L55.3,893.9 L61.1,893.4 L67.0,892.9 L72.8,892.4 L78.6,891.9 L84.4,891.4 L90.3,891.0 L96.1,890.5 L101.9,890.0 L107.7,889.4 L113.5,888.9 L119.4,888.4 L125.2,888.2 L131.0,888.1 L136.8,888.2 L142.7,888.4 L148.5,888.7 L154.3,888.9 L160.1,889.2 L166.0,889.5 L171.8,889.9 L177.6,890.2 L183.4,890.7 L189.2,891.2 L195.1,891.7 L200.9,892.5 L206.7,893.4 L212.5,894.3 L218.4,895.1 L224.2,895.9 L230.0,896.4 L235.8,896.8 L241.7,897.2 L247.5,898.1 L253.3,900.0 L259.1,905.5 L260.0,906.9 L260.9,908.5 L261.8,910.5 L262.7,912.7 L263.6,915.0 L264.5,917.4 L265.5,919.8 L266.4,922.4 L267.3,925.2 L268.2,928.1 L269.1,930.8 L270.0,933.6 L270.9,936.4 L271.8,939.5 L272.7,943.0 L273.6,947.0 L274.5,951.4 L275.4,956.4 L276.3,962.1 L277.2,968.0 L278.1,974.0 L279.0,979.7 L279.9,985.0 L280.8,990.9 L281.7,998.2 L282.6,1007.1 L283.5,1013.0 L284.4,1013.0 L285.3,1013.0 L286.2,1013.0 L287.2,1013.0 L288.1,1013.0 L289.0,1013.0 L289.9,1013.0 L290.8,1013.0 L291.7,1013.0 L292.6,1013.0 L293.5,1013.0 L294.4,1013.0 L295.3,1013.0 L296.2,1013.0 L297.1,1013.0 L298.0,1013.0 L298.9,1013.0 L299.8,1013.0 L300.7,1013.0 L301.6,1013.0 L302.5,1013.0 L303.4,1013.0 L304.3,1013.0 L305.2,1013.0 L306.1,1013.0 L307.0,1013.0 L307.9,1013.0 L308.8,1013.0 L309.8,1013.0 L310.7,1013.0 L311.6,1013.0 L312.5,1013.0" fill="none" stroke="#66c2a5" stroke-width="1.45" stroke-dasharray="5 2.2"/>
<path d="M43.7,873.7 L49.5,874.0 L55.3,874.2 L61.1,874.5 L67.0,874.7 L72.8,875.0 L78.6,875.3 L84.4,875.6 L90.3,875.8 L96.1,875.8 L101.9,875.8 L107.7,875.7 L113.5,875.5 L119.4,875.2 L125.2,874.9 L131.0,874.5 L136.8,873.5 L142.7,871.8 L148.5,869.6 L154.3,867.0 L160.1,864.3 L166.0,861.1 L171.8,856.9 L177.6,851.8 L183.4,846.4 L189.2,841.0 L195.1,835.7 L200.9,829.7 L206.7,824.3 L212.5,821.3 L218.4,819.3 L224.2,818.1 L230.0,818.7 L235.8,822.5 L241.7,827.7 L247.5,834.8 L253.3,842.8 L259.1,848.5 L260.0,849.3 L260.9,850.1 L261.8,850.8 L262.7,851.4 L263.6,852.0 L264.5,852.5 L265.5,853.0 L266.4,853.5 L267.3,853.9 L268.2,854.4 L269.1,854.8 L270.0,855.2 L270.9,855.7 L271.8,856.1 L272.7,856.6 L273.6,857.1 L274.5,857.6 L275.4,858.2 L276.3,858.8 L277.2,859.4 L278.1,860.1 L279.0,860.8 L279.9,861.8 L280.8,862.8 L281.7,864.0 L282.6,865.2 L283.5,866.6 L284.4,867.9 L285.3,869.6 L286.2,871.7 L287.2,874.1 L288.1,876.5 L289.0,878.6 L289.9,880.3 L290.8,881.2 L291.7,881.3 L292.6,881.1 L293.5,880.7 L294.4,880.2 L295.3,879.5 L296.2,878.7 L297.1,877.9 L298.0,876.9 L298.9,875.0 L299.8,872.2 L300.7,868.9 L301.6,865.3 L302.5,862.0 L303.4,859.1 L304.3,856.2 L305.2,853.1 L306.1,850.1 L307.0,847.5 L307.9,845.8 L308.8,845.3 L309.8,845.9 L310.7,847.5 L311.6,849.9 L312.5,853.1" fill="none" stroke="#fc8d62" stroke-width="1.5"/>
<path d="M43.7,865.7 L49.5,866.3 L55.3,866.8 L61.1,867.3 L67.0,867.8 L72.8,868.3 L78.6,868.8 L84.4,869.3 L90.3,869.6 L96.1,869.7 L101.9,869.6 L107.7,869.4 L113.5,869.1 L119.4,868.7 L125.2,868.2 L131.0,867.5 L136.8,866.2 L142.7,864.1 L148.5,861.5 L154.3,858.5 L160.1,855.2 L166.0,851.4 L171.8,846.3 L177.6,840.4 L183.4,833.9 L189.2,827.3 L195.1,820.8 L200.9,813.3 L206.7,806.1 L212.5,800.8 L218.4,796.2 L224.2,793.3 L230.0,793.7 L235.8,797.1 L241.7,801.6 L247.5,807.1 L253.3,811.1 L259.1,811.7 L260.0,810.7 L260.9,808.2 L261.8,804.8 L262.7,801.2 L263.6,796.4 L264.5,790.3 L265.5,783.6 L266.4,776.5 L267.3,768.5 L268.2,759.7 L269.1,753.0 L270.0,753.0 L270.9,753.0 L271.8,753.0 L272.7,753.0 L273.6,753.0 L274.5,753.0 L275.4,753.0 L276.3,753.0 L277.2,753.0 L278.1,753.0 L279.0,753.0 L279.9,753.0 L280.8,753.0 L281.7,753.0 L282.6,753.0 L283.5,753.0 L284.4,753.0 L285.3,753.0 L286.2,753.0 L287.2,753.0 L288.1,753.0 L289.0,753.0 L289.9,753.0 L290.8,753.0 L291.7,753.0 L292.6,753.0 L293.5,753.0 L294.4,753.0 L295.3,753.0 L296.2,753.0 L297.1,753.0 L298.0,753.0 L298.9,753.0 L299.8,753.0 L300.7,753.0 L301.6,753.0 L302.5,753.0 L303.4,753.0 L304.3,753.0 L305.2,753.0 L306.1,753.0 L307.0,753.0 L307.9,753.0 L308.8,753.0 L309.8,753.0 L310.7,753.0 L311.6,753.0 L312.5,753.0" fill="none" stroke="#fc8d62" stroke-width="1.45" stroke-dasharray="5 2.2"/>
<path d="M43.7,885.2 L49.5,884.8 L55.3,884.4 L61.1,884.1 L67.0,883.8 L72.8,883.6 L78.6,883.4 L84.4,883.1 L90.3,882.9 L96.1,882.7 L101.9,882.4 L107.7,882.1 L113.5,881.8 L119.4,881.4 L125.2,880.9 L131.0,880.2 L136.8,879.2 L142.7,877.9 L148.5,876.2 L154.3,874.3 L160.1,872.3 L166.0,869.8 L171.8,866.7 L177.6,863.1 L183.4,859.2 L189.2,855.4 L195.1,851.8 L200.9,847.9 L206.7,844.3 L212.5,842.4 L218.4,841.2 L224.2,840.5 L230.0,841.8 L235.8,848.3 L241.7,856.8 L247.5,865.3 L253.3,875.4 L259.1,887.5 L260.0,890.6 L260.9,894.6 L261.8,899.0 L262.7,903.4 L263.6,908.4 L264.5,913.6 L265.5,918.5 L266.4,922.8 L267.3,926.7 L268.2,930.4 L269.1,933.9 L270.0,937.5 L270.9,941.2 L271.8,945.2 L272.7,949.5 L273.6,953.6 L274.5,957.7 L275.4,962.1 L276.3,966.9 L277.2,972.4 L278.1,978.9 L279.0,986.6 L279.9,998.0 L280.8,1012.8 L281.7,1013.0 L282.6,1013.0 L283.5,1013.0 L284.4,1013.0 L285.3,1013.0 L286.2,1013.0 L287.2,1013.0 L288.1,1013.0 L289.0,1013.0 L289.9,1013.0 L290.8,1013.0 L291.7,1013.0 L292.6,1013.0 L293.5,1013.0 L294.4,1013.0 L295.3,1013.0 L296.2,1013.0 L297.1,1013.0 L298.0,1013.0 L298.9,1013.0 L299.8,1013.0 L300.7,1013.0 L301.6,1013.0 L302.5,1013.0 L303.4,1013.0 L304.3,1013.0 L305.2,1013.0 L306.1,1013.0 L307.0,1013.0 L307.9,1013.0 L308.8,1013.0 L309.8,1013.0 L310.7,1013.0 L311.6,1013.0 L312.5,1013.0" fill="none" stroke="#fc8d62" stroke-width="1.45" stroke-dasharray="5 2.2"/>
<path d="M43.7,882.4 L49.5,882.4 L55.3,882.4 L61.1,882.4 L67.0,882.4 L72.8,882.4 L78.6,882.4 L84.4,882.4 L90.3,882.4 L96.1,882.3 L101.9,882.3 L107.7,882.2 L113.5,882.1 L119.4,882.0 L125.2,881.8 L131.0,881.6 L136.8,881.4 L142.7,881.2 L148.5,880.9 L154.3,880.6 L160.1,880.4 L166.0,880.3 L171.8,880.2 L177.6,880.1 L183.4,880.0 L189.2,879.9 L195.1,879.7 L200.9,879.3 L206.7,878.8 L212.5,878.2 L218.4,877.6 L224.2,876.8 L230.0,875.9 L235.8,874.7 L241.7,873.0 L247.5,870.4 L253.3,865.2 L259.1,850.5 L260.0,846.9 L260.9,842.4 L261.8,837.4 L262.7,832.2 L263.6,826.4 L264.5,820.3 L265.5,814.6 L266.4,809.8 L267.3,805.5 L268.2,801.4 L269.1,797.1 L270.0,792.3 L270.9,787.1 L271.8,781.8 L272.7,776.0 L273.6,769.3 L274.5,761.5 L275.4,753.0 L276.3,753.0 L277.2,753.0 L278.1,753.0 L279.0,753.0 L279.9,753.0 L280.8,753.0 L281.7,753.0 L282.6,753.0 L283.5,753.0 L284.4,753.0 L285.3,753.0 L286.2,753.0 L287.2,753.0 L288.1,753.0 L289.0,753.0 L289.9,753.0 L290.8,753.0 L291.7,753.0 L292.6,753.0 L293.5,753.0 L294.4,753.0 L295.3,753.0 L296.2,753.0 L297.1,753.0 L298.0,753.0 L298.9,753.0 L299.8,753.0 L300.7,753.0 L301.6,753.0 L302.5,753.0 L303.4,753.0 L304.3,753.0 L305.2,753.0 L306.1,753.0 L307.0,753.0 L307.9,753.0 L308.8,753.0 L309.8,753.0 L310.7,753.0 L311.6,753.0 L312.5,753.0" fill="none" stroke="#8da0cb" stroke-width="1.5"/>
<path d="M43.7,872.1 L49.5,872.4 L55.3,872.7 L61.1,873.0 L67.0,873.4 L72.8,873.9 L78.6,874.5 L84.4,875.0 L90.3,875.4 L96.1,875.5 L101.9,875.5 L107.7,875.5 L113.5,875.5 L119.4,875.5 L125.2,875.6 L131.0,875.5 L136.8,875.1 L142.7,874.5 L148.5,873.7 L154.3,872.9 L160.1,872.3 L166.0,871.9 L171.8,871.7 L177.6,871.4 L183.4,871.2 L189.2,870.9 L195.1,870.4 L200.9,869.6 L206.7,868.4 L212.5,867.1 L218.4,865.4 L224.2,863.2 L230.0,860.0 L235.8,854.8 L241.7,848.6 L247.5,842.1 L253.3,832.4 L259.1,811.6 L260.0,807.9 L260.9,803.8 L261.8,799.5 L262.7,794.9 L263.6,790.3 L264.5,785.2 L265.5,778.9 L266.4,770.5 L267.3,759.5 L268.2,753.0 L269.1,753.0 L270.0,753.0 L270.9,753.0 L271.8,753.0 L272.7,753.0 L273.6,753.0 L274.5,753.0 L275.4,753.0 L276.3,753.0 L277.2,753.0 L278.1,753.0 L279.0,753.0 L279.9,753.0 L280.8,753.0 L281.7,753.0 L282.6,753.0 L283.5,753.0 L284.4,753.0 L285.3,753.0 L286.2,753.0 L287.2,753.0 L288.1,753.0 L289.0,753.0 L289.9,753.0 L290.8,753.0 L291.7,753.0 L292.6,753.0 L293.5,753.0 L294.4,753.0 L295.3,753.0 L296.2,753.0 L297.1,753.0 L298.0,753.0 L298.9,753.0 L299.8,753.0 L300.7,753.0 L301.6,753.0 L302.5,753.0 L303.4,753.0 L304.3,753.0 L305.2,753.0 L306.1,753.0 L307.0,753.0 L307.9,753.0 L308.8,753.0 L309.8,753.0 L310.7,753.0 L311.6,753.0 L312.5,753.0" fill="none" stroke="#8da0cb" stroke-width="1.45" stroke-dasharray="5 2.2"/>
<path d="M43.7,892.8 L49.5,892.6 L55.3,892.3 L61.1,892.0 L67.0,891.7 L72.8,891.2 L78.6,890.7 L84.4,890.1 L90.3,889.6 L96.1,889.2 L101.9,888.7 L107.7,888.2 L113.5,887.8 L119.4,887.4 L125.2,887.2 L131.0,887.2 L136.8,887.2 L142.7,887.2 L148.5,887.2 L154.3,887.2 L160.1,887.2 L166.0,887.3 L171.8,887.5 L177.6,887.8 L183.4,888.0 L189.2,888.2 L195.1,888.3 L200.9,888.3 L206.7,888.3 L212.5,888.5 L218.4,889.6 L224.2,890.7 L230.0,890.9 L235.8,890.9 L241.7,891.0 L247.5,890.6 L253.3,888.3 L259.1,871.4 L260.0,869.9 L260.9,868.8 L261.8,867.7 L262.7,866.6 L263.6,865.6 L264.5,864.6 L265.5,863.5 L266.4,862.3 L267.3,860.9 L268.2,859.4 L269.1,857.6 L270.0,855.6 L270.9,853.0 L271.8,849.8 L272.7,846.0 L273.6,841.8 L274.5,837.5 L275.4,833.1 L276.3,828.6 L277.2,823.8 L278.1,818.7 L279.0,813.2 L279.9,807.1 L280.8,800.6 L281.7,794.6 L282.6,789.2 L283.5,781.5 L284.4,763.3 L285.3,753.0 L286.2,753.0 L287.2,753.0 L288.1,753.0 L289.0,753.0 L289.9,753.0 L290.8,753.0 L291.7,753.0 L292.6,753.0 L293.5,753.0 L294.4,753.0 L295.3,753.0 L296.2,753.0 L297.1,753.0 L298.0,753.0 L298.9,753.0 L299.8,753.0 L300.7,753.0 L301.6,753.0 L302.5,753.0 L303.4,753.0 L304.3,753.0 L305.2,753.0 L306.1,753.0 L307.0,753.0 L307.9,753.0 L308.8,753.0 L309.8,753.0 L310.7,753.0 L311.6,753.0 L312.5,753.0" fill="none" stroke="#8da0cb" stroke-width="1.45" stroke-dasharray="5 2.2"/>
</g>
<path d="M43.6,785.5 L43.6,980.5 L326.0,980.5" fill="none" stroke="#000" stroke-width="0.95" stroke-linecap="square"/>
<line x1="40.300000000000004" y1="980.5" x2="43.6" y2="980.5" stroke="#000" stroke-width="0.85"/>
<line x1="40.300000000000004" y1="948.0" x2="43.6" y2="948.0" stroke="#000" stroke-width="0.85"/>
<line x1="40.300000000000004" y1="915.5" x2="43.6" y2="915.5" stroke="#000" stroke-width="0.85"/>
<line x1="40.300000000000004" y1="883.0" x2="43.6" y2="883.0" stroke="#000" stroke-width="0.85"/>
<line x1="40.300000000000004" y1="850.5" x2="43.6" y2="850.5" stroke="#000" stroke-width="0.85"/>
<line x1="40.300000000000004" y1="818.0" x2="43.6" y2="818.0" stroke="#000" stroke-width="0.85"/>
<line x1="40.300000000000004" y1="785.5" x2="43.6" y2="785.5" stroke="#000" stroke-width="0.85"/>
<line x1="43.6" y1="980.5" x2="43.6" y2="982.4" stroke="#000" stroke-width="0.65"/>
<line x1="48.8" y1="980.5" x2="48.8" y2="982.4" stroke="#000" stroke-width="0.65"/>
<line x1="53.1" y1="980.5" x2="53.1" y2="982.4" stroke="#000" stroke-width="0.65"/>
<line x1="56.9" y1="980.5" x2="56.9" y2="982.4" stroke="#000" stroke-width="0.65"/>
<line x1="60.3" y1="980.5" x2="60.3" y2="982.4" stroke="#000" stroke-width="0.65"/>
<line x1="63.3" y1="980.5" x2="63.3" y2="983.8" stroke="#000" stroke-width="0.85"/>
<line x1="82.9" y1="980.5" x2="82.9" y2="982.4" stroke="#000" stroke-width="0.65"/>
<line x1="94.4" y1="980.5" x2="94.4" y2="982.4" stroke="#000" stroke-width="0.65"/>
<line x1="102.6" y1="980.5" x2="102.6" y2="982.4" stroke="#000" stroke-width="0.65"/>
<line x1="108.9" y1="980.5" x2="108.9" y2="982.4" stroke="#000" stroke-width="0.65"/>
<line x1="114.1" y1="980.5" x2="114.1" y2="982.4" stroke="#000" stroke-width="0.65"/>
<line x1="118.4" y1="980.5" x2="118.4" y2="982.4" stroke="#000" stroke-width="0.65"/>
<line x1="122.2" y1="980.5" x2="122.2" y2="982.4" stroke="#000" stroke-width="0.65"/>
<line x1="125.6" y1="980.5" x2="125.6" y2="982.4" stroke="#000" stroke-width="0.65"/>
<line x1="128.5" y1="980.5" x2="128.5" y2="983.8" stroke="#000" stroke-width="0.85"/>
<line x1="148.2" y1="980.5" x2="148.2" y2="982.4" stroke="#000" stroke-width="0.65"/>
<line x1="159.7" y1="980.5" x2="159.7" y2="982.4" stroke="#000" stroke-width="0.65"/>
<line x1="167.9" y1="980.5" x2="167.9" y2="982.4" stroke="#000" stroke-width="0.65"/>
<line x1="174.2" y1="980.5" x2="174.2" y2="982.4" stroke="#000" stroke-width="0.65"/>
<line x1="179.3" y1="980.5" x2="179.3" y2="982.4" stroke="#000" stroke-width="0.65"/>
<line x1="183.7" y1="980.5" x2="183.7" y2="982.4" stroke="#000" stroke-width="0.65"/>
<line x1="187.5" y1="980.5" x2="187.5" y2="982.4" stroke="#000" stroke-width="0.65"/>
<line x1="190.8" y1="980.5" x2="190.8" y2="982.4" stroke="#000" stroke-width="0.65"/>
<line x1="193.8" y1="980.5" x2="193.8" y2="983.8" stroke="#000" stroke-width="0.85"/>
<line x1="213.5" y1="980.5" x2="213.5" y2="982.4" stroke="#000" stroke-width="0.65"/>
<line x1="225.0" y1="980.5" x2="225.0" y2="982.4" stroke="#000" stroke-width="0.65"/>
<line x1="233.1" y1="980.5" x2="233.1" y2="982.4" stroke="#000" stroke-width="0.65"/>
<line x1="239.5" y1="980.5" x2="239.5" y2="982.4" stroke="#000" stroke-width="0.65"/>
<line x1="244.6" y1="980.5" x2="244.6" y2="982.4" stroke="#000" stroke-width="0.65"/>
<line x1="249.0" y1="980.5" x2="249.0" y2="982.4" stroke="#000" stroke-width="0.65"/>
<line x1="252.8" y1="980.5" x2="252.8" y2="982.4" stroke="#000" stroke-width="0.65"/>
<line x1="256.1" y1="980.5" x2="256.1" y2="982.4" stroke="#000" stroke-width="0.65"/>
<line x1="259.1" y1="980.5" x2="259.1" y2="983.8" stroke="#000" stroke-width="0.85"/>
<line x1="278.8" y1="980.5" x2="278.8" y2="982.4" stroke="#000" stroke-width="0.65"/>
<line x1="290.3" y1="980.5" x2="290.3" y2="982.4" stroke="#000" stroke-width="0.65"/>
<line x1="298.4" y1="980.5" x2="298.4" y2="982.4" stroke="#000" stroke-width="0.65"/>
<line x1="304.8" y1="980.5" x2="304.8" y2="982.4" stroke="#000" stroke-width="0.65"/>
<line x1="309.9" y1="980.5" x2="309.9" y2="982.4" stroke="#000" stroke-width="0.65"/>
<line x1="314.3" y1="980.5" x2="314.3" y2="982.4" stroke="#000" stroke-width="0.65"/>
<line x1="318.1" y1="980.5" x2="318.1" y2="982.4" stroke="#000" stroke-width="0.65"/>
<line x1="321.4" y1="980.5" x2="321.4" y2="982.4" stroke="#000" stroke-width="0.65"/>
<line x1="324.4" y1="980.5" x2="324.4" y2="983.8" stroke="#000" stroke-width="0.85"/>
<rect x="48.5" y="925.5" width="271.7" height="49.7" rx="2.2" fill="#fff" fill-opacity="0.8" stroke="#ccc" stroke-opacity="0.8" stroke-width="0.9"/>
<rect x="53.3" y="930.8" width="20.9" height="7.4" fill="#fff" stroke="none"/>
<rect x="55.4" y="931.3" width="16.3" height="6.4" fill="#66c2a5" fill-opacity="0.5" stroke="none"/>
<rect x="53.3" y="930.8" width="20.9" height="7.4" fill="none" stroke="#66c2a5" stroke-width="1.25" stroke-dasharray="2.9 1.8"/>
<line x1="58.2" y1="937.9" x2="64.1" y2="931.8" stroke="#757575" stroke-width="1.1"/>
<rect x="53.3" y="946.3" width="20.9" height="7.4" fill="#fff" stroke="none"/>
<rect x="55.4" y="946.8" width="16.3" height="6.4" fill="#fc8d62" fill-opacity="0.5" stroke="none"/>
<rect x="53.3" y="946.3" width="20.9" height="7.4" fill="none" stroke="#fc8d62" stroke-width="1.25" stroke-dasharray="2.9 1.8"/>
<line x1="68.5" y1="947.1" x2="72.5" y2="951.3" stroke="#757575" stroke-width="1.1"/>
<rect x="53.3" y="961.8" width="20.9" height="7.4" fill="#fff" stroke="none"/>
<rect x="55.4" y="962.3" width="16.3" height="6.4" fill="#8da0cb" fill-opacity="0.5" stroke="none"/>
<rect x="53.3" y="961.8" width="20.9" height="7.4" fill="none" stroke="#8da0cb" stroke-width="1.25" stroke-dasharray="2.9 1.8"/>
<line x1="55.3" y1="964.3" x2="72.19999999999999" y2="964.3" stroke="#757575" stroke-width="1.1"/>
<line x1="415.4" y1="785.5" x2="415.4" y2="980.5" stroke="#efefef" stroke-width="0.8"/>
<line x1="480.6" y1="785.5" x2="480.6" y2="980.5" stroke="#efefef" stroke-width="0.8"/>
<line x1="545.9" y1="785.5" x2="545.9" y2="980.5" stroke="#efefef" stroke-width="0.8"/>
<line x1="611.2" y1="785.5" x2="611.2" y2="980.5" stroke="#efefef" stroke-width="0.8"/>
<line x1="676.5" y1="785.5" x2="676.5" y2="980.5" stroke="#efefef" stroke-width="0.8"/>
<line x1="395.7" y1="980.5" x2="677.9" y2="980.5" stroke="#efefef" stroke-width="0.8"/>
<line x1="395.7" y1="948.0" x2="677.9" y2="948.0" stroke="#efefef" stroke-width="0.8"/>
<line x1="395.7" y1="915.5" x2="677.9" y2="915.5" stroke="#efefef" stroke-width="0.8"/>
<line x1="395.7" y1="883.0" x2="677.9" y2="883.0" stroke="#efefef" stroke-width="0.8"/>
<line x1="395.7" y1="850.5" x2="677.9" y2="850.5" stroke="#efefef" stroke-width="0.8"/>
<line x1="395.7" y1="818.0" x2="677.9" y2="818.0" stroke="#efefef" stroke-width="0.8"/>
<line x1="395.7" y1="785.5" x2="677.9" y2="785.5" stroke="#efefef" stroke-width="0.8"/>
<g clip-path="url(#cp31)">
<path d="M395.8,873.7 L401.6,874.2 L407.4,874.6 L413.2,875.0 L419.1,875.5 L424.9,875.9 L430.7,876.3 L436.5,876.7 L442.4,877.1 L448.2,877.4 L454.0,877.8 L459.8,878.2 L465.6,878.6 L471.5,878.9 L477.3,879.1 L483.1,879.1 L488.9,879.0 L494.8,878.8 L500.6,878.7 L506.4,878.5 L512.2,878.5 L518.1,878.5 L523.9,878.6 L529.7,878.7 L535.5,878.8 L541.3,879.0 L547.2,879.1 L553.0,879.3 L558.8,879.4 L564.6,879.6 L570.5,879.7 L576.3,879.7 L582.1,879.7 L587.9,879.6 L593.8,879.4 L599.6,879.2 L605.4,878.8 L611.2,878.5 L612.1,878.4 L613.0,878.3 L613.9,878.2 L614.8,878.0 L615.7,877.9 L616.6,877.7 L617.6,877.6 L618.5,877.4 L619.4,877.2 L620.3,877.0 L621.2,876.7 L622.1,876.5 L623.0,876.2 L623.9,876.0 L624.8,875.7 L625.7,875.4 L626.6,875.1 L627.5,874.8 L628.4,874.4 L629.3,874.0 L630.2,873.6 L631.1,873.1 L632.0,872.5 L632.9,871.8 L633.8,871.1 L634.7,870.3 L635.6,869.4 L636.5,868.4 L637.4,867.0 L638.3,865.3 L639.3,863.4 L640.2,861.2 L641.1,858.9 L642.0,856.3 L642.9,853.6 L643.8,850.8 L644.7,847.6 L645.6,843.5 L646.5,839.0 L647.4,834.0 L648.3,829.0 L649.2,824.0 L650.1,819.4 L651.0,815.3 L651.9,811.5 L652.8,807.8 L653.7,804.2 L654.6,800.5 L655.5,796.5 L656.4,792.1 L657.3,787.2 L658.2,782.1 L659.1,775.9 L660.0,767.6 L660.9,753.8 L661.9,753.0 L662.8,753.0 L663.7,753.0 L664.6,753.0 L664.6,1013.0 L663.7,1013.0 L662.8,1013.0 L661.9,1013.0 L660.9,1012.9 L660.0,998.2 L659.1,988.7 L658.2,981.6 L657.3,975.8 L656.4,970.5 L655.5,965.9 L654.6,961.8 L653.7,958.0 L652.8,954.5 L651.9,950.9 L651.0,947.3 L650.1,943.4 L649.2,939.2 L648.3,934.8 L647.4,930.4 L646.5,926.1 L645.6,922.2 L644.7,918.8 L643.8,916.1 L642.9,913.8 L642.0,911.8 L641.1,909.9 L640.2,908.1 L639.3,906.5 L638.3,905.1 L637.4,903.7 L636.5,902.4 L635.6,901.1 L634.7,899.9 L633.8,898.6 L632.9,897.4 L632.0,896.3 L631.1,895.2 L630.2,894.3 L629.3,893.5 L628.4,892.8 L627.5,892.3 L626.6,891.9 L625.7,891.5 L624.8,891.1 L623.9,890.8 L623.0,890.5 L622.1,890.2 L621.2,889.9 L620.3,889.6 L619.4,889.4 L618.5,889.1 L617.6,888.9 L616.6,888.7 L615.7,888.6 L614.8,888.4 L613.9,888.2 L613.0,888.1 L612.1,888.0 L611.2,887.9 L605.4,887.2 L599.6,886.6 L593.8,886.2 L587.9,885.8 L582.1,885.6 L576.3,885.6 L570.5,885.7 L564.6,885.8 L558.8,886.0 L553.0,886.2 L547.2,886.4 L541.3,886.5 L535.5,886.6 L529.7,886.7 L523.9,886.8 L518.1,886.9 L512.2,886.9 L506.4,886.8 L500.6,886.7 L494.8,886.5 L488.9,886.4 L483.1,886.3 L477.3,886.3 L471.5,886.5 L465.6,886.7 L459.8,887.1 L454.0,887.5 L448.2,887.9 L442.4,888.2 L436.5,888.6 L430.7,889.0 L424.9,889.4 L419.1,889.8 L413.2,890.3 L407.4,890.9 L401.6,891.6 L395.8,892.3 Z" fill="#66c2a5" fill-opacity="0.5" stroke="#66c2a5" stroke-opacity="0.85" stroke-width="0.9"/>
<path d="M395.8,873.7 L401.6,874.2 L407.4,874.6 L413.2,875.0 L419.1,875.5 L424.9,875.9 L430.7,876.3 L436.5,876.7 L442.4,877.1 L448.2,877.4 L454.0,877.8 L459.8,878.2 L465.6,878.6 L471.5,878.9 L477.3,879.1 L483.1,879.1 L488.9,879.0 L494.8,878.8 L500.6,878.7 L506.4,878.5 L512.2,878.5 L518.1,878.5 L523.9,878.6 L529.7,878.7 L535.5,878.8 L541.3,879.0 L547.2,879.1 L553.0,879.3 L558.8,879.4 L564.6,879.6 L570.5,879.7 L576.3,879.7 L582.1,879.7 L587.9,879.6 L593.8,879.4 L599.6,879.2 L605.4,878.8 L611.2,878.5 L612.1,878.4 L613.0,878.3 L613.9,878.2 L614.8,878.0 L615.7,877.9 L616.6,877.7 L617.6,877.6 L618.5,877.4 L619.4,877.2 L620.3,877.0 L621.2,876.7 L622.1,876.5 L623.0,876.2 L623.9,876.0 L624.8,875.7 L625.7,875.4 L626.6,875.1 L627.5,874.8 L628.4,874.4 L629.3,874.0 L630.2,873.6 L631.1,873.1 L632.0,872.5 L632.9,871.8 L633.8,871.1 L634.7,870.3 L635.6,869.4 L636.5,868.4 L637.4,867.0 L638.3,865.3 L639.3,863.4 L640.2,861.2 L641.1,858.9 L642.0,856.3 L642.9,853.6 L643.8,850.8 L644.7,847.6 L645.6,843.5 L646.5,839.0 L647.4,834.0 L648.3,829.0 L649.2,824.0 L650.1,819.4 L651.0,815.3 L651.9,811.5 L652.8,807.8 L653.7,804.2 L654.6,800.5 L655.5,796.5 L656.4,792.1 L657.3,787.2 L658.2,782.1 L659.1,775.9 L660.0,767.6 L660.9,753.8 L661.9,753.0 L662.8,753.0 L663.7,753.0 L664.6,753.0 L664.6,1013.0 L663.7,1013.0 L662.8,1013.0 L661.9,1013.0 L660.9,1012.9 L660.0,998.2 L659.1,988.7 L658.2,981.6 L657.3,975.8 L656.4,970.5 L655.5,965.9 L654.6,961.8 L653.7,958.0 L652.8,954.5 L651.9,950.9 L651.0,947.3 L650.1,943.4 L649.2,939.2 L648.3,934.8 L647.4,930.4 L646.5,926.1 L645.6,922.2 L644.7,918.8 L643.8,916.1 L642.9,913.8 L642.0,911.8 L641.1,909.9 L640.2,908.1 L639.3,906.5 L638.3,905.1 L637.4,903.7 L636.5,902.4 L635.6,901.1 L634.7,899.9 L633.8,898.6 L632.9,897.4 L632.0,896.3 L631.1,895.2 L630.2,894.3 L629.3,893.5 L628.4,892.8 L627.5,892.3 L626.6,891.9 L625.7,891.5 L624.8,891.1 L623.9,890.8 L623.0,890.5 L622.1,890.2 L621.2,889.9 L620.3,889.6 L619.4,889.4 L618.5,889.1 L617.6,888.9 L616.6,888.7 L615.7,888.6 L614.8,888.4 L613.9,888.2 L613.0,888.1 L612.1,888.0 L611.2,887.9 L605.4,887.2 L599.6,886.6 L593.8,886.2 L587.9,885.8 L582.1,885.6 L576.3,885.6 L570.5,885.7 L564.6,885.8 L558.8,886.0 L553.0,886.2 L547.2,886.4 L541.3,886.5 L535.5,886.6 L529.7,886.7 L523.9,886.8 L518.1,886.9 L512.2,886.9 L506.4,886.8 L500.6,886.7 L494.8,886.5 L488.9,886.4 L483.1,886.3 L477.3,886.3 L471.5,886.5 L465.6,886.7 L459.8,887.1 L454.0,887.5 L448.2,887.9 L442.4,888.2 L436.5,888.6 L430.7,889.0 L424.9,889.4 L419.1,889.8 L413.2,890.3 L407.4,890.9 L401.6,891.6 L395.8,892.3 Z" fill="url(#h0)" stroke="none"/>
<path d="M395.8,874.5 L401.6,875.0 L407.4,875.4 L413.2,875.7 L419.1,876.1 L424.9,876.4 L430.7,876.7 L436.5,877.0 L442.4,877.2 L448.2,877.4 L454.0,877.6 L459.8,877.7 L465.6,877.9 L471.5,878.0 L477.3,878.0 L483.1,878.0 L488.9,877.7 L494.8,877.2 L500.6,876.6 L506.4,876.1 L512.2,875.9 L518.1,875.9 L523.9,875.9 L529.7,875.9 L535.5,875.9 L541.3,875.9 L547.2,875.8 L553.0,875.8 L558.8,875.8 L564.6,875.7 L570.5,875.6 L576.3,875.5 L582.1,875.4 L587.9,875.0 L593.8,874.6 L599.6,874.0 L605.4,873.3 L611.2,872.6 L612.1,872.5 L613.0,872.4 L613.9,872.3 L614.8,872.1 L615.7,872.0 L616.6,871.9 L617.6,871.8 L618.5,871.6 L619.4,871.5 L620.3,871.3 L621.2,871.1 L622.1,870.9 L623.0,870.7 L623.9,870.5 L624.8,870.3 L625.7,870.0 L626.6,869.7 L627.5,869.4 L628.4,868.9 L629.3,868.3 L630.2,867.5 L631.1,866.5 L632.0,865.4 L632.9,864.1 L633.8,862.7 L634.7,861.3 L635.6,859.7 L636.5,858.0 L637.4,856.0 L638.3,853.6 L639.3,851.0 L640.2,848.0 L641.1,844.8 L642.0,841.4 L642.9,837.6 L643.8,833.7 L644.7,829.2 L645.6,824.1 L646.5,818.3 L647.4,811.7 L648.3,804.6 L649.2,796.8 L650.1,788.4 L651.0,779.1 L651.9,768.2 L652.8,755.7 L653.7,753.0 L654.6,753.0 L655.5,753.0 L656.4,753.0 L657.3,753.0 L658.2,753.0 L659.1,753.0 L660.0,753.0 L660.9,753.0 L661.9,753.0 L662.8,753.0 L663.7,753.0 L664.6,753.0 L664.6,980.5 L663.7,963.6 L662.8,954.3 L661.9,947.5 L660.9,942.2 L660.0,937.5 L659.1,933.5 L658.2,930.1 L657.3,926.8 L656.4,923.3 L655.5,919.7 L654.6,916.0 L653.7,912.4 L652.8,909.0 L651.9,905.8 L651.0,902.9 L650.1,900.4 L649.2,898.0 L648.3,895.6 L647.4,893.4 L646.5,891.4 L645.6,889.7 L644.7,888.5 L643.8,887.8 L642.9,887.4 L642.0,887.1 L641.1,886.8 L640.2,886.6 L639.3,886.4 L638.3,886.2 L637.4,886.0 L636.5,885.8 L635.6,885.6 L634.7,885.3 L633.8,885.1 L632.9,884.8 L632.0,884.5 L631.1,884.2 L630.2,884.0 L629.3,883.8 L628.4,883.7 L627.5,883.6 L626.6,883.6 L625.7,883.6 L624.8,883.6 L623.9,883.6 L623.0,883.6 L622.1,883.6 L621.2,883.6 L620.3,883.6 L619.4,883.6 L618.5,883.6 L617.6,883.6 L616.6,883.6 L615.7,883.6 L614.8,883.6 L613.9,883.6 L613.0,883.6 L612.1,883.6 L611.2,883.6 L605.4,883.6 L599.6,883.6 L593.8,883.6 L587.9,883.6 L582.1,883.6 L576.3,883.7 L570.5,883.7 L564.6,883.8 L558.8,884.0 L553.0,884.1 L547.2,884.3 L541.3,884.4 L535.5,884.6 L529.7,884.7 L523.9,884.8 L518.1,884.9 L512.2,884.9 L506.4,884.9 L500.6,884.9 L494.8,884.9 L488.9,884.9 L483.1,884.9 L477.3,885.0 L471.5,885.1 L465.6,885.2 L459.8,885.5 L454.0,885.7 L448.2,885.9 L442.4,886.2 L436.5,886.5 L430.7,886.8 L424.9,887.1 L419.1,887.4 L413.2,887.6 L407.4,887.8 L401.6,888.0 L395.8,888.2 Z" fill="#fc8d62" fill-opacity="0.5" stroke="#fc8d62" stroke-opacity="0.85" stroke-width="0.9"/>
<path d="M395.8,874.5 L401.6,875.0 L407.4,875.4 L413.2,875.7 L419.1,876.1 L424.9,876.4 L430.7,876.7 L436.5,877.0 L442.4,877.2 L448.2,877.4 L454.0,877.6 L459.8,877.7 L465.6,877.9 L471.5,878.0 L477.3,878.0 L483.1,878.0 L488.9,877.7 L494.8,877.2 L500.6,876.6 L506.4,876.1 L512.2,875.9 L518.1,875.9 L523.9,875.9 L529.7,875.9 L535.5,875.9 L541.3,875.9 L547.2,875.8 L553.0,875.8 L558.8,875.8 L564.6,875.7 L570.5,875.6 L576.3,875.5 L582.1,875.4 L587.9,875.0 L593.8,874.6 L599.6,874.0 L605.4,873.3 L611.2,872.6 L612.1,872.5 L613.0,872.4 L613.9,872.3 L614.8,872.1 L615.7,872.0 L616.6,871.9 L617.6,871.8 L618.5,871.6 L619.4,871.5 L620.3,871.3 L621.2,871.1 L622.1,870.9 L623.0,870.7 L623.9,870.5 L624.8,870.3 L625.7,870.0 L626.6,869.7 L627.5,869.4 L628.4,868.9 L629.3,868.3 L630.2,867.5 L631.1,866.5 L632.0,865.4 L632.9,864.1 L633.8,862.7 L634.7,861.3 L635.6,859.7 L636.5,858.0 L637.4,856.0 L638.3,853.6 L639.3,851.0 L640.2,848.0 L641.1,844.8 L642.0,841.4 L642.9,837.6 L643.8,833.7 L644.7,829.2 L645.6,824.1 L646.5,818.3 L647.4,811.7 L648.3,804.6 L649.2,796.8 L650.1,788.4 L651.0,779.1 L651.9,768.2 L652.8,755.7 L653.7,753.0 L654.6,753.0 L655.5,753.0 L656.4,753.0 L657.3,753.0 L658.2,753.0 L659.1,753.0 L660.0,753.0 L660.9,753.0 L661.9,753.0 L662.8,753.0 L663.7,753.0 L664.6,753.0 L664.6,980.5 L663.7,963.6 L662.8,954.3 L661.9,947.5 L660.9,942.2 L660.0,937.5 L659.1,933.5 L658.2,930.1 L657.3,926.8 L656.4,923.3 L655.5,919.7 L654.6,916.0 L653.7,912.4 L652.8,909.0 L651.9,905.8 L651.0,902.9 L650.1,900.4 L649.2,898.0 L648.3,895.6 L647.4,893.4 L646.5,891.4 L645.6,889.7 L644.7,888.5 L643.8,887.8 L642.9,887.4 L642.0,887.1 L641.1,886.8 L640.2,886.6 L639.3,886.4 L638.3,886.2 L637.4,886.0 L636.5,885.8 L635.6,885.6 L634.7,885.3 L633.8,885.1 L632.9,884.8 L632.0,884.5 L631.1,884.2 L630.2,884.0 L629.3,883.8 L628.4,883.7 L627.5,883.6 L626.6,883.6 L625.7,883.6 L624.8,883.6 L623.9,883.6 L623.0,883.6 L622.1,883.6 L621.2,883.6 L620.3,883.6 L619.4,883.6 L618.5,883.6 L617.6,883.6 L616.6,883.6 L615.7,883.6 L614.8,883.6 L613.9,883.6 L613.0,883.6 L612.1,883.6 L611.2,883.6 L605.4,883.6 L599.6,883.6 L593.8,883.6 L587.9,883.6 L582.1,883.6 L576.3,883.7 L570.5,883.7 L564.6,883.8 L558.8,884.0 L553.0,884.1 L547.2,884.3 L541.3,884.4 L535.5,884.6 L529.7,884.7 L523.9,884.8 L518.1,884.9 L512.2,884.9 L506.4,884.9 L500.6,884.9 L494.8,884.9 L488.9,884.9 L483.1,884.9 L477.3,885.0 L471.5,885.1 L465.6,885.2 L459.8,885.5 L454.0,885.7 L448.2,885.9 L442.4,886.2 L436.5,886.5 L430.7,886.8 L424.9,887.1 L419.1,887.4 L413.2,887.6 L407.4,887.8 L401.6,888.0 L395.8,888.2 Z" fill="url(#h1)" stroke="none"/>
<path d="M395.8,875.2 L401.6,875.4 L407.4,875.5 L413.2,875.8 L419.1,876.0 L424.9,876.4 L430.7,876.9 L436.5,877.3 L442.4,877.6 L448.2,877.8 L454.0,877.9 L459.8,877.9 L465.6,878.0 L471.5,878.0 L477.3,878.1 L483.1,878.0 L488.9,877.7 L494.8,877.2 L500.6,876.6 L506.4,876.1 L512.2,875.9 L518.1,875.9 L523.9,876.0 L529.7,876.1 L535.5,876.2 L541.3,876.4 L547.2,876.5 L553.0,876.7 L558.8,876.8 L564.6,877.0 L570.5,877.1 L576.3,877.1 L582.1,877.1 L587.9,876.9 L593.8,876.4 L599.6,875.9 L605.4,875.2 L611.2,874.5 L612.1,874.4 L613.0,874.3 L613.9,874.2 L614.8,874.1 L615.7,874.0 L616.6,873.9 L617.6,873.8 L618.5,873.7 L619.4,873.6 L620.3,873.4 L621.2,873.2 L622.1,873.1 L623.0,872.9 L623.9,872.7 L624.8,872.5 L625.7,872.2 L626.6,871.9 L627.5,871.6 L628.4,871.2 L629.3,870.6 L630.2,869.8 L631.1,868.8 L632.0,867.6 L632.9,866.3 L633.8,864.9 L634.7,863.3 L635.6,861.7 L636.5,859.7 L637.4,857.2 L638.3,854.2 L639.3,850.7 L640.2,846.9 L641.1,842.8 L642.0,838.5 L642.9,834.1 L643.8,829.5 L644.7,824.9 L645.6,820.0 L646.5,814.7 L647.4,809.0 L648.3,802.8 L649.2,795.9 L650.1,788.2 L651.0,779.4 L651.9,768.7 L652.8,756.3 L653.7,753.0 L654.6,753.0 L655.5,753.0 L656.4,753.0 L657.3,753.0 L658.2,753.0 L659.1,753.0 L660.0,753.0 L660.9,753.0 L661.9,753.0 L662.8,753.0 L663.7,753.0 L664.6,753.0 L664.6,922.0 L663.7,855.1 L662.8,847.9 L661.9,845.8 L660.9,844.7 L660.0,843.9 L659.1,843.1 L658.2,842.5 L657.3,842.1 L656.4,842.2 L655.5,843.3 L654.6,845.1 L653.7,847.5 L652.8,850.1 L651.9,852.9 L651.0,855.5 L650.1,857.7 L649.2,860.0 L648.3,862.3 L647.4,864.7 L646.5,867.0 L645.6,869.2 L644.7,871.1 L643.8,872.8 L642.9,874.2 L642.0,875.6 L641.1,876.9 L640.2,878.2 L639.3,879.3 L638.3,880.3 L637.4,881.2 L636.5,881.9 L635.6,882.4 L634.7,882.8 L633.8,883.2 L632.9,883.5 L632.0,883.8 L631.1,884.1 L630.2,884.3 L629.3,884.5 L628.4,884.6 L627.5,884.6 L626.6,884.6 L625.7,884.6 L624.8,884.6 L623.9,884.6 L623.0,884.6 L622.1,884.5 L621.2,884.5 L620.3,884.5 L619.4,884.5 L618.5,884.4 L617.6,884.4 L616.6,884.4 L615.7,884.4 L614.8,884.3 L613.9,884.3 L613.0,884.3 L612.1,884.3 L611.2,884.3 L605.4,884.3 L599.6,884.3 L593.8,884.3 L587.9,884.3 L582.1,884.3 L576.3,884.3 L570.5,884.3 L564.6,884.3 L558.8,884.3 L553.0,884.3 L547.2,884.3 L541.3,884.3 L535.5,884.4 L529.7,884.6 L523.9,884.7 L518.1,884.9 L512.2,885.0 L506.4,885.0 L500.6,885.1 L494.8,885.1 L488.9,885.2 L483.1,885.2 L477.3,885.3 L471.5,885.6 L465.6,885.8 L459.8,886.2 L454.0,886.5 L448.2,886.9 L442.4,887.3 L436.5,887.7 L430.7,888.2 L424.9,888.7 L419.1,889.2 L413.2,889.7 L407.4,890.2 L401.6,890.8 L395.8,891.4 Z" fill="#8da0cb" fill-opacity="0.5" stroke="#8da0cb" stroke-opacity="0.85" stroke-width="0.9"/>
<path d="M395.8,875.2 L401.6,875.4 L407.4,875.5 L413.2,875.8 L419.1,876.0 L424.9,876.4 L430.7,876.9 L436.5,877.3 L442.4,877.6 L448.2,877.8 L454.0,877.9 L459.8,877.9 L465.6,878.0 L471.5,878.0 L477.3,878.1 L483.1,878.0 L488.9,877.7 L494.8,877.2 L500.6,876.6 L506.4,876.1 L512.2,875.9 L518.1,875.9 L523.9,876.0 L529.7,876.1 L535.5,876.2 L541.3,876.4 L547.2,876.5 L553.0,876.7 L558.8,876.8 L564.6,877.0 L570.5,877.1 L576.3,877.1 L582.1,877.1 L587.9,876.9 L593.8,876.4 L599.6,875.9 L605.4,875.2 L611.2,874.5 L612.1,874.4 L613.0,874.3 L613.9,874.2 L614.8,874.1 L615.7,874.0 L616.6,873.9 L617.6,873.8 L618.5,873.7 L619.4,873.6 L620.3,873.4 L621.2,873.2 L622.1,873.1 L623.0,872.9 L623.9,872.7 L624.8,872.5 L625.7,872.2 L626.6,871.9 L627.5,871.6 L628.4,871.2 L629.3,870.6 L630.2,869.8 L631.1,868.8 L632.0,867.6 L632.9,866.3 L633.8,864.9 L634.7,863.3 L635.6,861.7 L636.5,859.7 L637.4,857.2 L638.3,854.2 L639.3,850.7 L640.2,846.9 L641.1,842.8 L642.0,838.5 L642.9,834.1 L643.8,829.5 L644.7,824.9 L645.6,820.0 L646.5,814.7 L647.4,809.0 L648.3,802.8 L649.2,795.9 L650.1,788.2 L651.0,779.4 L651.9,768.7 L652.8,756.3 L653.7,753.0 L654.6,753.0 L655.5,753.0 L656.4,753.0 L657.3,753.0 L658.2,753.0 L659.1,753.0 L660.0,753.0 L660.9,753.0 L661.9,753.0 L662.8,753.0 L663.7,753.0 L664.6,753.0 L664.6,922.0 L663.7,855.1 L662.8,847.9 L661.9,845.8 L660.9,844.7 L660.0,843.9 L659.1,843.1 L658.2,842.5 L657.3,842.1 L656.4,842.2 L655.5,843.3 L654.6,845.1 L653.7,847.5 L652.8,850.1 L651.9,852.9 L651.0,855.5 L650.1,857.7 L649.2,860.0 L648.3,862.3 L647.4,864.7 L646.5,867.0 L645.6,869.2 L644.7,871.1 L643.8,872.8 L642.9,874.2 L642.0,875.6 L641.1,876.9 L640.2,878.2 L639.3,879.3 L638.3,880.3 L637.4,881.2 L636.5,881.9 L635.6,882.4 L634.7,882.8 L633.8,883.2 L632.9,883.5 L632.0,883.8 L631.1,884.1 L630.2,884.3 L629.3,884.5 L628.4,884.6 L627.5,884.6 L626.6,884.6 L625.7,884.6 L624.8,884.6 L623.9,884.6 L623.0,884.6 L622.1,884.5 L621.2,884.5 L620.3,884.5 L619.4,884.5 L618.5,884.4 L617.6,884.4 L616.6,884.4 L615.7,884.4 L614.8,884.3 L613.9,884.3 L613.0,884.3 L612.1,884.3 L611.2,884.3 L605.4,884.3 L599.6,884.3 L593.8,884.3 L587.9,884.3 L582.1,884.3 L576.3,884.3 L570.5,884.3 L564.6,884.3 L558.8,884.3 L553.0,884.3 L547.2,884.3 L541.3,884.3 L535.5,884.4 L529.7,884.6 L523.9,884.7 L518.1,884.9 L512.2,885.0 L506.4,885.0 L500.6,885.1 L494.8,885.1 L488.9,885.2 L483.1,885.2 L477.3,885.3 L471.5,885.6 L465.6,885.8 L459.8,886.2 L454.0,886.5 L448.2,886.9 L442.4,887.3 L436.5,887.7 L430.7,888.2 L424.9,888.7 L419.1,889.2 L413.2,889.7 L407.4,890.2 L401.6,890.8 L395.8,891.4 Z" fill="url(#h2)" stroke="none"/>
<path d="M395.8,883.0 L401.6,883.0 L407.4,883.0 L413.2,883.0 L419.1,883.0 L424.9,883.0 L430.7,883.0 L436.5,883.0 L442.4,883.0 L448.2,883.0 L454.0,883.0 L459.8,883.0 L465.6,883.0 L471.5,883.0 L477.3,883.0 L483.1,883.0 L488.9,883.0 L494.8,883.0 L500.6,883.0 L506.4,883.0 L512.2,883.0 L518.1,883.0 L523.9,883.0 L529.7,883.0 L535.5,883.0 L541.3,883.0 L547.2,883.0 L553.0,883.0 L558.8,883.0 L564.6,883.0 L570.5,883.0 L576.3,883.0 L582.1,883.0 L587.9,883.0 L593.8,883.0 L599.6,883.0 L605.4,883.0 L611.2,883.0 L612.1,883.0 L613.0,883.0 L613.9,883.0 L614.8,883.0 L615.7,883.0 L616.6,883.0 L617.6,883.0 L618.5,883.0 L619.4,883.0 L620.3,883.0 L621.2,883.0 L622.1,883.0 L623.0,883.0 L623.9,883.0 L624.8,883.0 L625.7,883.0 L626.6,883.0 L627.5,883.0 L628.4,883.0 L629.3,883.0 L630.2,883.0 L631.1,883.0 L632.0,883.0 L632.9,883.0 L633.8,883.0 L634.7,883.0 L635.6,883.0 L636.5,883.0 L637.4,883.0 L638.3,883.0 L639.3,883.0 L640.2,883.0 L641.1,883.0 L642.0,883.0 L642.9,883.0 L643.8,883.0 L644.7,883.0 L645.6,883.0 L646.5,883.0 L647.4,883.0 L648.3,883.0 L649.2,883.0 L650.1,883.0 L651.0,883.0 L651.9,883.0 L652.8,883.0 L653.7,883.0 L654.6,883.0 L655.5,883.0 L656.4,883.0 L657.3,883.0 L658.2,883.0 L659.1,883.0 L660.0,883.0 L660.9,883.0 L661.9,883.0 L662.8,883.0 L663.7,883.0 L664.6,883.0" fill="none" stroke="#66c2a5" stroke-width="1.5"/>
<path d="M395.8,873.2 L401.6,873.7 L407.4,874.2 L413.2,874.6 L419.1,875.1 L424.9,875.5 L430.7,876.0 L436.5,876.4 L442.4,876.8 L448.2,877.1 L454.0,877.5 L459.8,878.0 L465.6,878.4 L471.5,878.7 L477.3,878.9 L483.1,878.9 L488.9,878.8 L494.8,878.6 L500.6,878.5 L506.4,878.3 L512.2,878.2 L518.1,878.2 L523.9,878.3 L529.7,878.5 L535.5,878.6 L541.3,878.8 L547.2,878.9 L553.0,879.1 L558.8,879.2 L564.6,879.4 L570.5,879.5 L576.3,879.6 L582.1,879.6 L587.9,879.5 L593.8,879.3 L599.6,879.0 L605.4,878.6 L611.2,878.2 L612.1,878.1 L613.0,878.0 L613.9,877.9 L614.8,877.8 L615.7,877.6 L616.6,877.5 L617.6,877.3 L618.5,877.1 L619.4,876.9 L620.3,876.7 L621.2,876.4 L622.1,876.2 L623.0,875.9 L623.9,875.6 L624.8,875.3 L625.7,875.0 L626.6,874.7 L627.5,874.4 L628.4,874.0 L629.3,873.6 L630.2,873.1 L631.1,872.6 L632.0,871.9 L632.9,871.3 L633.8,870.5 L634.7,869.7 L635.6,868.7 L636.5,867.6 L637.4,866.2 L638.3,864.4 L639.3,862.4 L640.2,860.2 L641.1,857.7 L642.0,855.0 L642.9,852.2 L643.8,849.2 L644.7,845.8 L645.6,841.6 L646.5,836.8 L647.4,831.6 L648.3,826.3 L649.2,821.1 L650.1,816.2 L651.0,811.9 L651.9,807.9 L652.8,804.1 L653.7,800.3 L654.6,796.4 L655.5,792.2 L656.4,787.5 L657.3,782.4 L658.2,777.0 L659.1,770.6 L660.0,761.9 L660.9,753.0 L661.9,753.0 L662.8,753.0 L663.7,753.0 L664.6,753.0" fill="none" stroke="#66c2a5" stroke-width="1.45" stroke-dasharray="5 2.2"/>
<path d="M395.8,892.8 L401.6,892.0 L407.4,891.3 L413.2,890.7 L419.1,890.2 L424.9,889.7 L430.7,889.3 L436.5,888.9 L442.4,888.5 L448.2,888.1 L454.0,887.7 L459.8,887.3 L465.6,886.9 L471.5,886.6 L477.3,886.4 L483.1,886.4 L488.9,886.5 L494.8,886.7 L500.6,886.9 L506.4,887.0 L512.2,887.1 L518.1,887.1 L523.9,887.0 L529.7,886.9 L535.5,886.8 L541.3,886.6 L547.2,886.5 L553.0,886.4 L558.8,886.2 L564.6,886.0 L570.5,885.8 L576.3,885.7 L582.1,885.8 L587.9,886.0 L593.8,886.3 L599.6,886.8 L605.4,887.4 L611.2,888.1 L612.1,888.2 L613.0,888.4 L613.9,888.5 L614.8,888.7 L615.7,888.8 L616.6,889.0 L617.6,889.2 L618.5,889.5 L619.4,889.7 L620.3,889.9 L621.2,890.2 L622.1,890.5 L623.0,890.8 L623.9,891.2 L624.8,891.5 L625.7,891.9 L626.6,892.3 L627.5,892.7 L628.4,893.3 L629.3,894.0 L630.2,894.8 L631.1,895.8 L632.0,897.0 L632.9,898.1 L633.8,899.4 L634.7,900.7 L635.6,902.0 L636.5,903.3 L637.4,904.7 L638.3,906.2 L639.3,907.7 L640.2,909.4 L641.1,911.2 L642.0,913.2 L642.9,915.4 L643.8,917.7 L644.7,920.6 L645.6,924.1 L646.5,928.3 L647.4,932.7 L648.3,937.4 L649.2,942.0 L650.1,946.5 L651.0,950.5 L651.9,954.3 L652.8,958.0 L653.7,961.8 L654.6,965.7 L655.5,970.0 L656.4,974.9 L657.3,980.4 L658.2,986.5 L659.1,994.0 L660.0,1003.9 L660.9,1013.0 L661.9,1013.0 L662.8,1013.0 L663.7,1013.0 L664.6,1013.0" fill="none" stroke="#66c2a5" stroke-width="1.45" stroke-dasharray="5 2.2"/>
<path d="M395.8,880.4 L401.6,880.6 L407.4,880.8 L413.2,881.0 L419.1,881.1 L424.9,881.3 L430.7,881.5 L436.5,881.6 L442.4,881.7 L448.2,881.7 L454.0,881.7 L459.8,881.7 L465.6,881.7 L471.5,881.7 L477.3,881.7 L483.1,881.7 L488.9,881.6 L494.8,881.5 L500.6,881.4 L506.4,881.2 L512.2,881.1 L518.1,881.0 L523.9,880.8 L529.7,880.7 L535.5,880.6 L541.3,880.5 L547.2,880.4 L553.0,880.2 L558.8,880.1 L564.6,879.9 L570.5,879.8 L576.3,879.8 L582.1,879.8 L587.9,879.8 L593.8,879.8 L599.6,879.8 L605.4,879.8 L611.2,879.8 L612.1,879.7 L613.0,879.7 L613.9,879.7 L614.8,879.7 L615.7,879.6 L616.6,879.5 L617.6,879.5 L618.5,879.4 L619.4,879.3 L620.3,879.2 L621.2,879.1 L622.1,879.0 L623.0,878.8 L623.9,878.7 L624.8,878.5 L625.7,878.4 L626.6,878.2 L627.5,878.1 L628.4,877.9 L629.3,877.6 L630.2,877.2 L631.1,876.8 L632.0,876.3 L632.9,875.7 L633.8,875.1 L634.7,874.5 L635.6,873.8 L636.5,873.0 L637.4,871.9 L638.3,870.8 L639.3,869.4 L640.2,868.0 L641.1,866.5 L642.0,864.9 L642.9,863.3 L643.8,861.7 L644.7,860.1 L645.6,858.3 L646.5,856.4 L647.4,854.4 L648.3,852.5 L649.2,850.7 L650.1,849.0 L651.0,847.6 L651.9,846.0 L652.8,844.6 L653.7,843.1 L654.6,841.9 L655.5,840.8 L656.4,840.1 L657.3,839.6 L658.2,839.2 L659.1,838.9 L660.0,838.8 L660.9,839.3 L661.9,841.3 L662.8,844.3 L663.7,848.5 L664.6,858.3" fill="none" stroke="#fc8d62" stroke-width="1.5"/>
<path d="M395.8,874.3 L401.6,874.7 L407.4,875.1 L413.2,875.5 L419.1,875.8 L424.9,876.1 L430.7,876.5 L436.5,876.7 L442.4,877.0 L448.2,877.2 L454.0,877.4 L459.8,877.5 L465.6,877.7 L471.5,877.8 L477.3,877.9 L483.1,877.8 L488.9,877.5 L494.8,877.0 L500.6,876.4 L506.4,875.8 L512.2,875.6 L518.1,875.6 L523.9,875.6 L529.7,875.6 L535.5,875.6 L541.3,875.6 L547.2,875.6 L553.0,875.6 L558.8,875.6 L564.6,875.5 L570.5,875.4 L576.3,875.3 L582.1,875.1 L587.9,874.8 L593.8,874.3 L599.6,873.7 L605.4,873.0 L611.2,872.2 L612.1,872.1 L613.0,872.0 L613.9,871.9 L614.8,871.8 L615.7,871.6 L616.6,871.5 L617.6,871.4 L618.5,871.2 L619.4,871.1 L620.3,870.9 L621.2,870.7 L622.1,870.5 L623.0,870.3 L623.9,870.1 L624.8,869.8 L625.7,869.6 L626.6,869.3 L627.5,868.9 L628.4,868.5 L629.3,867.8 L630.2,867.0 L631.1,866.0 L632.0,864.8 L632.9,863.5 L633.8,862.1 L634.7,860.6 L635.6,859.0 L636.5,857.3 L637.4,855.2 L638.3,852.8 L639.3,850.1 L640.2,847.0 L641.1,843.7 L642.0,840.2 L642.9,836.3 L643.8,832.2 L644.7,827.7 L645.6,822.4 L646.5,816.4 L647.4,809.6 L648.3,802.2 L649.2,794.1 L650.1,785.4 L651.0,775.7 L651.9,764.3 L652.8,753.0 L653.7,753.0 L654.6,753.0 L655.5,753.0 L656.4,753.0 L657.3,753.0 L658.2,753.0 L659.1,753.0 L660.0,753.0 L660.9,753.0 L661.9,753.0 L662.8,753.0 L663.7,753.0 L664.6,753.0" fill="none" stroke="#fc8d62" stroke-width="1.45" stroke-dasharray="5 2.2"/>
<path d="M395.8,888.6 L401.6,888.4 L407.4,888.2 L413.2,888.0 L419.1,887.7 L424.9,887.4 L430.7,887.1 L436.5,886.7 L442.4,886.4 L448.2,886.1 L454.0,885.9 L459.8,885.6 L465.6,885.4 L471.5,885.2 L477.3,885.1 L483.1,885.1 L488.9,885.1 L494.8,885.1 L500.6,885.1 L506.4,885.1 L512.2,885.1 L518.1,885.1 L523.9,885.0 L529.7,884.9 L535.5,884.7 L541.3,884.6 L547.2,884.5 L553.0,884.3 L558.8,884.2 L564.6,884.0 L570.5,883.9 L576.3,883.9 L582.1,883.8 L587.9,883.8 L593.8,883.8 L599.6,883.8 L605.4,883.8 L611.2,883.8 L612.1,883.8 L613.0,883.8 L613.9,883.8 L614.8,883.8 L615.7,883.9 L616.6,883.9 L617.6,883.9 L618.5,883.9 L619.4,883.9 L620.3,883.9 L621.2,883.9 L622.1,883.9 L623.0,883.9 L623.9,883.9 L624.8,883.9 L625.7,883.9 L626.6,883.9 L627.5,883.9 L628.4,884.0 L629.3,884.1 L630.2,884.3 L631.1,884.6 L632.0,884.9 L632.9,885.2 L633.8,885.5 L634.7,885.9 L635.6,886.2 L636.5,886.4 L637.4,886.7 L638.3,887.0 L639.3,887.2 L640.2,887.5 L641.1,887.8 L642.0,888.2 L642.9,888.6 L643.8,889.1 L644.7,889.9 L645.6,891.3 L646.5,893.2 L647.4,895.3 L648.3,897.8 L649.2,900.4 L650.1,903.0 L651.0,905.7 L651.9,908.8 L652.8,912.2 L653.7,915.9 L654.6,919.8 L655.5,923.6 L656.4,927.5 L657.3,931.1 L658.2,934.6 L659.1,938.2 L660.0,942.5 L660.9,947.3 L661.9,952.8 L662.8,959.8 L663.7,969.4 L664.6,986.6" fill="none" stroke="#fc8d62" stroke-width="1.45" stroke-dasharray="5 2.2"/>
<path d="M395.8,883.0 L401.6,882.7 L407.4,882.5 L413.2,882.4 L419.1,882.4 L424.9,882.4 L430.7,882.4 L436.5,882.4 L442.4,882.4 L448.2,882.3 L454.0,882.3 L459.8,882.2 L465.6,882.1 L471.5,881.9 L477.3,881.8 L483.1,881.6 L488.9,881.5 L494.8,881.3 L500.6,881.2 L506.4,881.1 L512.2,881.1 L518.1,881.1 L523.9,881.1 L529.7,881.1 L535.5,881.1 L541.3,881.1 L547.2,881.1 L553.0,881.1 L558.8,881.1 L564.6,881.1 L570.5,881.1 L576.3,881.1 L582.1,881.0 L587.9,881.0 L593.8,880.9 L599.6,880.8 L605.4,880.6 L611.2,880.4 L612.1,880.4 L613.0,880.3 L613.9,880.3 L614.8,880.2 L615.7,880.1 L616.6,880.0 L617.6,879.9 L618.5,879.8 L619.4,879.7 L620.3,879.5 L621.2,879.4 L622.1,879.2 L623.0,879.1 L623.9,878.9 L624.8,878.7 L625.7,878.5 L626.6,878.3 L627.5,878.1 L628.4,877.8 L629.3,877.4 L630.2,877.0 L631.1,876.4 L632.0,875.8 L632.9,875.1 L633.8,874.4 L634.7,873.5 L635.6,872.7 L636.5,871.7 L637.4,870.4 L638.3,868.9 L639.3,867.1 L640.2,865.3 L641.1,863.3 L642.0,861.3 L642.9,859.3 L643.8,857.2 L644.7,855.1 L645.6,852.9 L646.5,850.6 L647.4,848.2 L648.3,845.7 L649.2,843.2 L650.1,840.6 L651.0,838.1 L651.9,835.5 L652.8,832.9 L653.7,830.3 L654.6,827.5 L655.5,824.7 L656.4,821.7 L657.3,818.5 L658.2,815.3 L659.1,811.7 L660.0,807.7 L660.9,803.4 L661.9,798.9 L662.8,792.6 L663.7,782.0 L664.6,753.0" fill="none" stroke="#8da0cb" stroke-width="1.5"/>
<path d="M395.8,874.8 L401.6,875.0 L407.4,875.2 L413.2,875.4 L419.1,875.7 L424.9,876.1 L430.7,876.6 L436.5,877.0 L442.4,877.4 L448.2,877.6 L454.0,877.7 L459.8,877.7 L465.6,877.8 L471.5,877.8 L477.3,877.9 L483.1,877.8 L488.9,877.5 L494.8,877.0 L500.6,876.4 L506.4,875.9 L512.2,875.6 L518.1,875.6 L523.9,875.7 L529.7,875.8 L535.5,876.0 L541.3,876.2 L547.2,876.3 L553.0,876.4 L558.8,876.6 L564.6,876.8 L570.5,876.9 L576.3,876.9 L582.1,876.9 L587.9,876.6 L593.8,876.2 L599.6,875.6 L605.4,875.0 L611.2,874.3 L612.1,874.2 L613.0,874.0 L613.9,873.9 L614.8,873.8 L615.7,873.7 L616.6,873.6 L617.6,873.5 L618.5,873.4 L619.4,873.2 L620.3,873.1 L621.2,872.9 L622.1,872.8 L623.0,872.6 L623.9,872.4 L624.8,872.1 L625.7,871.9 L626.6,871.6 L627.5,871.3 L628.4,870.9 L629.3,870.3 L630.2,869.4 L631.1,868.4 L632.0,867.2 L632.9,865.9 L633.8,864.4 L634.7,862.8 L635.6,861.1 L636.5,859.1 L637.4,856.5 L638.3,853.4 L639.3,849.9 L640.2,846.0 L641.1,841.8 L642.0,837.4 L642.9,832.8 L643.8,828.2 L644.7,823.4 L645.6,818.4 L646.5,813.0 L647.4,807.1 L648.3,800.6 L649.2,793.5 L650.1,785.6 L651.0,776.5 L651.9,765.3 L652.8,753.0 L653.7,753.0 L654.6,753.0 L655.5,753.0 L656.4,753.0 L657.3,753.0 L658.2,753.0 L659.1,753.0 L660.0,753.0 L660.9,753.0 L661.9,753.0 L662.8,753.0 L663.7,753.0 L664.6,753.0" fill="none" stroke="#8da0cb" stroke-width="1.45" stroke-dasharray="5 2.2"/>
<path d="M395.8,891.9 L401.6,891.2 L407.4,890.6 L413.2,890.1 L419.1,889.5 L424.9,889.0 L430.7,888.5 L436.5,888.0 L442.4,887.5 L448.2,887.1 L454.0,886.7 L459.8,886.4 L465.6,886.0 L471.5,885.7 L477.3,885.5 L483.1,885.4 L488.9,885.4 L494.8,885.3 L500.6,885.3 L506.4,885.2 L512.2,885.2 L518.1,885.1 L523.9,884.9 L529.7,884.7 L535.5,884.6 L541.3,884.5 L547.2,884.5 L553.0,884.5 L558.8,884.5 L564.6,884.5 L570.5,884.5 L576.3,884.5 L582.1,884.5 L587.9,884.5 L593.8,884.5 L599.6,884.5 L605.4,884.5 L611.2,884.5 L612.1,884.5 L613.0,884.5 L613.9,884.5 L614.8,884.5 L615.7,884.6 L616.6,884.6 L617.6,884.6 L618.5,884.7 L619.4,884.7 L620.3,884.7 L621.2,884.8 L622.1,884.8 L623.0,884.8 L623.9,884.9 L624.8,884.9 L625.7,884.9 L626.6,884.9 L627.5,885.0 L628.4,884.9 L629.3,884.8 L630.2,884.7 L631.1,884.5 L632.0,884.2 L632.9,883.9 L633.8,883.6 L634.7,883.2 L635.6,882.9 L636.5,882.4 L637.4,881.7 L638.3,880.9 L639.3,879.9 L640.2,878.8 L641.1,877.6 L642.0,876.3 L642.9,874.9 L643.8,873.5 L644.7,871.9 L645.6,870.0 L646.5,867.9 L647.4,865.6 L648.3,863.2 L649.2,860.8 L650.1,858.6 L651.0,856.3 L651.9,853.8 L652.8,851.0 L653.7,848.3 L654.6,846.0 L655.5,844.2 L656.4,843.2 L657.3,843.3 L658.2,843.8 L659.1,844.6 L660.0,845.7 L660.9,846.7 L661.9,848.2 L662.8,850.6 L663.7,858.7 L664.6,930.5" fill="none" stroke="#8da0cb" stroke-width="1.45" stroke-dasharray="5 2.2"/>
</g>
<path d="M395.7,785.5 L395.7,980.5 L677.9,980.5" fill="none" stroke="#000" stroke-width="0.95" stroke-linecap="square"/>
<line x1="392.4" y1="980.5" x2="395.7" y2="980.5" stroke="#000" stroke-width="0.85"/>
<line x1="392.4" y1="948.0" x2="395.7" y2="948.0" stroke="#000" stroke-width="0.85"/>
<line x1="392.4" y1="915.5" x2="395.7" y2="915.5" stroke="#000" stroke-width="0.85"/>
<line x1="392.4" y1="883.0" x2="395.7" y2="883.0" stroke="#000" stroke-width="0.85"/>
<line x1="392.4" y1="850.5" x2="395.7" y2="850.5" stroke="#000" stroke-width="0.85"/>
<line x1="392.4" y1="818.0" x2="395.7" y2="818.0" stroke="#000" stroke-width="0.85"/>
<line x1="392.4" y1="785.5" x2="395.7" y2="785.5" stroke="#000" stroke-width="0.85"/>
<line x1="395.7" y1="980.5" x2="395.7" y2="982.4" stroke="#000" stroke-width="0.65"/>
<line x1="400.9" y1="980.5" x2="400.9" y2="982.4" stroke="#000" stroke-width="0.65"/>
<line x1="405.2" y1="980.5" x2="405.2" y2="982.4" stroke="#000" stroke-width="0.65"/>
<line x1="409.0" y1="980.5" x2="409.0" y2="982.4" stroke="#000" stroke-width="0.65"/>
<line x1="412.4" y1="980.5" x2="412.4" y2="982.4" stroke="#000" stroke-width="0.65"/>
<line x1="415.4" y1="980.5" x2="415.4" y2="983.8" stroke="#000" stroke-width="0.85"/>
<line x1="435.0" y1="980.5" x2="435.0" y2="982.4" stroke="#000" stroke-width="0.65"/>
<line x1="446.5" y1="980.5" x2="446.5" y2="982.4" stroke="#000" stroke-width="0.65"/>
<line x1="454.7" y1="980.5" x2="454.7" y2="982.4" stroke="#000" stroke-width="0.65"/>
<line x1="461.0" y1="980.5" x2="461.0" y2="982.4" stroke="#000" stroke-width="0.65"/>
<line x1="466.2" y1="980.5" x2="466.2" y2="982.4" stroke="#000" stroke-width="0.65"/>
<line x1="470.5" y1="980.5" x2="470.5" y2="982.4" stroke="#000" stroke-width="0.65"/>
<line x1="474.3" y1="980.5" x2="474.3" y2="982.4" stroke="#000" stroke-width="0.65"/>
<line x1="477.7" y1="980.5" x2="477.7" y2="982.4" stroke="#000" stroke-width="0.65"/>
<line x1="480.6" y1="980.5" x2="480.6" y2="983.8" stroke="#000" stroke-width="0.85"/>
<line x1="500.3" y1="980.5" x2="500.3" y2="982.4" stroke="#000" stroke-width="0.65"/>
<line x1="511.8" y1="980.5" x2="511.8" y2="982.4" stroke="#000" stroke-width="0.65"/>
<line x1="520.0" y1="980.5" x2="520.0" y2="982.4" stroke="#000" stroke-width="0.65"/>
<line x1="526.3" y1="980.5" x2="526.3" y2="982.4" stroke="#000" stroke-width="0.65"/>
<line x1="531.4" y1="980.5" x2="531.4" y2="982.4" stroke="#000" stroke-width="0.65"/>
<line x1="535.8" y1="980.5" x2="535.8" y2="982.4" stroke="#000" stroke-width="0.65"/>
<line x1="539.6" y1="980.5" x2="539.6" y2="982.4" stroke="#000" stroke-width="0.65"/>
<line x1="542.9" y1="980.5" x2="542.9" y2="982.4" stroke="#000" stroke-width="0.65"/>
<line x1="545.9" y1="980.5" x2="545.9" y2="983.8" stroke="#000" stroke-width="0.85"/>
<line x1="565.6" y1="980.5" x2="565.6" y2="982.4" stroke="#000" stroke-width="0.65"/>
<line x1="577.1" y1="980.5" x2="577.1" y2="982.4" stroke="#000" stroke-width="0.65"/>
<line x1="585.2" y1="980.5" x2="585.2" y2="982.4" stroke="#000" stroke-width="0.65"/>
<line x1="591.6" y1="980.5" x2="591.6" y2="982.4" stroke="#000" stroke-width="0.65"/>
<line x1="596.7" y1="980.5" x2="596.7" y2="982.4" stroke="#000" stroke-width="0.65"/>
<line x1="601.1" y1="980.5" x2="601.1" y2="982.4" stroke="#000" stroke-width="0.65"/>
<line x1="604.9" y1="980.5" x2="604.9" y2="982.4" stroke="#000" stroke-width="0.65"/>
<line x1="608.2" y1="980.5" x2="608.2" y2="982.4" stroke="#000" stroke-width="0.65"/>
<line x1="611.2" y1="980.5" x2="611.2" y2="983.8" stroke="#000" stroke-width="0.85"/>
<line x1="630.9" y1="980.5" x2="630.9" y2="982.4" stroke="#000" stroke-width="0.65"/>
<line x1="642.4" y1="980.5" x2="642.4" y2="982.4" stroke="#000" stroke-width="0.65"/>
<line x1="650.5" y1="980.5" x2="650.5" y2="982.4" stroke="#000" stroke-width="0.65"/>
<line x1="656.9" y1="980.5" x2="656.9" y2="982.4" stroke="#000" stroke-width="0.65"/>
<line x1="662.0" y1="980.5" x2="662.0" y2="982.4" stroke="#000" stroke-width="0.65"/>
<line x1="666.4" y1="980.5" x2="666.4" y2="982.4" stroke="#000" stroke-width="0.65"/>
<line x1="670.2" y1="980.5" x2="670.2" y2="982.4" stroke="#000" stroke-width="0.65"/>
<line x1="673.5" y1="980.5" x2="673.5" y2="982.4" stroke="#000" stroke-width="0.65"/>
<line x1="676.5" y1="980.5" x2="676.5" y2="983.8" stroke="#000" stroke-width="0.85"/>
<rect x="400.6" y="925.5" width="271.7" height="49.7" rx="2.2" fill="#fff" fill-opacity="0.8" stroke="#ccc" stroke-opacity="0.8" stroke-width="0.9"/>
<rect x="405.4" y="930.8" width="20.9" height="7.4" fill="#fff" stroke="none"/>
<rect x="407.5" y="931.3" width="16.3" height="6.4" fill="#66c2a5" fill-opacity="0.5" stroke="none"/>
<rect x="405.4" y="930.8" width="20.9" height="7.4" fill="none" stroke="#66c2a5" stroke-width="1.25" stroke-dasharray="2.9 1.8"/>
<line x1="410.3" y1="937.9" x2="416.2" y2="931.8" stroke="#757575" stroke-width="1.1"/>
<rect x="405.4" y="946.3" width="20.9" height="7.4" fill="#fff" stroke="none"/>
<rect x="407.5" y="946.8" width="16.3" height="6.4" fill="#fc8d62" fill-opacity="0.5" stroke="none"/>
<rect x="405.4" y="946.3" width="20.9" height="7.4" fill="none" stroke="#fc8d62" stroke-width="1.25" stroke-dasharray="2.9 1.8"/>
<line x1="420.6" y1="947.1" x2="424.6" y2="951.3" stroke="#757575" stroke-width="1.1"/>
<rect x="405.4" y="961.8" width="20.9" height="7.4" fill="#fff" stroke="none"/>
<rect x="407.5" y="962.3" width="16.3" height="6.4" fill="#8da0cb" fill-opacity="0.5" stroke="none"/>
<rect x="405.4" y="961.8" width="20.9" height="7.4" fill="none" stroke="#8da0cb" stroke-width="1.25" stroke-dasharray="2.9 1.8"/>
<line x1="407.4" y1="964.3" x2="424.29999999999995" y2="964.3" stroke="#757575" stroke-width="1.1"/>
<g style="filter:grayscale(1)"><text x="37.0" y="215.8" font-size="10.55" text-anchor="end">0.85</text>
<text x="37.0" y="183.3" font-size="10.55" text-anchor="end">0.90</text>
<text x="37.0" y="150.8" font-size="10.55" text-anchor="end">0.95</text>
<text x="37.0" y="118.3" font-size="10.55" text-anchor="end">1.00</text>
<text x="37.0" y="85.8" font-size="10.55" text-anchor="end">1.05</text>
<text x="37.0" y="53.3" font-size="10.55" text-anchor="end">1.10</text>
<text x="37.0" y="20.8" font-size="10.55" text-anchor="end">1.15</text>
<text x="50.9" y="225.8" font-size="10.55">10<tspan dy="-3.8" font-size="7.70">−4</tspan></text>
<text x="116.1" y="225.8" font-size="10.55">10<tspan dy="-3.8" font-size="7.70">−3</tspan></text>
<text x="181.4" y="225.8" font-size="10.55">10<tspan dy="-3.8" font-size="7.70">−2</tspan></text>
<text x="246.7" y="225.8" font-size="10.55">10<tspan dy="-3.8" font-size="7.70">−1</tspan></text>
<text x="315.0" y="225.8" font-size="10.55">10<tspan dy="-3.8" font-size="7.70">0</tspan></text>
<text x="184.8" y="239.1" font-size="10.55" text-anchor="middle">x</text>
<text transform="translate(8.1,113.4) rotate(-90)" font-size="10.55" text-anchor="middle">Ratio to NNPDF4.0</text>
<text x="184.8" y="10.1" font-size="12.7" text-anchor="middle">u at 100 GeV</text>
<text x="84.3" y="33.6" font-size="10.55">NNPDF4.0 (68 c.l.+1σ)</text>
<text x="84.3" y="49.1" font-size="10.55">NNPDF4.0 (no ATLAS/CMS W/Z) (68 c.l.+1σ)</text>
<text x="84.3" y="64.6" font-size="10.55">NNPDF4.0 (no LHCb) (68 c.l.+1σ)</text>
<text x="389.1" y="215.8" font-size="10.55" text-anchor="end">0.85</text>
<text x="389.1" y="183.3" font-size="10.55" text-anchor="end">0.90</text>
<text x="389.1" y="150.8" font-size="10.55" text-anchor="end">0.95</text>
<text x="389.1" y="118.3" font-size="10.55" text-anchor="end">1.00</text>
<text x="389.1" y="85.8" font-size="10.55" text-anchor="end">1.05</text>
<text x="389.1" y="53.3" font-size="10.55" text-anchor="end">1.10</text>
<text x="389.1" y="20.8" font-size="10.55" text-anchor="end">1.15</text>
<text x="403.0" y="225.8" font-size="10.55">10<tspan dy="-3.8" font-size="7.70">−4</tspan></text>
<text x="468.2" y="225.8" font-size="10.55">10<tspan dy="-3.8" font-size="7.70">−3</tspan></text>
<text x="533.5" y="225.8" font-size="10.55">10<tspan dy="-3.8" font-size="7.70">−2</tspan></text>
<text x="598.8" y="225.8" font-size="10.55">10<tspan dy="-3.8" font-size="7.70">−1</tspan></text>
<text x="667.1" y="225.8" font-size="10.55">10<tspan dy="-3.8" font-size="7.70">0</tspan></text>
<text x="536.8" y="239.1" font-size="10.55" text-anchor="middle">x</text>
<text transform="translate(360.2,113.4) rotate(-90)" font-size="10.55" text-anchor="middle">Ratio to NNPDF4.0</text>
<text x="536.8" y="10.1" font-size="12.7" text-anchor="middle">ū at 100 GeV</text>
<text x="436.4" y="33.6" font-size="10.55">NNPDF4.0 (68 c.l.+1σ)</text>
<text x="436.4" y="49.1" font-size="10.55">NNPDF4.0 (no ATLAS/CMS W/Z) (68 c.l.+1σ)</text>
<text x="436.4" y="64.6" font-size="10.55">NNPDF4.0 (no LHCb) (68 c.l.+1σ)</text>
<text x="37.0" y="472.9" font-size="10.55" text-anchor="end">0.85</text>
<text x="37.0" y="440.4" font-size="10.55" text-anchor="end">0.90</text>
<text x="37.0" y="407.9" font-size="10.55" text-anchor="end">0.95</text>
<text x="37.0" y="375.4" font-size="10.55" text-anchor="end">1.00</text>
<text x="37.0" y="342.9" font-size="10.55" text-anchor="end">1.05</text>
<text x="37.0" y="310.4" font-size="10.55" text-anchor="end">1.10</text>
<text x="37.0" y="277.9" font-size="10.55" text-anchor="end">1.15</text>
<text x="50.9" y="482.9" font-size="10.55">10<tspan dy="-3.8" font-size="7.70">−4</tspan></text>
<text x="116.1" y="482.9" font-size="10.55">10<tspan dy="-3.8" font-size="7.70">−3</tspan></text>
<text x="181.4" y="482.9" font-size="10.55">10<tspan dy="-3.8" font-size="7.70">−2</tspan></text>
<text x="246.7" y="482.9" font-size="10.55">10<tspan dy="-3.8" font-size="7.70">−1</tspan></text>
<text x="315.0" y="482.9" font-size="10.55">10<tspan dy="-3.8" font-size="7.70">0</tspan></text>
<text x="184.8" y="496.2" font-size="10.55" text-anchor="middle">x</text>
<text transform="translate(8.1,370.5) rotate(-90)" font-size="10.55" text-anchor="middle">Ratio to NNPDF4.0</text>
<text x="184.8" y="267.2" font-size="12.7" text-anchor="middle">d at 100 GeV</text>
<text x="84.3" y="290.7" font-size="10.55">NNPDF4.0 (68 c.l.+1σ)</text>
<text x="84.3" y="306.2" font-size="10.55">NNPDF4.0 (no ATLAS/CMS W/Z) (68 c.l.+1σ)</text>
<text x="84.3" y="321.7" font-size="10.55">NNPDF4.0 (no LHCb) (68 c.l.+1σ)</text>
<text x="389.1" y="472.9" font-size="10.55" text-anchor="end">0.85</text>
<text x="389.1" y="440.4" font-size="10.55" text-anchor="end">0.90</text>
<text x="389.1" y="407.9" font-size="10.55" text-anchor="end">0.95</text>
<text x="389.1" y="375.4" font-size="10.55" text-anchor="end">1.00</text>
<text x="389.1" y="342.9" font-size="10.55" text-anchor="end">1.05</text>
<text x="389.1" y="310.4" font-size="10.55" text-anchor="end">1.10</text>
<text x="389.1" y="277.9" font-size="10.55" text-anchor="end">1.15</text>
<text x="403.0" y="482.9" font-size="10.55">10<tspan dy="-3.8" font-size="7.70">−4</tspan></text>
<text x="468.2" y="482.9" font-size="10.55">10<tspan dy="-3.8" font-size="7.70">−3</tspan></text>
<text x="533.5" y="482.9" font-size="10.55">10<tspan dy="-3.8" font-size="7.70">−2</tspan></text>
<text x="598.8" y="482.9" font-size="10.55">10<tspan dy="-3.8" font-size="7.70">−1</tspan></text>
<text x="667.1" y="482.9" font-size="10.55">10<tspan dy="-3.8" font-size="7.70">0</tspan></text>
<text x="536.8" y="496.2" font-size="10.55" text-anchor="middle">x</text>
<text transform="translate(360.2,370.5) rotate(-90)" font-size="10.55" text-anchor="middle">Ratio to NNPDF4.0</text>
<text x="536.8" y="267.2" font-size="12.7" text-anchor="middle">d̄ at 100 GeV</text>
<text x="436.4" y="290.7" font-size="10.55">NNPDF4.0 (68 c.l.+1σ)</text>
<text x="436.4" y="306.2" font-size="10.55">NNPDF4.0 (no ATLAS/CMS W/Z) (68 c.l.+1σ)</text>
<text x="436.4" y="321.7" font-size="10.55">NNPDF4.0 (no LHCb) (68 c.l.+1σ)</text>
<text x="37.0" y="728.9" font-size="10.55" text-anchor="end">0.85</text>
<text x="37.0" y="696.4" font-size="10.55" text-anchor="end">0.90</text>
<text x="37.0" y="663.8" font-size="10.55" text-anchor="end">0.95</text>
<text x="37.0" y="631.3" font-size="10.55" text-anchor="end">1.00</text>
<text x="37.0" y="598.8" font-size="10.55" text-anchor="end">1.05</text>
<text x="37.0" y="566.2" font-size="10.55" text-anchor="end">1.10</text>
<text x="37.0" y="533.7" font-size="10.55" text-anchor="end">1.15</text>
<text x="50.9" y="738.9" font-size="10.55">10<tspan dy="-3.8" font-size="7.70">−4</tspan></text>
<text x="116.1" y="738.9" font-size="10.55">10<tspan dy="-3.8" font-size="7.70">−3</tspan></text>
<text x="181.4" y="738.9" font-size="10.55">10<tspan dy="-3.8" font-size="7.70">−2</tspan></text>
<text x="246.7" y="738.9" font-size="10.55">10<tspan dy="-3.8" font-size="7.70">−1</tspan></text>
<text x="315.0" y="738.9" font-size="10.55">10<tspan dy="-3.8" font-size="7.70">0</tspan></text>
<text x="184.8" y="752.2" font-size="10.55" text-anchor="middle">x</text>
<text transform="translate(8.1,626.4) rotate(-90)" font-size="10.55" text-anchor="middle">Ratio to NNPDF4.0</text>
<text x="184.8" y="523.0" font-size="12.7" text-anchor="middle">s at 100 GeV</text>
<text x="84.3" y="546.5" font-size="10.55">NNPDF4.0 (68 c.l.+1σ)</text>
<text x="84.3" y="562.0" font-size="10.55">NNPDF4.0 (no ATLAS/CMS W/Z) (68 c.l.+1σ)</text>
<text x="84.3" y="577.5" font-size="10.55">NNPDF4.0 (no LHCb) (68 c.l.+1σ)</text>
<text x="389.1" y="728.9" font-size="10.55" text-anchor="end">0.85</text>
<text x="389.1" y="696.4" font-size="10.55" text-anchor="end">0.90</text>
<text x="389.1" y="663.8" font-size="10.55" text-anchor="end">0.95</text>
<text x="389.1" y="631.3" font-size="10.55" text-anchor="end">1.00</text>
<text x="389.1" y="598.8" font-size="10.55" text-anchor="end">1.05</text>
<text x="389.1" y="566.2" font-size="10.55" text-anchor="end">1.10</text>
<text x="389.1" y="533.7" font-size="10.55" text-anchor="end">1.15</text>
<text x="403.0" y="738.9" font-size="10.55">10<tspan dy="-3.8" font-size="7.70">−4</tspan></text>
<text x="468.2" y="738.9" font-size="10.55">10<tspan dy="-3.8" font-size="7.70">−3</tspan></text>
<text x="533.5" y="738.9" font-size="10.55">10<tspan dy="-3.8" font-size="7.70">−2</tspan></text>
<text x="598.8" y="738.9" font-size="10.55">10<tspan dy="-3.8" font-size="7.70">−1</tspan></text>
<text x="667.1" y="738.9" font-size="10.55">10<tspan dy="-3.8" font-size="7.70">0</tspan></text>
<text x="536.8" y="752.2" font-size="10.55" text-anchor="middle">x</text>
<text transform="translate(360.2,626.4) rotate(-90)" font-size="10.55" text-anchor="middle">Ratio to NNPDF4.0</text>
<text x="536.8" y="523.0" font-size="12.7" text-anchor="middle">s̄ at 100 GeV</text>
<text x="436.4" y="546.5" font-size="10.55">NNPDF4.0 (68 c.l.+1σ)</text>
<text x="436.4" y="562.0" font-size="10.55">NNPDF4.0 (no ATLAS/CMS W/Z) (68 c.l.+1σ)</text>
<text x="436.4" y="577.5" font-size="10.55">NNPDF4.0 (no LHCb) (68 c.l.+1σ)</text>
<text x="37.0" y="984.9" font-size="10.55" text-anchor="end">0.85</text>
<text x="37.0" y="952.4" font-size="10.55" text-anchor="end">0.90</text>
<text x="37.0" y="919.9" font-size="10.55" text-anchor="end">0.95</text>
<text x="37.0" y="887.4" font-size="10.55" text-anchor="end">1.00</text>
<text x="37.0" y="854.9" font-size="10.55" text-anchor="end">1.05</text>
<text x="37.0" y="822.4" font-size="10.55" text-anchor="end">1.10</text>
<text x="37.0" y="789.9" font-size="10.55" text-anchor="end">1.15</text>
<text x="50.9" y="994.9" font-size="10.55">10<tspan dy="-3.8" font-size="7.70">−4</tspan></text>
<text x="116.1" y="994.9" font-size="10.55">10<tspan dy="-3.8" font-size="7.70">−3</tspan></text>
<text x="181.4" y="994.9" font-size="10.55">10<tspan dy="-3.8" font-size="7.70">−2</tspan></text>
<text x="246.7" y="994.9" font-size="10.55">10<tspan dy="-3.8" font-size="7.70">−1</tspan></text>
<text x="315.0" y="994.9" font-size="10.55">10<tspan dy="-3.8" font-size="7.70">0</tspan></text>
<text x="184.8" y="1008.2" font-size="10.55" text-anchor="middle">x</text>
<text transform="translate(8.1,882.5) rotate(-90)" font-size="10.55" text-anchor="middle">Ratio to NNPDF4.0</text>
<text x="184.8" y="779.2" font-size="12.7" text-anchor="middle">c at 100 GeV</text>
<text x="82.7" y="938.4" font-size="10.55">NNPDF4.0 (68 c.l.+1σ)</text>
<text x="82.7" y="953.9" font-size="10.55">NNPDF4.0 (no ATLAS/CMS W/Z) (68 c.l.+1σ)</text>
<text x="82.7" y="969.4" font-size="10.55">NNPDF4.0 (no LHCb) (68 c.l.+1σ)</text>
<text x="389.1" y="984.9" font-size="10.55" text-anchor="end">0.85</text>
<text x="389.1" y="952.4" font-size="10.55" text-anchor="end">0.90</text>
<text x="389.1" y="919.9" font-size="10.55" text-anchor="end">0.95</text>
<text x="389.1" y="887.4" font-size="10.55" text-anchor="end">1.00</text>
<text x="389.1" y="854.9" font-size="10.55" text-anchor="end">1.05</text>
<text x="389.1" y="822.4" font-size="10.55" text-anchor="end">1.10</text>
<text x="389.1" y="789.9" font-size="10.55" text-anchor="end">1.15</text>
<text x="403.0" y="994.9" font-size="10.55">10<tspan dy="-3.8" font-size="7.70">−4</tspan></text>
<text x="468.2" y="994.9" font-size="10.55">10<tspan dy="-3.8" font-size="7.70">−3</tspan></text>
<text x="533.5" y="994.9" font-size="10.55">10<tspan dy="-3.8" font-size="7.70">−2</tspan></text>
<text x="598.8" y="994.9" font-size="10.55">10<tspan dy="-3.8" font-size="7.70">−1</tspan></text>
<text x="667.1" y="994.9" font-size="10.55">10<tspan dy="-3.8" font-size="7.70">0</tspan></text>
<text x="536.8" y="1008.2" font-size="10.55" text-anchor="middle">x</text>
<text transform="translate(360.2,882.5) rotate(-90)" font-size="10.55" text-anchor="middle">Ratio to NNPDF4.0</text>
<text x="536.8" y="779.2" font-size="12.7" text-anchor="middle">g at 100 GeV</text>
<text x="434.8" y="938.4" font-size="10.55">NNPDF4.0 (68 c.l.+1σ)</text>
<text x="434.8" y="953.9" font-size="10.55">NNPDF4.0 (no ATLAS/CMS W/Z) (68 c.l.+1σ)</text>
<text x="434.8" y="969.4" font-size="10.55">NNPDF4.0 (no LHCb) (68 c.l.+1σ)</text></g>
</svg>
</div></body></html>
